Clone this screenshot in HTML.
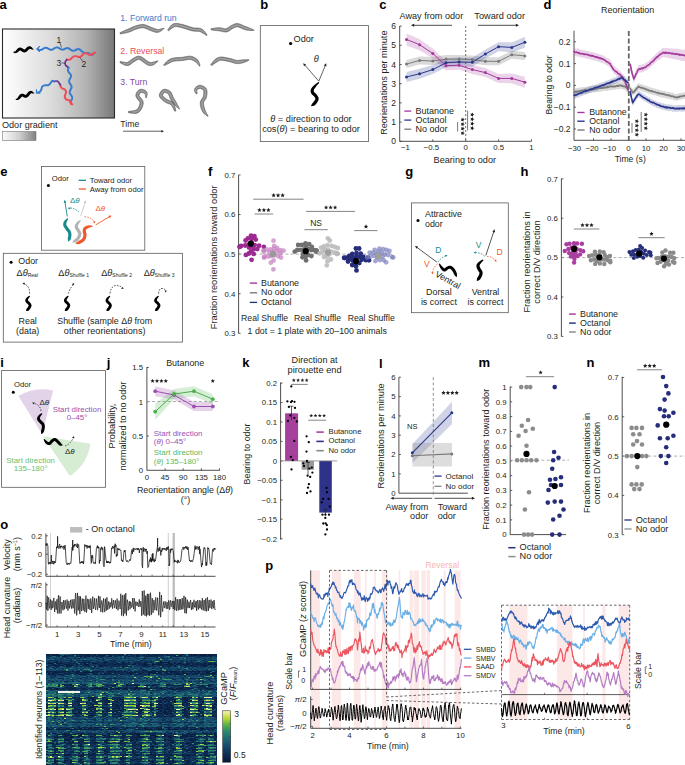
<!DOCTYPE html>
<html><head><meta charset="utf-8"><style>
html,body{margin:0;padding:0;background:#fff;width:685px;height:765px;overflow:hidden}
svg{display:block;font-family:"Liberation Sans", sans-serif;position:absolute;left:0;top:0}
#hm{position:absolute;left:46.1px;top:654px;width:170.8px;height:111px;overflow:hidden}#hm i{position:absolute;left:0;width:172px;height:1px;display:block}
</style></head><body>
<svg width="685" height="765" viewBox="0 0 685 765" fill="#231f20">
<defs><linearGradient id="gA" x1="0" x2="1" y1="0" y2="0"><stop offset="0" stop-color="#ffffff"/><stop offset="0.45" stop-color="#dadada"/><stop offset="0.75" stop-color="#b2b2b2"/><stop offset="1" stop-color="#787878"/></linearGradient><linearGradient id="gA2" x1="0" x2="1" y1="0" y2="0"><stop offset="0" stop-color="#fafafa"/><stop offset="0.5" stop-color="#d0d0d0"/><stop offset="1" stop-color="#808080"/></linearGradient><linearGradient id="gCB" x1="0" x2="0" y1="1" y2="0"><stop offset="0.0" stop-color="#081a3a"/><stop offset="0.15" stop-color="#0e2c54"/><stop offset="0.3" stop-color="#16486a"/><stop offset="0.45" stop-color="#1e6676"/><stop offset="0.6" stop-color="#2d8a6e"/><stop offset="0.72" stop-color="#56b04c"/><stop offset="0.85" stop-color="#b5d836"/><stop offset="1.0" stop-color="#f6f2b2"/></linearGradient></defs>
<text x="-0.5" y="9.2" font-size="13" fill="#000" font-weight="bold">a</text>
<rect x="2.5" y="29.0" width="112.0" height="89.0" fill="url(#gA)" stroke="#2a2a2a" stroke-width="1.1"/>
<text x="2.0" y="128.0" font-size="9.09">Odor gradient</text>
<rect x="2.5" y="131.5" width="33.5" height="9.0" fill="url(#gA2)" stroke="#777" stroke-width="0.6"/>
<path d="M37.5,49.0 C37.7,49.1 38.1,49.4 38.5,49.6 C38.8,49.7 39.1,49.9 39.4,49.9 C39.7,50.0 40.1,50.1 40.4,50.0 C40.7,50.0 41.0,49.9 41.3,49.8 C41.7,49.7 42.0,49.5 42.3,49.4 C42.6,49.2 42.9,48.9 43.2,48.7 C43.5,48.6 43.9,48.3 44.2,48.2 C44.5,48.0 44.8,47.9 45.1,47.8 C45.4,47.8 45.8,47.7 46.1,47.8 C46.4,47.8 46.7,47.9 47.0,48.0 C47.3,48.1 47.7,48.3 48.0,48.5 C48.3,48.7 48.6,48.9 49.0,49.0 C49.3,49.2 49.6,49.4 49.9,49.5 C50.3,49.6 50.6,49.7 50.9,49.8 C51.2,49.8 51.5,49.8 51.9,49.7 C52.2,49.6 52.5,49.5 52.8,49.3 C53.1,49.2 53.4,48.9 53.7,48.7 C54.0,48.5 54.3,48.3 54.7,48.1 C55.0,47.9 55.3,47.7 55.6,47.6 C55.9,47.5 56.2,47.4 56.5,47.4 C56.9,47.3 57.2,47.4 57.5,47.4 C57.8,47.5 58.1,47.6 58.5,47.8 C58.8,47.9 59.1,48.1 59.4,48.3 C59.8,48.5 60.0,48.7 60.3,48.8 C60.6,49.0 60.9,49.2 61.2,49.4 C61.5,49.5 61.9,49.6 62.2,49.6 C62.5,49.7 62.8,49.6 63.2,49.6 C63.5,49.5 63.8,49.4 64.2,49.2 C64.5,49.1 64.9,48.9 65.2,48.7 C65.6,48.6 65.9,48.4 66.2,48.3 C66.6,48.2 66.9,48.1 67.2,48.1 C67.6,48.1 67.9,48.1 68.2,48.2 C68.5,48.3 68.8,48.4 69.1,48.6 C69.4,48.8 69.7,49.0 70.0,49.2 C70.3,49.5 70.7,49.7 71.0,49.9 C71.3,50.1 71.6,50.3 71.9,50.5 C72.3,50.6 72.6,50.7 72.9,50.8 C73.3,50.8 73.6,50.8 73.9,50.7 C74.3,50.7 74.6,50.5 75.0,50.4 C75.3,50.2 75.7,50.0 76.0,49.8 C76.3,49.6 76.7,49.4 77.0,49.3 C77.4,49.2 77.9,49.0 78.2,49.0 C78.6,49.0 78.9,49.1 79.3,49.2 C79.6,49.3 79.9,49.5 80.2,49.8 C80.5,50.0 80.8,50.3 81.0,50.6 C81.3,50.8 81.6,51.2 81.9,51.4 C82.2,51.7 82.5,52.0 82.8,52.1 C83.0,52.3 83.2,52.3 83.4,52.4 C83.7,52.5 84.0,52.7 84.3,52.8 C84.6,52.9 85.0,52.9 85.3,52.9 C85.7,52.9 86.1,52.9 86.4,52.9 C86.8,52.9 87.2,52.9 87.5,52.9 C87.9,52.9 88.2,53.0 88.5,53.1 C88.8,53.2 89.2,53.3 89.4,53.5 C89.5,53.6 89.3,53.9 89.5,54.0 C89.7,54.2 90.3,54.3 90.7,54.4 C91.1,54.6 91.5,55.0 91.9,55.0 C92.3,55.0 92.8,54.6 93.0,54.5" fill="none" stroke="#3a7ccc" stroke-width="2.0" stroke-linecap="round" stroke-linejoin="round"/>
<path d="M66.8,59.6 C67.0,59.6 67.7,59.8 68.1,59.8 C68.5,59.8 68.9,59.9 69.3,59.8 C69.6,59.7 70.0,59.6 70.3,59.4 C70.6,59.2 70.8,58.8 71.1,58.6 C71.4,58.3 71.7,58.1 72.0,57.8 C72.3,57.5 72.6,57.2 72.9,57.0 C73.2,56.8 73.5,56.5 73.8,56.4 C74.1,56.3 74.4,56.2 74.7,56.2 C75.0,56.1 75.4,56.1 75.8,56.2 C76.2,56.2 76.5,56.3 76.9,56.4 C77.3,56.5 77.7,56.6 78.1,56.7 C78.5,56.8 78.9,56.9 79.3,56.9 C79.7,56.9 80.0,56.8 80.4,56.7 C80.7,56.6 81.0,56.4 81.3,56.1 C81.6,55.9 81.9,55.6 82.2,55.3 C82.4,55.0 82.7,54.6 83.0,54.3 C83.3,54.0 83.7,53.6 84.1,53.4 C84.4,53.2 84.7,53.2 85.0,53.2 C85.4,53.1 85.7,53.2 86.0,53.2 C86.3,53.3 86.7,53.4 87.0,53.6 C87.4,53.8 87.7,54.0 88.0,54.1 C88.4,54.3 88.7,54.5 89.0,54.7 C89.4,54.8 89.9,55.0 90.2,55.0 C90.6,55.0 90.9,54.9 91.3,54.8 C91.6,54.7 91.9,54.5 92.2,54.3 C92.5,54.1 92.8,53.8 93.1,53.5 C93.4,53.2 93.6,52.7 94.0,52.6 C94.3,52.5 94.9,52.8 95.1,52.8" fill="none" stroke="#ee4d5a" stroke-width="2.0" stroke-linecap="round" stroke-linejoin="round"/>
<path d="M66.8,59.6 C66.5,60.0 65.4,61.1 65.2,62.0 C65.0,62.9 64.9,64.0 65.5,65.0 C66.1,66.0 68.1,67.2 68.6,67.7" fill="none" stroke="#6a2c91" stroke-width="1.6" stroke-linecap="round" stroke-linejoin="round"/>
<path d="M68.6,67.7 C68.5,67.9 68.3,68.4 68.2,68.7 C68.1,69.0 68.0,69.4 68.0,69.7 C67.9,70.0 67.9,70.3 68.0,70.6 C68.0,71.0 68.2,71.3 68.3,71.5 C68.5,71.8 68.7,72.1 68.9,72.4 C69.1,72.7 69.4,72.9 69.6,73.2 C69.8,73.5 70.1,73.8 70.3,74.1 C70.5,74.3 70.7,74.6 70.8,74.9 C71.0,75.2 71.1,75.6 71.1,76.0 C71.1,76.3 71.0,76.6 70.9,77.0 C70.8,77.3 70.6,77.6 70.4,78.0 C70.3,78.3 70.0,78.7 69.9,79.0 C69.7,79.4 69.5,79.7 69.4,80.0 C69.2,80.4 69.1,80.7 69.1,81.0 C69.1,81.4 69.1,81.7 69.2,82.0 C69.3,82.4 69.5,82.7 69.6,83.0 C69.8,83.4 70.1,83.7 70.3,84.0 C70.5,84.3 70.7,84.7 70.9,85.0 C71.1,85.3 71.3,85.6 71.4,85.9 C71.5,86.3 71.6,86.6 71.6,86.9 C71.6,87.3 71.5,87.6 71.4,87.9 C71.3,88.3 71.1,88.6 70.9,89.0 C70.8,89.3 70.6,89.7 70.4,90.0 C70.2,90.4 70.0,90.7 69.9,91.1 C69.8,91.4 69.7,91.7 69.7,92.1 C69.7,92.4 69.8,92.7 69.9,93.1 C70.0,93.4 70.1,93.7 70.3,94.0 C70.5,94.4 70.8,94.7 71.0,95.0 C71.2,95.3 71.4,95.6 71.6,95.9 C71.7,96.2 71.9,96.5 72.0,96.8 C72.1,97.1 72.2,97.4 72.2,97.7 C72.2,98.0 72.2,98.3 72.1,98.7 C72.0,99.0 71.9,99.3 71.7,99.6 C71.6,99.9 71.4,100.2 71.2,100.5 C71.0,100.8 70.8,101.2 70.7,101.5 C70.5,101.8 70.2,102.1 70.3,102.4 C70.4,102.7 71.1,103.2 71.3,103.3" fill="none" stroke="#3a7ccc" stroke-width="2.0" stroke-linecap="round" stroke-linejoin="round"/>
<path d="M60.4,85.0 C60.4,85.2 60.5,85.8 60.6,86.2 C60.7,86.5 60.8,86.9 61.0,87.2 C61.2,87.5 61.4,87.8 61.6,88.0 C61.9,88.2 62.2,88.4 62.5,88.6 C62.9,88.8 63.3,88.8 63.6,89.0 C64.0,89.1 64.6,89.3 64.9,89.5 C65.2,89.8 65.4,90.2 65.6,90.5 C65.8,90.8 65.9,91.2 66.0,91.6 C66.0,91.9 66.0,92.3 65.9,92.7 C65.9,93.1 65.7,93.5 65.6,93.9 C65.4,94.3 65.2,94.7 65.1,95.1 C65.0,95.5 64.9,95.8 64.9,96.1 C64.8,96.4 64.8,96.7 64.8,97.0 C64.9,97.3 65.0,97.6 65.1,97.9 C65.2,98.2 65.4,98.5 65.6,98.7 C65.9,99.0 66.1,99.4 66.4,99.6 C66.7,99.8 67.1,99.7 67.5,99.8 C67.9,99.8 68.2,99.9 68.5,100.0 C68.8,100.1 69.1,100.3 69.4,100.5 C69.6,100.6 69.8,100.9 70.0,101.1 C70.2,101.4 70.4,101.7 70.5,102.0 C70.7,102.3 70.8,102.7 70.9,103.1 C71.0,103.4 71.0,103.9 71.2,104.1 C71.5,104.3 72.1,104.3 72.3,104.3" fill="none" stroke="#ee4d5a" stroke-width="2.0" stroke-linecap="round" stroke-linejoin="round"/>
<path d="M54.0,81.4 C54.6,81.4 56.5,80.6 57.6,81.2 C58.7,81.8 59.9,84.4 60.4,85.0" fill="none" stroke="#6a2c91" stroke-width="1.6" stroke-linecap="round" stroke-linejoin="round"/>
<path d="M37.5,92.5 C37.7,92.5 38.3,92.4 38.6,92.3 C39.0,92.2 39.3,92.0 39.6,91.9 C39.9,91.7 40.2,91.5 40.4,91.3 C40.6,91.1 40.8,90.8 40.9,90.5 C41.1,90.2 41.2,89.8 41.3,89.4 C41.4,89.1 41.5,88.7 41.6,88.3 C41.7,88.0 41.8,87.6 42.0,87.3 C42.1,87.0 42.2,86.7 42.5,86.4 C42.7,86.1 43.0,85.8 43.4,85.6 C43.7,85.4 44.0,85.4 44.3,85.4 C44.7,85.3 45.1,85.3 45.4,85.3 C45.8,85.3 46.2,85.4 46.6,85.3 C46.9,85.3 47.3,85.3 47.6,85.2 C47.9,85.2 48.2,85.1 48.4,85.0 C48.7,84.9 49.0,84.7 49.3,84.5 C49.5,84.3 49.7,84.1 50.0,83.8 C50.2,83.6 50.4,83.3 50.6,83.0 C50.8,82.7 51.0,82.3 51.2,82.1 C51.5,81.8 51.7,81.5 51.9,81.3 C52.2,81.1 52.4,80.7 52.7,80.8 C53.1,80.8 53.8,81.3 54.0,81.4" fill="none" stroke="#3a7ccc" stroke-width="2.0" stroke-linecap="round" stroke-linejoin="round"/>
<path d="M39.5,46.5 L37,49 L39.5,51.5" fill="none" stroke="#3a7ccc" stroke-width="1.1" stroke-linecap="round" stroke-linejoin="round"/>
<path d="M36.5,89.5 L36.3,93 L40,93.3" fill="none" stroke="#3a7ccc" stroke-width="1.1" stroke-linecap="round" stroke-linejoin="round"/>
<text x="56.5" y="42.5" font-size="8.5">1</text>
<line x1="60.0" y1="43.0" x2="61.5" y2="47.5" stroke="#231f20" stroke-width="0.6"/>
<text x="81.5" y="66.5" font-size="8.5">2</text>
<line x1="80.0" y1="57.5" x2="82.5" y2="61.0" stroke="#231f20" stroke-width="0.6"/>
<text x="56.6" y="65.5" font-size="8.5">3</text>
<line x1="61.5" y1="62.8" x2="65.0" y2="63.3" stroke="#231f20" stroke-width="0.6"/>
<polygon points="13.3,52.4 13.3,52.4 13.3,52.4 13.4,52.5 13.5,52.5 13.5,52.6 13.6,52.6 13.7,52.7 13.8,52.8 13.9,52.8 13.9,52.9 14.0,52.9 14.2,53.0 14.2,53.0 14.3,53.0 14.4,53.1 14.5,53.1 14.6,53.1 14.7,53.2 14.8,53.2 14.9,53.2 15.0,53.2 15.1,53.2 15.2,53.2 15.3,53.2 15.4,53.2 15.5,53.2 15.6,53.2 15.7,53.2 15.8,53.1 15.9,53.1 16.0,53.1 16.1,53.0 16.2,53.0 16.3,53.0 16.4,52.9 16.5,52.9 16.6,52.9 16.7,52.8 16.8,52.8 16.9,52.7 17.0,52.6 17.1,52.6 17.2,52.5 17.3,52.5 17.4,52.4 17.5,52.4 17.6,52.3 17.6,52.3 17.7,52.2 17.8,52.1 17.9,52.1 18.0,52.0 18.1,51.9 18.2,51.9 18.2,51.8 18.3,51.7 18.4,51.7 18.5,51.6 18.5,51.6 18.6,51.5 18.7,51.4 18.8,51.4 18.8,51.3 18.9,51.2 19.0,51.2 19.1,51.1 19.1,51.1 19.2,51.0 19.2,51.0 19.3,50.9 19.3,50.9 19.4,50.9 19.5,50.8 19.5,50.8 19.6,50.7 19.6,50.7 19.7,50.7 19.7,50.6 19.8,50.6 19.8,50.6 19.8,50.6 19.9,50.6 19.9,50.5 19.9,50.5 19.9,50.5 20.0,50.5 20.0,50.5 20.0,50.5 20.1,50.5 20.1,50.5 20.1,50.5 20.1,50.5 20.1,50.5 20.1,50.5 20.2,50.5 20.2,50.5 20.2,50.5 20.2,50.5 20.2,50.5 20.2,50.5 20.2,50.5 20.2,50.5 20.3,50.5 20.3,50.5 20.3,50.5 20.4,50.5 20.4,50.5 20.5,50.6 20.5,50.6 20.5,50.6 20.5,50.6 20.6,50.6 20.6,50.6 20.7,50.7 20.7,50.7 20.8,50.7 20.9,50.8 20.9,50.8 21.0,50.9 21.1,50.9 21.1,50.9 21.2,51.0 21.2,51.0 21.3,51.1 21.3,51.1 21.4,51.1 21.5,51.2 21.5,51.3 21.6,51.3 21.7,51.4 21.8,51.4 21.9,51.5 22.0,51.5 22.0,51.6 22.1,51.6 22.2,51.7 22.3,51.7 22.3,51.8 22.4,51.8 22.5,51.9 22.6,51.9 22.7,52.0 22.8,52.0 22.9,52.1 23.0,52.1 23.1,52.2 23.2,52.2 23.3,52.2 23.4,52.3 23.6,52.3 23.7,52.3 23.8,52.3 23.9,52.4 24.0,52.4 24.2,52.4 24.3,52.4 24.4,52.4 24.6,52.4 24.7,52.4 24.8,52.4 24.9,52.3 25.0,52.3 25.2,52.3 25.3,52.3 25.4,52.2 25.5,52.2 25.6,52.2 25.7,52.1 25.9,52.1 26.0,52.0 26.1,51.9 26.2,51.9 26.3,51.8 26.4,51.8 26.5,51.7 26.6,51.6 26.7,51.6 26.7,51.5 26.8,51.4 26.9,51.4 27.0,51.3 27.1,51.2 27.2,51.1 27.3,51.1 27.3,51.0 27.4,50.9 27.5,50.8 27.6,50.8 27.6,50.7 27.7,50.6 27.8,50.6 27.8,50.5 27.9,50.4 28.0,50.4 28.1,50.3 28.1,50.2 28.2,50.1 28.3,50.1 28.3,50.0 28.4,49.9 28.5,49.9 28.5,49.8 28.6,49.8 28.6,49.7 28.7,49.7 28.8,49.6 28.8,49.5 28.9,49.5 28.9,49.4 29.0,49.4 29.1,49.4 29.1,49.3 29.1,49.3 29.2,49.3 29.2,49.2 29.3,49.2 29.3,49.2 29.3,49.2 29.4,49.1 29.4,49.1 29.4,49.1 29.5,49.1 29.5,49.1 29.5,49.0 29.6,49.0 29.6,49.0 29.6,49.0 29.6,49.0 29.6,49.0 29.6,49.0 29.6,49.0 29.6,49.0 29.7,48.9 29.7,48.9 29.7,48.9 29.7,48.9 29.8,48.9 29.8,48.9 29.8,48.9 29.9,48.9 29.9,48.9 29.9,48.9 29.9,48.9 30.0,48.9 30.0,48.9 30.1,48.9 30.1,48.9 30.2,48.9 30.3,48.9 30.3,48.9 30.4,49.0 30.5,49.0 30.5,49.0 30.6,49.0 30.6,49.0 30.7,49.0 30.8,49.1 30.9,49.1 30.9,49.1 31.0,49.1 31.1,49.2 31.2,49.2 31.3,49.2 31.4,49.3 31.5,49.3 31.5,49.3 31.6,49.3 31.7,49.4 31.8,49.4 31.9,49.4 32.0,49.5 32.1,49.5 32.1,49.5 32.2,49.5 32.3,49.6 32.4,49.6 32.5,49.6 32.6,49.6 32.7,49.6 32.8,49.6 32.9,49.7 33.0,49.7 33.1,49.7 33.2,49.7 33.3,49.7 33.3,49.7 33.4,49.7 33.4,49.7 33.6,49.3 33.5,49.2 33.5,49.2 33.4,49.2 33.4,49.1 33.3,49.1 33.3,49.0 33.2,49.0 33.1,48.9 33.1,48.8 33.0,48.8 33.0,48.7 32.9,48.7 32.9,48.6 32.8,48.6 32.8,48.5 32.7,48.5 32.7,48.4 32.6,48.3 32.6,48.3 32.5,48.2 32.5,48.1 32.4,48.0 32.4,48.0 32.3,47.9 32.2,47.8 32.2,47.8 32.1,47.7 32.1,47.6 32.0,47.6 32.0,47.5 31.9,47.4 31.8,47.4 31.8,47.3 31.7,47.2 31.6,47.2 31.5,47.1 31.5,47.0 31.4,47.0 31.3,46.9 31.2,46.8 31.2,46.8 31.1,46.7 31.0,46.7 30.9,46.6 30.8,46.6 30.7,46.5 30.6,46.5 30.5,46.4 30.4,46.4 30.3,46.4 30.2,46.3 30.0,46.3 29.9,46.3 29.8,46.3 29.7,46.2 29.6,46.2 29.5,46.2 29.3,46.2 29.2,46.2 29.1,46.3 28.9,46.3 28.8,46.3 28.7,46.3 28.6,46.4 28.5,46.4 28.4,46.4 28.2,46.5 28.1,46.5 28.0,46.6 27.9,46.6 27.8,46.7 27.7,46.7 27.6,46.8 27.5,46.9 27.4,46.9 27.3,47.0 27.2,47.1 27.2,47.2 27.1,47.2 27.0,47.3 26.9,47.4 26.8,47.4 26.8,47.5 26.7,47.6 26.6,47.6 26.5,47.7 26.4,47.8 26.4,47.9 26.3,48.0 26.2,48.0 26.1,48.1 26.1,48.2 26.0,48.2 25.9,48.3 25.9,48.4 25.8,48.4 25.8,48.5 25.7,48.6 25.6,48.6 25.5,48.7 25.5,48.8 25.4,48.8 25.4,48.9 25.3,48.9 25.2,49.0 25.2,49.0 25.1,49.1 25.1,49.1 25.0,49.1 25.0,49.2 24.9,49.2 24.9,49.3 24.8,49.3 24.8,49.3 24.7,49.4 24.7,49.4 24.7,49.4 24.6,49.4 24.6,49.4 24.6,49.4 24.6,49.5 24.5,49.5 24.5,49.5 24.5,49.5 24.5,49.5 24.5,49.5 24.4,49.5 24.4,49.5 24.4,49.5 24.4,49.5 24.4,49.5 24.4,49.5 24.4,49.5 24.3,49.5 24.3,49.5 24.3,49.5 24.3,49.5 24.3,49.5 24.2,49.5 24.2,49.5 24.2,49.5 24.1,49.4 24.1,49.4 24.1,49.4 24.0,49.4 24.0,49.4 24.0,49.4 23.9,49.3 23.9,49.3 23.8,49.3 23.8,49.3 23.7,49.2 23.7,49.2 23.6,49.1 23.5,49.1 23.5,49.0 23.4,49.0 23.3,49.0 23.3,48.9 23.2,48.9 23.2,48.9 23.1,48.8 23.0,48.7 23.0,48.7 22.9,48.6 22.8,48.6 22.7,48.5 22.6,48.5 22.5,48.4 22.5,48.4 22.4,48.3 22.3,48.3 22.2,48.2 22.2,48.2 22.1,48.1 22.0,48.1 21.9,48.0 21.8,48.0 21.7,47.9 21.5,47.9 21.4,47.8 21.3,47.8 21.2,47.8 21.1,47.7 21.0,47.7 20.9,47.7 20.8,47.6 20.7,47.6 20.6,47.6 20.4,47.6 20.3,47.6 20.2,47.6 20.0,47.6 19.9,47.6 19.8,47.6 19.7,47.6 19.5,47.6 19.4,47.7 19.3,47.7 19.2,47.7 19.1,47.8 19.0,47.8 18.9,47.8 18.7,47.9 18.6,47.9 18.5,48.0 18.4,48.1 18.3,48.1 18.2,48.2 18.1,48.2 18.0,48.3 17.9,48.4 17.8,48.4 17.8,48.5 17.7,48.6 17.6,48.6 17.5,48.7 17.4,48.8 17.3,48.9 17.3,49.0 17.2,49.0 17.1,49.1 17.0,49.2 17.0,49.3 16.9,49.4 16.9,49.4 16.8,49.5 16.7,49.6 16.7,49.6 16.6,49.7 16.5,49.8 16.5,49.9 16.4,50.0 16.3,50.1 16.3,50.1 16.2,50.2 16.2,50.3 16.1,50.3 16.1,50.4 16.0,50.5 16.0,50.5 15.9,50.6 15.9,50.7 15.8,50.7 15.8,50.8 15.7,50.8 15.7,50.9 15.6,51.0 15.6,51.0 15.5,51.0 15.5,51.1 15.5,51.1 15.4,51.2 15.4,51.2 15.3,51.2 15.3,51.3 15.3,51.3 15.2,51.3 15.2,51.4 15.1,51.4 15.1,51.4 15.1,51.5 15.0,51.5 15.0,51.5 15.0,51.5 15.0,51.5 14.9,51.5 14.9,51.6 14.8,51.6 14.8,51.6 14.8,51.6 14.7,51.6 14.7,51.6 14.6,51.6 14.6,51.6 14.5,51.6 14.5,51.6 14.4,51.6 14.4,51.6 14.3,51.6 14.2,51.6 14.1,51.6 14.1,51.6 14.0,51.5 13.9,51.5 13.8,51.5 13.8,51.5 13.7,51.5" fill="#000"/>
<polygon points="15.6,99.6 15.7,99.6 15.7,99.6 15.7,99.7 15.8,99.7 15.9,99.8 15.9,99.8 16.0,99.8 16.1,99.9 16.2,99.9 16.3,100.0 16.4,100.0 16.5,100.0 16.6,100.1 16.7,100.1 16.8,100.1 16.9,100.1 16.9,100.1 17.0,100.1 17.1,100.1 17.2,100.1 17.3,100.1 17.4,100.1 17.5,100.1 17.6,100.1 17.7,100.0 17.8,100.0 17.9,100.0 18.0,100.0 18.1,99.9 18.2,99.9 18.3,99.8 18.4,99.8 18.5,99.7 18.6,99.7 18.7,99.6 18.8,99.6 18.9,99.5 19.0,99.5 19.0,99.4 19.1,99.3 19.2,99.3 19.3,99.2 19.4,99.1 19.5,99.1 19.6,99.0 19.6,98.9 19.7,98.9 19.8,98.8 19.9,98.7 20.0,98.6 20.0,98.6 20.1,98.5 20.2,98.4 20.3,98.3 20.4,98.3 20.4,98.2 20.5,98.1 20.6,98.0 20.6,98.0 20.7,97.9 20.8,97.8 20.9,97.8 20.9,97.7 21.0,97.6 21.1,97.5 21.1,97.5 21.2,97.4 21.3,97.3 21.3,97.3 21.4,97.2 21.4,97.2 21.5,97.1 21.5,97.1 21.6,97.0 21.6,97.0 21.7,96.9 21.7,96.9 21.8,96.8 21.8,96.8 21.9,96.8 21.9,96.7 21.9,96.7 22.0,96.7 22.0,96.7 22.0,96.6 22.1,96.6 22.1,96.6 22.1,96.6 22.1,96.6 22.1,96.6 22.2,96.6 22.2,96.6 22.2,96.6 22.2,96.6 22.2,96.6 22.2,96.6 22.2,96.6 22.2,96.6 22.2,96.6 22.2,96.6 22.2,96.6 22.2,96.6 22.2,96.6 22.3,96.6 22.3,96.6 22.3,96.6 22.4,96.6 22.4,96.6 22.4,96.6 22.4,96.6 22.4,96.6 22.4,96.6 22.5,96.6 22.5,96.6 22.6,96.7 22.6,96.7 22.7,96.7 22.7,96.7 22.8,96.8 22.8,96.8 22.9,96.8 22.9,96.8 23.0,96.9 23.0,96.9 23.1,96.9 23.1,97.0 23.2,97.0 23.3,97.1 23.4,97.1 23.4,97.1 23.5,97.2 23.6,97.2 23.7,97.3 23.7,97.3 23.8,97.3 23.9,97.4 24.0,97.4 24.0,97.5 24.1,97.5 24.2,97.5 24.3,97.6 24.4,97.6 24.6,97.7 24.7,97.7 24.8,97.7 24.9,97.7 25.0,97.8 25.1,97.8 25.2,97.8 25.3,97.8 25.4,97.8 25.5,97.8 25.7,97.8 25.8,97.8 25.9,97.8 26.0,97.8 26.2,97.8 26.3,97.7 26.4,97.7 26.5,97.7 26.6,97.6 26.8,97.6 26.9,97.5 27.0,97.5 27.1,97.4 27.2,97.4 27.3,97.3 27.4,97.3 27.5,97.2 27.6,97.1 27.7,97.1 27.8,97.0 27.9,96.9 27.9,96.8 28.0,96.8 28.1,96.7 28.2,96.6 28.3,96.5 28.3,96.5 28.4,96.4 28.5,96.3 28.6,96.2 28.6,96.1 28.7,96.0 28.8,95.9 28.9,95.9 28.9,95.8 29.0,95.7 29.1,95.6 29.1,95.5 29.2,95.5 29.3,95.4 29.3,95.3 29.4,95.2 29.5,95.1 29.5,95.0 29.6,95.0 29.7,94.9 29.7,94.8 29.8,94.7 29.8,94.6 29.9,94.6 29.9,94.5 30.0,94.5 30.1,94.4 30.1,94.3 30.2,94.2 30.2,94.2 30.3,94.1 30.3,94.1 30.4,94.0 30.4,94.0 30.5,93.9 30.5,93.9 30.6,93.8 30.6,93.8 30.6,93.8 30.7,93.7 30.7,93.7 30.8,93.7 30.8,93.6 30.8,93.6 30.8,93.6 30.9,93.5 30.9,93.5 30.9,93.5 30.9,93.5 30.9,93.5 30.9,93.5 30.9,93.4 31.0,93.4 31.0,93.4 31.0,93.4 31.0,93.4 31.0,93.4 31.0,93.4 31.0,93.4 31.1,93.3 31.1,93.3 31.1,93.3 31.1,93.3 31.1,93.3 31.2,93.3 31.2,93.3 31.2,93.3 31.3,93.3 31.3,93.3 31.3,93.3 31.4,93.3 31.5,93.3 31.5,93.3 31.6,93.3 31.6,93.3 31.7,93.3 31.7,93.3 31.8,93.3 31.9,93.3 31.9,93.3 32.0,93.3 32.1,93.4 32.1,93.4 32.2,93.4 32.3,93.4 32.4,93.4 32.5,93.5 32.5,93.5 32.6,93.5 32.7,93.5 32.8,93.5 32.8,93.5 32.9,93.6 33.0,93.6 33.1,93.6 33.2,93.6 33.3,93.6 33.3,93.6 33.4,93.6 33.5,93.6 33.6,93.6 33.7,93.6 33.8,93.6 33.9,93.6 34.0,93.6 34.0,93.6 34.1,93.6 34.2,93.6 34.2,93.6 34.2,93.6 34.4,93.2 34.3,93.1 34.3,93.1 34.2,93.1 34.2,93.0 34.1,93.0 34.0,93.0 34.0,92.9 33.9,92.9 33.9,92.8 33.8,92.8 33.7,92.8 33.7,92.7 33.7,92.7 33.6,92.6 33.6,92.6 33.5,92.5 33.5,92.5 33.5,92.4 33.4,92.4 33.4,92.3 33.3,92.3 33.2,92.2 33.2,92.1 33.1,92.1 33.1,92.0 33.0,92.0 33.0,91.9 32.9,91.9 32.9,91.8 32.8,91.8 32.8,91.7 32.7,91.6 32.6,91.6 32.6,91.5 32.5,91.5 32.4,91.4 32.3,91.4 32.3,91.3 32.2,91.3 32.1,91.2 32.0,91.2 31.9,91.1 31.9,91.1 31.8,91.0 31.7,91.0 31.6,91.0 31.4,90.9 31.3,90.9 31.2,90.9 31.1,90.9 31.0,90.9 30.9,90.8 30.8,90.8 30.7,90.8 30.6,90.8 30.4,90.9 30.3,90.9 30.2,90.9 30.1,90.9 30.0,91.0 29.8,91.0 29.7,91.0 29.6,91.1 29.5,91.1 29.4,91.2 29.3,91.2 29.2,91.3 29.1,91.4 29.0,91.4 28.9,91.5 28.8,91.5 28.8,91.6 28.7,91.7 28.6,91.8 28.5,91.8 28.4,91.9 28.3,92.0 28.2,92.1 28.2,92.2 28.1,92.2 28.0,92.3 27.9,92.4 27.9,92.5 27.8,92.6 27.7,92.6 27.7,92.7 27.6,92.8 27.5,92.9 27.4,93.0 27.4,93.1 27.3,93.2 27.2,93.3 27.2,93.3 27.1,93.4 27.1,93.5 27.0,93.5 26.9,93.6 26.9,93.7 26.8,93.8 26.7,93.9 26.7,93.9 26.6,94.0 26.6,94.1 26.5,94.2 26.5,94.2 26.4,94.3 26.4,94.3 26.3,94.4 26.3,94.4 26.2,94.5 26.2,94.5 26.1,94.6 26.1,94.6 26.0,94.7 26.0,94.7 25.9,94.7 25.9,94.8 25.9,94.8 25.8,94.8 25.8,94.8 25.8,94.8 25.8,94.9 25.7,94.9 25.7,94.9 25.7,94.9 25.7,94.9 25.6,94.9 25.6,94.9 25.6,94.9 25.6,94.9 25.6,94.9 25.6,94.9 25.6,94.9 25.6,94.9 25.6,94.9 25.6,94.9 25.6,94.9 25.6,94.9 25.6,94.9 25.5,94.9 25.5,94.9 25.5,94.9 25.5,94.9 25.4,94.9 25.4,94.9 25.4,94.9 25.4,94.9 25.4,94.9 25.3,94.9 25.3,94.8 25.2,94.8 25.2,94.8 25.1,94.8 25.1,94.7 25.0,94.7 24.9,94.7 24.9,94.6 24.9,94.6 24.8,94.6 24.8,94.6 24.7,94.5 24.6,94.5 24.6,94.5 24.5,94.4 24.4,94.4 24.3,94.3 24.3,94.3 24.2,94.2 24.1,94.2 24.0,94.2 24.0,94.1 23.9,94.1 23.8,94.0 23.7,94.0 23.6,94.0 23.5,93.9 23.4,93.9 23.3,93.8 23.2,93.8 23.1,93.8 23.0,93.7 22.9,93.7 22.8,93.7 22.7,93.7 22.6,93.7 22.5,93.7 22.4,93.7 22.2,93.7 22.1,93.7 22.0,93.7 21.8,93.7 21.7,93.7 21.6,93.7 21.5,93.7 21.4,93.8 21.2,93.8 21.1,93.9 21.0,93.9 20.9,94.0 20.8,94.0 20.7,94.1 20.6,94.1 20.5,94.2 20.4,94.2 20.3,94.3 20.2,94.4 20.1,94.5 20.0,94.5 19.9,94.6 19.8,94.7 19.8,94.8 19.7,94.8 19.6,94.9 19.5,95.0 19.5,95.1 19.4,95.1 19.3,95.2 19.2,95.3 19.2,95.4 19.1,95.5 19.0,95.6 19.0,95.7 18.9,95.8 18.8,95.9 18.8,95.9 18.7,96.0 18.7,96.1 18.6,96.2 18.5,96.3 18.5,96.4 18.4,96.5 18.4,96.6 18.3,96.7 18.3,96.7 18.2,96.8 18.2,96.9 18.1,97.0 18.1,97.1 18.0,97.1 18.0,97.2 17.9,97.3 17.9,97.4 17.8,97.4 17.8,97.5 17.7,97.6 17.7,97.7 17.6,97.7 17.6,97.8 17.6,97.9 17.5,97.9 17.5,98.0 17.5,98.0 17.4,98.1 17.4,98.1 17.3,98.2 17.3,98.2 17.3,98.2 17.2,98.3 17.2,98.3 17.2,98.4 17.1,98.4 17.1,98.4 17.1,98.5 17.0,98.5 17.0,98.5 17.0,98.5 17.0,98.5 16.9,98.6 16.9,98.6 16.9,98.6 16.8,98.6 16.8,98.6 16.8,98.6 16.7,98.7 16.7,98.7 16.6,98.7 16.6,98.7 16.6,98.7 16.5,98.7 16.5,98.7 16.4,98.7 16.3,98.7 16.3,98.7 16.2,98.7 16.1,98.7 16.1,98.7 16.0,98.7 16.0,98.6" fill="#000"/>
<text x="120.3" y="20.5" font-size="8.69" fill="#3a7ccc">1. Forward run</text>
<polygon points="120.3,33.9 120.8,33.9 121.4,33.8 122.1,33.6 122.9,33.5 123.7,33.3 124.7,33.2 125.6,33.0 126.5,32.8 127.4,32.5 128.3,32.3 129.1,32.0 129.9,31.8 130.5,31.5 131.2,31.3 131.8,31.0 132.4,30.7 132.9,30.5 133.4,30.2 133.9,30.0 134.4,29.8 134.9,29.6 135.4,29.4 135.9,29.2 136.5,29.0 137.1,28.9 137.7,28.7 138.3,28.5 138.9,28.3 139.5,28.2 140.0,28.0 140.6,27.9 141.2,27.8 141.8,27.8 142.3,27.7 142.9,27.7 143.4,27.8 143.9,27.9 144.5,28.0 145.1,28.2 145.8,28.5 146.5,28.7 147.1,29.0 147.8,29.3 148.5,29.7 149.2,30.0 149.9,30.3 150.6,30.6 151.3,30.8 151.8,31.0 152.4,31.2 152.9,31.4 153.4,31.6 153.9,31.8 154.5,32.0 155.0,32.1 155.6,32.3 156.2,32.3 156.8,32.4 157.4,32.4 158.0,32.3 158.7,32.1 159.3,31.9 160.0,31.6 160.6,31.2 161.2,30.9 161.7,30.5 162.2,30.1 162.7,29.7 163.1,29.3 163.5,29.0 163.8,28.7 164.1,28.5 163.9,28.1 163.6,28.2 163.2,28.3 162.7,28.4 162.1,28.6 161.6,28.8 161.0,28.9 160.3,29.1 159.7,29.3 159.2,29.4 158.6,29.5 158.2,29.5 157.8,29.5 157.4,29.5 157.0,29.4 156.7,29.3 156.3,29.2 155.9,29.1 155.5,28.9 155.0,28.8 154.6,28.6 154.0,28.4 153.5,28.2 152.9,28.0 152.3,27.8 151.8,27.6 151.2,27.3 150.5,27.1 149.9,26.8 149.2,26.4 148.4,26.1 147.7,25.8 146.9,25.5 146.2,25.2 145.4,24.9 144.6,24.7 143.8,24.6 143.0,24.6 142.3,24.5 141.5,24.6 140.8,24.7 140.1,24.8 139.4,24.9 138.7,25.1 138.0,25.2 137.4,25.4 136.8,25.6 136.1,25.8 135.5,26.0 134.9,26.2 134.3,26.4 133.7,26.6 133.2,26.8 132.6,27.1 132.1,27.3 131.5,27.6 131.0,27.8 130.5,28.1 129.9,28.3 129.3,28.6 128.7,28.8 128.1,29.1 127.3,29.4 126.5,29.7 125.6,30.1 124.8,30.5 123.9,30.9 123.1,31.3 122.3,31.7 121.5,32.0 120.9,32.4 120.4,32.6 119.9,32.9" fill="#8c8c8c" stroke="#4f4f4f" stroke-width="0.6" stroke-linejoin="round"/>
<polyline points="124.3,32.0 126.1,31.4 127.8,30.8 129.3,30.3 130.6,29.8 131.7,29.3 132.8,28.8 133.8,28.3 134.9,27.9 136.0,27.5 137.2,27.1 138.4,26.8 139.7,26.5 141.0,26.3 142.3,26.1 143.6,26.2 145.0,26.5 146.4,27.0 147.8,27.6 149.2,28.2 150.5,28.8 151.8,29.3 152.9,29.7 154.0,30.1 155.0,30.5 155.9,30.7 156.9,30.9 157.9,30.9 159.0,30.7 160.2,30.2 161.3,29.7" fill="none" stroke="#c4c4c4" stroke-width="0.45" stroke-linejoin="round" stroke-linecap="round"/>
<polygon points="168.5,30.7 168.8,30.5 169.3,30.2 169.8,29.8 170.3,29.4 170.9,29.0 171.5,28.5 172.1,28.1 172.7,27.7 173.3,27.3 173.9,27.0 174.3,26.8 174.8,26.7 175.2,26.6 175.6,26.6 176.1,26.6 176.6,26.6 177.2,26.7 177.8,26.8 178.4,26.9 179.1,27.0 179.8,27.2 180.5,27.4 181.3,27.6 182.0,27.8 182.8,27.9 183.6,28.2 184.4,28.4 185.3,28.7 186.1,29.0 187.0,29.3 188.0,29.6 188.9,29.9 189.8,30.2 190.6,30.4 191.5,30.7 192.4,30.9 193.2,31.0 194.0,31.1 194.8,31.2 195.6,31.2 196.3,31.3 197.0,31.3 197.6,31.3 198.2,31.3 198.7,31.4 199.2,31.5 199.7,31.6 200.2,31.7 200.7,31.9 201.2,32.2 201.8,32.5 202.4,32.9 203.1,33.2 203.7,33.6 204.4,34.0 205.0,34.4 205.5,34.8 206.0,35.1 206.5,35.4 206.8,35.6 207.2,35.2 206.9,34.9 206.7,34.5 206.3,34.0 206.0,33.4 205.5,32.8 205.1,32.2 204.6,31.5 204.0,30.9 203.4,30.3 202.8,29.8 202.1,29.3 201.4,28.9 200.7,28.6 199.9,28.4 199.2,28.2 198.5,28.1 197.8,28.1 197.1,28.1 196.4,28.1 195.7,28.0 195.0,28.0 194.4,27.9 193.7,27.9 193.0,27.7 192.3,27.6 191.5,27.3 190.7,27.1 189.8,26.8 189.0,26.5 188.1,26.2 187.1,25.9 186.2,25.6 185.3,25.3 184.5,25.1 183.6,24.8 182.8,24.6 182.0,24.5 181.3,24.3 180.6,24.1 179.8,23.9 179.1,23.8 178.4,23.6 177.7,23.5 176.9,23.4 176.2,23.4 175.4,23.4 174.6,23.5 173.8,23.7 173.1,24.0 172.3,24.5 171.6,25.0 171.0,25.6 170.4,26.2 169.9,26.9 169.4,27.5 169.0,28.1 168.6,28.7 168.2,29.2 168.0,29.6 167.7,29.9" fill="#8c8c8c" stroke="#4f4f4f" stroke-width="0.6" stroke-linejoin="round"/>
<polyline points="170.7,27.7 171.9,26.6 173.1,25.8 174.3,25.2 175.5,25.0 176.8,25.0 178.1,25.2 179.5,25.5 180.9,25.8 182.4,26.2 184.0,26.6 185.8,27.2 187.6,27.8 189.3,28.3 191.1,28.9 192.7,29.3 194.2,29.5 195.6,29.6 197.0,29.7 198.3,29.7 199.6,29.9 200.8,30.3 202.0,31.0 203.2,31.9 204.4,32.9" fill="none" stroke="#c4c4c4" stroke-width="0.45" stroke-linejoin="round" stroke-linecap="round"/>
<polygon points="211.1,29.9 211.5,29.9 212.0,30.0 212.6,30.1 213.3,30.2 214.0,30.3 214.7,30.4 215.5,30.5 216.3,30.5 217.0,30.6 217.8,30.7 218.5,30.8 219.1,30.9 219.6,30.9 220.2,31.0 220.8,31.1 221.4,31.3 222.0,31.4 222.6,31.6 223.2,31.7 223.9,31.8 224.6,31.9 225.3,32.0 226.0,32.0 226.7,31.9 227.4,31.7 228.1,31.4 228.7,31.1 229.2,30.8 229.8,30.5 230.3,30.1 230.7,29.8 231.2,29.4 231.6,29.1 232.0,28.9 232.3,28.6 232.7,28.4 233.2,28.2 233.6,28.0 234.1,27.8 234.5,27.5 234.9,27.3 235.3,27.2 235.6,27.0 236.0,26.9 236.3,26.8 236.7,26.8 237.0,26.8 237.4,26.8 237.9,26.9 238.4,27.0 238.9,27.2 239.5,27.4 240.2,27.7 240.9,28.0 241.6,28.3 242.3,28.6 243.1,29.0 243.8,29.3 244.6,29.6 245.3,29.8 246.1,30.0 246.9,30.1 247.7,30.2 248.5,30.3 249.4,30.4 250.2,30.5 251.0,30.5 251.7,30.5 252.4,30.5 253.0,30.5 253.5,30.5 253.9,30.5 254.1,30.1 253.7,29.9 253.2,29.7 252.6,29.4 252.0,29.1 251.3,28.8 250.6,28.5 249.9,28.2 249.1,27.9 248.4,27.6 247.6,27.3 246.9,27.1 246.3,26.8 245.7,26.6 245.0,26.3 244.3,26.0 243.6,25.7 242.9,25.4 242.2,25.1 241.5,24.7 240.7,24.4 240.0,24.1 239.3,23.9 238.5,23.7 237.8,23.6 237.0,23.6 236.4,23.6 235.7,23.7 235.1,23.8 234.6,24.0 234.0,24.2 233.5,24.4 233.1,24.7 232.6,24.9 232.2,25.1 231.8,25.3 231.3,25.6 230.8,25.8 230.2,26.2 229.7,26.5 229.2,26.9 228.8,27.2 228.3,27.5 227.9,27.8 227.5,28.1 227.2,28.3 226.8,28.5 226.4,28.6 226.1,28.7 225.8,28.8 225.4,28.8 224.9,28.7 224.4,28.7 223.9,28.6 223.3,28.4 222.7,28.3 222.1,28.2 221.4,28.0 220.7,27.9 220.0,27.8 219.3,27.7 218.6,27.7 217.8,27.8 217.1,27.8 216.3,27.9 215.5,28.0 214.7,28.1 213.9,28.2 213.2,28.4 212.6,28.5 212.0,28.6 211.5,28.7 211.1,28.7" fill="#8c8c8c" stroke="#4f4f4f" stroke-width="0.6" stroke-linejoin="round"/>
<polyline points="214.7,29.2 216.3,29.2 217.8,29.2 219.2,29.3 220.5,29.5 221.7,29.7 223.0,30.0 224.2,30.2 225.3,30.4 226.4,30.3 227.4,30.0 228.4,29.5 229.3,28.8 230.2,28.1 231.1,27.5 232.0,27.0 232.9,26.6 233.8,26.1 234.6,25.7 235.5,25.4 236.5,25.2 237.6,25.2 238.8,25.4 240.1,25.9 241.5,26.5 243.0,27.2 244.4,27.8 245.8,28.3 247.3,28.7 248.8,29.1 250.4,29.5" fill="none" stroke="#c4c4c4" stroke-width="0.45" stroke-linejoin="round" stroke-linecap="round"/>
<text x="120.3" y="53.6" font-size="8.7" fill="#ee4d5a">2. Reversal</text>
<polygon points="119.9,62.5 120.2,62.7 120.6,62.9 121.1,63.2 121.7,63.6 122.3,63.9 123.0,64.3 123.7,64.6 124.4,64.9 125.1,65.2 125.9,65.4 126.7,65.5 127.5,65.5 128.2,65.4 128.9,65.2 129.6,64.9 130.2,64.5 130.7,64.2 131.2,63.8 131.7,63.4 132.1,63.0 132.5,62.7 132.9,62.4 133.3,62.1 133.8,61.9 134.3,61.6 134.9,61.3 135.4,60.9 135.9,60.6 136.3,60.3 136.8,60.0 137.2,59.8 137.6,59.6 138.0,59.5 138.3,59.4 138.7,59.4 139.1,59.5 139.6,59.6 140.2,59.9 141.0,60.4 141.8,60.9 142.6,61.6 143.5,62.2 144.5,62.9 145.4,63.6 146.4,64.3 147.3,64.8 148.4,65.3 149.4,65.6 150.5,65.6 151.5,65.5 152.5,65.2 153.3,64.8 154.2,64.4 154.9,63.8 155.6,63.3 156.2,62.8 156.8,62.3 157.3,61.8 157.7,61.5 158.0,61.2 157.8,60.8 157.4,60.9 156.8,61.0 156.2,61.2 155.5,61.5 154.7,61.7 154.0,61.9 153.2,62.1 152.4,62.3 151.7,62.4 151.1,62.5 150.5,62.5 150.0,62.4 149.5,62.3 148.8,62.0 148.0,61.6 147.2,61.0 146.4,60.4 145.5,59.7 144.6,59.0 143.6,58.3 142.7,57.7 141.8,57.1 140.8,56.7 139.9,56.3 138.9,56.2 138.1,56.2 137.2,56.4 136.5,56.6 135.8,56.9 135.2,57.2 134.6,57.6 134.1,57.9 133.6,58.3 133.1,58.6 132.7,58.8 132.2,59.1 131.7,59.4 131.1,59.8 130.6,60.2 130.1,60.6 129.6,60.9 129.2,61.3 128.8,61.6 128.4,61.9 128.0,62.1 127.7,62.3 127.4,62.4 127.1,62.5 126.8,62.5 126.3,62.5 125.7,62.5 125.1,62.4 124.4,62.3 123.7,62.1 123.0,62.0 122.4,61.9 121.7,61.7 121.2,61.6 120.7,61.5 120.3,61.5" fill="#8c8c8c" stroke="#4f4f4f" stroke-width="0.6" stroke-linejoin="round"/>
<polyline points="123.3,63.2 124.7,63.7 126.1,64.0 127.3,64.0 128.3,63.7 129.3,63.2 130.2,62.5 131.1,61.8 132.0,61.1 133.0,60.5 134.0,59.9 135.0,59.2 136.0,58.6 137.0,58.1 138.2,57.8 139.5,57.9 141.0,58.5 142.7,59.6 144.5,61.0 146.3,62.3 148.1,63.4 149.7,64.0 151.3,64.0 152.9,63.6 154.4,62.9" fill="none" stroke="#c4c4c4" stroke-width="0.45" stroke-linejoin="round" stroke-linecap="round"/>
<polygon points="164.3,65.6 164.8,65.4 165.3,65.1 165.9,64.8 166.6,64.4 167.4,64.1 168.2,63.7 169.0,63.2 169.8,62.8 170.6,62.4 171.3,62.1 172.1,61.8 172.7,61.5 173.4,61.3 174.1,61.2 174.9,61.0 175.7,60.9 176.5,60.8 177.4,60.8 178.3,60.7 179.1,60.7 180.0,60.7 180.9,60.6 181.7,60.6 182.6,60.5 183.4,60.4 184.2,60.3 184.9,60.1 185.7,60.0 186.4,59.8 187.0,59.7 187.7,59.6 188.3,59.5 188.9,59.5 189.4,59.4 189.9,59.4 190.4,59.5 190.8,59.6 191.3,59.7 191.8,59.8 192.3,60.0 192.7,60.2 193.2,60.5 193.7,60.7 194.1,61.0 194.5,61.3 195.0,61.5 195.4,61.8 195.7,62.0 196.1,62.3 196.4,62.6 196.8,62.9 197.2,63.3 197.5,63.7 197.9,64.1 198.2,64.6 198.6,65.0 198.9,65.3 199.1,65.7 199.4,66.0 199.6,66.2 200.0,66.0 199.9,65.7 199.9,65.3 199.8,64.9 199.7,64.4 199.5,63.9 199.4,63.4 199.2,62.8 199.0,62.2 198.7,61.6 198.4,61.0 198.1,60.5 197.7,60.0 197.2,59.5 196.8,59.1 196.3,58.7 195.8,58.3 195.3,58.0 194.7,57.7 194.1,57.4 193.5,57.1 192.9,56.8 192.2,56.6 191.5,56.4 190.8,56.3 190.1,56.2 189.4,56.2 188.6,56.3 187.9,56.3 187.2,56.4 186.5,56.6 185.8,56.7 185.1,56.8 184.3,57.0 183.6,57.1 182.9,57.2 182.2,57.3 181.5,57.4 180.7,57.4 179.9,57.5 179.0,57.5 178.1,57.6 177.2,57.6 176.3,57.7 175.4,57.7 174.4,57.9 173.5,58.0 172.6,58.2 171.7,58.5 170.8,58.8 169.9,59.3 169.1,59.8 168.2,60.3 167.5,61.0 166.7,61.6 166.1,62.2 165.5,62.8 164.9,63.4 164.4,63.9 164.0,64.3 163.7,64.6" fill="#8c8c8c" stroke="#4f4f4f" stroke-width="0.6" stroke-linejoin="round"/>
<polyline points="167.5,62.6 169.0,61.6 170.6,60.7 172.2,60.0 173.8,59.6 175.5,59.3 177.3,59.2 179.1,59.1 180.8,59.0 182.4,58.9 183.9,58.7 185.4,58.4 186.8,58.1 188.1,57.9 189.4,57.8 190.6,57.9 191.8,58.2 192.9,58.6 194.0,59.1 195.0,59.7 195.9,60.3 196.7,61.0 197.4,61.8 198.1,62.7 198.6,63.7" fill="none" stroke="#c4c4c4" stroke-width="0.45" stroke-linejoin="round" stroke-linecap="round"/>
<polygon points="211.5,65.5 211.9,65.3 212.5,64.9 213.1,64.5 213.8,64.0 214.6,63.5 215.4,62.9 216.2,62.4 217.0,61.9 217.7,61.4 218.4,61.0 219.1,60.6 219.6,60.4 220.2,60.3 220.9,60.2 221.6,60.2 222.4,60.3 223.2,60.4 224.1,60.5 224.9,60.7 225.8,60.9 226.7,61.1 227.5,61.2 228.4,61.4 229.2,61.6 229.9,61.7 230.5,61.9 231.1,62.1 231.7,62.3 232.3,62.5 233.0,62.7 233.6,62.9 234.3,63.1 235.1,63.3 235.9,63.5 236.7,63.6 237.6,63.6 238.6,63.6 239.6,63.5 240.7,63.3 241.8,63.1 242.9,62.8 244.0,62.4 245.1,62.0 246.1,61.6 247.0,61.2 247.8,60.8 248.4,60.5 248.9,60.2 248.9,59.8 248.3,59.7 247.5,59.7 246.6,59.7 245.6,59.7 244.6,59.8 243.5,59.8 242.4,59.9 241.3,60.0 240.2,60.2 239.2,60.3 238.4,60.4 237.6,60.4 236.9,60.4 236.3,60.3 235.7,60.2 235.2,60.1 234.6,59.9 234.0,59.7 233.4,59.5 232.8,59.2 232.1,59.0 231.4,58.8 230.6,58.6 229.8,58.4 229.0,58.3 228.2,58.1 227.4,57.9 226.5,57.7 225.6,57.5 224.6,57.4 223.7,57.2 222.7,57.1 221.7,57.0 220.7,57.1 219.7,57.2 218.8,57.4 217.8,57.7 216.8,58.2 216.0,58.8 215.1,59.4 214.3,60.2 213.6,60.9 213.0,61.7 212.4,62.5 211.9,63.2 211.4,63.8 211.1,64.3 210.7,64.7" fill="#8c8c8c" stroke="#4f4f4f" stroke-width="0.6" stroke-linejoin="round"/>
<polyline points="214.5,61.9 216.0,60.7 217.6,59.6 219.2,58.9 220.8,58.7 222.6,58.7 224.3,58.9 226.1,59.3 227.9,59.7 229.5,60.0 230.9,60.3 232.2,60.7 233.5,61.2 234.7,61.6 236.1,61.9 237.6,62.0 239.4,61.9 241.5,61.6 243.8,61.1" fill="none" stroke="#c4c4c4" stroke-width="0.45" stroke-linejoin="round" stroke-linecap="round"/>
<text x="120.3" y="84.8" font-size="8.7" fill="#7e4aa6">3. Turn</text>
<polygon points="128.3,112.7 128.8,112.7 129.4,112.8 130.1,112.9 130.9,113.1 131.7,113.2 132.7,113.3 133.6,113.4 134.6,113.4 135.6,113.4 136.6,113.2 137.5,112.9 138.4,112.4 139.1,111.9 139.8,111.2 140.3,110.5 140.9,109.7 141.4,108.9 141.8,108.1 142.2,107.2 142.5,106.3 142.8,105.5 143.0,104.6 143.2,103.7 143.2,102.9 143.1,101.9 142.8,101.0 142.4,100.2 141.9,99.4 141.4,98.7 140.9,98.1 140.4,97.5 139.9,96.9 139.5,96.4 139.3,96.0 139.1,95.7 139.1,95.5 139.1,95.3 139.1,95.0 139.2,94.7 139.3,94.4 139.5,94.0 139.7,93.7 140.0,93.4 140.2,93.1 140.5,92.9 140.7,92.7 140.9,92.6 141.0,92.5 141.1,92.5 141.3,92.5 141.6,92.5 142.0,92.5 142.3,92.6 142.8,92.7 143.2,92.8 143.6,93.0 144.0,93.1 144.3,93.3 144.5,93.4 144.7,93.5 144.8,93.5 145.0,93.7 145.1,94.0 145.2,94.4 145.4,94.9 145.5,95.3 145.5,95.8 145.6,96.3 145.7,96.8 145.7,97.2 145.8,97.5 145.9,97.8 146.3,97.8 146.4,97.5 146.5,97.2 146.6,96.8 146.7,96.4 146.9,95.9 147.0,95.4 147.1,94.8 147.2,94.3 147.2,93.7 147.1,93.1 147.0,92.5 146.7,91.9 146.3,91.4 145.9,91.0 145.4,90.7 144.9,90.3 144.3,90.0 143.8,89.8 143.2,89.6 142.5,89.4 141.9,89.3 141.3,89.3 140.6,89.3 140.0,89.5 139.4,89.8 138.9,90.1 138.4,90.5 137.9,90.9 137.5,91.4 137.1,91.9 136.7,92.4 136.4,93.0 136.2,93.7 136.0,94.4 135.9,95.1 135.9,95.9 136.1,96.7 136.5,97.5 136.9,98.2 137.4,98.9 137.9,99.5 138.4,100.1 138.8,100.7 139.3,101.2 139.6,101.8 139.8,102.2 140.0,102.6 140.0,102.9 140.0,103.4 139.9,104.0 139.7,104.6 139.5,105.3 139.3,106.0 138.9,106.7 138.6,107.4 138.2,108.0 137.8,108.6 137.4,109.1 137.0,109.5 136.6,109.8 136.2,110.0 135.7,110.2 135.1,110.4 134.3,110.6 133.5,110.7 132.6,110.9 131.7,111.0 130.9,111.1 130.1,111.2 129.4,111.3 128.7,111.4 128.3,111.5" fill="#8c8c8c" stroke="#4f4f4f" stroke-width="0.6" stroke-linejoin="round"/>
<polyline points="132.6,112.1 134.5,112.0 136.2,111.7 137.5,111.1 138.6,110.1 139.5,108.9 140.4,107.4 141.0,105.8 141.5,104.3 141.6,102.9 141.3,101.6 140.6,100.3 139.6,99.1 138.6,97.9 137.9,96.7 137.5,95.7 137.6,94.7 137.9,93.7 138.4,92.8 139.1,92.0 139.8,91.4 140.5,91.0 141.3,90.9 142.2,91.0 143.3,91.2 144.2,91.6 145.1,92.1 145.7,92.7 146.0,93.4 146.2,94.3 146.2,95.4" fill="none" stroke="#c4c4c4" stroke-width="0.45" stroke-linejoin="round" stroke-linecap="round"/>
<polygon points="175.8,110.9 175.7,110.5 175.6,110.1 175.5,109.5 175.4,108.8 175.3,108.1 175.1,107.3 174.9,106.6 174.7,105.8 174.4,105.0 174.1,104.3 173.7,103.6 173.3,102.9 172.8,102.4 172.2,101.9 171.6,101.5 171.0,101.2 170.4,100.9 169.8,100.7 169.3,100.5 168.7,100.3 168.2,100.1 167.8,99.9 167.4,99.7 167.0,99.5 166.6,99.2 166.1,98.8 165.5,98.4 165.0,98.0 164.5,97.6 164.1,97.2 163.6,96.8 163.2,96.4 162.9,96.0 162.7,95.7 162.6,95.5 162.6,95.4 162.6,95.3 162.6,95.1 162.6,94.8 162.8,94.5 163.0,94.2 163.2,93.8 163.4,93.5 163.7,93.2 164.0,92.9 164.2,92.7 164.4,92.6 164.6,92.5 164.6,92.5 164.8,92.5 165.1,92.5 165.4,92.5 165.7,92.6 166.1,92.7 166.5,92.8 166.8,93.0 167.2,93.2 167.5,93.4 167.8,93.6 168.1,93.8 168.3,94.1 168.5,94.3 168.7,94.7 168.9,95.1 169.1,95.5 169.3,96.1 169.5,96.6 169.7,97.2 169.9,97.8 170.2,98.4 170.5,99.0 170.8,99.6 171.1,100.1 171.5,100.7 171.8,101.2 172.2,101.8 172.6,102.3 173.0,102.8 173.4,103.3 173.8,103.8 174.2,104.3 174.6,104.7 175.0,105.1 175.4,105.5 175.8,105.9 176.1,106.3 176.5,106.7 176.9,107.0 177.3,107.4 177.6,107.7 177.9,108.0 178.3,108.3 178.6,108.6 178.8,108.8 179.0,109.0 179.2,109.1 179.6,108.9 179.5,108.6 179.3,108.4 179.2,108.1 179.0,107.7 178.8,107.4 178.6,107.0 178.4,106.5 178.2,106.1 177.9,105.6 177.7,105.2 177.4,104.7 177.2,104.3 177.0,103.8 176.7,103.3 176.4,102.8 176.1,102.2 175.8,101.7 175.5,101.1 175.2,100.6 174.8,100.0 174.5,99.5 174.2,99.0 173.9,98.5 173.6,98.0 173.3,97.6 173.1,97.1 172.9,96.6 172.7,96.0 172.5,95.5 172.3,94.9 172.0,94.3 171.8,93.7 171.5,93.2 171.2,92.6 170.8,92.0 170.3,91.6 169.8,91.1 169.3,90.8 168.8,90.4 168.3,90.1 167.7,89.9 167.1,89.7 166.5,89.5 165.9,89.4 165.3,89.3 164.7,89.3 164.1,89.3 163.4,89.5 162.9,89.8 162.3,90.1 161.8,90.5 161.4,91.0 160.9,91.5 160.5,92.0 160.2,92.6 159.9,93.2 159.6,93.8 159.4,94.5 159.4,95.3 159.4,96.0 159.7,96.8 160.0,97.4 160.4,98.0 160.9,98.5 161.4,99.0 161.9,99.5 162.5,100.0 163.0,100.5 163.6,100.9 164.1,101.3 164.7,101.7 165.2,102.1 165.8,102.5 166.4,102.8 167.0,103.1 167.6,103.3 168.2,103.5 168.7,103.7 169.2,103.9 169.7,104.1 170.1,104.3 170.5,104.4 170.8,104.6 171.1,104.9 171.4,105.2 171.7,105.6 172.1,106.2 172.4,106.7 172.8,107.4 173.1,108.1 173.5,108.7 173.8,109.4 174.1,109.9 174.3,110.5 174.6,110.9 174.8,111.3" fill="#8c8c8c" stroke="#4f4f4f" stroke-width="0.6" stroke-linejoin="round"/>
<polyline points="174.1,107.7 173.6,106.3 172.9,104.9 172.2,103.9 171.3,103.2 170.4,102.6 169.3,102.2 168.2,101.8 167.1,101.4 166.1,100.8 165.1,100.1 164.0,99.2 163.0,98.3 162.1,97.4 161.4,96.5 161.0,95.7 161.0,94.8 161.3,93.9 161.9,92.9 162.5,92.1 163.3,91.4 164.0,91.0 164.8,90.9 165.7,90.9 166.6,91.2 167.5,91.6 168.4,92.1 169.2,92.7 169.8,93.5 170.3,94.4 170.8,95.5 171.2,96.6 171.7,97.7 172.2,98.8 172.8,99.8 173.5,100.9 174.2,102.0 175.0,103.0 175.7,104.0 176.3,104.9 176.9,105.7 177.5,106.6 178.1,107.3" fill="none" stroke="#c4c4c4" stroke-width="0.45" stroke-linejoin="round" stroke-linecap="round"/>
<polygon points="197.2,93.5 197.2,93.3 197.1,93.0 197.0,92.7 197.0,92.3 196.9,91.9 196.8,91.5 196.7,91.1 196.7,90.8 196.7,90.5 196.7,90.2 196.8,90.1 196.8,90.1 196.9,90.0 197.1,89.8 197.3,89.6 197.6,89.4 197.9,89.2 198.2,89.0 198.5,88.9 198.9,88.7 199.2,88.6 199.4,88.5 199.6,88.5 199.8,88.5 200.0,88.5 200.4,88.6 200.7,88.6 201.1,88.8 201.5,88.9 201.9,89.1 202.3,89.3 202.6,89.5 202.9,89.7 203.2,89.9 203.4,90.2 203.5,90.3 203.6,90.6 203.7,90.9 203.7,91.3 203.8,91.8 203.8,92.3 203.8,92.9 203.8,93.5 203.7,94.1 203.6,94.7 203.6,95.3 203.5,95.8 203.3,96.3 203.2,96.7 203.1,97.1 202.9,97.5 202.6,97.9 202.3,98.3 202.0,98.8 201.6,99.4 201.3,99.9 200.9,100.5 200.6,101.2 200.4,102.0 200.3,102.8 200.3,103.5 200.3,104.3 200.4,105.1 200.5,105.9 200.7,106.7 200.9,107.5 201.1,108.3 201.4,109.0 201.7,109.8 202.0,110.4 202.3,111.1 202.6,111.7 203.0,112.3 203.5,112.9 203.9,113.4 204.4,113.9 204.9,114.3 205.5,114.7 206.0,115.1 206.4,115.4 206.9,115.7 207.2,116.0 207.6,116.2 207.8,116.4 208.2,116.0 208.0,115.8 207.8,115.4 207.6,115.0 207.3,114.6 207.0,114.1 206.7,113.6 206.4,113.1 206.1,112.6 205.8,112.0 205.6,111.5 205.4,111.0 205.2,110.5 205.0,109.9 204.8,109.3 204.6,108.7 204.4,108.0 204.2,107.3 204.0,106.7 203.8,106.0 203.7,105.3 203.6,104.7 203.5,104.1 203.5,103.5 203.5,103.0 203.5,102.7 203.7,102.3 203.8,101.9 204.0,101.5 204.3,101.1 204.6,100.6 204.9,100.1 205.3,99.6 205.6,99.1 206.0,98.5 206.2,97.8 206.5,97.1 206.6,96.4 206.7,95.8 206.8,95.1 206.9,94.4 207.0,93.7 207.0,93.0 207.0,92.3 207.0,91.6 206.9,90.9 206.8,90.2 206.6,89.5 206.3,88.9 205.9,88.3 205.5,87.7 205.0,87.3 204.4,86.9 203.9,86.5 203.3,86.2 202.7,85.9 202.1,85.7 201.5,85.5 200.9,85.4 200.4,85.3 199.8,85.3 199.2,85.4 198.6,85.5 198.0,85.7 197.5,86.0 197.0,86.3 196.5,86.6 196.1,87.0 195.7,87.4 195.4,87.8 195.1,88.2 194.8,88.6 194.6,89.1 194.4,89.7 194.5,90.3 194.5,90.8 194.7,91.3 194.9,91.7 195.1,92.1 195.3,92.5 195.6,92.9 195.8,93.2 195.9,93.5 196.1,93.7 196.2,93.9" fill="#8c8c8c" stroke="#4f4f4f" stroke-width="0.6" stroke-linejoin="round"/>
<polyline points="195.9,91.8 195.7,91.0 195.6,90.2 195.7,89.6 196.1,89.0 196.7,88.4 197.4,87.8 198.2,87.3 199.0,87.0 199.8,86.9 200.7,87.0 201.6,87.2 202.6,87.6 203.5,88.2 204.3,88.8 204.9,89.6 205.2,90.5 205.4,91.7 205.4,92.9 205.3,94.2 205.1,95.5 204.9,96.7 204.5,97.8 203.9,98.8 203.3,99.7 202.6,100.7 202.1,101.8 201.9,102.9 201.9,104.2 202.1,105.6 202.5,107.1 202.9,108.5 203.4,109.9 203.9,111.1 204.5,112.2 205.3,113.2 206.1,114.2" fill="none" stroke="#c4c4c4" stroke-width="0.45" stroke-linejoin="round" stroke-linecap="round"/>
<text x="120.3" y="127.0" font-size="8.7">Time</text>
<line x1="123.0" y1="131.2" x2="162.2" y2="131.2" stroke="#231f20" stroke-width="0.7"/>
<polygon points="164.0,131.2 161.3,132.5 161.3,129.9" fill="#231f20"/>
<text x="260.2" y="9.2" font-size="13" fill="#000" font-weight="bold">b</text>
<rect x="260.3" y="25.6" width="108.2" height="116.0" fill="none" stroke="#5a5a5a" stroke-width="0.8"/>
<circle cx="290.6" cy="43.5" r="1.6" fill="#000"/>
<text x="293.5" y="41.7" font-size="9.2">Odor</text>
<text x="313.8" y="62.0" font-size="9.2" font-style="italic">θ</text>
<line x1="318.8" y1="81.2" x2="304.5" y2="64.7" stroke="#231f20" stroke-width="0.7"/>
<polygon points="303.2,63.2 306.1,64.5 304.0,66.3" fill="#231f20"/>
<line x1="318.8" y1="81.2" x2="325.5" y2="65.0" stroke="#231f20" stroke-width="0.7"/>
<polygon points="326.2,63.2 326.4,66.4 323.8,65.3" fill="#231f20"/>
<polygon points="318.5,82.0 318.3,82.1 318.1,82.3 317.8,82.4 317.5,82.6 317.2,82.9 316.9,83.1 316.5,83.4 316.1,83.6 315.7,83.9 315.4,84.2 315.0,84.5 314.7,84.8 314.4,85.0 314.1,85.3 313.8,85.6 313.5,85.9 313.1,86.2 312.8,86.5 312.5,86.8 312.2,87.2 311.9,87.5 311.7,87.9 311.5,88.2 311.2,88.6 311.1,89.0 310.9,89.3 310.8,89.7 310.7,90.1 310.7,90.4 310.6,90.8 310.6,91.2 310.6,91.6 310.7,92.0 310.8,92.4 310.9,92.8 311.1,93.2 311.3,93.6 311.6,94.0 311.9,94.4 312.2,94.7 312.5,94.9 312.8,95.2 313.1,95.5 313.4,95.7 313.6,95.9 313.8,96.1 314.0,96.3 314.1,96.4 314.3,96.7 314.5,97.0 314.7,97.2 314.8,97.5 315.0,97.7 315.1,98.0 315.2,98.2 315.3,98.3 315.4,98.5 315.4,98.6 315.4,98.7 315.4,98.8 315.4,99.0 315.3,99.2 315.2,99.4 315.1,99.7 314.9,100.0 314.8,100.3 314.5,100.6 314.3,101.0 314.1,101.3 313.8,101.6 313.6,101.9 313.4,102.2 313.2,102.4 312.9,102.6 312.7,102.9 312.5,103.2 312.2,103.5 312.0,103.9 311.8,104.2 311.6,104.6 311.4,105.0 311.3,105.3 311.1,105.6 311.1,105.8 311.3,106.2 311.6,106.2 311.9,106.1 312.2,106.1 312.6,106.0 313.1,106.0 313.5,105.9 313.9,105.7 314.4,105.5 314.8,105.2 315.2,104.9 315.5,104.6 315.8,104.2 316.1,103.9 316.4,103.6 316.6,103.2 316.9,102.8 317.2,102.4 317.5,102.0 317.7,101.6 318.0,101.1 318.2,100.7 318.4,100.2 318.5,99.7 318.6,99.2 318.6,98.6 318.6,98.1 318.5,97.6 318.3,97.2 318.1,96.8 317.9,96.4 317.7,96.0 317.5,95.7 317.3,95.4 317.1,95.1 316.9,94.8 316.7,94.6 316.4,94.2 316.1,93.9 315.8,93.5 315.5,93.3 315.2,93.0 314.9,92.8 314.6,92.5 314.4,92.3 314.2,92.2 314.1,92.0 314.0,91.9 313.9,91.8 313.9,91.7 313.8,91.6 313.8,91.4 313.8,91.3 313.8,91.1 313.7,91.0 313.7,90.8 313.8,90.6 313.8,90.4 313.8,90.2 313.9,90.0 314.0,89.8 314.0,89.6 314.1,89.3 314.3,89.1 314.5,88.8 314.6,88.5 314.9,88.2 315.1,87.9 315.3,87.5 315.6,87.2 315.8,86.9 316.1,86.6 316.3,86.2 316.5,85.9 316.8,85.6 317.0,85.3 317.3,85.0 317.6,84.6 317.9,84.3 318.2,84.0 318.5,83.7 318.7,83.4 318.9,83.2 319.1,83.0 319.3,82.8" fill="#000"/>
<text x="311" y="121.8" font-size="9.2" text-anchor="middle"><tspan font-style="italic">θ</tspan> = direction to odor</text>
<text x="311" y="131.7" font-size="9.2" text-anchor="middle">cos(<tspan font-style="italic">θ</tspan>) = bearing to odor</text>
<text x="379.2" y="9.2" font-size="13" fill="#000" font-weight="bold">c</text>
<text x="399.5" y="18.5" font-size="9.15">Away from odor</text>
<text x="474.3" y="18.5" font-size="9.21">Toward odor</text>
<line x1="452.0" y1="25.3" x2="413.0" y2="25.3" stroke="#231f20" stroke-width="0.8"/>
<polygon points="411.0,25.3 414.1,23.8 414.1,26.8" fill="#231f20"/>
<line x1="478.0" y1="25.3" x2="517.0" y2="25.3" stroke="#231f20" stroke-width="0.8"/>
<polygon points="519.0,25.3 515.9,26.8 515.9,23.8" fill="#231f20"/>
<line x1="399.7" y1="26.0" x2="399.7" y2="141.3" stroke="#231f20" stroke-width="0.8"/>
<line x1="399.7" y1="141.3" x2="531.5" y2="141.3" stroke="#231f20" stroke-width="0.8"/>
<line x1="399.7" y1="26.1" x2="401.7" y2="26.1" stroke="#231f20" stroke-width="0.7"/>
<text x="396.0" y="29.1" font-size="8.5" text-anchor="end">6</text>
<line x1="399.7" y1="45.3" x2="401.7" y2="45.3" stroke="#231f20" stroke-width="0.7"/>
<text x="396.0" y="48.3" font-size="8.5" text-anchor="end">5</text>
<line x1="399.7" y1="64.5" x2="401.7" y2="64.5" stroke="#231f20" stroke-width="0.7"/>
<text x="396.0" y="67.5" font-size="8.5" text-anchor="end">4</text>
<line x1="399.7" y1="83.7" x2="401.7" y2="83.7" stroke="#231f20" stroke-width="0.7"/>
<text x="396.0" y="86.7" font-size="8.5" text-anchor="end">3</text>
<line x1="399.7" y1="102.9" x2="401.7" y2="102.9" stroke="#231f20" stroke-width="0.7"/>
<text x="396.0" y="105.9" font-size="8.5" text-anchor="end">2</text>
<line x1="399.7" y1="122.1" x2="401.7" y2="122.1" stroke="#231f20" stroke-width="0.7"/>
<text x="396.0" y="125.1" font-size="8.5" text-anchor="end">1</text>
<line x1="399.7" y1="141.3" x2="401.7" y2="141.3" stroke="#231f20" stroke-width="0.7"/>
<text x="396.0" y="144.3" font-size="8.5" text-anchor="end">0</text>
<text x="405.4" y="150.3" font-size="7.8" text-anchor="middle">−1</text>
<line x1="432.8" y1="141.3" x2="432.8" y2="139.3" stroke="#231f20" stroke-width="0.7"/>
<text x="431.3" y="150.3" font-size="7.8" text-anchor="middle">−0.5</text>
<line x1="465.7" y1="141.3" x2="465.7" y2="139.3" stroke="#231f20" stroke-width="0.7"/>
<text x="465.7" y="150.3" font-size="7.8" text-anchor="middle">0</text>
<line x1="498.6" y1="141.3" x2="498.6" y2="139.3" stroke="#231f20" stroke-width="0.7"/>
<text x="498.6" y="150.3" font-size="7.8" text-anchor="middle">0.5</text>
<line x1="531.5" y1="141.3" x2="531.5" y2="139.3" stroke="#231f20" stroke-width="0.7"/>
<text x="531.5" y="150.3" font-size="7.8" text-anchor="middle">1</text>
<text x="464.8" y="163.0" font-size="9.13" text-anchor="middle">Bearing to odor</text>
<text x="387.3" y="82.7" font-size="9.12" text-anchor="middle" transform="rotate(-90 387.3 82.7)">Reorientations per minute</text>
<polygon points="406.5,60.1 419.6,56.4 432.8,57.1 446.0,55.1 459.1,55.1 472.3,55.6 485.4,57.3 498.6,57.3 511.8,50.7 524.9,51.9 524.9,59.9 511.8,58.7 498.6,65.3 485.4,65.3 472.3,63.6 459.1,63.1 446.0,63.1 432.8,65.1 419.6,64.4 406.5,68.1" fill="#858585" fill-opacity="0.3"/>
<polygon points="406.5,33.4 419.6,39.2 432.8,48.5 446.0,61.2 459.1,60.8 472.3,65.1 485.4,68.1 498.6,73.9 511.8,73.4 524.9,76.7 524.9,87.7 511.8,83.4 498.6,82.9 485.4,77.1 472.3,74.1 459.1,69.8 446.0,70.2 432.8,58.5 419.6,50.2 406.5,45.4" fill="#a3399c" fill-opacity="0.22"/>
<polygon points="406.5,71.9 419.6,68.8 432.8,65.1 446.0,58.3 459.1,57.5 472.3,57.8 485.4,49.5 498.6,42.2 511.8,42.4 524.9,36.8 524.9,47.8 511.8,52.4 498.6,51.2 485.4,58.5 472.3,66.8 459.1,66.5 446.0,67.3 432.8,74.1 419.6,78.8 406.5,81.9" fill="#2b378c" fill-opacity="0.22"/>
<line x1="465.7" y1="26.0" x2="465.7" y2="141.3" stroke="#444" stroke-width="0.8" stroke-dasharray="2,2"/>
<polyline points="406.5,64.1 419.6,60.4 432.8,61.1 446.0,59.1 459.1,59.1 472.3,59.6 485.4,61.3 498.6,61.3 511.8,54.7 524.9,55.9" fill="none" stroke="#7a7a7a" stroke-width="1.0" stroke-linejoin="round" stroke-linecap="round"/>
<circle cx="406.5" cy="64.1" r="1.5" fill="#7a7a7a"/>
<circle cx="419.6" cy="60.4" r="1.5" fill="#7a7a7a"/>
<circle cx="432.8" cy="61.1" r="1.5" fill="#7a7a7a"/>
<circle cx="446.0" cy="59.1" r="1.5" fill="#7a7a7a"/>
<circle cx="459.1" cy="59.1" r="1.5" fill="#7a7a7a"/>
<circle cx="472.3" cy="59.6" r="1.5" fill="#7a7a7a"/>
<circle cx="485.4" cy="61.3" r="1.5" fill="#7a7a7a"/>
<circle cx="498.6" cy="61.3" r="1.5" fill="#7a7a7a"/>
<circle cx="511.8" cy="54.7" r="1.5" fill="#7a7a7a"/>
<circle cx="524.9" cy="55.9" r="1.5" fill="#7a7a7a"/>
<polyline points="406.5,39.4 419.6,44.7 432.8,53.5 446.0,65.7 459.1,65.3 472.3,69.6 485.4,72.6 498.6,78.4 511.8,78.4 524.9,82.2" fill="none" stroke="#a3399c" stroke-width="1.0" stroke-linejoin="round" stroke-linecap="round"/>
<circle cx="406.5" cy="39.4" r="1.5" fill="#a3399c"/>
<circle cx="419.6" cy="44.7" r="1.5" fill="#a3399c"/>
<circle cx="432.8" cy="53.5" r="1.5" fill="#a3399c"/>
<circle cx="446.0" cy="65.7" r="1.5" fill="#a3399c"/>
<circle cx="459.1" cy="65.3" r="1.5" fill="#a3399c"/>
<circle cx="472.3" cy="69.6" r="1.5" fill="#a3399c"/>
<circle cx="485.4" cy="72.6" r="1.5" fill="#a3399c"/>
<circle cx="498.6" cy="78.4" r="1.5" fill="#a3399c"/>
<circle cx="511.8" cy="78.4" r="1.5" fill="#a3399c"/>
<circle cx="524.9" cy="82.2" r="1.5" fill="#a3399c"/>
<polyline points="406.5,76.9 419.6,73.8 432.8,69.6 446.0,62.8 459.1,62.0 472.3,62.3 485.4,54.0 498.6,46.7 511.8,47.4 524.9,42.3" fill="none" stroke="#2b378c" stroke-width="1.0" stroke-linejoin="round" stroke-linecap="round"/>
<circle cx="406.5" cy="76.9" r="1.5" fill="#2b378c"/>
<circle cx="419.6" cy="73.8" r="1.5" fill="#2b378c"/>
<circle cx="432.8" cy="69.6" r="1.5" fill="#2b378c"/>
<circle cx="446.0" cy="62.8" r="1.5" fill="#2b378c"/>
<circle cx="459.1" cy="62.0" r="1.5" fill="#2b378c"/>
<circle cx="472.3" cy="62.3" r="1.5" fill="#2b378c"/>
<circle cx="485.4" cy="54.0" r="1.5" fill="#2b378c"/>
<circle cx="498.6" cy="46.7" r="1.5" fill="#2b378c"/>
<circle cx="511.8" cy="47.4" r="1.5" fill="#2b378c"/>
<circle cx="524.9" cy="42.3" r="1.5" fill="#2b378c"/>
<line x1="404.3" y1="111.1" x2="411.2" y2="111.1" stroke="#a3399c" stroke-width="1.3"/>
<text x="415.5" y="113.7" font-size="9.0">Butanone</text>
<line x1="404.3" y1="120.1" x2="411.2" y2="120.1" stroke="#2b378c" stroke-width="1.3"/>
<text x="415.5" y="122.7" font-size="9.0">Octanol</text>
<line x1="404.3" y1="129.2" x2="411.2" y2="129.2" stroke="#7a7a7a" stroke-width="1.3"/>
<text x="415.5" y="131.8" font-size="9.0">No odor</text>
<line x1="457.6" y1="122.0" x2="457.6" y2="131.5" stroke="#231f20" stroke-width="0.6"/>
<polygon points="464.86,119.65 463.47,120.28 463.30,121.80 462.27,120.67 460.77,120.98 461.53,119.65 460.77,118.32 462.27,118.63 463.30,117.50 463.47,119.02" fill="#231f20"/>
<polygon points="464.86,124.15 463.47,124.78 463.30,126.30 462.27,125.17 460.77,125.48 461.53,124.15 460.77,122.82 462.27,123.13 463.30,122.00 463.47,123.52" fill="#231f20"/>
<polygon points="464.86,128.65 463.47,129.28 463.30,130.80 462.27,129.67 460.77,129.98 461.53,128.65 460.77,127.32 462.27,127.63 463.30,126.50 463.47,128.02" fill="#231f20"/>
<polygon points="464.86,133.15 463.47,133.78 463.30,135.30 462.27,134.17 460.77,134.48 461.53,133.15 460.77,131.82 462.27,132.13 463.30,131.00 463.47,132.52" fill="#231f20"/>
<line x1="467.6" y1="110.5" x2="467.6" y2="130.4" stroke="#231f20" stroke-width="0.6"/>
<polygon points="474.46,114.65 473.07,115.28 472.90,116.80 471.87,115.67 470.37,115.98 471.12,114.65 470.37,113.32 471.87,113.63 472.90,112.50 473.07,114.02" fill="#231f20"/>
<polygon points="474.46,119.15 473.07,119.78 472.90,121.30 471.87,120.17 470.37,120.48 471.12,119.15 470.37,117.82 471.87,118.13 472.90,117.00 473.07,118.52" fill="#231f20"/>
<polygon points="474.46,123.65 473.07,124.28 472.90,125.80 471.87,124.67 470.37,124.98 471.12,123.65 470.37,122.32 471.87,122.63 472.90,121.50 473.07,123.02" fill="#231f20"/>
<polygon points="474.46,128.15 473.07,128.78 472.90,130.30 471.87,129.17 470.37,129.48 471.12,128.15 470.37,126.82 471.87,127.13 472.90,126.00 473.07,127.52" fill="#231f20"/>
<text x="543.4" y="9.2" font-size="13" fill="#000" font-weight="bold">d</text>
<text x="627.7" y="12.7" font-size="8.96" text-anchor="middle">Reorientation</text>
<line x1="574.0" y1="30.7" x2="574.0" y2="140.3" stroke="#231f20" stroke-width="0.8"/>
<line x1="574.0" y1="140.3" x2="685.0" y2="140.3" stroke="#231f20" stroke-width="0.8"/>
<line x1="574.0" y1="41.8" x2="576.0" y2="41.8" stroke="#231f20" stroke-width="0.7"/>
<text x="570.5" y="44.8" font-size="8.5" text-anchor="end">0.2</text>
<line x1="574.0" y1="63.6" x2="576.0" y2="63.6" stroke="#231f20" stroke-width="0.7"/>
<text x="570.5" y="66.6" font-size="8.5" text-anchor="end">0.1</text>
<line x1="574.0" y1="85.4" x2="576.0" y2="85.4" stroke="#231f20" stroke-width="0.7"/>
<text x="570.5" y="88.4" font-size="8.5" text-anchor="end">0</text>
<line x1="574.0" y1="107.2" x2="576.0" y2="107.2" stroke="#231f20" stroke-width="0.7"/>
<text x="570.5" y="110.2" font-size="8.5" text-anchor="end">−0.1</text>
<line x1="574.0" y1="129.0" x2="576.0" y2="129.0" stroke="#231f20" stroke-width="0.7"/>
<text x="570.5" y="132.0" font-size="8.5" text-anchor="end">−0.2</text>
<text x="574.5" y="150.7" font-size="7.8" text-anchor="middle">−30</text>
<line x1="593.5" y1="140.3" x2="593.5" y2="138.3" stroke="#231f20" stroke-width="0.7"/>
<text x="592.0" y="150.7" font-size="7.8" text-anchor="middle">−20</text>
<line x1="611.0" y1="140.3" x2="611.0" y2="138.3" stroke="#231f20" stroke-width="0.7"/>
<text x="609.5" y="150.7" font-size="7.8" text-anchor="middle">−10</text>
<line x1="628.5" y1="140.3" x2="628.5" y2="138.3" stroke="#231f20" stroke-width="0.7"/>
<text x="628.5" y="150.7" font-size="7.8" text-anchor="middle">0</text>
<line x1="646.0" y1="140.3" x2="646.0" y2="138.3" stroke="#231f20" stroke-width="0.7"/>
<text x="646.0" y="150.7" font-size="7.8" text-anchor="middle">10</text>
<line x1="663.5" y1="140.3" x2="663.5" y2="138.3" stroke="#231f20" stroke-width="0.7"/>
<text x="663.5" y="150.7" font-size="7.8" text-anchor="middle">20</text>
<line x1="681.0" y1="140.3" x2="681.0" y2="138.3" stroke="#231f20" stroke-width="0.7"/>
<text x="681.0" y="150.7" font-size="7.8" text-anchor="middle">30</text>
<text x="630.2" y="162.2" font-size="8.57" text-anchor="middle">Time (s)</text>
<text x="552.0" y="84.9" font-size="8.63" text-anchor="middle" transform="rotate(-90 552.0 84.9)">Bearing to odor</text>
<polygon points="574.0,88.5 574.7,88.4 575.5,88.6 576.2,88.1 576.9,88.1 577.6,88.0 578.4,87.6 579.1,87.7 579.8,87.7 580.5,87.7 581.3,87.1 582.0,87.2 582.7,86.9 583.5,87.3 584.2,87.1 584.9,86.5 585.6,87.1 586.4,87.0 587.1,86.6 587.8,86.5 588.5,86.1 589.3,85.9 590.0,86.1 590.7,85.7 591.4,85.7 592.1,85.6 592.8,85.4 593.5,85.6 594.3,85.5 595.0,85.7 595.7,85.3 596.4,85.3 597.1,85.1 597.8,85.2 598.5,84.9 599.2,84.7 599.9,85.1 600.6,85.0 601.3,84.8 602.1,84.6 602.8,84.3 603.5,84.1 604.2,84.0 604.9,83.8 605.6,84.2 606.3,83.8 607.1,84.1 607.8,83.6 608.5,83.9 609.2,83.8 610.0,83.1 610.7,83.1 611.4,83.5 612.2,83.1 612.9,83.4 613.6,82.9 614.4,82.6 615.1,82.9 615.8,82.9 616.6,82.4 617.3,82.2 618.0,82.3 618.7,82.6 619.5,82.4 620.2,81.8 621.0,82.1 621.8,82.2 622.6,82.3 623.4,83.0 624.2,82.7 625.0,83.1 625.8,83.7 626.6,84.2 627.4,85.3 628.2,85.8 628.2,92.6 627.4,92.1 626.6,91.0 625.8,90.5 625.0,89.9 624.2,89.5 623.4,89.8 622.6,89.1 621.8,89.0 621.0,88.9 620.2,88.6 619.5,89.2 618.7,89.4 618.0,89.1 617.3,89.0 616.6,89.2 615.8,89.7 615.1,89.7 614.4,89.4 613.6,89.7 612.9,90.2 612.2,89.9 611.4,90.3 610.7,89.9 610.0,89.9 609.2,90.6 608.5,90.7 607.8,90.4 607.1,90.9 606.3,90.6 605.6,91.0 604.9,90.6 604.2,90.8 603.5,90.9 602.8,91.1 602.1,91.4 601.3,91.6 600.6,91.8 599.9,91.9 599.2,91.5 598.5,91.7 597.8,92.0 597.1,91.9 596.4,92.1 595.7,92.1 595.0,92.5 594.3,92.3 593.5,92.4 592.8,92.2 592.1,92.4 591.4,92.5 590.7,92.5 590.0,92.9 589.3,92.7 588.5,92.9 587.8,93.3 587.1,93.4 586.4,93.8 585.6,93.9 584.9,93.3 584.2,93.9 583.5,94.1 582.7,93.7 582.0,94.0 581.3,93.9 580.5,94.5 579.8,94.5 579.1,94.5 578.4,94.4 577.6,94.8 576.9,94.9 576.2,94.9 575.5,95.4 574.7,95.2 574.0,95.3" fill="#858585" fill-opacity="0.3"/>
<polygon points="630.2,85.3 631.1,87.0 632.1,87.9 633.0,89.3 633.8,88.3 634.6,87.4 635.4,87.0 636.1,86.0 636.9,84.8 637.7,84.3 638.5,82.9 639.2,83.3 639.9,83.9 640.7,84.0 641.4,83.9 642.1,84.8 642.8,84.6 643.6,84.9 644.3,85.5 645.0,85.5 645.8,85.7 646.5,85.8 647.3,86.1 648.1,86.7 648.9,86.7 649.7,87.2 650.4,87.3 651.2,87.6 651.9,88.1 652.7,88.0 653.4,88.3 654.1,88.7 654.9,88.4 655.6,88.6 656.3,89.3 657.1,89.5 657.8,89.3 658.5,89.5 659.3,90.1 660.0,90.4 660.7,90.0 661.5,90.7 662.2,90.9 662.9,90.8 663.7,90.9 664.4,90.8 665.1,90.9 665.8,91.7 666.6,91.4 667.3,91.9 668.0,91.7 668.8,92.3 669.5,92.3 670.2,92.2 671.0,92.3 671.7,92.9 672.4,92.6 673.1,92.9 673.9,93.3 674.6,93.7 675.3,93.7 676.1,93.7 676.8,94.3 677.5,93.6 678.3,93.3 679.0,93.3 679.8,93.3 680.5,92.9 681.3,92.8 682.0,92.8 682.8,92.7 683.5,92.3 684.3,92.3 685.0,92.2 685.0,99.0 684.3,99.1 683.5,99.1 682.8,99.5 682.0,99.6 681.3,99.6 680.5,99.7 679.8,100.1 679.0,100.1 678.3,100.1 677.5,100.4 676.8,101.1 676.1,100.5 675.3,100.5 674.6,100.5 673.9,100.1 673.1,99.7 672.4,99.4 671.7,99.7 671.0,99.1 670.2,99.0 669.5,99.1 668.8,99.1 668.0,98.5 667.3,98.7 666.6,98.2 665.8,98.5 665.1,97.7 664.4,97.6 663.7,97.7 662.9,97.6 662.2,97.7 661.5,97.5 660.7,96.8 660.0,97.2 659.3,96.9 658.5,96.3 657.8,96.1 657.1,96.3 656.3,96.1 655.6,95.4 654.9,95.2 654.1,95.5 653.4,95.1 652.7,94.8 651.9,94.9 651.2,94.4 650.4,94.1 649.7,94.0 648.9,93.5 648.1,93.5 647.3,92.9 646.5,92.6 645.8,92.5 645.0,92.3 644.3,92.3 643.6,91.7 642.8,91.4 642.1,91.6 641.4,90.7 640.7,90.8 639.9,90.7 639.2,90.1 638.5,89.7 637.7,91.1 636.9,91.6 636.1,92.8 635.4,93.8 634.6,94.2 633.8,95.1 633.0,96.1 632.1,94.7 631.1,93.8 630.2,92.1" fill="#858585" fill-opacity="0.3"/>
<polygon points="574.0,48.3 574.7,48.5 575.4,48.4 576.1,48.6 576.8,48.7 577.5,48.5 578.2,48.6 578.9,48.7 579.6,49.5 580.3,49.5 581.0,49.8 581.7,49.3 582.4,49.9 583.1,50.0 583.9,50.3 584.6,50.2 585.3,50.8 586.0,50.3 586.7,50.8 587.4,51.1 588.1,51.3 588.8,51.4 589.5,51.5 590.2,51.7 590.9,51.9 591.6,51.7 592.3,52.1 593.0,52.4 593.7,52.6 594.4,52.5 595.1,53.0 595.8,53.2 596.5,53.3 597.2,53.5 597.9,53.6 598.6,53.9 599.3,54.2 600.0,54.0 600.7,54.6 601.4,55.1 602.1,55.2 602.8,55.3 603.5,55.3 604.2,56.0 604.9,56.4 605.6,56.8 606.3,57.5 607.1,57.4 607.8,58.4 608.5,58.3 609.2,59.2 609.9,59.6 610.7,60.7 611.5,62.3 612.4,63.4 613.2,64.8 614.0,66.3 614.7,66.4 615.4,66.8 616.1,67.6 616.8,68.4 617.6,68.7 618.3,69.2 619.0,70.3 619.7,70.7 620.4,71.2 621.1,72.4 621.8,72.8 622.5,74.0 623.3,74.5 624.0,75.6 624.7,76.7 625.4,78.7 626.1,80.6 626.8,82.2 627.5,84.2 628.2,86.1 628.2,93.9 627.5,92.0 626.8,90.0 626.1,88.4 625.4,86.5 624.7,84.5 624.0,83.4 623.3,82.3 622.5,81.8 621.8,80.6 621.1,80.2 620.4,79.0 619.7,78.5 619.0,78.1 618.3,77.0 617.6,76.5 616.8,76.2 616.1,75.4 615.4,74.6 614.7,74.2 614.0,74.1 613.2,72.6 612.4,71.2 611.5,70.1 610.7,68.5 609.9,67.4 609.2,67.0 608.5,66.1 607.8,66.2 607.1,65.2 606.3,65.3 605.6,64.6 604.9,64.2 604.2,63.8 603.5,63.1 602.8,63.1 602.1,63.0 601.4,62.9 600.7,62.4 600.0,61.8 599.3,62.0 598.6,61.7 597.9,61.4 597.2,61.3 596.5,61.1 595.8,61.0 595.1,60.8 594.4,60.3 593.7,60.4 593.0,60.2 592.3,59.9 591.6,59.5 590.9,59.7 590.2,59.5 589.5,59.3 588.8,59.2 588.1,59.1 587.4,58.9 586.7,58.6 586.0,58.1 585.3,58.6 584.6,58.0 583.9,58.1 583.1,57.8 582.4,57.7 581.7,57.1 581.0,57.6 580.3,57.3 579.6,57.3 578.9,56.5 578.2,56.4 577.5,56.3 576.8,56.5 576.1,56.4 575.4,56.2 574.7,56.3 574.0,56.1" fill="#a3399c" fill-opacity="0.22"/>
<polygon points="630.2,60.6 631.5,66.8 632.3,69.8 633.1,72.8 633.9,75.5 634.6,73.7 635.3,72.1 636.0,69.9 636.8,68.2 637.7,66.8 638.5,65.0 639.2,64.8 640.0,64.8 640.8,64.8 641.5,64.6 642.2,64.3 643.0,64.5 643.7,64.3 644.5,63.5 645.2,62.9 646.0,62.5 646.7,62.8 647.5,61.6 648.2,61.4 649.0,60.7 649.7,59.9 650.5,59.5 651.2,58.3 652.0,57.7 652.7,57.2 653.4,56.1 654.1,56.0 654.9,54.8 655.6,54.0 656.3,53.1 657.0,52.8 657.7,52.1 658.5,51.6 659.2,51.0 659.9,50.5 660.6,50.0 661.3,49.2 662.1,48.3 662.8,47.9 663.5,47.7 664.3,47.6 665.0,48.0 665.8,48.2 666.5,47.8 667.3,47.9 668.0,48.0 668.8,48.3 669.5,48.2 670.2,48.4 671.0,48.5 671.8,48.3 672.5,48.7 673.2,48.8 674.0,48.3 674.8,48.9 675.5,48.8 676.2,48.5 677.0,48.8 677.7,49.0 678.4,49.3 679.2,49.0 679.9,49.2 680.6,49.5 681.3,49.5 682.1,49.7 682.8,49.4 683.5,49.6 684.3,49.4 685.0,49.6 685.0,61.4 684.3,61.0 683.5,61.1 682.8,60.9 682.1,61.0 681.3,60.8 680.6,60.7 679.9,60.3 679.2,60.0 678.4,60.2 677.7,59.9 677.0,59.6 676.2,59.2 675.5,59.5 674.8,59.5 674.0,58.7 673.2,59.2 672.5,59.0 671.8,58.5 671.0,58.6 670.2,58.4 669.5,58.2 668.8,58.2 668.0,57.8 667.3,57.6 666.5,57.5 665.8,57.7 665.0,57.4 664.3,57.0 663.5,57.0 662.8,57.1 662.1,57.4 661.3,58.3 660.6,59.0 659.9,59.4 659.2,59.8 658.5,60.3 657.7,60.7 657.0,61.4 656.3,61.6 655.6,62.4 654.9,63.1 654.1,64.2 653.4,64.3 652.7,65.3 652.0,65.8 651.2,66.3 650.5,67.4 649.7,67.7 649.0,68.5 648.2,69.2 647.5,69.4 646.7,70.6 646.0,70.3 645.2,70.7 644.5,71.3 643.7,72.1 643.0,72.3 642.2,72.1 641.5,72.4 640.8,72.6 640.0,72.6 639.2,72.6 638.5,72.8 637.7,74.6 636.8,76.0 636.0,77.7 635.3,79.9 634.6,81.5 633.9,83.3 633.1,80.6 632.3,77.6 631.5,74.6 630.2,68.4" fill="#a3399c" fill-opacity="0.22"/>
<polygon points="574.0,92.6 574.7,92.3 575.5,92.0 576.2,91.7 576.9,91.1 577.7,91.3 578.4,91.1 579.1,90.8 579.9,90.2 580.6,90.1 581.3,89.5 582.1,89.7 582.8,89.4 583.5,88.7 584.3,88.3 585.0,88.3 585.7,88.1 586.4,88.0 587.2,87.5 587.9,86.9 588.6,87.2 589.3,86.5 590.0,86.7 590.8,86.0 591.5,85.9 592.2,85.9 592.9,85.2 593.6,85.0 594.3,85.0 595.1,84.9 595.8,84.7 596.5,84.3 597.2,84.3 597.9,83.7 598.6,83.7 599.3,82.9 600.1,82.7 600.8,82.7 601.5,82.3 602.2,82.3 602.9,82.0 603.6,81.7 604.3,81.6 605.0,81.2 605.7,80.7 606.5,80.5 607.2,80.6 607.9,80.4 608.6,79.7 609.3,79.8 610.0,79.6 610.7,79.1 611.4,78.8 612.1,78.3 612.8,78.2 613.5,77.9 614.2,77.7 614.9,77.0 615.6,77.4 616.4,76.8 617.1,76.4 617.8,76.4 618.5,76.0 619.2,75.6 619.9,75.5 620.6,74.8 621.3,74.8 622.0,74.4 622.8,75.4 623.5,75.9 624.2,76.1 625.0,76.8 625.8,77.2 626.6,78.2 627.4,79.1 628.2,79.6 628.2,86.0 627.4,85.5 626.6,84.6 625.8,83.6 625.0,83.2 624.2,82.5 623.5,82.3 622.8,81.8 622.0,80.8 621.3,81.2 620.6,81.2 619.9,81.9 619.2,82.0 618.5,82.4 617.8,82.8 617.1,82.8 616.4,83.2 615.6,83.8 614.9,83.4 614.2,84.1 613.5,84.3 612.8,84.6 612.1,84.7 611.4,85.2 610.7,85.5 610.0,86.0 609.3,86.2 608.6,86.1 607.9,86.8 607.2,87.0 606.5,86.9 605.7,87.1 605.0,87.6 604.3,88.0 603.6,88.1 602.9,88.4 602.2,88.7 601.5,88.7 600.8,89.1 600.1,89.1 599.3,89.3 598.6,90.1 597.9,90.1 597.2,90.7 596.5,90.7 595.8,91.1 595.1,91.3 594.3,91.4 593.6,91.4 592.9,91.6 592.2,92.3 591.5,92.3 590.8,92.4 590.0,93.1 589.3,92.9 588.6,93.6 587.9,93.3 587.2,93.9 586.4,94.4 585.7,94.5 585.0,94.7 584.3,94.7 583.5,95.1 582.8,95.8 582.1,96.1 581.3,95.9 580.6,96.5 579.9,96.6 579.1,97.2 578.4,97.5 577.7,97.7 576.9,97.5 576.2,98.1 575.5,98.4 574.7,98.7 574.0,99.0" fill="#2b378c" fill-opacity="0.22"/>
<polygon points="630.2,89.1 631.0,92.4 631.8,95.9 632.6,99.5 633.4,98.5 634.2,97.4 635.0,95.5 635.7,95.0 636.4,93.4 637.1,92.5 637.8,91.4 638.5,90.7 639.2,91.0 640.0,91.6 640.8,92.3 641.5,92.5 642.2,93.4 643.0,93.5 643.7,94.3 644.5,94.5 645.2,95.0 646.0,95.6 646.7,96.0 647.5,96.4 648.2,96.9 649.0,97.5 649.7,97.7 650.5,98.1 651.2,98.9 652.0,99.2 652.7,99.5 653.5,100.0 654.2,100.2 655.0,100.7 655.7,100.6 656.5,101.3 657.2,101.7 658.0,102.1 658.7,101.9 659.4,102.1 660.1,102.8 660.8,102.5 661.5,103.2 662.3,103.4 663.0,103.1 663.7,103.4 664.4,103.9 665.1,103.8 665.8,103.9 666.5,104.5 667.2,104.3 667.9,104.7 668.6,104.3 669.3,104.6 670.0,104.8 670.8,104.5 671.5,104.7 672.2,105.1 672.9,105.3 673.6,105.5 674.3,104.9 675.0,105.3 675.7,105.5 676.4,105.3 677.1,105.4 677.9,105.1 678.6,105.0 679.3,105.0 680.0,104.9 680.7,105.3 681.4,105.2 682.1,105.3 682.9,105.0 683.6,105.0 684.3,105.0 685.0,105.2 685.0,111.6 684.3,111.4 683.6,111.4 682.9,111.4 682.1,111.7 681.4,111.6 680.7,111.7 680.0,111.3 679.3,111.4 678.6,111.4 677.9,111.5 677.1,111.8 676.4,111.7 675.7,111.9 675.0,111.7 674.3,111.3 673.6,111.9 672.9,111.7 672.2,111.5 671.5,111.1 670.8,110.9 670.0,111.2 669.3,111.0 668.6,110.7 667.9,111.1 667.2,110.7 666.5,110.9 665.8,110.3 665.1,110.2 664.4,110.3 663.7,109.8 663.0,109.5 662.3,109.8 661.5,109.6 660.8,108.9 660.1,109.2 659.4,108.5 658.7,108.3 658.0,108.5 657.2,108.1 656.5,107.7 655.7,107.0 655.0,107.1 654.2,106.6 653.5,106.4 652.7,105.9 652.0,105.6 651.2,105.3 650.5,104.5 649.7,104.1 649.0,103.9 648.2,103.3 647.5,102.8 646.7,102.4 646.0,102.0 645.2,101.4 644.5,100.9 643.7,100.7 643.0,99.9 642.2,99.8 641.5,98.9 640.8,98.7 640.0,98.0 639.2,97.4 638.5,97.1 637.8,97.8 637.1,98.9 636.4,99.8 635.7,101.4 635.0,101.9 634.2,103.8 633.4,104.9 632.6,105.9 631.8,102.3 631.0,98.8 630.2,95.5" fill="#2b378c" fill-opacity="0.22"/>
<polyline points="574.0,92.2 574.5,92.3 575.0,92.1 575.5,91.3 576.0,91.2 576.5,91.9 577.0,91.4 577.5,91.6 578.0,91.1 578.5,91.2 579.0,91.2 579.5,91.0 580.0,91.1 580.5,90.5 581.0,91.0 581.5,91.1 582.0,90.4 582.5,90.6 583.0,90.8 583.5,90.4 584.0,90.1 584.5,90.0 585.0,90.3 585.5,89.7 586.0,90.5 586.5,90.3 587.0,90.1 587.5,90.2 588.0,89.9 588.5,89.6 589.0,89.7 589.5,89.6 590.0,89.9 590.5,89.7 591.0,89.1 591.5,89.7 592.0,89.4 592.5,89.4 593.0,89.4 593.5,88.9 594.0,89.3 594.5,89.2 595.0,89.0 595.5,89.0 596.0,88.9 596.5,88.5 597.0,88.8 597.5,88.1 598.1,88.3 598.6,88.3 599.1,87.8 599.6,88.1 600.1,88.3 600.6,88.2 601.1,87.8 601.6,88.3 602.1,88.0 602.6,87.7 603.1,87.9 603.6,87.7 604.1,87.6 604.6,87.4 605.1,87.9 605.6,87.5 606.1,87.5 606.6,87.5 607.1,87.6 607.6,86.7 608.1,87.2 608.6,87.2 609.1,86.7 609.6,86.8 610.1,86.4 610.6,86.5 611.1,86.6 611.6,86.3 612.1,86.3 612.6,86.8 613.2,86.5 613.7,86.4 614.2,86.7 614.7,86.3 615.2,86.6 615.7,86.2 616.2,86.3 616.7,85.6 617.2,86.0 617.7,86.1 618.2,85.4 618.7,86.1 619.2,85.3 619.7,85.5 620.2,85.2 620.7,85.6 621.3,85.8 621.8,85.4 622.3,86.3 622.9,86.0 623.4,86.2 623.9,86.4 624.5,86.3 625.0,86.3 625.5,87.1 626.1,87.5 626.6,87.7 627.1,88.5 627.7,88.6 628.2,89.2" fill="none" stroke="#7a7a7a" stroke-width="1.6" stroke-linejoin="round" stroke-linecap="round"/>
<polyline points="630.2,88.6 630.8,89.5 631.3,90.1 631.9,91.0 632.4,92.3 633.0,92.7 633.5,92.6 634.0,91.9 634.5,90.7 635.0,90.9 635.5,90.3 636.0,89.0 636.5,89.2 637.0,88.2 637.5,87.6 638.0,87.5 638.5,86.3 639.0,86.7 639.5,87.3 640.0,87.3 640.5,87.2 641.0,87.9 641.5,87.9 642.0,87.9 642.5,87.7 643.0,88.3 643.5,88.4 644.0,88.3 644.5,88.4 645.0,89.0 645.5,88.8 646.0,89.3 646.5,89.7 647.1,89.6 647.6,89.6 648.1,90.1 648.6,90.1 649.1,90.6 649.7,90.5 650.2,91.1 650.7,91.2 651.2,91.2 651.7,90.9 652.2,90.9 652.8,91.8 653.3,91.8 653.8,91.8 654.3,91.8 654.8,91.8 655.3,92.3 655.9,92.4 656.4,92.6 656.9,92.7 657.4,93.0 657.9,92.6 658.4,92.8 659.0,93.6 659.5,93.7 660.0,93.8 660.5,93.2 661.0,93.3 661.5,93.6 662.0,93.9 662.5,94.2 663.0,93.8 663.5,94.3 664.0,94.0 664.5,94.1 665.0,94.8 665.5,94.8 666.0,94.9 666.5,94.8 667.0,95.0 667.5,94.9 668.0,95.1 668.5,95.6 669.0,95.8 669.5,95.2 670.0,95.4 670.5,96.1 671.1,96.1 671.6,96.4 672.1,96.0 672.6,96.3 673.1,96.3 673.7,96.9 674.2,96.6 674.7,97.0 675.2,97.5 675.8,97.0 676.3,97.3 676.8,97.6 677.3,97.7 677.8,97.1 678.3,96.9 678.8,96.6 679.4,97.2 679.9,96.3 680.4,96.2 680.9,96.6 681.4,96.4 681.9,96.4 682.4,96.0 683.0,96.3 683.5,95.6 684.0,95.6 684.5,95.9 685.0,95.6" fill="none" stroke="#7a7a7a" stroke-width="1.6" stroke-linejoin="round" stroke-linecap="round"/>
<polyline points="574.0,51.5 574.5,51.8 575.0,52.3 575.5,52.4 576.0,52.1 576.5,52.1 577.0,52.4 577.5,52.9 578.0,52.6 578.5,52.5 579.0,53.2 579.5,53.1 580.0,53.6 580.5,53.7 581.0,53.8 581.5,53.5 582.0,53.9 582.5,53.6 583.0,53.7 583.5,53.9 584.0,54.4 584.5,54.5 585.0,54.0 585.5,54.3 586.0,54.4 586.5,54.5 587.0,54.6 587.5,54.7 588.0,54.6 588.5,55.1 589.0,55.4 589.5,55.3 590.0,55.7 590.5,55.5 591.0,55.3 591.5,55.9 592.0,56.1 592.5,55.7 593.0,55.6 593.5,56.2 594.0,56.4 594.5,56.5 595.0,57.0 595.5,56.9 596.0,57.2 596.5,56.7 597.0,57.3 597.5,57.7 598.0,57.2 598.5,57.4 599.0,58.1 599.5,58.4 600.0,57.8 600.5,58.5 601.0,58.2 601.5,58.9 602.0,59.0 602.5,58.8 603.0,58.9 603.5,59.5 604.0,59.7 604.6,60.2 605.1,60.3 605.6,60.6 606.2,61.5 606.7,61.6 607.2,61.7 607.8,62.1 608.3,62.6 608.8,63.0 609.4,63.5 609.9,63.4 610.4,64.6 610.9,65.3 611.4,66.2 612.0,67.0 612.5,67.8 613.0,68.6 613.5,69.5 614.0,70.0 614.5,70.4 615.1,71.0 615.6,71.5 616.1,71.6 616.7,72.0 617.2,72.2 617.7,73.2 618.3,73.8 618.8,73.7 619.3,73.9 619.9,74.4 620.4,75.0 620.9,75.6 621.5,76.8 622.0,76.7 622.5,77.6 623.1,78.1 623.6,79.2 624.2,80.0 624.7,80.1 625.2,81.4 625.7,83.1 626.2,84.6 626.7,86.3 627.2,86.8 627.7,88.3 628.2,90.0" fill="none" stroke="#a3399c" stroke-width="1.6" stroke-linejoin="round" stroke-linecap="round"/>
<polyline points="630.2,64.3 630.9,67.5 631.5,70.8 632.1,73.2 632.7,75.2 633.3,76.9 633.9,78.9 634.4,77.7 635.0,76.3 635.5,75.5 636.0,73.8 636.5,73.1 637.0,72.3 637.5,71.0 638.0,69.9 638.5,69.4 639.0,69.4 639.5,68.8 640.0,68.8 640.5,69.1 641.0,68.6 641.5,68.2 642.0,68.0 642.5,68.7 643.0,68.5 643.5,67.8 644.1,67.7 644.6,67.4 645.1,67.0 645.6,67.4 646.2,66.8 646.7,66.2 647.2,65.5 647.8,65.5 648.3,65.0 648.8,64.9 649.4,64.4 649.9,63.9 650.4,63.0 650.9,62.6 651.5,62.3 652.0,61.8 652.5,61.8 653.0,61.0 653.5,60.6 654.0,60.4 654.5,59.3 655.0,59.0 655.5,58.2 656.0,58.2 656.5,57.1 657.0,57.3 657.5,56.9 658.1,56.5 658.6,55.4 659.1,55.2 659.6,55.1 660.2,54.2 660.7,54.1 661.2,53.7 661.7,53.7 662.3,53.0 662.8,52.8 663.3,52.4 663.8,52.9 664.4,52.6 664.9,53.1 665.4,52.4 665.9,53.1 666.4,52.6 667.0,52.9 667.5,53.0 668.0,52.7 668.5,53.4 669.0,53.0 669.5,53.0 670.0,52.9 670.5,53.2 671.0,53.4 671.5,53.7 672.0,53.4 672.5,53.8 673.0,53.3 673.5,53.6 674.0,53.8 674.5,54.3 675.0,54.2 675.5,54.1 676.0,53.6 676.5,54.0 677.0,54.4 677.5,54.1 678.0,54.5 678.5,54.4 679.0,54.1 679.5,55.1 680.0,55.0 680.5,54.5 681.0,55.0 681.5,54.8 682.0,54.9 682.5,55.1 683.0,55.0 683.5,55.1 684.0,55.2 684.5,55.6 685.0,55.5" fill="none" stroke="#a3399c" stroke-width="1.6" stroke-linejoin="round" stroke-linecap="round"/>
<polyline points="574.0,95.4 574.5,95.1 575.0,95.4 575.5,94.9 576.0,95.3 576.5,94.7 577.0,94.7 577.5,94.1 578.0,94.4 578.5,93.6 579.0,93.4 579.5,93.2 580.0,93.5 580.5,93.4 581.0,92.7 581.5,92.7 582.0,92.9 582.5,92.5 583.0,91.9 583.5,91.8 584.0,91.6 584.5,91.3 585.0,91.4 585.5,90.9 586.0,91.5 586.5,90.9 587.0,90.8 587.5,90.7 588.0,90.7 588.5,90.5 589.0,90.0 589.5,89.7 590.0,89.6 590.5,89.1 591.0,89.3 591.5,89.4 592.0,89.4 592.5,89.1 593.0,88.8 593.5,88.6 594.0,87.9 594.5,88.0 595.0,87.8 595.5,87.9 596.0,87.2 596.5,87.3 597.0,87.2 597.5,87.3 598.0,87.1 598.5,86.8 599.1,86.2 599.6,86.5 600.1,86.5 600.6,86.0 601.1,85.6 601.6,85.6 602.1,85.1 602.6,85.4 603.2,85.4 603.7,84.8 604.2,84.8 604.7,84.8 605.2,84.0 605.7,84.5 606.2,84.0 606.7,83.4 607.3,83.2 607.8,83.1 608.3,83.2 608.8,83.2 609.3,82.6 609.8,83.0 610.3,82.3 610.8,82.2 611.3,81.6 611.8,82.2 612.3,81.2 612.9,81.7 613.4,81.2 613.9,81.0 614.4,80.8 614.9,80.3 615.4,80.7 615.9,80.6 616.4,80.2 616.9,79.8 617.4,79.2 617.9,79.6 618.4,78.9 619.0,79.3 619.5,78.5 620.0,78.6 620.5,78.6 621.0,77.8 621.5,77.9 622.0,77.3 622.5,77.7 623.0,78.2 623.5,79.3 624.0,79.6 624.5,79.8 625.0,79.8 625.5,80.6 626.1,81.1 626.6,81.3 627.1,81.9 627.7,82.6 628.2,82.8" fill="none" stroke="#2b378c" stroke-width="1.6" stroke-linejoin="round" stroke-linecap="round"/>
<polyline points="630.2,91.6 630.8,94.5 631.4,97.4 632.0,99.9 632.6,102.8 633.2,102.0 633.8,100.7 634.4,100.0 635.0,98.8 635.5,98.3 636.0,97.4 636.5,96.9 637.0,95.6 637.5,95.4 638.0,94.2 638.5,94.2 639.0,94.2 639.5,94.5 640.0,94.8 640.5,95.3 641.0,95.7 641.5,96.2 642.0,96.5 642.5,96.6 643.0,97.4 643.5,97.6 644.0,97.9 644.5,97.9 645.0,98.2 645.6,98.6 646.1,99.2 646.6,99.2 647.1,99.5 647.6,99.8 648.1,100.5 648.6,100.3 649.2,100.3 649.7,101.3 650.2,101.7 650.7,101.9 651.2,102.1 651.7,102.5 652.2,102.3 652.8,102.8 653.3,102.5 653.8,102.8 654.3,103.3 654.9,103.6 655.4,103.8 655.9,103.7 656.4,104.5 657.0,104.6 657.5,104.5 658.0,104.8 658.5,105.1 659.0,105.1 659.6,105.1 660.1,106.0 660.6,106.2 661.1,106.1 661.6,106.4 662.2,106.2 662.7,106.7 663.2,106.3 663.7,107.0 664.2,107.0 664.8,107.4 665.3,106.9 665.8,107.7 666.3,107.1 666.8,107.6 667.3,108.0 667.8,107.2 668.4,107.5 668.9,107.6 669.4,107.7 669.9,107.5 670.4,108.3 670.9,108.3 671.4,108.0 671.9,108.0 672.4,108.3 673.0,107.8 673.5,107.9 674.0,108.7 674.5,108.3 675.0,108.5 675.5,108.9 676.0,108.9 676.5,108.5 677.0,108.2 677.5,108.3 678.0,108.9 678.5,108.8 679.0,108.2 679.5,108.8 680.0,108.3 680.5,108.4 681.0,108.1 681.5,108.8 682.0,108.9 682.5,108.2 683.0,108.5 683.5,108.1 684.0,108.8 684.5,108.0 685.0,108.4" fill="none" stroke="#2b378c" stroke-width="1.6" stroke-linejoin="round" stroke-linecap="round"/>
<line x1="628.8" y1="31.0" x2="628.8" y2="140.3" stroke="#666" stroke-width="1.8" stroke-dasharray="5,2.5"/>
<line x1="577.3" y1="112.5" x2="584.6" y2="112.5" stroke="#a3399c" stroke-width="1.4"/>
<text x="589.2" y="115.1" font-size="8.75">Butanone</text>
<line x1="577.3" y1="121.2" x2="584.6" y2="121.2" stroke="#2b378c" stroke-width="1.4"/>
<text x="589.2" y="123.8" font-size="8.75">Octanol</text>
<line x1="577.3" y1="130.0" x2="584.6" y2="130.0" stroke="#7a7a7a" stroke-width="1.4"/>
<text x="589.2" y="132.6" font-size="8.75">No odor</text>
<line x1="632.0" y1="123.0" x2="632.0" y2="133.0" stroke="#231f20" stroke-width="0.6"/>
<polygon points="639.06,121.15 637.67,121.78 637.50,123.30 636.47,122.17 634.97,122.48 635.72,121.15 634.97,119.82 636.47,120.13 637.50,119.00 637.67,120.52" fill="#231f20"/>
<polygon points="639.06,125.65 637.67,126.28 637.50,127.80 636.47,126.67 634.97,126.98 635.72,125.65 634.97,124.32 636.47,124.63 637.50,123.50 637.67,125.02" fill="#231f20"/>
<polygon points="639.06,130.15 637.67,130.78 637.50,132.30 636.47,131.17 634.97,131.48 635.72,130.15 634.97,128.82 636.47,129.13 637.50,128.00 637.67,129.52" fill="#231f20"/>
<polygon points="639.06,134.65 637.67,135.28 637.50,136.80 636.47,135.67 634.97,135.98 635.72,134.65 634.97,133.32 636.47,133.63 637.50,132.50 637.67,134.02" fill="#231f20"/>
<line x1="641.2" y1="112.0" x2="641.2" y2="132.0" stroke="#231f20" stroke-width="0.6"/>
<polygon points="648.06,114.65 646.67,115.28 646.50,116.80 645.47,115.67 643.97,115.98 644.72,114.65 643.97,113.32 645.47,113.63 646.50,112.50 646.67,114.02" fill="#231f20"/>
<polygon points="648.06,119.15 646.67,119.78 646.50,121.30 645.47,120.17 643.97,120.48 644.72,119.15 643.97,117.82 645.47,118.13 646.50,117.00 646.67,118.52" fill="#231f20"/>
<polygon points="648.06,123.65 646.67,124.28 646.50,125.80 645.47,124.67 643.97,124.98 644.72,123.65 643.97,122.32 645.47,122.63 646.50,121.50 646.67,123.02" fill="#231f20"/>
<polygon points="648.06,128.15 646.67,128.78 646.50,130.30 645.47,129.17 643.97,129.48 644.72,128.15 643.97,126.82 645.47,127.13 646.50,126.00 646.67,127.52" fill="#231f20"/>
<text x="0.3" y="176.0" font-size="13" fill="#000" font-weight="bold">e</text>
<rect x="41.4" y="166.5" width="103.4" height="83.7" fill="none" stroke="#5a5a5a" stroke-width="0.8"/>
<circle cx="48.4" cy="185.4" r="1.5" fill="#000"/>
<text x="51.8" y="180.7" font-size="7.7">Odor</text>
<line x1="78.7" y1="180.3" x2="86.0" y2="180.3" stroke="#1b8a8c" stroke-width="1.3"/>
<text x="89.8" y="182.8" font-size="7.7">Toward odor</text>
<line x1="78.7" y1="189.0" x2="86.0" y2="189.0" stroke="#f0592b" stroke-width="1.3"/>
<text x="89.8" y="191.6" font-size="7.7">Away from odor</text>
<polygon points="67.6,218.1 67.4,218.2 67.2,218.4 67.0,218.5 66.7,218.7 66.4,218.9 66.1,219.2 65.8,219.4 65.5,219.7 65.2,219.9 64.9,220.2 64.6,220.6 64.3,220.9 64.1,221.2 64.0,221.5 63.8,221.8 63.6,222.2 63.5,222.5 63.4,222.9 63.3,223.3 63.2,223.6 63.2,224.0 63.2,224.5 63.2,224.9 63.2,225.3 63.3,225.7 63.5,226.2 63.7,226.6 63.8,226.9 64.0,227.3 64.3,227.6 64.5,227.9 64.7,228.2 64.9,228.5 65.1,228.8 65.3,229.1 65.5,229.4 65.7,229.7 65.9,230.1 66.2,230.4 66.4,230.7 66.7,231.0 66.9,231.2 67.1,231.5 67.3,231.7 67.5,232.0 67.6,232.2 67.7,232.4 67.8,232.6 67.9,232.8 68.0,233.1 68.1,233.3 68.1,233.6 68.2,233.8 68.2,234.1 68.2,234.3 68.2,234.6 68.2,234.9 68.2,235.2 68.2,235.5 68.2,235.8 68.2,236.2 68.1,236.6 68.0,237.1 67.9,237.6 67.8,238.1 67.8,238.6 67.8,239.2 67.9,239.7 68.0,240.3 68.1,240.7 68.2,241.1 68.3,241.4 68.7,241.6 69.0,241.3 69.2,241.0 69.6,240.7 69.9,240.3 70.2,239.9 70.6,239.4 70.8,238.8 71.0,238.3 71.1,237.7 71.2,237.2 71.3,236.6 71.4,236.2 71.4,235.7 71.4,235.3 71.4,234.9 71.4,234.5 71.4,234.1 71.4,233.7 71.3,233.3 71.2,232.9 71.2,232.5 71.0,232.1 70.9,231.8 70.8,231.4 70.6,231.0 70.4,230.6 70.1,230.2 69.9,229.8 69.6,229.5 69.4,229.2 69.1,228.9 68.9,228.6 68.7,228.4 68.5,228.1 68.3,227.9 68.1,227.6 67.9,227.3 67.7,227.0 67.5,226.7 67.3,226.4 67.1,226.1 66.9,225.9 66.8,225.6 66.7,225.4 66.5,225.2 66.5,225.0 66.4,224.8 66.4,224.7 66.3,224.5 66.3,224.4 66.3,224.2 66.3,224.0 66.3,223.8 66.4,223.6 66.4,223.3 66.4,223.1 66.5,222.8 66.5,222.6 66.6,222.3 66.7,222.1 66.7,221.9 66.8,221.6 67.0,221.3 67.1,221.0 67.3,220.7 67.5,220.4 67.7,220.1 67.8,219.8 68.0,219.5 68.2,219.3 68.3,219.0 68.4,218.9" fill="#1b8a8c"/>
<polygon points="80.1,220.1 79.9,220.2 79.7,220.3 79.4,220.5 79.1,220.7 78.8,220.9 78.4,221.1 78.1,221.3 77.7,221.6 77.4,221.9 77.0,222.1 76.7,222.5 76.4,222.8 76.2,223.1 76.0,223.4 75.7,223.7 75.5,224.0 75.3,224.3 75.2,224.7 75.0,225.0 74.9,225.4 74.8,225.8 74.7,226.3 74.7,226.7 74.7,227.2 74.8,227.7 75.0,228.2 75.2,228.6 75.4,229.0 75.6,229.3 75.8,229.7 76.0,230.0 76.3,230.3 76.4,230.5 76.6,230.8 76.8,231.0 76.9,231.3 77.1,231.6 77.3,231.9 77.5,232.2 77.6,232.5 77.8,232.7 77.9,233.0 78.0,233.1 78.1,233.3 78.2,233.5 78.2,233.6 78.2,233.7 78.2,233.9 78.2,234.1 78.1,234.4 78.0,234.7 77.9,235.1 77.8,235.5 77.6,235.8 77.4,236.2 77.2,236.6 77.0,237.0 76.8,237.3 76.5,237.7 76.3,237.9 76.0,238.2 75.7,238.5 75.4,238.8 74.9,239.1 74.5,239.5 74.1,239.9 73.7,240.3 73.4,240.8 73.1,241.2 72.8,241.6 72.5,242.0 72.4,242.3 72.6,242.7 73.0,242.7 73.4,242.6 73.9,242.6 74.4,242.5 75.0,242.4 75.6,242.3 76.2,242.0 76.8,241.7 77.3,241.3 77.8,240.9 78.3,240.5 78.7,240.1 79.1,239.6 79.4,239.1 79.7,238.7 80.0,238.2 80.3,237.7 80.5,237.2 80.7,236.7 80.9,236.1 81.1,235.6 81.2,235.1 81.3,234.6 81.4,234.1 81.4,233.6 81.4,233.1 81.2,232.6 81.1,232.1 80.9,231.7 80.7,231.4 80.5,231.0 80.3,230.7 80.1,230.5 80.0,230.2 79.8,230.0 79.7,229.7 79.5,229.4 79.3,229.0 79.1,228.7 78.9,228.4 78.6,228.1 78.4,227.8 78.3,227.6 78.1,227.4 78.0,227.2 77.9,227.0 77.9,226.9 77.9,226.8 77.9,226.7 77.9,226.5 77.9,226.4 77.9,226.2 77.9,226.0 78.0,225.8 78.1,225.5 78.2,225.3 78.3,225.0 78.4,224.8 78.5,224.5 78.6,224.2 78.7,224.0 78.8,223.7 79.0,223.4 79.2,223.1 79.5,222.8 79.7,222.5 79.9,222.1 80.2,221.8 80.4,221.6 80.6,221.3 80.8,221.1 80.9,220.9" fill="#b3b3b3"/>
<polygon points="92.5,225.7 92.3,225.7 92.1,225.7 91.8,225.6 91.4,225.6 91.1,225.5 90.7,225.4 90.3,225.4 89.9,225.3 89.4,225.3 89.0,225.3 88.6,225.3 88.2,225.4 87.8,225.5 87.4,225.5 87.0,225.6 86.6,225.8 86.2,225.9 85.9,226.1 85.5,226.2 85.1,226.4 84.8,226.6 84.4,226.9 84.1,227.2 83.8,227.5 83.5,227.8 83.3,228.2 83.1,228.5 83.0,228.9 82.9,229.3 82.8,229.6 82.8,230.0 82.7,230.3 82.7,230.6 82.7,230.9 82.7,231.2 82.7,231.5 82.7,231.9 82.8,232.4 82.9,232.7 83.0,233.1 83.1,233.4 83.2,233.7 83.3,233.9 83.3,234.1 83.4,234.3 83.4,234.5 83.4,234.7 83.4,234.9 83.4,235.1 83.3,235.5 83.3,235.8 83.2,236.2 83.1,236.5 83.0,236.8 82.9,237.2 82.8,237.5 82.7,237.8 82.6,238.0 82.4,238.3 82.3,238.5 82.1,238.7 81.8,238.9 81.6,239.1 81.3,239.4 80.9,239.6 80.5,239.9 80.2,240.1 79.8,240.3 79.4,240.5 79.0,240.7 78.6,240.9 78.3,241.1 78.1,241.3 77.8,241.5 77.6,241.7 77.3,241.9 77.0,242.1 76.8,242.3 76.5,242.5 76.2,242.7 76.0,242.8 75.8,243.0 75.6,243.1 75.4,243.3 75.6,243.7 75.7,243.8 76.0,243.8 76.2,243.9 76.5,244.0 76.8,244.0 77.2,244.1 77.6,244.2 78.0,244.2 78.4,244.2 78.8,244.1 79.3,244.0 79.7,243.9 80.1,243.7 80.5,243.6 80.9,243.3 81.3,243.1 81.8,242.9 82.2,242.6 82.7,242.3 83.1,242.0 83.6,241.7 84.0,241.3 84.4,240.9 84.7,240.5 85.1,240.1 85.3,239.6 85.6,239.1 85.8,238.7 86.0,238.2 86.1,237.7 86.2,237.3 86.3,236.8 86.4,236.4 86.5,235.9 86.5,235.5 86.6,235.1 86.6,234.7 86.6,234.2 86.5,233.7 86.4,233.3 86.3,233.0 86.2,232.7 86.1,232.4 86.0,232.1 86.0,231.9 85.9,231.7 85.9,231.6 85.9,231.5 85.9,231.2 85.9,231.0 85.9,230.8 85.9,230.5 85.9,230.3 86.0,230.2 86.0,230.0 86.0,229.9 86.1,229.8 86.1,229.7 86.2,229.6 86.2,229.5 86.3,229.4 86.4,229.3 86.6,229.2 86.8,229.0 87.0,228.9 87.2,228.7 87.5,228.5 87.8,228.4 88.0,228.2 88.3,228.1 88.6,227.9 88.8,227.8 89.1,227.7 89.4,227.6 89.7,227.5 90.0,227.4 90.4,227.3 90.7,227.2 91.1,227.1 91.5,227.1 91.8,227.0 92.1,227.0 92.3,226.9 92.5,226.9" fill="#f0592b"/>
<line x1="67.3" y1="216.5" x2="64.9" y2="201.7" stroke="#1b8a8c" stroke-width="0.9"/>
<polygon points="64.6,199.8 66.4,202.4 63.7,202.9" fill="#1b8a8c"/>
<line x1="80.8" y1="216.0" x2="85.2" y2="202.1" stroke="#c8c8c8" stroke-width="0.9"/>
<polygon points="85.8,200.3 86.3,203.5 83.6,202.6" fill="#c8c8c8"/>
<line x1="95.8" y1="224.8" x2="109.9" y2="216.5" stroke="#f0592b" stroke-width="0.9"/>
<polygon points="111.6,215.5 109.8,218.2 108.4,215.8" fill="#f0592b"/>
<path d="M79,212 Q74,207.5 68.5,208" fill="none" stroke="#1b8a8c" stroke-width="0.9" stroke-linecap="butt" stroke-linejoin="round" stroke-dasharray="1.5,1.2"/>
<polygon points="68.0,208.2 70.4,207.3 70.2,209.5" fill="#1b8a8c"/>
<path d="M84.5,216.8 Q92,217 94.5,223" fill="none" stroke="#f0592b" stroke-width="0.9" stroke-linecap="butt" stroke-linejoin="round" stroke-dasharray="1.5,1.2"/>
<polygon points="95.0,223.5 93.1,221.7 95.3,220.9" fill="#f0592b"/>
<text x="70" y="202.8" font-size="8" fill="#1b8a8c">Δ<tspan font-style="italic">θ</tspan></text>
<text x="95.4" y="210.8" font-size="8" fill="#f0592b">Δ<tspan font-style="italic">θ</tspan></text>
<rect x="3.3" y="253.3" width="179.2" height="88.8" fill="none" stroke="#5a5a5a" stroke-width="0.8"/>
<circle cx="11.1" cy="262.3" r="1.5" fill="#000"/>
<text x="18.3" y="264.4" font-size="8.9">Odor</text>
<text x="16.6" y="275.5" font-size="9.2">Δ<tspan font-style="italic">θ</tspan><tspan font-size="5" dy="1.8">Real</tspan></text>
<text x="58.3" y="275.5" font-size="9.2">Δ<tspan font-style="italic">θ</tspan><tspan font-size="5" dy="1.8">Shuffle 1</tspan></text>
<text x="101.2" y="275.5" font-size="9.2">Δ<tspan font-style="italic">θ</tspan><tspan font-size="5" dy="1.8">Shuffle 2</tspan></text>
<text x="143.7" y="275.5" font-size="9.2">Δ<tspan font-style="italic">θ</tspan><tspan font-size="5" dy="1.8">Shuffle 3</tspan></text>
<polygon points="29.4,295.7 29.2,295.7 29.0,295.9 28.8,296.0 28.6,296.2 28.3,296.3 28.0,296.5 27.7,296.7 27.4,296.9 27.1,297.2 26.8,297.4 26.6,297.7 26.4,297.9 26.2,298.2 26.0,298.4 25.9,298.6 25.7,298.9 25.6,299.1 25.5,299.4 25.4,299.7 25.3,300.0 25.3,300.4 25.3,300.7 25.3,301.1 25.4,301.4 25.6,301.8 25.8,302.2 26.0,302.5 26.3,302.7 26.5,303.0 26.7,303.2 26.9,303.4 27.2,303.5 27.3,303.7 27.5,303.8 27.6,304.0 27.7,304.1 27.8,304.3 28.0,304.4 28.1,304.6 28.3,304.8 28.4,305.0 28.5,305.1 28.6,305.2 28.6,305.3 28.7,305.4 28.7,305.5 28.7,305.5 28.7,305.5 28.7,305.6 28.7,305.6 28.6,305.7 28.6,305.9 28.5,306.1 28.4,306.2 28.3,306.4 28.2,306.6 28.1,306.8 27.9,307.1 27.8,307.3 27.7,307.5 27.5,307.7 27.3,307.9 27.2,308.1 26.9,308.4 26.7,308.6 26.5,308.9 26.4,309.3 26.3,309.6 26.2,310.0 26.2,310.3 26.2,310.6 26.1,310.9 26.5,311.1 26.7,311.1 27.0,311.1 27.3,311.1 27.7,311.0 28.0,310.9 28.4,310.7 28.7,310.5 29.0,310.3 29.2,310.0 29.5,309.7 29.7,309.4 29.9,309.1 30.1,308.9 30.3,308.6 30.5,308.3 30.6,308.1 30.8,307.8 30.9,307.5 31.1,307.2 31.2,306.9 31.3,306.6 31.4,306.2 31.5,305.9 31.5,305.5 31.5,305.1 31.4,304.7 31.3,304.4 31.1,304.1 31.0,303.8 30.8,303.5 30.7,303.3 30.5,303.1 30.3,302.9 30.2,302.7 30.0,302.5 29.9,302.3 29.7,302.1 29.4,301.8 29.2,301.6 29.0,301.4 28.7,301.2 28.5,301.0 28.4,300.9 28.2,300.8 28.1,300.6 28.0,300.6 28.0,300.5 28.0,300.6 28.0,300.5 28.0,300.5 27.9,300.4 27.9,300.3 27.9,300.2 27.9,300.1 28.0,300.0 28.0,299.8 28.0,299.6 28.1,299.5 28.2,299.3 28.2,299.1 28.3,298.9 28.4,298.7 28.5,298.5 28.7,298.2 28.9,297.9 29.1,297.7 29.3,297.4 29.5,297.1 29.6,296.9 29.8,296.7 29.9,296.5 30.0,296.3" fill="#000"/>
<polygon points="68.1,295.7 67.9,295.7 67.7,295.9 67.5,296.0 67.3,296.2 67.0,296.3 66.7,296.5 66.4,296.7 66.1,296.9 65.8,297.2 65.5,297.4 65.3,297.7 65.1,297.9 64.9,298.2 64.7,298.4 64.6,298.6 64.4,298.9 64.3,299.1 64.2,299.4 64.1,299.7 64.0,300.0 64.0,300.4 64.0,300.7 64.0,301.1 64.1,301.4 64.3,301.8 64.5,302.2 64.7,302.5 65.0,302.7 65.2,303.0 65.4,303.2 65.6,303.4 65.9,303.5 66.0,303.7 66.2,303.8 66.3,304.0 66.4,304.1 66.5,304.3 66.7,304.4 66.8,304.6 67.0,304.8 67.1,305.0 67.2,305.1 67.3,305.2 67.3,305.3 67.4,305.4 67.4,305.5 67.4,305.5 67.4,305.5 67.4,305.6 67.4,305.6 67.3,305.7 67.3,305.9 67.2,306.1 67.1,306.2 67.0,306.4 66.9,306.6 66.8,306.8 66.6,307.1 66.5,307.3 66.4,307.5 66.2,307.7 66.0,307.9 65.9,308.1 65.6,308.4 65.4,308.6 65.2,308.9 65.1,309.3 65.0,309.6 64.9,310.0 64.9,310.3 64.9,310.6 64.8,310.9 65.2,311.1 65.4,311.1 65.7,311.1 66.0,311.1 66.4,311.0 66.7,310.9 67.1,310.7 67.4,310.5 67.7,310.3 67.9,310.0 68.2,309.7 68.4,309.4 68.6,309.1 68.8,308.9 69.0,308.6 69.2,308.3 69.3,308.1 69.5,307.8 69.6,307.5 69.8,307.2 69.9,306.9 70.0,306.6 70.1,306.2 70.2,305.9 70.2,305.5 70.2,305.1 70.1,304.7 70.0,304.4 69.8,304.1 69.7,303.8 69.5,303.5 69.4,303.3 69.2,303.1 69.0,302.9 68.9,302.7 68.7,302.5 68.6,302.3 68.4,302.1 68.1,301.8 67.9,301.6 67.7,301.4 67.4,301.2 67.2,301.0 67.1,300.9 66.9,300.8 66.8,300.6 66.7,300.6 66.7,300.5 66.7,300.6 66.7,300.5 66.7,300.5 66.6,300.4 66.6,300.3 66.6,300.2 66.6,300.1 66.7,300.0 66.7,299.8 66.7,299.6 66.8,299.5 66.9,299.3 66.9,299.1 67.0,298.9 67.1,298.7 67.2,298.5 67.4,298.2 67.6,297.9 67.8,297.7 68.0,297.4 68.2,297.1 68.3,296.9 68.5,296.7 68.6,296.5 68.7,296.3" fill="#000"/>
<polygon points="109.7,295.7 109.5,295.7 109.3,295.9 109.1,296.0 108.9,296.2 108.6,296.3 108.3,296.5 108.0,296.7 107.7,296.9 107.4,297.2 107.1,297.4 106.9,297.7 106.7,297.9 106.5,298.2 106.3,298.4 106.2,298.6 106.0,298.9 105.9,299.1 105.8,299.4 105.7,299.7 105.6,300.0 105.6,300.4 105.6,300.7 105.6,301.1 105.7,301.4 105.9,301.8 106.1,302.2 106.3,302.5 106.6,302.7 106.8,303.0 107.0,303.2 107.2,303.4 107.5,303.5 107.6,303.7 107.8,303.8 107.9,304.0 108.0,304.1 108.1,304.3 108.3,304.4 108.4,304.6 108.6,304.8 108.7,305.0 108.8,305.1 108.9,305.2 108.9,305.3 109.0,305.4 109.0,305.5 109.0,305.5 109.0,305.5 109.0,305.6 109.0,305.6 108.9,305.7 108.9,305.9 108.8,306.1 108.7,306.2 108.6,306.4 108.5,306.6 108.4,306.8 108.2,307.1 108.1,307.3 108.0,307.5 107.8,307.7 107.6,307.9 107.5,308.1 107.2,308.4 107.0,308.6 106.8,308.9 106.7,309.3 106.6,309.6 106.5,310.0 106.5,310.3 106.5,310.6 106.4,310.9 106.8,311.1 107.0,311.1 107.3,311.1 107.6,311.1 108.0,311.0 108.3,310.9 108.7,310.7 109.0,310.5 109.3,310.3 109.5,310.0 109.8,309.7 110.0,309.4 110.2,309.1 110.4,308.9 110.6,308.6 110.8,308.3 110.9,308.1 111.1,307.8 111.2,307.5 111.4,307.2 111.5,306.9 111.6,306.6 111.7,306.2 111.8,305.9 111.8,305.5 111.8,305.1 111.7,304.7 111.6,304.4 111.4,304.1 111.3,303.8 111.1,303.5 111.0,303.3 110.8,303.1 110.6,302.9 110.5,302.7 110.3,302.5 110.2,302.3 110.0,302.1 109.7,301.8 109.5,301.6 109.3,301.4 109.0,301.2 108.8,301.0 108.7,300.9 108.5,300.8 108.4,300.6 108.3,300.6 108.3,300.5 108.3,300.6 108.3,300.5 108.3,300.5 108.2,300.4 108.2,300.3 108.2,300.2 108.2,300.1 108.3,300.0 108.3,299.8 108.3,299.6 108.4,299.5 108.5,299.3 108.5,299.1 108.6,298.9 108.7,298.7 108.8,298.5 109.0,298.2 109.2,297.9 109.4,297.7 109.6,297.4 109.8,297.1 109.9,296.9 110.1,296.7 110.2,296.5 110.3,296.3" fill="#000"/>
<polygon points="158.3,295.7 158.1,295.7 157.9,295.9 157.7,296.0 157.5,296.2 157.2,296.3 156.9,296.5 156.6,296.7 156.3,296.9 156.0,297.2 155.7,297.4 155.5,297.7 155.3,297.9 155.1,298.2 154.9,298.4 154.8,298.6 154.6,298.9 154.5,299.1 154.4,299.4 154.3,299.7 154.2,300.0 154.2,300.4 154.2,300.7 154.2,301.1 154.3,301.4 154.5,301.8 154.7,302.2 154.9,302.5 155.2,302.7 155.4,303.0 155.6,303.2 155.8,303.4 156.1,303.5 156.2,303.7 156.4,303.8 156.5,304.0 156.6,304.1 156.7,304.3 156.9,304.4 157.0,304.6 157.2,304.8 157.3,305.0 157.4,305.1 157.5,305.2 157.5,305.3 157.6,305.4 157.6,305.5 157.6,305.5 157.6,305.5 157.6,305.6 157.6,305.6 157.5,305.7 157.5,305.9 157.4,306.1 157.3,306.2 157.2,306.4 157.1,306.6 157.0,306.8 156.8,307.1 156.7,307.3 156.6,307.5 156.4,307.7 156.2,307.9 156.1,308.1 155.8,308.4 155.6,308.6 155.4,308.9 155.3,309.3 155.2,309.6 155.1,310.0 155.1,310.3 155.1,310.6 155.0,310.9 155.4,311.1 155.6,311.1 155.9,311.1 156.2,311.1 156.6,311.0 156.9,310.9 157.3,310.7 157.6,310.5 157.9,310.3 158.1,310.0 158.4,309.7 158.6,309.4 158.8,309.1 159.0,308.9 159.2,308.6 159.4,308.3 159.5,308.1 159.7,307.8 159.8,307.5 160.0,307.2 160.1,306.9 160.2,306.6 160.3,306.2 160.4,305.9 160.4,305.5 160.4,305.1 160.3,304.7 160.2,304.4 160.0,304.1 159.9,303.8 159.7,303.5 159.6,303.3 159.4,303.1 159.2,302.9 159.1,302.7 158.9,302.5 158.8,302.3 158.6,302.1 158.3,301.8 158.1,301.6 157.9,301.4 157.6,301.2 157.4,301.0 157.3,300.9 157.1,300.8 157.0,300.6 156.9,300.6 156.9,300.5 156.9,300.6 156.9,300.5 156.9,300.5 156.8,300.4 156.8,300.3 156.8,300.2 156.8,300.1 156.9,300.0 156.9,299.8 156.9,299.6 157.0,299.5 157.1,299.3 157.1,299.1 157.2,298.9 157.3,298.7 157.4,298.5 157.6,298.2 157.8,297.9 158.0,297.7 158.2,297.4 158.4,297.1 158.5,296.9 158.7,296.7 158.8,296.5 158.9,296.3" fill="#000"/>
<path d="M29.5,293.5 Q30,286 23.5,283.5" fill="none" stroke="#231f20" stroke-width="0.8" stroke-linecap="butt" stroke-linejoin="round" stroke-dasharray="1.6,1.3"/>
<polygon points="22.5,283.0 25.1,282.7 24.3,284.9" fill="#231f20"/>
<path d="M68.5,293.5 Q69,290 73.5,284" fill="none" stroke="#231f20" stroke-width="0.8" stroke-linecap="butt" stroke-linejoin="round" stroke-dasharray="1.6,1.3"/>
<polygon points="74.3,283.0 73.7,285.5 71.9,284.1" fill="#231f20"/>
<path d="M110,293.5 Q111,286 116,285.5 Q120,285.5 123,288" fill="none" stroke="#231f20" stroke-width="0.8" stroke-linecap="butt" stroke-linejoin="round" stroke-dasharray="1.6,1.3"/>
<polygon points="123.8,289.0 121.2,288.8 122.3,286.9" fill="#231f20"/>
<path d="M158.5,293.5 Q159,289 161,288.5 Q165,288 165.5,291" fill="none" stroke="#231f20" stroke-width="0.8" stroke-linecap="butt" stroke-linejoin="round" stroke-dasharray="1.6,1.3"/>
<polygon points="165.5,292.8 164.6,290.4 166.8,290.6" fill="#231f20"/>
<text x="27.7" y="324.3" font-size="8.9" text-anchor="middle">Real</text>
<text x="27.7" y="334.0" font-size="8.9" text-anchor="middle">(data)</text>
<text x="104.7" y="324.3" font-size="8.9" text-anchor="middle">Shuffle (sample Δ<tspan font-style="italic">θ</tspan> from</text>
<text x="104.7" y="334.0" font-size="9.14" text-anchor="middle">other reorientations)</text>
<text x="208.0" y="176.0" font-size="13" fill="#000" font-weight="bold">f</text>
<line x1="238.6" y1="175.0" x2="238.6" y2="333.5" stroke="#231f20" stroke-width="0.8"/>
<line x1="238.6" y1="174.9" x2="240.6" y2="174.9" stroke="#231f20" stroke-width="0.7"/>
<text x="235.3" y="177.7" font-size="7.8" text-anchor="end">0.7</text>
<line x1="238.6" y1="214.5" x2="240.6" y2="214.5" stroke="#231f20" stroke-width="0.7"/>
<text x="235.3" y="217.3" font-size="7.8" text-anchor="end">0.6</text>
<line x1="238.6" y1="254.1" x2="240.6" y2="254.1" stroke="#231f20" stroke-width="0.7"/>
<text x="235.3" y="256.9" font-size="7.8" text-anchor="end">0.5</text>
<line x1="238.6" y1="293.7" x2="240.6" y2="293.7" stroke="#231f20" stroke-width="0.7"/>
<text x="235.3" y="296.5" font-size="7.8" text-anchor="end">0.4</text>
<line x1="238.6" y1="333.3" x2="240.6" y2="333.3" stroke="#231f20" stroke-width="0.7"/>
<text x="235.3" y="336.1" font-size="7.8" text-anchor="end">0.3</text>
<text x="216.8" y="257.3" font-size="9.28" text-anchor="middle" transform="rotate(-90 216.8 257.3)">Fraction reorientations toward odor</text>
<line x1="238.6" y1="254.1" x2="393.0" y2="254.1" stroke="#999" stroke-width="0.8" stroke-dasharray="3,2.2"/>
<circle cx="251.0" cy="235.7" r="2.4" fill="#9c2a91"/>
<circle cx="254.4" cy="236.2" r="2.4" fill="#9c2a91"/>
<circle cx="247.8" cy="238.4" r="2.4" fill="#9c2a91"/>
<circle cx="251.7" cy="238.9" r="2.4" fill="#9c2a91"/>
<circle cx="255.8" cy="239.6" r="2.4" fill="#9c2a91"/>
<circle cx="245.6" cy="240.5" r="2.4" fill="#9c2a91"/>
<circle cx="251.7" cy="243.1" r="2.4" fill="#9c2a91"/>
<circle cx="248.9" cy="244.6" r="2.4" fill="#9c2a91"/>
<circle cx="254.7" cy="245.1" r="2.4" fill="#9c2a91"/>
<circle cx="245.2" cy="245.5" r="2.4" fill="#9c2a91"/>
<circle cx="259.1" cy="245.7" r="2.4" fill="#9c2a91"/>
<circle cx="241.1" cy="245.9" r="2.4" fill="#9c2a91"/>
<circle cx="251.8" cy="246.4" r="2.4" fill="#9c2a91"/>
<circle cx="263.8" cy="246.8" r="2.4" fill="#9c2a91"/>
<circle cx="239.8" cy="246.8" r="2.4" fill="#9c2a91"/>
<circle cx="239.6" cy="246.8" r="2.4" fill="#9c2a91"/>
<circle cx="249.0" cy="247.6" r="2.4" fill="#9c2a91"/>
<circle cx="253.7" cy="249.0" r="2.4" fill="#9c2a91"/>
<circle cx="257.3" cy="249.1" r="2.4" fill="#9c2a91"/>
<circle cx="251.0" cy="251.4" r="2.4" fill="#9c2a91"/>
<circle cx="248.8" cy="253.5" r="2.4" fill="#9c2a91"/>
<circle cx="253.7" cy="253.9" r="2.4" fill="#9c2a91"/>
<circle cx="245.9" cy="254.9" r="2.4" fill="#9c2a91"/>
<circle cx="251.6" cy="259.8" r="2.4" fill="#9c2a91"/>
<circle cx="273.5" cy="240.7" r="2.4" fill="#c57dbf" fill-opacity="0.7"/>
<circle cx="274.1" cy="245.9" r="2.4" fill="#c57dbf" fill-opacity="0.7"/>
<circle cx="277.1" cy="248.0" r="2.4" fill="#c57dbf" fill-opacity="0.7"/>
<circle cx="274.0" cy="249.1" r="2.4" fill="#c57dbf" fill-opacity="0.7"/>
<circle cx="270.6" cy="249.4" r="2.4" fill="#c57dbf" fill-opacity="0.7"/>
<circle cx="266.7" cy="249.5" r="2.4" fill="#c57dbf" fill-opacity="0.7"/>
<circle cx="280.2" cy="250.1" r="2.4" fill="#c57dbf" fill-opacity="0.7"/>
<circle cx="263.5" cy="250.2" r="2.4" fill="#c57dbf" fill-opacity="0.7"/>
<circle cx="283.6" cy="250.7" r="2.4" fill="#c57dbf" fill-opacity="0.7"/>
<circle cx="277.1" cy="251.4" r="2.4" fill="#c57dbf" fill-opacity="0.7"/>
<circle cx="263.8" cy="251.7" r="2.4" fill="#c57dbf" fill-opacity="0.7"/>
<circle cx="273.0" cy="252.3" r="2.4" fill="#c57dbf" fill-opacity="0.7"/>
<circle cx="269.4" cy="252.5" r="2.4" fill="#c57dbf" fill-opacity="0.7"/>
<circle cx="280.6" cy="253.1" r="2.4" fill="#c57dbf" fill-opacity="0.7"/>
<circle cx="274.1" cy="255.3" r="2.4" fill="#c57dbf" fill-opacity="0.7"/>
<circle cx="270.9" cy="256.0" r="2.4" fill="#c57dbf" fill-opacity="0.7"/>
<circle cx="278.2" cy="256.2" r="2.4" fill="#c57dbf" fill-opacity="0.7"/>
<circle cx="268.0" cy="256.5" r="2.4" fill="#c57dbf" fill-opacity="0.7"/>
<circle cx="264.2" cy="256.7" r="2.4" fill="#c57dbf" fill-opacity="0.7"/>
<circle cx="281.0" cy="257.6" r="2.4" fill="#c57dbf" fill-opacity="0.7"/>
<circle cx="264.1" cy="257.7" r="2.4" fill="#c57dbf" fill-opacity="0.7"/>
<circle cx="273.6" cy="260.4" r="2.4" fill="#c57dbf" fill-opacity="0.7"/>
<circle cx="270.8" cy="262.7" r="2.4" fill="#c57dbf" fill-opacity="0.7"/>
<circle cx="273.4" cy="269.3" r="2.4" fill="#c57dbf" fill-opacity="0.7"/>
<circle cx="305.5" cy="243.5" r="2.4" fill="#707070"/>
<circle cx="309.2" cy="244.1" r="2.4" fill="#707070"/>
<circle cx="301.9" cy="244.9" r="2.4" fill="#707070"/>
<circle cx="298.2" cy="244.9" r="2.4" fill="#707070"/>
<circle cx="306.0" cy="246.6" r="2.4" fill="#707070"/>
<circle cx="311.8" cy="246.8" r="2.4" fill="#707070"/>
<circle cx="308.3" cy="249.2" r="2.4" fill="#707070"/>
<circle cx="304.1" cy="249.5" r="2.4" fill="#707070"/>
<circle cx="300.5" cy="249.8" r="2.4" fill="#707070"/>
<circle cx="297.3" cy="250.0" r="2.4" fill="#707070"/>
<circle cx="311.2" cy="250.1" r="2.4" fill="#707070"/>
<circle cx="314.2" cy="250.2" r="2.4" fill="#707070"/>
<circle cx="316.2" cy="250.5" r="2.4" fill="#707070"/>
<circle cx="316.3" cy="251.1" r="2.4" fill="#707070"/>
<circle cx="316.9" cy="251.2" r="2.4" fill="#707070"/>
<circle cx="294.8" cy="251.6" r="2.4" fill="#707070"/>
<circle cx="316.4" cy="251.8" r="2.4" fill="#707070"/>
<circle cx="305.9" cy="252.1" r="2.4" fill="#707070"/>
<circle cx="302.9" cy="254.1" r="2.4" fill="#707070"/>
<circle cx="308.3" cy="254.8" r="2.4" fill="#707070"/>
<circle cx="311.4" cy="256.1" r="2.4" fill="#707070"/>
<circle cx="305.6" cy="256.7" r="2.4" fill="#707070"/>
<circle cx="302.5" cy="257.3" r="2.4" fill="#707070"/>
<circle cx="306.1" cy="260.4" r="2.4" fill="#707070"/>
<circle cx="327.9" cy="238.3" r="2.4" fill="#b8b8b8" fill-opacity="0.85"/>
<circle cx="329.8" cy="240.6" r="2.4" fill="#b8b8b8" fill-opacity="0.85"/>
<circle cx="327.5" cy="245.2" r="2.4" fill="#b8b8b8" fill-opacity="0.85"/>
<circle cx="331.6" cy="245.9" r="2.4" fill="#b8b8b8" fill-opacity="0.85"/>
<circle cx="323.9" cy="246.4" r="2.4" fill="#b8b8b8" fill-opacity="0.85"/>
<circle cx="334.8" cy="247.0" r="2.4" fill="#b8b8b8" fill-opacity="0.85"/>
<circle cx="321.1" cy="247.6" r="2.4" fill="#b8b8b8" fill-opacity="0.85"/>
<circle cx="337.9" cy="248.0" r="2.4" fill="#b8b8b8" fill-opacity="0.85"/>
<circle cx="327.9" cy="249.6" r="2.4" fill="#b8b8b8" fill-opacity="0.85"/>
<circle cx="325.0" cy="249.8" r="2.4" fill="#b8b8b8" fill-opacity="0.85"/>
<circle cx="330.9" cy="251.3" r="2.4" fill="#b8b8b8" fill-opacity="0.85"/>
<circle cx="322.4" cy="251.4" r="2.4" fill="#b8b8b8" fill-opacity="0.85"/>
<circle cx="326.7" cy="252.3" r="2.4" fill="#b8b8b8" fill-opacity="0.85"/>
<circle cx="334.8" cy="252.4" r="2.4" fill="#b8b8b8" fill-opacity="0.85"/>
<circle cx="319.7" cy="253.3" r="2.4" fill="#b8b8b8" fill-opacity="0.85"/>
<circle cx="337.6" cy="253.7" r="2.4" fill="#b8b8b8" fill-opacity="0.85"/>
<circle cx="337.1" cy="253.7" r="2.4" fill="#b8b8b8" fill-opacity="0.85"/>
<circle cx="337.0" cy="254.0" r="2.4" fill="#b8b8b8" fill-opacity="0.85"/>
<circle cx="329.3" cy="254.3" r="2.4" fill="#b8b8b8" fill-opacity="0.85"/>
<circle cx="327.3" cy="256.6" r="2.4" fill="#b8b8b8" fill-opacity="0.85"/>
<circle cx="324.0" cy="257.0" r="2.4" fill="#b8b8b8" fill-opacity="0.85"/>
<circle cx="330.9" cy="259.5" r="2.4" fill="#b8b8b8" fill-opacity="0.85"/>
<circle cx="327.5" cy="261.2" r="2.4" fill="#b8b8b8" fill-opacity="0.85"/>
<circle cx="326.8" cy="265.3" r="2.4" fill="#b8b8b8" fill-opacity="0.85"/>
<circle cx="355.9" cy="248.5" r="2.4" fill="#262d7a"/>
<circle cx="359.1" cy="248.5" r="2.4" fill="#262d7a"/>
<circle cx="356.5" cy="253.2" r="2.4" fill="#262d7a"/>
<circle cx="360.7" cy="253.6" r="2.4" fill="#262d7a"/>
<circle cx="352.3" cy="253.8" r="2.4" fill="#262d7a"/>
<circle cx="349.3" cy="255.8" r="2.4" fill="#262d7a"/>
<circle cx="356.3" cy="256.6" r="2.4" fill="#262d7a"/>
<circle cx="359.9" cy="256.9" r="2.4" fill="#262d7a"/>
<circle cx="363.4" cy="257.0" r="2.4" fill="#262d7a"/>
<circle cx="352.7" cy="257.4" r="2.4" fill="#262d7a"/>
<circle cx="346.8" cy="257.6" r="2.4" fill="#262d7a"/>
<circle cx="368.0" cy="257.7" r="2.4" fill="#262d7a"/>
<circle cx="344.2" cy="257.7" r="2.4" fill="#262d7a"/>
<circle cx="344.4" cy="258.1" r="2.4" fill="#262d7a"/>
<circle cx="349.8" cy="258.8" r="2.4" fill="#262d7a"/>
<circle cx="356.1" cy="259.8" r="2.4" fill="#262d7a"/>
<circle cx="361.6" cy="259.8" r="2.4" fill="#262d7a"/>
<circle cx="365.8" cy="260.2" r="2.4" fill="#262d7a"/>
<circle cx="369.0" cy="260.3" r="2.4" fill="#262d7a"/>
<circle cx="352.7" cy="260.5" r="2.4" fill="#262d7a"/>
<circle cx="348.0" cy="261.5" r="2.4" fill="#262d7a"/>
<circle cx="356.0" cy="262.8" r="2.4" fill="#262d7a"/>
<circle cx="359.3" cy="263.0" r="2.4" fill="#262d7a"/>
<circle cx="352.2" cy="265.0" r="2.4" fill="#262d7a"/>
<circle cx="355.9" cy="266.3" r="2.4" fill="#262d7a"/>
<circle cx="356.5" cy="270.4" r="2.4" fill="#262d7a"/>
<circle cx="379.4" cy="248.7" r="2.4" fill="#7c82bd" fill-opacity="0.7"/>
<circle cx="383.1" cy="249.2" r="2.4" fill="#7c82bd" fill-opacity="0.7"/>
<circle cx="374.7" cy="249.9" r="2.4" fill="#7c82bd" fill-opacity="0.7"/>
<circle cx="386.4" cy="250.0" r="2.4" fill="#7c82bd" fill-opacity="0.7"/>
<circle cx="389.4" cy="250.9" r="2.4" fill="#7c82bd" fill-opacity="0.7"/>
<circle cx="378.4" cy="251.6" r="2.4" fill="#7c82bd" fill-opacity="0.7"/>
<circle cx="381.7" cy="252.6" r="2.4" fill="#7c82bd" fill-opacity="0.7"/>
<circle cx="373.0" cy="252.6" r="2.4" fill="#7c82bd" fill-opacity="0.7"/>
<circle cx="369.7" cy="252.7" r="2.4" fill="#7c82bd" fill-opacity="0.7"/>
<circle cx="376.6" cy="254.1" r="2.4" fill="#7c82bd" fill-opacity="0.7"/>
<circle cx="384.8" cy="254.5" r="2.4" fill="#7c82bd" fill-opacity="0.7"/>
<circle cx="388.1" cy="255.0" r="2.4" fill="#7c82bd" fill-opacity="0.7"/>
<circle cx="379.4" cy="255.5" r="2.4" fill="#7c82bd" fill-opacity="0.7"/>
<circle cx="374.0" cy="255.8" r="2.4" fill="#7c82bd" fill-opacity="0.7"/>
<circle cx="382.5" cy="256.5" r="2.4" fill="#7c82bd" fill-opacity="0.7"/>
<circle cx="370.3" cy="256.7" r="2.4" fill="#7c82bd" fill-opacity="0.7"/>
<circle cx="392.2" cy="257.2" r="2.4" fill="#7c82bd" fill-opacity="0.7"/>
<circle cx="367.3" cy="257.4" r="2.4" fill="#7c82bd" fill-opacity="0.7"/>
<circle cx="393.1" cy="257.4" r="2.4" fill="#7c82bd" fill-opacity="0.7"/>
<circle cx="377.1" cy="257.4" r="2.4" fill="#7c82bd" fill-opacity="0.7"/>
<circle cx="379.7" cy="260.0" r="2.4" fill="#7c82bd" fill-opacity="0.7"/>
<circle cx="383.6" cy="260.2" r="2.4" fill="#7c82bd" fill-opacity="0.7"/>
<circle cx="375.4" cy="261.1" r="2.4" fill="#7c82bd" fill-opacity="0.7"/>
<circle cx="386.1" cy="262.3" r="2.4" fill="#7c82bd" fill-opacity="0.7"/>
<circle cx="250.8" cy="243.7" r="3.1" fill="#000"/>
<circle cx="273.0" cy="254.2" r="3.1" fill="#9a9a9a"/>
<circle cx="305.7" cy="251.2" r="3.1" fill="#000"/>
<circle cx="327.9" cy="252.6" r="3.1" fill="#9e9e9e"/>
<circle cx="356.0" cy="261.2" r="3.1" fill="#000"/>
<circle cx="378.2" cy="256.1" r="3.1" fill="#9e9e9e"/>
<line x1="253.2" y1="199.2" x2="303.6" y2="199.2" stroke="#777" stroke-width="0.9"/>
<polygon points="273.60,193.04 274.23,194.43 275.75,194.60 274.62,195.63 274.93,197.13 273.60,196.38 272.27,197.13 272.58,195.63 271.45,194.60 272.97,194.43" fill="#231f20"/>
<polygon points="278.10,193.04 278.73,194.43 280.25,194.60 279.12,195.63 279.43,197.13 278.10,196.38 276.77,197.13 277.08,195.63 275.95,194.60 277.47,194.43" fill="#231f20"/>
<polygon points="282.60,193.04 283.23,194.43 284.75,194.60 283.62,195.63 283.93,197.13 282.60,196.38 281.27,197.13 281.58,195.63 280.45,194.60 281.97,194.43" fill="#231f20"/>
<line x1="254.6" y1="214.0" x2="273.2" y2="214.0" stroke="#777" stroke-width="0.9"/>
<polygon points="259.40,207.84 260.03,209.23 261.55,209.40 260.42,210.43 260.73,211.93 259.40,211.17 258.07,211.93 258.38,210.43 257.25,209.40 258.77,209.23" fill="#231f20"/>
<polygon points="263.90,207.84 264.53,209.23 266.05,209.40 264.92,210.43 265.23,211.93 263.90,211.17 262.57,211.93 262.88,210.43 261.75,209.40 263.27,209.23" fill="#231f20"/>
<polygon points="268.40,207.84 269.03,209.23 270.55,209.40 269.42,210.43 269.73,211.93 268.40,211.17 267.07,211.93 267.38,210.43 266.25,209.40 267.77,209.23" fill="#231f20"/>
<line x1="306.0" y1="211.4" x2="355.1" y2="211.4" stroke="#777" stroke-width="0.9"/>
<polygon points="326.10,205.24 326.73,206.63 328.25,206.80 327.12,207.83 327.43,209.33 326.10,208.57 324.77,209.33 325.08,207.83 323.95,206.80 325.47,206.63" fill="#231f20"/>
<polygon points="330.60,205.24 331.23,206.63 332.75,206.80 331.62,207.83 331.93,209.33 330.60,208.57 329.27,209.33 329.58,207.83 328.45,206.80 329.97,206.63" fill="#231f20"/>
<polygon points="335.10,205.24 335.73,206.63 337.25,206.80 336.12,207.83 336.43,209.33 335.10,208.57 333.77,209.33 334.08,207.83 332.95,206.80 334.47,206.63" fill="#231f20"/>
<line x1="304.4" y1="229.7" x2="327.8" y2="229.7" stroke="#777" stroke-width="0.9"/>
<text x="316.1" y="226.0" font-size="8.5" text-anchor="middle">NS</text>
<line x1="354.1" y1="230.6" x2="377.6" y2="230.6" stroke="#777" stroke-width="0.9"/>
<polygon points="366.00,224.34 366.63,225.73 368.15,225.90 367.02,226.93 367.33,228.43 366.00,227.67 364.67,228.43 364.98,226.93 363.85,225.90 365.37,225.73" fill="#231f20"/>
<line x1="249.8" y1="283.1" x2="257.2" y2="283.1" stroke="#9c2a91" stroke-width="1.3"/>
<text x="261.0" y="285.6" font-size="8.9">Butanone</text>
<line x1="249.8" y1="292.8" x2="257.2" y2="292.8" stroke="#707070" stroke-width="1.3"/>
<text x="261.0" y="295.2" font-size="8.9">No odor</text>
<line x1="249.8" y1="302.4" x2="257.2" y2="302.4" stroke="#262d7a" stroke-width="1.3"/>
<text x="261.0" y="304.9" font-size="8.9">Octanol</text>
<text x="241.1" y="321.1" font-size="8.69">Real Shuffle</text>
<text x="294.0" y="321.1" font-size="8.69">Real Shuffle</text>
<text x="347.7" y="321.1" font-size="8.69">Real Shuffle</text>
<text x="247.5" y="333.9" font-size="8.86">1 dot = 1 plate with 20–100 animals</text>
<text x="405.2" y="176.0" font-size="13" fill="#000" font-weight="bold">g</text>
<rect x="411.4" y="202.9" width="96.9" height="109.8" fill="none" stroke="#5a5a5a" stroke-width="0.8"/>
<circle cx="418.0" cy="220.4" r="1.5" fill="#000"/>
<text x="425.0" y="217.4" font-size="8.9">Attractive</text>
<text x="425.0" y="227.4" font-size="8.9">odor</text>
<polygon points="438.8,264.1 438.9,264.3 439.0,264.5 439.1,264.8 439.2,265.2 439.3,265.5 439.4,265.9 439.6,266.3 439.7,266.7 439.9,267.2 440.1,267.6 440.3,267.9 440.5,268.3 440.7,268.6 440.9,268.9 441.2,269.2 441.4,269.5 441.7,269.9 442.0,270.2 442.3,270.5 442.6,270.7 443.0,271.0 443.4,271.2 443.8,271.4 444.4,271.5 445.0,271.5 445.6,271.3 446.0,271.1 446.4,270.8 446.7,270.6 447.0,270.3 447.3,270.1 447.5,269.8 447.7,269.7 447.9,269.5 448.0,269.4 448.2,269.3 448.4,269.2 448.6,269.1 448.9,269.0 449.1,268.9 449.3,268.8 449.5,268.8 449.6,268.7 449.7,268.7 449.8,268.7 449.9,268.7 450.0,268.7 450.0,268.7 450.1,268.8 450.3,268.8 450.4,268.9 450.6,269.1 450.8,269.3 451.0,269.4 451.3,269.7 451.5,269.9 451.7,270.1 451.9,270.4 452.1,270.6 452.3,270.9 452.5,271.1 452.6,271.4 452.8,271.7 452.9,272.0 453.1,272.3 453.3,272.6 453.4,273.0 453.6,273.3 453.7,273.6 453.9,274.0 454.0,274.3 454.2,274.6 454.4,274.8 454.5,275.0 454.7,275.3 454.9,275.5 455.1,275.8 455.3,276.0 455.5,276.2 455.7,276.4 455.9,276.6 456.0,276.8 456.2,276.9 456.3,277.1 456.7,276.9 456.7,276.8 456.8,276.6 456.8,276.3 456.9,276.1 456.9,275.8 456.9,275.5 457.0,275.2 457.0,274.8 457.0,274.5 456.9,274.1 456.9,273.8 456.8,273.4 456.7,273.1 456.6,272.8 456.5,272.5 456.3,272.1 456.2,271.7 456.0,271.3 455.8,271.0 455.6,270.6 455.4,270.2 455.2,269.8 455.0,269.5 454.7,269.1 454.5,268.8 454.2,268.5 454.0,268.2 453.7,267.9 453.4,267.6 453.1,267.3 452.8,267.0 452.5,266.7 452.1,266.5 451.8,266.2 451.4,266.0 451.0,265.9 450.5,265.8 450.1,265.7 449.7,265.7 449.3,265.8 448.9,265.8 448.5,265.9 448.2,266.0 447.9,266.2 447.6,266.3 447.4,266.4 447.1,266.5 446.8,266.7 446.5,266.9 446.1,267.1 445.8,267.4 445.5,267.6 445.2,267.9 445.0,268.1 444.8,268.3 444.6,268.4 444.5,268.5 444.4,268.5 444.5,268.5 444.6,268.5 444.7,268.5 444.6,268.5 444.5,268.4 444.3,268.3 444.2,268.2 443.9,268.0 443.7,267.9 443.5,267.6 443.2,267.4 443.0,267.2 442.7,266.9 442.5,266.7 442.2,266.5 442.0,266.3 441.8,266.0 441.5,265.7 441.2,265.4 441.0,265.1 440.7,264.8 440.5,264.5 440.3,264.2 440.1,263.9 439.9,263.7 439.8,263.5" fill="#000"/>
<line x1="437.0" y1="262.2" x2="416.5" y2="247.1" stroke="#231f20" stroke-width="0.75"/>
<polygon points="415.0,246.0 418.1,246.6 416.5,248.8" fill="#231f20"/>
<path d="M438,262 Q441,257.5 446.5,255.5" fill="none" stroke="#1b8a8c" stroke-width="0.9" stroke-linecap="butt" stroke-linejoin="round" stroke-dasharray="1.5,1.4"/>
<polygon points="447.5,255.0 445.9,257.0 444.9,255.0" fill="#1b8a8c"/>
<path d="M437.5,264 Q433,267.5 432.5,273" fill="none" stroke="#f0592b" stroke-width="0.9" stroke-linecap="butt" stroke-linejoin="round" stroke-dasharray="1.5,1.4"/>
<polygon points="432.3,274.5 431.4,272.1 433.6,272.3" fill="#f0592b"/>
<text x="435.3" y="252.8" font-size="8.5" fill="#1b8a8c">D</text>
<text x="424.0" y="266.8" font-size="8.5" fill="#f0592b">V</text>
<text x="434.5" y="276.0" font-size="8.8" transform="rotate(29 434.5 276.0)">Ventral</text>
<polygon points="483.0,259.4 482.8,259.5 482.5,259.6 482.3,259.7 481.9,259.9 481.6,260.1 481.2,260.3 480.9,260.5 480.5,260.7 480.1,260.9 479.8,261.2 479.4,261.4 479.1,261.7 478.9,261.9 478.6,262.1 478.4,262.3 478.1,262.6 477.8,262.8 477.6,263.1 477.4,263.4 477.1,263.7 476.9,264.1 476.7,264.4 476.6,264.8 476.5,265.3 476.4,265.7 476.4,266.2 476.5,266.6 476.5,267.0 476.6,267.4 476.7,267.7 476.9,268.1 477.0,268.4 477.1,268.8 477.3,269.1 477.4,269.4 477.5,269.7 477.7,270.0 478.0,270.4 478.2,270.8 478.4,271.1 478.6,271.4 478.8,271.7 479.0,271.9 479.2,272.1 479.3,272.3 479.3,272.5 479.4,272.6 479.4,272.7 479.4,272.9 479.4,273.1 479.4,273.3 479.4,273.5 479.3,273.8 479.3,274.0 479.2,274.3 479.1,274.6 479.0,274.9 478.8,275.2 478.7,275.5 478.6,275.8 478.4,276.1 478.2,276.4 478.0,276.8 477.7,277.2 477.4,277.6 477.2,278.0 477.0,278.5 476.9,279.0 476.9,279.5 476.8,279.9 476.8,280.3 476.8,280.7 477.2,280.9 477.5,280.8 477.9,280.7 478.3,280.6 478.8,280.4 479.2,280.1 479.7,279.8 480.0,279.4 480.4,279.0 480.7,278.5 480.9,278.1 481.2,277.6 481.4,277.2 481.6,276.8 481.8,276.4 481.9,276.1 482.1,275.7 482.2,275.3 482.4,274.9 482.5,274.5 482.5,274.1 482.6,273.6 482.6,273.2 482.6,272.7 482.6,272.3 482.5,271.8 482.3,271.3 482.1,270.8 481.9,270.5 481.7,270.1 481.4,269.8 481.2,269.5 481.0,269.2 480.8,269.0 480.7,268.7 480.6,268.5 480.5,268.3 480.3,268.1 480.2,267.8 480.1,267.5 480.0,267.2 479.9,266.9 479.8,266.7 479.7,266.5 479.6,266.3 479.6,266.1 479.5,265.9 479.5,265.8 479.5,265.7 479.5,265.6 479.6,265.5 479.6,265.4 479.7,265.2 479.8,265.0 479.9,264.8 480.0,264.6 480.2,264.3 480.3,264.1 480.5,263.8 480.7,263.6 480.9,263.3 481.0,263.1 481.3,262.8 481.5,262.5 481.8,262.2 482.0,261.9 482.3,261.6 482.6,261.4 482.8,261.1 483.1,260.8 483.3,260.6 483.5,260.4 483.6,260.2" fill="#000"/>
<line x1="485.8" y1="255.5" x2="494.0" y2="231.0" stroke="#231f20" stroke-width="0.75"/>
<polygon points="494.6,229.2 495.0,232.4 492.4,231.5" fill="#231f20"/>
<path d="M484.5,256 Q481,252.5 474.5,252.5" fill="none" stroke="#1b8a8c" stroke-width="0.9" stroke-linecap="butt" stroke-linejoin="round" stroke-dasharray="1.5,1.4"/>
<polygon points="473.5,252.5 475.9,251.6 475.7,253.8" fill="#1b8a8c"/>
<path d="M487,256.5 Q492,256 496,261" fill="none" stroke="#f0592b" stroke-width="0.9" stroke-linecap="butt" stroke-linejoin="round" stroke-dasharray="1.5,1.4"/>
<polygon points="496.5,262.0 494.2,260.7 496.1,259.4" fill="#f0592b"/>
<text x="475.8" y="247.6" font-size="8.5" fill="#1b8a8c">V</text>
<text x="496.5" y="255.4" font-size="8.5" fill="#f0592b">D</text>
<text x="438.9" y="294.9" font-size="8.9" text-anchor="middle">Dorsal</text>
<text x="438.9" y="305.0" font-size="8.9" text-anchor="middle">is correct</text>
<text x="485.5" y="294.9" font-size="8.9" text-anchor="middle">Ventral</text>
<text x="485.5" y="305.0" font-size="8.9" text-anchor="middle">is correct</text>
<text x="520.6" y="176.0" font-size="13" fill="#000" font-weight="bold">h</text>
<line x1="561.4" y1="178.5" x2="561.4" y2="336.5" stroke="#231f20" stroke-width="0.8"/>
<line x1="561.4" y1="178.8" x2="563.4" y2="178.8" stroke="#231f20" stroke-width="0.7"/>
<text x="557.8" y="181.6" font-size="7.8" text-anchor="end">0.7</text>
<line x1="561.4" y1="218.2" x2="563.4" y2="218.2" stroke="#231f20" stroke-width="0.7"/>
<text x="557.8" y="221.0" font-size="7.8" text-anchor="end">0.6</text>
<line x1="561.4" y1="257.6" x2="563.4" y2="257.6" stroke="#231f20" stroke-width="0.7"/>
<text x="557.8" y="260.4" font-size="7.8" text-anchor="end">0.5</text>
<line x1="561.4" y1="297.0" x2="563.4" y2="297.0" stroke="#231f20" stroke-width="0.7"/>
<text x="557.8" y="299.8" font-size="7.8" text-anchor="end">0.4</text>
<line x1="561.4" y1="336.4" x2="563.4" y2="336.4" stroke="#231f20" stroke-width="0.7"/>
<text x="557.8" y="339.2" font-size="7.8" text-anchor="end">0.3</text>
<text x="529.5" y="262.0" font-size="9.2" text-anchor="middle" transform="rotate(-90 529.5 262.0)">Fraction reorientations in</text>
<text x="539.8" y="262.0" font-size="9.2" text-anchor="middle" transform="rotate(-90 539.8 262.0)">correct D/V direction</text>
<line x1="561.4" y1="257.6" x2="685.0" y2="257.6" stroke="#999" stroke-width="0.8" stroke-dasharray="3,2.2"/>
<circle cx="574.0" cy="243.2" r="2.2" fill="#a83fa0"/>
<circle cx="577.2" cy="243.4" r="2.2" fill="#a83fa0"/>
<circle cx="569.6" cy="243.8" r="2.2" fill="#a83fa0"/>
<circle cx="581.9" cy="243.8" r="2.2" fill="#a83fa0"/>
<circle cx="566.5" cy="244.2" r="2.2" fill="#a83fa0"/>
<circle cx="574.5" cy="246.2" r="2.2" fill="#a83fa0"/>
<circle cx="571.6" cy="247.7" r="2.2" fill="#a83fa0"/>
<circle cx="576.7" cy="248.9" r="2.2" fill="#a83fa0"/>
<circle cx="568.4" cy="249.0" r="2.2" fill="#a83fa0"/>
<circle cx="573.6" cy="249.9" r="2.2" fill="#a83fa0"/>
<circle cx="580.3" cy="250.1" r="2.2" fill="#a83fa0"/>
<circle cx="564.8" cy="251.0" r="2.2" fill="#a83fa0"/>
<circle cx="583.2" cy="251.3" r="2.2" fill="#a83fa0"/>
<circle cx="575.6" cy="252.6" r="2.2" fill="#a83fa0"/>
<circle cx="572.4" cy="253.1" r="2.2" fill="#a83fa0"/>
<circle cx="569.1" cy="253.1" r="2.2" fill="#a83fa0"/>
<circle cx="580.1" cy="254.4" r="2.2" fill="#a83fa0"/>
<circle cx="574.3" cy="255.9" r="2.2" fill="#a83fa0"/>
<circle cx="577.4" cy="256.0" r="2.2" fill="#a83fa0"/>
<circle cx="571.0" cy="256.5" r="2.2" fill="#a83fa0"/>
<circle cx="574.4" cy="258.9" r="2.2" fill="#a83fa0"/>
<circle cx="574.1" cy="262.6" r="2.2" fill="#a83fa0"/>
<circle cx="599.8" cy="251.5" r="2.2" fill="#8a8a8a"/>
<circle cx="594.9" cy="251.8" r="2.2" fill="#8a8a8a"/>
<circle cx="603.6" cy="252.2" r="2.2" fill="#8a8a8a"/>
<circle cx="599.6" cy="255.0" r="2.2" fill="#8a8a8a"/>
<circle cx="596.1" cy="255.0" r="2.2" fill="#8a8a8a"/>
<circle cx="604.9" cy="255.1" r="2.2" fill="#8a8a8a"/>
<circle cx="592.1" cy="255.2" r="2.2" fill="#8a8a8a"/>
<circle cx="609.9" cy="255.9" r="2.2" fill="#8a8a8a"/>
<circle cx="589.1" cy="256.0" r="2.2" fill="#8a8a8a"/>
<circle cx="607.1" cy="257.3" r="2.2" fill="#8a8a8a"/>
<circle cx="598.3" cy="257.9" r="2.2" fill="#8a8a8a"/>
<circle cx="601.3" cy="259.5" r="2.2" fill="#8a8a8a"/>
<circle cx="594.2" cy="259.5" r="2.2" fill="#8a8a8a"/>
<circle cx="604.6" cy="259.6" r="2.2" fill="#8a8a8a"/>
<circle cx="590.9" cy="260.2" r="2.2" fill="#8a8a8a"/>
<circle cx="607.7" cy="260.3" r="2.2" fill="#8a8a8a"/>
<circle cx="610.2" cy="260.7" r="2.2" fill="#8a8a8a"/>
<circle cx="596.9" cy="261.3" r="2.2" fill="#8a8a8a"/>
<circle cx="610.3" cy="262.2" r="2.2" fill="#8a8a8a"/>
<circle cx="599.9" cy="263.5" r="2.2" fill="#8a8a8a"/>
<circle cx="595.2" cy="263.9" r="2.2" fill="#8a8a8a"/>
<circle cx="604.3" cy="264.0" r="2.2" fill="#8a8a8a"/>
<circle cx="640.1" cy="245.9" r="2.0" fill="#262d7a"/>
<circle cx="642.1" cy="248.1" r="2.0" fill="#262d7a"/>
<circle cx="638.8" cy="249.5" r="2.0" fill="#262d7a"/>
<circle cx="635.7" cy="249.9" r="2.0" fill="#262d7a"/>
<circle cx="645.1" cy="250.4" r="2.0" fill="#262d7a"/>
<circle cx="632.9" cy="251.2" r="2.0" fill="#262d7a"/>
<circle cx="641.1" cy="251.8" r="2.0" fill="#262d7a"/>
<circle cx="649.0" cy="252.0" r="2.0" fill="#262d7a"/>
<circle cx="629.4" cy="252.1" r="2.0" fill="#262d7a"/>
<circle cx="650.4" cy="252.6" r="2.0" fill="#262d7a"/>
<circle cx="638.4" cy="253.3" r="2.0" fill="#262d7a"/>
<circle cx="643.8" cy="253.8" r="2.0" fill="#262d7a"/>
<circle cx="634.2" cy="254.4" r="2.0" fill="#262d7a"/>
<circle cx="631.2" cy="254.7" r="2.0" fill="#262d7a"/>
<circle cx="646.8" cy="254.9" r="2.0" fill="#262d7a"/>
<circle cx="650.8" cy="255.2" r="2.0" fill="#262d7a"/>
<circle cx="640.2" cy="256.0" r="2.0" fill="#262d7a"/>
<circle cx="637.2" cy="256.7" r="2.0" fill="#262d7a"/>
<circle cx="643.2" cy="257.8" r="2.0" fill="#262d7a"/>
<circle cx="633.8" cy="258.1" r="2.0" fill="#262d7a"/>
<circle cx="665.5" cy="250.5" r="2.2" fill="#8a8a8a"/>
<circle cx="662.3" cy="252.5" r="2.2" fill="#8a8a8a"/>
<circle cx="670.1" cy="252.8" r="2.2" fill="#8a8a8a"/>
<circle cx="673.4" cy="252.8" r="2.2" fill="#8a8a8a"/>
<circle cx="665.1" cy="256.3" r="2.2" fill="#8a8a8a"/>
<circle cx="662.1" cy="256.5" r="2.2" fill="#8a8a8a"/>
<circle cx="668.4" cy="256.8" r="2.2" fill="#8a8a8a"/>
<circle cx="671.7" cy="257.0" r="2.2" fill="#8a8a8a"/>
<circle cx="658.9" cy="258.0" r="2.2" fill="#8a8a8a"/>
<circle cx="674.3" cy="258.1" r="2.2" fill="#8a8a8a"/>
<circle cx="656.5" cy="258.2" r="2.2" fill="#8a8a8a"/>
<circle cx="664.8" cy="260.6" r="2.2" fill="#8a8a8a"/>
<circle cx="668.2" cy="260.8" r="2.2" fill="#8a8a8a"/>
<circle cx="660.6" cy="261.8" r="2.2" fill="#8a8a8a"/>
<circle cx="672.9" cy="261.8" r="2.2" fill="#8a8a8a"/>
<circle cx="674.4" cy="262.7" r="2.2" fill="#8a8a8a"/>
<circle cx="657.5" cy="263.0" r="2.2" fill="#8a8a8a"/>
<circle cx="665.9" cy="263.7" r="2.2" fill="#8a8a8a"/>
<circle cx="669.0" cy="264.6" r="2.2" fill="#8a8a8a"/>
<circle cx="664.1" cy="266.2" r="2.2" fill="#8a8a8a"/>
<circle cx="574.1" cy="248.9" r="3.1" fill="#000"/>
<circle cx="599.4" cy="257.3" r="3.1" fill="#000"/>
<circle cx="639.1" cy="253.6" r="3.1" fill="#000"/>
<circle cx="663.9" cy="258.6" r="3.1" fill="#000"/>
<line x1="573.8" y1="229.0" x2="599.4" y2="229.0" stroke="#777" stroke-width="0.9"/>
<polygon points="582.50,222.94 583.13,224.33 584.65,224.50 583.52,225.53 583.83,227.03 582.50,226.27 581.17,227.03 581.48,225.53 580.35,224.50 581.87,224.33" fill="#231f20"/>
<polygon points="587.00,222.94 587.63,224.33 589.15,224.50 588.02,225.53 588.33,227.03 587.00,226.27 585.67,227.03 585.98,225.53 584.85,224.50 586.37,224.33" fill="#231f20"/>
<polygon points="591.50,222.94 592.13,224.33 593.65,224.50 592.52,225.53 592.83,227.03 591.50,226.27 590.17,227.03 590.48,225.53 589.35,224.50 590.87,224.33" fill="#231f20"/>
<line x1="638.4" y1="237.7" x2="664.7" y2="237.7" stroke="#777" stroke-width="0.9"/>
<polygon points="651.50,231.54 652.13,232.93 653.65,233.10 652.52,234.13 652.83,235.63 651.50,234.88 650.17,235.63 650.48,234.13 649.35,233.10 650.87,232.93" fill="#231f20"/>
<line x1="569.1" y1="314.1" x2="575.8" y2="314.1" stroke="#a83fa0" stroke-width="1.5"/>
<text x="580.0" y="316.7" font-size="8.9">Butanone</text>
<line x1="569.1" y1="323.1" x2="575.8" y2="323.1" stroke="#2b378c" stroke-width="1.5"/>
<text x="580.0" y="325.7" font-size="8.9">Octanol</text>
<line x1="569.1" y1="332.0" x2="575.8" y2="332.0" stroke="#8a8a8a" stroke-width="1.5"/>
<text x="580.0" y="334.6" font-size="8.9">No odor</text>
<text x="0.3" y="367.2" font-size="13" fill="#000" font-weight="bold">i</text>
<rect x="1.6" y="370.6" width="103.9" height="116.7" fill="none" stroke="#5a5a5a" stroke-width="0.8"/>
<circle cx="13.3" cy="392.2" r="1.5" fill="#000"/>
<text x="14.1" y="387.3" font-size="7.7">Odor</text>
<path d="M42.2,434.3 L18.4,396.1 A45,45 0 0 1 53.1,390.6 Z" fill="#e3d3e8"/>
<path d="M43.1,436.3 L90.5,443.8 A48,48 0 0 1 69.9,476.1 Z" fill="#d6edd3"/>
<polygon points="41.6,413.1 41.5,413.2 41.3,413.3 41.1,413.5 40.8,413.6 40.6,413.8 40.3,414.0 40.0,414.2 39.7,414.4 39.4,414.6 39.1,414.8 38.8,415.1 38.6,415.4 38.4,415.6 38.2,415.9 38.0,416.1 37.8,416.4 37.6,416.7 37.5,417.0 37.3,417.3 37.2,417.7 37.1,418.0 37.0,418.4 37.0,418.8 37.1,419.3 37.2,419.7 37.3,420.1 37.5,420.5 37.7,420.8 37.9,421.1 38.1,421.4 38.3,421.6 38.6,421.9 38.8,422.1 39.0,422.3 39.2,422.6 39.4,422.8 39.6,423.1 39.9,423.3 40.1,423.6 40.4,423.8 40.6,424.0 40.9,424.2 41.1,424.4 41.2,424.5 41.4,424.7 41.5,424.8 41.6,425.0 41.6,425.1 41.7,425.3 41.7,425.5 41.8,425.7 41.8,425.9 41.8,426.1 41.9,426.4 41.9,426.7 41.9,426.9 41.8,427.2 41.8,427.6 41.8,427.9 41.7,428.2 41.7,428.6 41.6,429.0 41.4,429.5 41.3,430.0 41.1,430.5 41.0,431.1 41.0,431.6 41.0,432.2 41.1,432.7 41.2,433.2 41.2,433.6 41.3,433.9 41.7,434.1 42.0,433.9 42.3,433.6 42.6,433.2 43.0,432.9 43.4,432.4 43.7,431.9 44.0,431.4 44.1,430.9 44.3,430.3 44.5,429.8 44.6,429.2 44.7,428.8 44.7,428.3 44.8,427.9 44.8,427.5 44.9,427.1 44.9,426.7 44.9,426.3 44.8,425.9 44.8,425.5 44.7,425.1 44.6,424.7 44.5,424.3 44.4,423.9 44.2,423.5 43.9,423.1 43.7,422.8 43.4,422.5 43.1,422.2 42.9,422.0 42.6,421.7 42.4,421.5 42.1,421.3 42.0,421.2 41.8,421.0 41.6,420.8 41.4,420.6 41.2,420.3 41.0,420.1 40.8,419.9 40.6,419.7 40.4,419.5 40.3,419.3 40.2,419.1 40.1,419.0 40.0,418.9 40.0,418.8 39.9,418.7 39.9,418.7 39.9,418.6 39.9,418.5 39.9,418.3 39.9,418.2 40.0,418.0 40.0,417.8 40.1,417.5 40.2,417.3 40.3,417.1 40.4,416.8 40.4,416.6 40.5,416.4 40.6,416.2 40.8,416.0 41.0,415.7 41.2,415.4 41.4,415.2 41.6,414.9 41.8,414.7 41.9,414.4 42.1,414.2 42.3,414.0 42.4,413.9" fill="#000"/>
<polygon points="43.6,439.5 43.7,439.7 43.7,439.9 43.9,440.2 44.0,440.6 44.1,440.9 44.3,441.3 44.5,441.7 44.7,442.1 44.9,442.5 45.1,442.8 45.4,443.2 45.7,443.5 46.0,443.8 46.2,444.0 46.5,444.2 46.8,444.4 47.2,444.6 47.5,444.7 47.9,444.9 48.2,445.0 48.6,445.0 49.0,445.1 49.5,445.0 49.9,444.9 50.4,444.7 50.8,444.5 51.2,444.2 51.5,443.9 51.7,443.6 51.9,443.3 52.1,443.1 52.3,442.8 52.5,442.6 52.7,442.4 52.8,442.3 52.9,442.2 53.1,442.0 53.4,441.8 53.6,441.7 53.8,441.5 54.1,441.3 54.2,441.2 54.4,441.1 54.6,441.0 54.7,441.0 54.8,441.0 54.8,441.0 54.7,441.0 54.7,441.0 54.8,441.0 54.9,441.1 55.1,441.2 55.3,441.4 55.5,441.6 55.7,441.8 56.0,442.1 56.2,442.3 56.5,442.6 56.7,442.8 57.0,443.1 57.2,443.3 57.4,443.5 57.6,443.7 57.8,443.9 58.0,444.1 58.2,444.4 58.4,444.6 58.6,444.8 58.9,445.1 59.2,445.3 59.5,445.4 59.8,445.6 60.1,445.7 60.5,445.8 60.8,445.8 61.1,445.8 61.4,445.7 61.6,445.7 61.9,445.6 62.1,445.5 62.3,445.5 62.4,445.4 62.5,445.4 62.7,445.3 62.7,444.9 62.6,444.8 62.5,444.7 62.4,444.6 62.2,444.5 62.0,444.4 61.9,444.2 61.7,444.1 61.6,444.0 61.5,443.8 61.4,443.7 61.3,443.5 61.2,443.4 61.1,443.3 61.0,443.1 60.9,443.0 60.8,442.8 60.6,442.6 60.4,442.4 60.2,442.1 60.0,441.9 59.8,441.6 59.5,441.4 59.3,441.1 59.0,440.9 58.8,440.7 58.6,440.5 58.4,440.2 58.1,440.0 57.9,439.7 57.6,439.4 57.3,439.1 57.0,438.9 56.6,438.6 56.2,438.4 55.8,438.2 55.3,438.0 54.7,438.0 54.2,438.0 53.8,438.1 53.4,438.3 53.0,438.5 52.7,438.7 52.4,438.9 52.1,439.1 51.8,439.3 51.6,439.5 51.3,439.6 51.1,439.8 50.8,440.1 50.5,440.4 50.2,440.7 50.0,441.0 49.8,441.2 49.6,441.5 49.4,441.7 49.2,441.9 49.1,442.0 49.0,442.1 49.0,442.1 49.1,442.1 49.1,442.1 49.0,442.1 48.9,442.1 48.8,442.1 48.7,442.0 48.5,442.0 48.3,441.9 48.1,441.9 47.9,441.8 47.7,441.7 47.5,441.6 47.3,441.5 47.1,441.4 46.9,441.2 46.7,441.0 46.4,440.8 46.1,440.5 45.8,440.3 45.5,440.0 45.3,439.7 45.0,439.5 44.8,439.2 44.6,439.0 44.4,438.9" fill="#000"/>
<path d="M41,411 Q40.5,405 33,403" fill="none" stroke="#231f20" stroke-width="0.8" stroke-linecap="butt" stroke-linejoin="round" stroke-dasharray="1.5,1.4"/>
<polygon points="32.0,402.8 34.6,402.3 34.0,404.5" fill="#231f20"/>
<path d="M65,446 Q71,444 73.5,437" fill="none" stroke="#231f20" stroke-width="0.8" stroke-linecap="butt" stroke-linejoin="round" stroke-dasharray="1.5,1.4"/>
<polygon points="74.0,436.0 74.3,438.6 72.1,437.8" fill="#231f20"/>
<text x="39.5" y="404.5" font-size="8">Δ<tspan font-style="italic">θ</tspan></text>
<text x="65" y="453.5" font-size="8">Δ<tspan font-style="italic">θ</tspan></text>
<text x="77.0" y="411.8" font-size="7.9" text-anchor="middle" fill="#9b4fb0">Start direction</text>
<text x="77.0" y="420.2" font-size="7.9" text-anchor="middle" fill="#9b4fb0">0–45°</text>
<text x="30.6" y="462.7" font-size="7.9" text-anchor="middle" fill="#6cc06c">Start direction</text>
<text x="30.6" y="470.8" font-size="7.9" text-anchor="middle" fill="#6cc06c">135–180°</text>
<text x="106.8" y="367.2" font-size="13" fill="#000" font-weight="bold">j</text>
<text x="185.2" y="365.7" font-size="8.9" text-anchor="middle">Butanone</text>
<line x1="146.9" y1="367.0" x2="146.9" y2="470.3" stroke="#231f20" stroke-width="0.8"/>
<line x1="146.9" y1="470.3" x2="219.8" y2="470.3" stroke="#231f20" stroke-width="0.8"/>
<line x1="146.9" y1="367.4" x2="148.9" y2="367.4" stroke="#231f20" stroke-width="0.7"/>
<text x="143.0" y="370.2" font-size="7.8" text-anchor="end">1.5</text>
<line x1="146.9" y1="401.7" x2="148.9" y2="401.7" stroke="#231f20" stroke-width="0.7"/>
<text x="143.0" y="404.5" font-size="7.8" text-anchor="end">1</text>
<line x1="146.9" y1="436.0" x2="148.9" y2="436.0" stroke="#231f20" stroke-width="0.7"/>
<text x="143.0" y="438.8" font-size="7.8" text-anchor="end">0.5</text>
<text x="143.0" y="473.1" font-size="7.8" text-anchor="end">0</text>
<text x="146.9" y="479.8" font-size="7.8" text-anchor="middle">0</text>
<line x1="165.1" y1="470.3" x2="165.1" y2="468.3" stroke="#231f20" stroke-width="0.7"/>
<text x="165.1" y="479.8" font-size="7.8" text-anchor="middle">45</text>
<line x1="183.2" y1="470.3" x2="183.2" y2="468.3" stroke="#231f20" stroke-width="0.7"/>
<text x="183.2" y="479.8" font-size="7.8" text-anchor="middle">90</text>
<line x1="201.4" y1="470.3" x2="201.4" y2="468.3" stroke="#231f20" stroke-width="0.7"/>
<text x="201.4" y="479.8" font-size="7.8" text-anchor="middle">135</text>
<line x1="219.5" y1="470.3" x2="219.5" y2="468.3" stroke="#231f20" stroke-width="0.7"/>
<text x="219.5" y="479.8" font-size="7.8" text-anchor="middle">180</text>
<text x="185" y="493.4" font-size="8.9" text-anchor="middle">Reorientation angle (Δ<tspan font-style="italic">θ</tspan>)</text>
<text x="185.6" y="503.2" font-size="8.9" text-anchor="middle">(°)</text>
<text x="115.0" y="426.0" font-size="9.2" text-anchor="middle" transform="rotate(-90 115.0 426.0)">Probability,</text>
<text x="125.5" y="426.0" font-size="9.2" text-anchor="middle" transform="rotate(-90 125.5 426.0)">normalized to no odor</text>
<line x1="146.9" y1="401.5" x2="219.5" y2="401.5" stroke="#999" stroke-width="0.8" stroke-dasharray="3,2.2"/>
<polygon points="155.2,386.2 174.1,390.5 194.0,402.0 212.8,402.0 212.8,411.0 194.0,411.0 174.1,399.5 155.2,396.2" fill="#9b4fb0" fill-opacity="0.25"/>
<polygon points="155.2,403.7 174.1,389.0 194.0,386.2 212.8,394.2 212.8,404.2 194.0,396.2 174.1,399.0 155.2,419.7" fill="#5cb85c" fill-opacity="0.25"/>
<polyline points="155.2,391.2 174.1,395.0 194.0,406.5 212.8,406.5" fill="none" stroke="#9b4fb0" stroke-width="1.0" stroke-linejoin="round" stroke-linecap="round"/>
<polyline points="155.2,411.7 174.1,394.0 194.0,391.2 212.8,399.2" fill="none" stroke="#4cae4c" stroke-width="1.0" stroke-linejoin="round" stroke-linecap="round"/>
<circle cx="155.2" cy="391.2" r="1.9" fill="#9b4fb0"/>
<circle cx="174.1" cy="395.0" r="1.9" fill="#9b4fb0"/>
<circle cx="194.0" cy="406.5" r="1.9" fill="#9b4fb0"/>
<circle cx="212.8" cy="406.5" r="1.9" fill="#9b4fb0"/>
<circle cx="155.2" cy="411.7" r="1.9" fill="#4cae4c"/>
<circle cx="174.1" cy="394.0" r="1.9" fill="#4cae4c"/>
<circle cx="194.0" cy="391.2" r="1.9" fill="#4cae4c"/>
<circle cx="212.8" cy="399.2" r="1.9" fill="#4cae4c"/>
<polygon points="152.60,378.74 153.23,380.13 154.75,380.30 153.62,381.33 153.93,382.83 152.60,382.07 151.27,382.83 151.58,381.33 150.45,380.30 151.97,380.13" fill="#231f20"/>
<polygon points="157.00,378.74 157.63,380.13 159.15,380.30 158.02,381.33 158.33,382.83 157.00,382.07 155.67,382.83 155.98,381.33 154.85,380.30 156.37,380.13" fill="#231f20"/>
<polygon points="161.40,378.74 162.03,380.13 163.55,380.30 162.42,381.33 162.73,382.83 161.40,382.07 160.07,382.83 160.38,381.33 159.25,380.30 160.77,380.13" fill="#231f20"/>
<polygon points="165.80,378.74 166.43,380.13 167.95,380.30 166.82,381.33 167.13,382.83 165.80,382.07 164.47,382.83 164.78,381.33 163.65,380.30 165.17,380.13" fill="#231f20"/>
<polygon points="212.80,378.74 213.43,380.13 214.95,380.30 213.82,381.33 214.13,382.83 212.80,382.07 211.47,382.83 211.78,381.33 210.65,380.30 212.17,380.13" fill="#231f20"/>
<text x="153.8" y="435.8" font-size="7.9" fill="#9b4fb0">Start direction</text>
<text x="153.8" y="444.3" font-size="7.9" fill="#9b4fb0">(<tspan font-style="italic">θ</tspan>) 0–45°</text>
<text x="153.8" y="455.4" font-size="7.9" fill="#5cb85c">Start direction</text>
<text x="153.8" y="464" font-size="7.9" fill="#5cb85c">(<tspan font-style="italic">θ</tspan>) 135–180°</text>
<text x="242.2" y="367.2" font-size="13" fill="#000" font-weight="bold">k</text>
<text x="314.6" y="362.9" font-size="9.1" text-anchor="middle">Direction at</text>
<text x="314.6" y="373.3" font-size="9.25" text-anchor="middle">pirouette end</text>
<line x1="280.6" y1="382.4" x2="280.6" y2="539.6" stroke="#231f20" stroke-width="0.8"/>
<line x1="280.6" y1="383.1" x2="282.6" y2="383.1" stroke="#231f20" stroke-width="0.7"/>
<text x="277.0" y="385.9" font-size="7.8" text-anchor="end">0.2</text>
<line x1="280.6" y1="402.5" x2="282.6" y2="402.5" stroke="#231f20" stroke-width="0.7"/>
<text x="277.0" y="405.3" font-size="7.8" text-anchor="end">0.15</text>
<line x1="280.6" y1="422.0" x2="282.6" y2="422.0" stroke="#231f20" stroke-width="0.7"/>
<text x="277.0" y="424.8" font-size="7.8" text-anchor="end">0.1</text>
<line x1="280.6" y1="441.4" x2="282.6" y2="441.4" stroke="#231f20" stroke-width="0.7"/>
<text x="277.0" y="444.2" font-size="7.8" text-anchor="end">0.05</text>
<line x1="280.6" y1="460.9" x2="282.6" y2="460.9" stroke="#231f20" stroke-width="0.7"/>
<text x="277.0" y="463.7" font-size="7.8" text-anchor="end">0</text>
<line x1="280.6" y1="480.3" x2="282.6" y2="480.3" stroke="#231f20" stroke-width="0.7"/>
<text x="277.0" y="483.1" font-size="7.8" text-anchor="end">−0.05</text>
<line x1="280.6" y1="499.8" x2="282.6" y2="499.8" stroke="#231f20" stroke-width="0.7"/>
<text x="277.0" y="502.6" font-size="7.8" text-anchor="end">−0.1</text>
<line x1="280.6" y1="519.2" x2="282.6" y2="519.2" stroke="#231f20" stroke-width="0.7"/>
<text x="277.0" y="522.0" font-size="7.8" text-anchor="end">−0.15</text>
<line x1="280.6" y1="538.7" x2="282.6" y2="538.7" stroke="#231f20" stroke-width="0.7"/>
<text x="277.0" y="541.5" font-size="7.8" text-anchor="end">−0.2</text>
<text x="249.8" y="454.0" font-size="8.94" text-anchor="middle" transform="rotate(-90 249.8 454.0)">Bearing to odor</text>
<rect x="285.1" y="413.3" width="13.0" height="47.6" fill="#a5409d"/>
<rect x="301.6" y="460.9" width="12.4" height="8.8" fill="#9b9b9b"/>
<rect x="319.3" y="460.9" width="12.5" height="51.7" fill="#2e3288"/>
<line x1="280.6" y1="460.9" x2="337.2" y2="460.9" stroke="#888" stroke-width="0.8"/>
<line x1="291.5" y1="406.2" x2="291.5" y2="420.0" stroke="#231f20" stroke-width="0.7"/>
<line x1="289.5" y1="406.2" x2="293.5" y2="406.2" stroke="#231f20" stroke-width="0.7"/>
<line x1="308.0" y1="462.5" x2="308.0" y2="474.5" stroke="#231f20" stroke-width="0.7"/>
<line x1="306.0" y1="462.5" x2="310.0" y2="462.5" stroke="#231f20" stroke-width="0.7"/>
<line x1="325.4" y1="509.4" x2="325.4" y2="515.5" stroke="#231f20" stroke-width="0.7"/>
<line x1="323.4" y1="509.4" x2="327.4" y2="509.4" stroke="#231f20" stroke-width="0.7"/>
<circle cx="291.3" cy="386.4" r="1.15" fill="#000"/>
<circle cx="287.4" cy="401.4" r="1.15" fill="#000"/>
<circle cx="291.0" cy="402.1" r="1.15" fill="#000"/>
<circle cx="292.0" cy="401.1" r="1.15" fill="#000"/>
<circle cx="294.5" cy="401.8" r="1.15" fill="#000"/>
<circle cx="288.9" cy="406.9" r="1.15" fill="#000"/>
<circle cx="295.0" cy="407.9" r="1.15" fill="#000"/>
<circle cx="290.2" cy="415.4" r="1.15" fill="#000"/>
<circle cx="294.3" cy="417.9" r="1.15" fill="#000"/>
<circle cx="287.9" cy="421.0" r="1.15" fill="#000"/>
<circle cx="296.8" cy="421.5" r="1.15" fill="#000"/>
<circle cx="294.3" cy="440.9" r="1.15" fill="#000"/>
<circle cx="290.9" cy="456.9" r="1.15" fill="#000"/>
<circle cx="292.8" cy="460.1" r="1.15" fill="#000"/>
<circle cx="291.5" cy="469.4" r="1.15" fill="#000"/>
<circle cx="306.6" cy="436.3" r="1.15" fill="#000"/>
<circle cx="308.8" cy="442.2" r="1.15" fill="#000"/>
<circle cx="306.5" cy="451.6" r="1.15" fill="#000"/>
<circle cx="307.0" cy="460.9" r="1.15" fill="#000"/>
<circle cx="303.3" cy="463.3" r="1.15" fill="#000"/>
<circle cx="304.0" cy="466.0" r="1.15" fill="#000"/>
<circle cx="311.8" cy="467.6" r="1.15" fill="#000"/>
<circle cx="309.4" cy="468.6" r="1.15" fill="#000"/>
<circle cx="312.4" cy="472.6" r="1.15" fill="#000"/>
<circle cx="307.6" cy="475.7" r="1.15" fill="#000"/>
<circle cx="310.2" cy="476.9" r="1.15" fill="#000"/>
<circle cx="308.9" cy="484.2" r="1.15" fill="#000"/>
<circle cx="308.0" cy="487.7" r="1.15" fill="#000"/>
<circle cx="310.5" cy="491.4" r="1.15" fill="#000"/>
<circle cx="307.0" cy="493.0" r="1.15" fill="#000"/>
<circle cx="326.5" cy="487.9" r="1.15" fill="#000"/>
<circle cx="327.0" cy="492.2" r="1.15" fill="#000"/>
<circle cx="323.0" cy="498.9" r="1.15" fill="#000"/>
<circle cx="328.6" cy="498.9" r="1.15" fill="#000"/>
<circle cx="321.7" cy="502.3" r="1.15" fill="#000"/>
<circle cx="329.7" cy="506.6" r="1.15" fill="#000"/>
<circle cx="322.5" cy="514.7" r="1.15" fill="#000"/>
<circle cx="325.4" cy="514.7" r="1.15" fill="#000"/>
<circle cx="329.0" cy="514.7" r="1.15" fill="#000"/>
<circle cx="325.3" cy="517.9" r="1.15" fill="#000"/>
<circle cx="323.3" cy="523.5" r="1.15" fill="#000"/>
<circle cx="325.7" cy="523.5" r="1.15" fill="#000"/>
<circle cx="326.9" cy="525.1" r="1.15" fill="#000"/>
<circle cx="327.0" cy="529.5" r="1.15" fill="#000"/>
<circle cx="325.4" cy="534.4" r="1.15" fill="#000"/>
<line x1="291.0" y1="384.4" x2="307.8" y2="384.4" stroke="#777" stroke-width="0.9"/>
<polygon points="293.80,378.36 294.34,379.55 295.65,379.70 294.68,380.59 294.94,381.87 293.80,381.23 292.66,381.87 292.92,380.59 291.95,379.70 293.26,379.55" fill="#231f20"/>
<polygon points="298.10,378.36 298.64,379.55 299.95,379.70 298.98,380.59 299.24,381.87 298.10,381.23 296.96,381.87 297.22,380.59 296.25,379.70 297.56,379.55" fill="#231f20"/>
<polygon points="302.40,378.36 302.94,379.55 304.25,379.70 303.28,380.59 303.54,381.87 302.40,381.23 301.26,381.87 301.52,380.59 300.55,379.70 301.86,379.55" fill="#231f20"/>
<polygon points="306.70,378.36 307.24,379.55 308.55,379.70 307.58,380.59 307.84,381.87 306.70,381.23 305.56,381.87 305.82,380.59 304.85,379.70 306.16,379.55" fill="#231f20"/>
<line x1="308.3" y1="420.2" x2="326.3" y2="420.2" stroke="#777" stroke-width="0.9"/>
<polygon points="311.20,413.76 311.74,414.95 313.05,415.10 312.08,415.99 312.34,417.27 311.20,416.62 310.06,417.27 310.32,415.99 309.35,415.10 310.66,414.95" fill="#231f20"/>
<polygon points="315.50,413.76 316.04,414.95 317.35,415.10 316.38,415.99 316.64,417.27 315.50,416.62 314.36,417.27 314.62,415.99 313.65,415.10 314.96,414.95" fill="#231f20"/>
<polygon points="319.80,413.76 320.34,414.95 321.65,415.10 320.68,415.99 320.94,417.27 319.80,416.62 318.66,417.27 318.92,415.99 317.95,415.10 319.26,414.95" fill="#231f20"/>
<polygon points="324.10,413.76 324.64,414.95 325.95,415.10 324.98,415.99 325.24,417.27 324.10,416.62 322.96,417.27 323.22,415.99 322.25,415.10 323.56,414.95" fill="#231f20"/>
<line x1="316.4" y1="432.1" x2="323.8" y2="432.1" stroke="#a5409d" stroke-width="1.6"/>
<text x="328.5" y="434.0" font-size="7.7">Butanone</text>
<line x1="316.4" y1="441.4" x2="323.8" y2="441.4" stroke="#2e3288" stroke-width="1.6"/>
<text x="328.5" y="443.3" font-size="7.7">Octanol</text>
<line x1="316.4" y1="450.7" x2="323.8" y2="450.7" stroke="#888" stroke-width="1.6"/>
<text x="328.5" y="452.6" font-size="7.7">No odor</text>
<text x="379.0" y="367.6" font-size="13" fill="#000" font-weight="bold">l</text>
<line x1="398.9" y1="377.2" x2="398.9" y2="493.2" stroke="#231f20" stroke-width="0.8"/>
<line x1="398.9" y1="493.2" x2="467.8" y2="493.2" stroke="#231f20" stroke-width="0.8"/>
<text x="395.5" y="496.0" font-size="7.8" text-anchor="end">0</text>
<line x1="398.9" y1="473.9" x2="400.9" y2="473.9" stroke="#231f20" stroke-width="0.7"/>
<text x="395.5" y="476.7" font-size="7.8" text-anchor="end">1</text>
<line x1="398.9" y1="454.5" x2="400.9" y2="454.5" stroke="#231f20" stroke-width="0.7"/>
<text x="395.5" y="457.3" font-size="7.8" text-anchor="end">2</text>
<line x1="398.9" y1="435.2" x2="400.9" y2="435.2" stroke="#231f20" stroke-width="0.7"/>
<text x="395.5" y="438.0" font-size="7.8" text-anchor="end">3</text>
<line x1="398.9" y1="415.9" x2="400.9" y2="415.9" stroke="#231f20" stroke-width="0.7"/>
<text x="395.5" y="418.7" font-size="7.8" text-anchor="end">4</text>
<line x1="398.9" y1="396.6" x2="400.9" y2="396.6" stroke="#231f20" stroke-width="0.7"/>
<text x="395.5" y="399.4" font-size="7.8" text-anchor="end">5</text>
<line x1="398.9" y1="377.2" x2="400.9" y2="377.2" stroke="#231f20" stroke-width="0.7"/>
<text x="395.5" y="380.0" font-size="7.8" text-anchor="end">6</text>
<text x="384.0" y="436.0" font-size="9.2" text-anchor="middle" transform="rotate(-90 384.0 436.0)">Reorientations per minute</text>
<polygon points="412.5,444.0 452.0,401.7 452.0,424.0 412.5,462.8" fill="#2b378c" fill-opacity="0.22"/>
<rect x="412.5" y="443.0" width="39.5" height="23.5" fill="#858585" fill-opacity="0.28"/>
<line x1="433.3" y1="377.2" x2="433.3" y2="497.0" stroke="#777" stroke-width="0.8" stroke-dasharray="3,2.2"/>
<line x1="412.3" y1="452.8" x2="451.8" y2="412.8" stroke="#2b378c" stroke-width="1.1"/>
<circle cx="412.3" cy="452.8" r="1.5" fill="#2b378c"/>
<circle cx="451.8" cy="412.8" r="1.5" fill="#2b378c"/>
<line x1="412.3" y1="455.7" x2="451.8" y2="453.9" stroke="#7a7a7a" stroke-width="1.1"/>
<circle cx="412.3" cy="455.7" r="1.5" fill="#7a7a7a"/>
<circle cx="451.8" cy="453.9" r="1.5" fill="#7a7a7a"/>
<text x="412.4" y="429.4" font-size="7.6" text-anchor="middle">NS</text>
<polygon points="443.50,390.54 444.13,391.93 445.65,392.10 444.52,393.13 444.83,394.63 443.50,393.88 442.17,394.63 442.48,393.13 441.35,392.10 442.87,391.93" fill="#231f20"/>
<polygon points="447.90,390.54 448.53,391.93 450.05,392.10 448.92,393.13 449.23,394.63 447.90,393.88 446.57,394.63 446.88,393.13 445.75,392.10 447.27,391.93" fill="#231f20"/>
<polygon points="452.30,390.54 452.93,391.93 454.45,392.10 453.32,393.13 453.63,394.63 452.30,393.88 450.97,394.63 451.28,393.13 450.15,392.10 451.67,391.93" fill="#231f20"/>
<polygon points="456.70,390.54 457.33,391.93 458.85,392.10 457.72,393.13 458.03,394.63 456.70,393.88 455.37,394.63 455.68,393.13 454.55,392.10 456.07,391.93" fill="#231f20"/>
<line x1="434.4" y1="476.1" x2="441.6" y2="476.1" stroke="#2b378c" stroke-width="1.3"/>
<text x="445.6" y="478.8" font-size="8.0">Octanol</text>
<line x1="434.4" y1="486.3" x2="441.6" y2="486.3" stroke="#888" stroke-width="1.3"/>
<text x="445.6" y="489.0" font-size="8.0">No odor</text>
<line x1="432.2" y1="498.3" x2="392.5" y2="498.3" stroke="#231f20" stroke-width="0.8"/>
<polygon points="390.5,498.3 393.6,496.8 393.6,499.8" fill="#231f20"/>
<line x1="434.4" y1="498.3" x2="473.0" y2="498.3" stroke="#231f20" stroke-width="0.8"/>
<polygon points="475.0,498.3 471.9,499.8 471.9,496.8" fill="#231f20"/>
<text x="428.3" y="509.9" font-size="9.1" text-anchor="end">Away from</text>
<text x="428.3" y="519.0" font-size="9.1" text-anchor="end">odor</text>
<text x="437.7" y="509.9" font-size="9.1">Toward</text>
<text x="437.7" y="519.0" font-size="9.1">odor</text>
<text x="478.4" y="366.9" font-size="13" fill="#000" font-weight="bold">m</text>
<line x1="510.2" y1="386.5" x2="510.2" y2="534.6" stroke="#231f20" stroke-width="0.8"/>
<line x1="510.2" y1="534.6" x2="566.0" y2="534.6" stroke="#231f20" stroke-width="0.8"/>
<line x1="510.2" y1="387.1" x2="512.2" y2="387.1" stroke="#231f20" stroke-width="0.7"/>
<text x="506.6" y="389.9" font-size="7.8" text-anchor="end">1</text>
<line x1="510.2" y1="401.9" x2="512.2" y2="401.9" stroke="#231f20" stroke-width="0.7"/>
<text x="506.6" y="404.7" font-size="7.8" text-anchor="end">0.9</text>
<line x1="510.2" y1="416.6" x2="512.2" y2="416.6" stroke="#231f20" stroke-width="0.7"/>
<text x="506.6" y="419.4" font-size="7.8" text-anchor="end">0.8</text>
<line x1="510.2" y1="431.4" x2="512.2" y2="431.4" stroke="#231f20" stroke-width="0.7"/>
<text x="506.6" y="434.2" font-size="7.8" text-anchor="end">0.7</text>
<line x1="510.2" y1="446.1" x2="512.2" y2="446.1" stroke="#231f20" stroke-width="0.7"/>
<text x="506.6" y="448.9" font-size="7.8" text-anchor="end">0.6</text>
<line x1="510.2" y1="460.9" x2="512.2" y2="460.9" stroke="#231f20" stroke-width="0.7"/>
<text x="506.6" y="463.7" font-size="7.8" text-anchor="end">0.5</text>
<line x1="510.2" y1="475.6" x2="512.2" y2="475.6" stroke="#231f20" stroke-width="0.7"/>
<text x="506.6" y="478.4" font-size="7.8" text-anchor="end">0.4</text>
<line x1="510.2" y1="490.4" x2="512.2" y2="490.4" stroke="#231f20" stroke-width="0.7"/>
<text x="506.6" y="493.2" font-size="7.8" text-anchor="end">0.3</text>
<line x1="510.2" y1="505.1" x2="512.2" y2="505.1" stroke="#231f20" stroke-width="0.7"/>
<text x="506.6" y="507.9" font-size="7.8" text-anchor="end">0.2</text>
<line x1="510.2" y1="519.9" x2="512.2" y2="519.9" stroke="#231f20" stroke-width="0.7"/>
<text x="506.6" y="522.6" font-size="7.8" text-anchor="end">0.1</text>
<text x="506.6" y="537.4" font-size="7.8" text-anchor="end">0</text>
<text x="489.0" y="459.3" font-size="9.11" text-anchor="middle" transform="rotate(-90 489.0 459.3)">Fraction reorientations toward odor</text>
<line x1="510.2" y1="460.2" x2="569.0" y2="460.2" stroke="#999" stroke-width="0.8" stroke-dasharray="3,2.2"/>
<circle cx="521.2" cy="387.1" r="2.3" fill="#8c8c8c"/>
<circle cx="526.5" cy="387.1" r="2.3" fill="#8c8c8c"/>
<circle cx="530.3" cy="387.1" r="2.3" fill="#8c8c8c"/>
<circle cx="528.1" cy="420.0" r="2.3" fill="#8c8c8c"/>
<circle cx="521.8" cy="425.7" r="2.3" fill="#8c8c8c"/>
<circle cx="532.8" cy="428.8" r="2.3" fill="#8c8c8c"/>
<circle cx="518.6" cy="435.7" r="2.3" fill="#8c8c8c"/>
<circle cx="525.6" cy="431.0" r="2.3" fill="#8c8c8c"/>
<circle cx="526.5" cy="445.8" r="2.3" fill="#8c8c8c"/>
<circle cx="517.1" cy="460.2" r="2.3" fill="#8c8c8c"/>
<circle cx="521.8" cy="460.2" r="2.3" fill="#8c8c8c"/>
<circle cx="526.5" cy="460.2" r="2.3" fill="#8c8c8c"/>
<circle cx="531.2" cy="460.2" r="2.3" fill="#8c8c8c"/>
<circle cx="536.5" cy="460.2" r="2.3" fill="#8c8c8c"/>
<circle cx="529.0" cy="492.2" r="2.3" fill="#8c8c8c"/>
<circle cx="524.9" cy="509.5" r="2.3" fill="#8c8c8c"/>
<circle cx="524.0" cy="534.6" r="2.3" fill="#8c8c8c"/>
<circle cx="528.1" cy="534.6" r="2.3" fill="#8c8c8c"/>
<circle cx="532.1" cy="534.6" r="2.3" fill="#8c8c8c"/>
<circle cx="554.7" cy="387.1" r="2.3" fill="#262d7a"/>
<circle cx="554.1" cy="452.0" r="2.3" fill="#262d7a"/>
<circle cx="553.2" cy="460.2" r="2.3" fill="#262d7a"/>
<circle cx="558.5" cy="457.7" r="2.3" fill="#262d7a"/>
<circle cx="552.2" cy="468.7" r="2.3" fill="#262d7a"/>
<circle cx="550.0" cy="479.7" r="2.3" fill="#262d7a"/>
<circle cx="555.4" cy="479.0" r="2.3" fill="#262d7a"/>
<circle cx="561.0" cy="477.2" r="2.3" fill="#262d7a"/>
<circle cx="551.0" cy="485.0" r="2.3" fill="#262d7a"/>
<circle cx="561.0" cy="485.0" r="2.3" fill="#262d7a"/>
<circle cx="548.5" cy="490.0" r="2.3" fill="#262d7a"/>
<circle cx="547.8" cy="502.6" r="2.3" fill="#262d7a"/>
<circle cx="554.7" cy="501.6" r="2.3" fill="#262d7a"/>
<circle cx="561.0" cy="501.6" r="2.3" fill="#262d7a"/>
<circle cx="563.5" cy="509.5" r="2.3" fill="#262d7a"/>
<circle cx="559.5" cy="515.8" r="2.3" fill="#262d7a"/>
<circle cx="553.2" cy="519.5" r="2.3" fill="#262d7a"/>
<circle cx="552.2" cy="534.6" r="2.3" fill="#262d7a"/>
<circle cx="559.5" cy="534.6" r="2.3" fill="#262d7a"/>
<circle cx="526.5" cy="453.9" r="3.1" fill="#000"/>
<circle cx="554.7" cy="486.0" r="3.1" fill="#000"/>
<line x1="525.9" y1="376.7" x2="554.1" y2="376.7" stroke="#777" stroke-width="0.9"/>
<polygon points="540.60,370.24 541.23,371.63 542.75,371.80 541.62,372.83 541.93,374.33 540.60,373.57 539.27,374.33 539.58,372.83 538.45,371.80 539.97,371.63" fill="#231f20"/>
<line x1="508.3" y1="547.7" x2="515.5" y2="547.7" stroke="#262d7a" stroke-width="1.5"/>
<text x="519.5" y="550.1" font-size="9.2">Octanol</text>
<line x1="508.3" y1="556.6" x2="515.5" y2="556.6" stroke="#8c8c8c" stroke-width="1.5"/>
<text x="519.5" y="559.1" font-size="9.2">No odor</text>
<text x="586.5" y="366.9" font-size="13" fill="#000" font-weight="bold">n</text>
<line x1="622.2" y1="376.7" x2="622.2" y2="534.6" stroke="#231f20" stroke-width="0.8"/>
<line x1="622.2" y1="377.5" x2="624.2" y2="377.5" stroke="#231f20" stroke-width="0.7"/>
<text x="618.6" y="380.3" font-size="7.8" text-anchor="end">0.7</text>
<line x1="622.2" y1="416.8" x2="624.2" y2="416.8" stroke="#231f20" stroke-width="0.7"/>
<text x="618.6" y="419.6" font-size="7.8" text-anchor="end">0.6</text>
<line x1="622.2" y1="456.1" x2="624.2" y2="456.1" stroke="#231f20" stroke-width="0.7"/>
<text x="618.6" y="458.9" font-size="7.8" text-anchor="end">0.5</text>
<line x1="622.2" y1="495.4" x2="624.2" y2="495.4" stroke="#231f20" stroke-width="0.7"/>
<text x="618.6" y="498.2" font-size="7.8" text-anchor="end">0.4</text>
<line x1="622.2" y1="534.7" x2="624.2" y2="534.7" stroke="#231f20" stroke-width="0.7"/>
<text x="618.6" y="537.5" font-size="7.8" text-anchor="end">0.3</text>
<text x="589.5" y="463.0" font-size="9.1" text-anchor="middle" transform="rotate(-90 589.5 463.0)">Fraction reorientations in</text>
<text x="599.6" y="463.0" font-size="9.1" text-anchor="middle" transform="rotate(-90 599.6 463.0)">correct D/V direction</text>
<line x1="622.2" y1="456.1" x2="685.0" y2="456.1" stroke="#999" stroke-width="0.8" stroke-dasharray="3,2.2"/>
<circle cx="631.6" cy="427.9" r="2.3" fill="#8c8c8c"/>
<circle cx="636.4" cy="427.9" r="2.3" fill="#8c8c8c"/>
<circle cx="642.0" cy="427.9" r="2.3" fill="#8c8c8c"/>
<circle cx="633.2" cy="434.2" r="2.3" fill="#8c8c8c"/>
<circle cx="639.5" cy="434.2" r="2.3" fill="#8c8c8c"/>
<circle cx="637.0" cy="441.1" r="2.3" fill="#8c8c8c"/>
<circle cx="633.2" cy="444.5" r="2.3" fill="#8c8c8c"/>
<circle cx="642.0" cy="444.5" r="2.3" fill="#8c8c8c"/>
<circle cx="626.9" cy="456.1" r="2.3" fill="#8c8c8c"/>
<circle cx="631.6" cy="456.1" r="2.3" fill="#8c8c8c"/>
<circle cx="642.0" cy="456.1" r="2.3" fill="#8c8c8c"/>
<circle cx="646.4" cy="456.1" r="2.3" fill="#8c8c8c"/>
<circle cx="637.3" cy="467.1" r="2.3" fill="#8c8c8c"/>
<circle cx="631.6" cy="484.4" r="2.3" fill="#8c8c8c"/>
<circle cx="636.4" cy="484.4" r="2.3" fill="#8c8c8c"/>
<circle cx="641.7" cy="484.4" r="2.3" fill="#8c8c8c"/>
<circle cx="634.2" cy="489.1" r="2.3" fill="#8c8c8c"/>
<circle cx="639.5" cy="489.1" r="2.3" fill="#8c8c8c"/>
<circle cx="663.0" cy="377.0" r="2.3" fill="#262d7a"/>
<circle cx="666.2" cy="386.1" r="2.3" fill="#262d7a"/>
<circle cx="668.4" cy="393.4" r="2.3" fill="#262d7a"/>
<circle cx="664.6" cy="399.6" r="2.3" fill="#262d7a"/>
<circle cx="659.9" cy="409.1" r="2.3" fill="#262d7a"/>
<circle cx="664.6" cy="410.6" r="2.3" fill="#262d7a"/>
<circle cx="673.4" cy="412.8" r="2.3" fill="#262d7a"/>
<circle cx="664.0" cy="416.3" r="2.3" fill="#262d7a"/>
<circle cx="668.7" cy="416.3" r="2.3" fill="#262d7a"/>
<circle cx="657.7" cy="425.4" r="2.3" fill="#262d7a"/>
<circle cx="667.1" cy="424.7" r="2.3" fill="#262d7a"/>
<circle cx="659.9" cy="438.2" r="2.3" fill="#262d7a"/>
<circle cx="667.7" cy="438.2" r="2.3" fill="#262d7a"/>
<circle cx="673.4" cy="435.7" r="2.3" fill="#262d7a"/>
<circle cx="666.2" cy="447.3" r="2.3" fill="#262d7a"/>
<circle cx="660.8" cy="456.1" r="2.3" fill="#262d7a"/>
<circle cx="668.4" cy="456.1" r="2.3" fill="#262d7a"/>
<circle cx="666.2" cy="463.0" r="2.3" fill="#262d7a"/>
<circle cx="637.3" cy="456.1" r="3.1" fill="#000"/>
<circle cx="666.2" cy="424.7" r="3.1" fill="#000"/>
<line x1="637.0" y1="369.8" x2="662.1" y2="369.8" stroke="#777" stroke-width="0.9"/>
<polygon points="645.20,363.54 645.83,364.93 647.35,365.10 646.22,366.13 646.53,367.63 645.20,366.88 643.87,367.63 644.18,366.13 643.05,365.10 644.57,364.93" fill="#231f20"/>
<polygon points="649.70,363.54 650.33,364.93 651.85,365.10 650.72,366.13 651.03,367.63 649.70,366.88 648.37,367.63 648.68,366.13 647.55,365.10 649.07,364.93" fill="#231f20"/>
<polygon points="654.20,363.54 654.83,364.93 656.35,365.10 655.22,366.13 655.53,367.63 654.20,366.88 652.87,367.63 653.18,366.13 652.05,365.10 653.57,364.93" fill="#231f20"/>
<line x1="624.4" y1="520.0" x2="631.6" y2="520.0" stroke="#262d7a" stroke-width="1.3"/>
<text x="635.7" y="522.5" font-size="9.2">Octanol</text>
<line x1="624.4" y1="529.0" x2="631.6" y2="529.0" stroke="#8c8c8c" stroke-width="1.3"/>
<text x="635.7" y="531.7" font-size="9.2">No odor</text>
<text x="0.3" y="528.5" font-size="13" fill="#000" font-weight="bold">o</text>
<rect x="70.1" y="527.0" width="12.2" height="5.6" fill="#bdbdbd"/>
<text x="85.8" y="531.9" font-size="9.0">- On octanol</text>
<rect x="50.1" y="533.0" width="0.8" height="94.0" fill="#c8c8c8"/>
<rect x="167.8" y="533.0" width="0.9" height="94.0" fill="#c8c8c8"/>
<rect x="172.6" y="533.0" width="2.3" height="94.0" fill="#bdbdbd"/>
<line x1="45.9" y1="533.5" x2="45.9" y2="576.3" stroke="#231f20" stroke-width="0.8"/>
<line x1="45.9" y1="576.3" x2="215.5" y2="576.3" stroke="#231f20" stroke-width="0.8"/>
<line x1="45.9" y1="582.5" x2="45.9" y2="627.0" stroke="#231f20" stroke-width="0.8"/>
<line x1="45.9" y1="627.0" x2="215.5" y2="627.0" stroke="#231f20" stroke-width="0.8"/>
<line x1="45.9" y1="535.8" x2="47.9" y2="535.8" stroke="#231f20" stroke-width="0.7"/>
<text x="42.2" y="538.6" font-size="7.8" text-anchor="end">0.2</text>
<line x1="45.9" y1="554.2" x2="47.9" y2="554.2" stroke="#231f20" stroke-width="0.7"/>
<text x="42.2" y="557.0" font-size="7.8" text-anchor="end">0</text>
<line x1="45.9" y1="574.3" x2="47.9" y2="574.3" stroke="#231f20" stroke-width="0.7"/>
<text x="42.2" y="577.1" font-size="7.8" text-anchor="end">−0.2</text>
<line x1="45.9" y1="584.8" x2="47.9" y2="584.8" stroke="#231f20" stroke-width="0.7"/>
<text x="42.2" y="587.6" font-size="7.8" text-anchor="end"><tspan font-style="italic">π</tspan>/2</text>
<line x1="45.9" y1="603.7" x2="47.9" y2="603.7" stroke="#231f20" stroke-width="0.7"/>
<text x="42.2" y="606.5" font-size="7.8" text-anchor="end">0</text>
<line x1="45.9" y1="625.1" x2="47.9" y2="625.1" stroke="#231f20" stroke-width="0.7"/>
<text x="42.2" y="627.9" font-size="7.8" text-anchor="end">−<tspan font-style="italic">π</tspan>/2</text>
<line x1="57.1" y1="576.3" x2="57.1" y2="574.6" stroke="#231f20" stroke-width="0.6"/>
<line x1="57.1" y1="627.0" x2="57.1" y2="625.3" stroke="#231f20" stroke-width="0.6"/>
<text x="57.1" y="637.0" font-size="7.8" text-anchor="middle">1</text>
<line x1="67.6" y1="576.3" x2="67.6" y2="574.6" stroke="#231f20" stroke-width="0.6"/>
<line x1="67.6" y1="627.0" x2="67.6" y2="625.3" stroke="#231f20" stroke-width="0.6"/>
<line x1="78.2" y1="576.3" x2="78.2" y2="574.6" stroke="#231f20" stroke-width="0.6"/>
<line x1="78.2" y1="627.0" x2="78.2" y2="625.3" stroke="#231f20" stroke-width="0.6"/>
<text x="78.2" y="637.0" font-size="7.8" text-anchor="middle">3</text>
<line x1="88.7" y1="576.3" x2="88.7" y2="574.6" stroke="#231f20" stroke-width="0.6"/>
<line x1="88.7" y1="627.0" x2="88.7" y2="625.3" stroke="#231f20" stroke-width="0.6"/>
<line x1="99.3" y1="576.3" x2="99.3" y2="574.6" stroke="#231f20" stroke-width="0.6"/>
<line x1="99.3" y1="627.0" x2="99.3" y2="625.3" stroke="#231f20" stroke-width="0.6"/>
<text x="99.3" y="637.0" font-size="7.8" text-anchor="middle">5</text>
<line x1="109.9" y1="576.3" x2="109.9" y2="574.6" stroke="#231f20" stroke-width="0.6"/>
<line x1="109.9" y1="627.0" x2="109.9" y2="625.3" stroke="#231f20" stroke-width="0.6"/>
<line x1="120.4" y1="576.3" x2="120.4" y2="574.6" stroke="#231f20" stroke-width="0.6"/>
<line x1="120.4" y1="627.0" x2="120.4" y2="625.3" stroke="#231f20" stroke-width="0.6"/>
<text x="120.4" y="637.0" font-size="7.8" text-anchor="middle">7</text>
<line x1="131.0" y1="576.3" x2="131.0" y2="574.6" stroke="#231f20" stroke-width="0.6"/>
<line x1="131.0" y1="627.0" x2="131.0" y2="625.3" stroke="#231f20" stroke-width="0.6"/>
<line x1="141.5" y1="576.3" x2="141.5" y2="574.6" stroke="#231f20" stroke-width="0.6"/>
<line x1="141.5" y1="627.0" x2="141.5" y2="625.3" stroke="#231f20" stroke-width="0.6"/>
<text x="141.5" y="637.0" font-size="7.8" text-anchor="middle">9</text>
<line x1="152.1" y1="576.3" x2="152.1" y2="574.6" stroke="#231f20" stroke-width="0.6"/>
<line x1="152.1" y1="627.0" x2="152.1" y2="625.3" stroke="#231f20" stroke-width="0.6"/>
<line x1="162.7" y1="576.3" x2="162.7" y2="574.6" stroke="#231f20" stroke-width="0.6"/>
<line x1="162.7" y1="627.0" x2="162.7" y2="625.3" stroke="#231f20" stroke-width="0.6"/>
<text x="162.7" y="637.0" font-size="7.8" text-anchor="middle">11</text>
<line x1="173.2" y1="576.3" x2="173.2" y2="574.6" stroke="#231f20" stroke-width="0.6"/>
<line x1="173.2" y1="627.0" x2="173.2" y2="625.3" stroke="#231f20" stroke-width="0.6"/>
<line x1="183.8" y1="576.3" x2="183.8" y2="574.6" stroke="#231f20" stroke-width="0.6"/>
<line x1="183.8" y1="627.0" x2="183.8" y2="625.3" stroke="#231f20" stroke-width="0.6"/>
<text x="183.8" y="637.0" font-size="7.8" text-anchor="middle">13</text>
<line x1="194.3" y1="576.3" x2="194.3" y2="574.6" stroke="#231f20" stroke-width="0.6"/>
<line x1="194.3" y1="627.0" x2="194.3" y2="625.3" stroke="#231f20" stroke-width="0.6"/>
<line x1="204.9" y1="576.3" x2="204.9" y2="574.6" stroke="#231f20" stroke-width="0.6"/>
<line x1="204.9" y1="627.0" x2="204.9" y2="625.3" stroke="#231f20" stroke-width="0.6"/>
<text x="204.9" y="637.0" font-size="7.8" text-anchor="middle">15</text>
<text x="130.9" y="647.3" font-size="8.8" text-anchor="middle">Time (min)</text>
<text x="9.6" y="554.7" font-size="9.0" text-anchor="middle" transform="rotate(-90 9.6 554.7)">Velocity</text>
<text x="20.3" y="554.2" font-size="9.0" text-anchor="middle" transform="rotate(-90 20.3 554.2)">(mm s<tspan font-size="5.5" dy="-3">−1</tspan><tspan dy="3">)</tspan></text>
<text x="9.6" y="607.6" font-size="9.0" text-anchor="middle" transform="rotate(-90 9.6 607.6)">Head curvature</text>
<text x="20.3" y="605.4" font-size="9.0" text-anchor="middle" transform="rotate(-90 20.3 605.4)">(radians)</text>
<polyline points="45.9,544.9 46.2,543.9 46.6,545.7 46.9,543.1 47.2,544.8 47.6,544.7 47.9,546.3 48.3,563.3 48.6,564.3 48.9,562.4 49.2,563.4 49.5,562.6 49.8,563.3 50.1,562.0 50.4,564.1 50.7,564.0 51.0,561.5 51.3,555.0 51.6,562.3 52.0,564.0 52.3,563.5 52.6,560.9 52.9,561.9 53.2,561.4 53.5,562.7 53.8,564.3 54.1,561.1 54.4,562.7 54.7,561.6 55.0,561.9 55.3,563.0 55.6,561.6 56.6,546.8 56.9,548.0 57.2,546.8 57.5,547.2 57.6,536.4 57.7,547.2 57.8,545.8 58.1,547.9 58.4,548.5 58.8,547.5 59.1,546.0 59.4,545.2 59.7,544.0 60.0,548.6 60.3,547.8 60.6,546.0 60.9,547.3 61.2,546.4 61.5,547.1 61.8,545.7 62.1,546.9 62.4,547.9 62.7,547.9 63.1,547.5 63.4,547.1 63.7,545.9 64.0,549.7 64.3,546.9 64.6,547.8 64.9,545.0 65.2,545.4 66.2,562.5 66.5,563.5 66.8,563.4 67.2,565.0 67.5,563.7 67.8,562.8 68.1,563.1 68.4,564.0 68.8,563.2 69.1,564.7 69.4,563.8 69.7,563.3 70.0,563.1 70.4,562.8 70.7,563.6 71.0,562.4 72.0,547.2 72.3,547.3 72.6,550.3 72.7,540.0 72.8,550.3 72.9,547.5 73.2,546.5 73.5,545.7 73.8,547.3 74.1,544.8 74.4,546.1 74.7,544.1 75.0,545.4 75.3,544.3 75.7,544.5 76.0,544.6 76.3,546.7 76.6,546.9 76.9,545.8 77.2,543.5 77.5,548.0 77.8,546.6 78.1,545.7 78.4,544.5 78.7,544.5 79.7,561.9 80.0,563.5 80.3,562.0 80.6,563.1 81.0,562.6 81.3,561.6 81.6,561.3 81.9,563.0 82.2,561.6 82.5,563.0 82.9,563.1 83.2,561.3 83.5,563.9 83.8,561.5 84.8,544.4 85.1,546.6 85.4,545.8 85.7,545.7 86.0,545.3 86.3,546.2 86.6,545.1 86.9,548.5 87.2,548.2 87.5,547.9 87.8,545.4 88.1,547.6 88.4,547.3 88.7,546.1 89.0,547.4 89.3,547.9 89.6,546.4 89.9,547.7 90.2,545.3 91.2,563.4 91.5,562.6 91.8,555.5 92.1,558.2 92.4,555.2 92.7,555.9 93.0,561.6 93.3,561.9 93.6,563.4 93.9,563.5 94.2,563.6 94.5,562.7 94.8,562.2 95.1,562.2 95.4,563.8 96.4,548.4 96.7,547.3 97.1,547.3 97.4,545.6 97.7,548.2 98.0,546.3 98.3,548.2 98.7,547.1 99.0,547.7 99.3,563.5 99.6,559.9 100.0,561.0 100.3,561.0 100.6,548.1 100.9,548.3 101.2,548.6 101.5,546.8 101.8,549.2 102.1,550.2 102.4,549.4 102.7,547.7 103.0,549.6 103.3,564.3 103.6,565.2 104.0,566.8 104.3,564.7 104.6,546.6 104.9,548.9 105.2,552.2 105.5,554.4 106.0,560.1 106.3,560.4 106.6,562.8 107.0,561.0 107.3,563.0 107.6,561.6 107.9,562.4 108.2,561.0 108.6,562.3 108.9,562.9 109.2,561.9 109.5,561.9 109.8,563.4 110.2,562.1 110.5,563.0 110.8,561.3 111.5,548.1 111.8,549.1 112.1,547.9 112.4,546.2 112.7,546.8 113.0,548.5 113.3,547.3 113.6,547.5 113.9,548.0 114.2,545.6 114.5,553.4 114.8,547.9 115.1,543.7 115.4,545.3 115.7,546.7 116.0,544.9 116.3,556.6 116.6,554.8 116.9,554.8 117.2,554.6 117.5,555.6 117.8,547.9 118.1,549.7 118.4,548.8 118.8,550.1 119.1,549.8 119.4,549.8 119.7,548.8 120.0,549.7 120.4,550.4 120.7,550.1 121.0,551.5 121.5,560.7 121.8,561.0 122.2,559.9 122.5,560.6 122.8,562.0 123.2,560.4 123.5,557.3 124.0,551.0 124.3,550.5 124.7,552.0 125.0,550.1 125.5,553.5 125.8,559.4 126.2,560.5 126.5,561.5 126.8,561.2 127.2,560.3 127.5,561.7 128.0,561.7 128.3,561.9 128.7,561.6 129.0,561.3 129.3,560.4 129.6,559.5 129.9,560.8 130.3,560.4 130.6,560.3 131.5,550.7 131.8,550.2 132.1,549.4 132.4,554.1 132.7,550.8 133.0,549.5 133.3,547.9 133.6,551.8 133.9,550.7 134.2,548.7 134.5,549.2 134.8,548.7 135.1,548.4 135.4,549.2 135.7,549.8 136.0,549.3 136.3,548.7 136.7,548.7 137.0,548.3 137.3,550.1 137.6,548.5 137.9,548.0 138.2,549.6 138.5,548.4 138.8,549.4 139.1,550.3 139.4,553.0 139.7,550.0 140.0,548.6 140.3,548.6 140.6,548.4 140.9,548.7 141.2,550.0 141.5,548.9 141.8,548.2 142.1,565.7 142.3,566.5 142.6,567.9 143.0,548.8 143.3,547.2 143.6,551.6 143.9,549.0 144.2,549.1 144.5,548.5 144.8,548.8 145.2,551.7 145.5,548.9 145.8,549.9 146.1,549.1 146.4,549.0 146.7,551.3 147.0,553.8 147.3,551.2 147.8,567.5 148.2,566.9 148.6,566.5 149.2,561.3 149.5,560.1 149.8,559.6 150.1,561.7 150.4,557.5 150.7,559.5 151.0,561.7 151.3,558.7 151.6,562.2 151.9,560.5 152.2,554.2 152.6,560.6 152.9,553.1 153.2,560.7 153.5,561.3 153.8,560.9 154.1,558.7 154.4,562.1 154.7,561.4 155.0,560.2 155.3,561.0 155.6,559.9 157.2,547.5 157.5,547.2 157.6,538.0 157.7,547.2 157.8,550.2 158.1,551.7 158.4,548.7 158.7,549.4 159.0,548.5 159.3,551.0 159.6,547.5 159.9,546.8 160.2,549.4 160.5,550.6 160.8,555.4 161.1,550.1 161.4,550.3 161.7,551.8 162.0,548.2 162.3,548.1 162.6,550.2 162.9,549.0 163.2,548.3 163.5,549.1 163.8,549.4 164.1,548.2 164.4,549.5 164.7,548.4 165.0,548.8 165.3,549.6 165.6,549.3 165.9,548.4 166.2,550.9 166.5,549.1 166.8,547.2 167.1,548.8 167.4,547.5 167.7,549.6 168.0,548.4 168.3,546.4 168.6,548.3 169.1,566.0 169.3,564.5 169.6,565.2 170.0,552.0 170.3,549.1 170.6,552.7 170.9,549.5 171.2,548.7 171.5,550.1 171.8,549.2 172.1,549.4 172.4,548.6 172.7,549.9 173.0,550.2 173.3,550.7 174.2,562.3 174.5,561.7 174.8,559.9 175.1,562.0 175.4,561.4 175.7,560.8 176.1,561.3 176.4,561.3 176.7,562.0 177.0,561.6 177.3,563.3 177.6,561.2 177.9,559.9 178.2,562.3 178.5,560.6 178.8,562.3 179.2,562.8 179.5,562.5 179.8,562.1 180.1,561.2 180.4,561.1 180.7,561.2 182.0,549.4 182.3,548.8 182.6,548.7 182.9,547.2 183.2,546.9 183.5,549.5 183.8,548.9 184.1,549.3 184.4,547.8 184.7,547.1 185.0,548.0 185.4,546.9 185.7,546.3 186.0,548.4 186.3,547.0 186.6,548.5 186.9,546.4 187.2,547.8 187.5,550.0 187.8,549.7 188.1,547.2 188.4,550.3 189.4,560.2 189.7,561.0 190.0,560.0 190.3,561.6 190.7,561.3 191.0,562.0 191.3,560.4 191.6,560.4 191.9,561.4 192.2,561.6 192.6,561.7 192.9,559.7 193.2,559.6 193.5,558.2 194.8,548.1 195.1,545.6 195.4,549.6 195.7,547.1 196.0,548.1 196.3,548.6 196.6,549.2 196.9,546.1 197.2,546.5 197.6,547.3 197.9,547.9 198.2,549.8 198.5,547.1 198.8,547.2 199.1,548.4 199.4,546.2 199.7,554.1 200.0,548.9 201.5,567.1 201.8,564.6 202.1,563.5 202.4,565.1 203.7,549.0 204.0,547.6 204.3,547.3 204.7,548.9 205.0,548.4 206.0,565.8 206.3,562.1 206.7,565.4 207.0,563.2 207.8,547.5 208.2,549.1 208.6,548.1 209.0,550.0 210.3,564.1 210.7,563.7 211.1,563.7 211.5,564.7 212.5,549.3 212.8,549.5 213.1,549.5 213.4,551.4 213.7,550.9 214.0,548.0 214.3,549.4 214.6,549.3 214.9,548.1 215.2,549.4 215.5,549.1" fill="none" stroke="#111" stroke-width="0.75" stroke-linejoin="round" stroke-linecap="round" stroke-linecap="butt"/>
<polyline points="46.0,602.9 46.3,607.5 46.6,609.6 46.9,604.0 47.2,595.8 47.5,605.1 47.8,610.8 48.1,610.1 48.4,600.3 48.7,597.4 49.0,599.9 49.3,606.7 49.6,608.4 49.9,607.7 50.2,602.7 50.5,599.4 50.8,601.4 51.1,609.9 51.4,608.8 51.7,605.0 52.0,600.6 52.3,603.2 52.6,608.2 52.9,607.4 53.2,606.7 53.5,600.8 53.8,597.9 54.1,600.9 54.4,608.7 54.7,612.1 55.0,604.1 55.3,601.5 55.6,601.6 55.9,607.7 56.2,609.7 56.5,606.2 56.8,599.6 57.1,599.2 57.4,613.2 57.7,613.5 58.0,605.5 58.3,596.0 58.6,595.3 58.9,608.7 59.2,613.5 59.5,610.0 59.8,600.9 60.1,596.4 60.4,600.2 60.7,606.7 61.0,613.5 61.3,609.6 61.6,604.4 61.9,602.0 62.2,603.2 62.5,607.2 62.8,609.5 63.1,610.3 63.4,600.8 63.7,600.0 64.0,605.5 64.3,609.4 64.6,605.8 64.9,603.6 65.2,600.3 65.5,604.1 65.8,605.3 66.1,607.1 66.4,608.6 66.7,605.2 67.0,599.5 67.3,600.8 67.6,606.9 67.9,610.6 68.2,608.8 68.5,602.6 68.8,601.1 69.1,602.4 69.4,608.4 69.7,606.0 70.0,606.4 70.3,602.6 70.6,599.9 70.9,604.3 71.2,605.8 71.5,608.6 71.8,605.8 72.1,599.3 72.4,601.8 72.7,605.2 73.0,608.3 73.3,607.0 73.6,604.1 73.9,599.1 74.2,599.4 74.5,612.3 74.8,613.5 75.1,606.1 75.4,594.0 75.7,593.1 76.0,599.5 76.3,605.9 76.6,615.4 76.9,614.1 77.2,600.8 77.5,592.9 77.8,599.1 78.1,610.5 78.4,610.1 78.7,604.2 79.0,596.1 79.3,599.0 79.6,610.9 79.9,614.1 80.2,607.9 80.5,596.4 80.8,602.9 81.1,606.6 81.4,611.1 81.7,609.4 82.0,601.0 82.3,598.6 82.6,602.2 82.9,608.1 83.2,610.5 83.5,608.2 83.8,598.9 84.1,601.1 84.4,606.3 84.7,611.8 85.0,611.9 85.3,609.3 85.6,602.3 85.9,595.7 86.2,603.2 86.5,612.5 86.8,610.2 87.1,605.7 87.4,599.8 87.7,598.8 88.0,602.5 88.3,608.8 88.6,607.7 88.9,599.3 89.2,602.1 89.5,607.3 89.8,609.2 90.1,610.0 90.4,604.8 90.7,598.4 91.0,600.1 91.3,602.1 91.6,613.0 91.9,610.8 92.2,605.7 92.5,599.3 92.8,596.6 93.1,602.3 93.4,608.9 93.7,606.8 94.0,605.5 94.3,601.6 94.6,598.2 94.9,607.1 95.2,607.7 95.5,609.8 95.8,606.7 96.1,602.3 96.4,598.6 96.7,602.6 97.0,603.8 97.3,609.7 97.6,610.2 97.9,604.9 98.2,599.2 98.5,595.8 98.8,605.2 99.1,607.2 99.4,608.0 99.7,602.1 100.0,596.4 100.3,602.2 100.6,608.1 100.9,611.9 101.2,605.3 101.5,602.9 101.8,600.5 102.1,603.1 102.4,605.0 102.7,612.4 103.0,606.8 103.3,601.7 103.6,598.4 103.9,604.3 104.2,607.4 104.5,611.4 104.8,612.1 105.1,603.5 105.4,598.8 105.7,603.0 106.0,607.8 106.3,610.7 106.6,605.2 106.9,597.3 107.2,602.1 107.5,607.7 107.8,609.8 108.1,605.6 108.4,604.8 108.7,601.4 109.0,603.9 109.3,608.6 109.6,607.6 109.9,603.9 110.2,602.3 110.5,605.7 110.8,607.3 111.1,606.5 111.4,604.9 111.7,598.4 112.0,601.0 112.3,605.1 112.6,608.7 112.9,603.9 113.2,604.4 113.5,600.1 113.8,601.3 114.1,604.8 114.4,607.2 114.7,608.1 115.0,605.5 115.3,600.3 115.6,601.0 115.9,603.9 116.2,606.3 116.5,609.1 116.8,604.2 117.1,598.6 117.4,602.6 117.7,605.4 118.0,610.3 118.3,607.3 118.6,604.5 118.9,600.6 119.2,601.7 119.5,603.8 119.8,606.8 120.1,609.0 120.4,604.9 120.7,593.8 121.0,595.4 121.3,606.6 121.6,615.6 121.9,612.1 122.2,599.9 122.5,595.3 122.8,598.5 123.1,606.0 123.4,616.2 123.7,611.9 124.0,600.3 124.3,594.6 124.6,606.3 124.9,613.6 125.2,610.5 125.5,598.2 125.8,593.1 126.1,605.3 126.4,615.6 126.7,608.9 127.0,602.7 127.3,599.7 127.6,602.5 127.9,603.1 128.2,610.5 128.5,606.8 128.8,605.5 129.1,601.5 129.4,601.1 129.7,606.7 130.0,609.3 130.3,606.9 130.6,601.7 130.9,602.5 131.2,603.7 131.5,607.5 131.8,607.5 132.1,606.9 132.4,602.6 132.7,598.0 133.0,602.1 133.3,607.2 133.6,609.0 133.9,603.5 134.2,598.3 134.5,599.2 134.8,605.1 135.1,611.4 135.4,606.4 135.7,602.3 136.0,601.5 136.3,603.8 136.6,604.8 136.9,605.8 137.2,604.5 137.5,602.1 137.8,604.2 138.1,605.3 138.4,606.8 138.7,605.1 139.0,601.3 139.3,599.4 139.6,604.3 139.9,606.9 140.2,606.1 140.5,604.4 140.8,601.1 141.1,602.9 141.4,607.9 141.7,615.8 142.0,608.5 142.3,591.0 142.6,596.6 142.9,602.3 143.2,614.6 143.5,613.7 143.8,597.1 144.1,590.4 144.4,594.2 144.7,612.4 145.0,615.8 145.3,611.3 145.6,595.7 145.9,596.4 146.2,604.4 146.5,616.4 146.8,605.4 147.1,595.0 147.4,593.8 147.7,604.0 148.0,615.1 148.3,610.4 148.6,595.7 148.9,593.9 149.2,602.2 149.5,615.8 149.8,615.2 150.1,604.9 150.4,592.7 150.7,595.2 151.0,604.0 151.3,614.7 151.6,614.7 151.9,602.0 152.2,598.1 152.5,600.1 152.8,607.7 153.1,612.8 153.4,606.1 153.7,600.5 154.0,599.9 154.3,601.6 154.6,608.1 154.9,610.2 155.2,604.9 155.5,600.6 155.8,597.4 156.1,602.5 156.4,609.1 156.7,610.5 157.0,606.3 157.3,602.6 157.6,597.7 157.9,601.7 158.2,607.0 158.5,612.9 158.8,615.3 159.1,609.6 159.4,599.7 159.7,591.9 160.0,601.8 160.3,608.7 160.6,617.2 160.9,614.3 161.2,599.1 161.5,595.1 161.8,603.8 162.1,608.0 162.4,610.9 162.7,611.6 163.0,606.4 163.3,605.3 163.6,601.6 163.9,604.6 164.2,608.0 164.5,607.8 164.8,605.8 165.1,601.3 165.4,602.4 165.7,605.3 166.0,607.4 166.3,608.7 166.6,604.4 166.9,602.0 167.2,602.2 167.5,605.3 167.8,608.9 168.1,606.7 168.4,603.7 168.7,600.4 169.0,602.1 169.3,607.0 169.6,609.8 169.9,608.4 170.2,602.1 170.5,600.3 170.8,601.1 171.1,606.5 171.4,606.7 171.7,605.3 172.0,603.0 172.3,600.9 172.6,602.5 172.9,608.2 173.2,609.0 173.5,607.9 173.8,601.0 174.1,601.1 174.4,605.9 174.7,610.2 175.0,609.7 175.3,601.2 175.6,597.2 175.9,601.4 176.2,606.8 176.5,610.9 176.8,608.4 177.1,599.4 177.4,599.1 177.7,603.2 178.0,607.8 178.3,610.4 178.6,605.8 178.9,601.5 179.2,599.2 179.5,604.7 179.8,610.0 180.1,609.4 180.4,599.2 180.7,601.3 181.0,605.0 181.3,609.3 181.6,608.8 181.9,602.9 182.2,598.1 182.5,602.2 182.8,609.4 183.1,608.3 183.4,606.3 183.7,598.9 184.0,595.8 184.3,600.8 184.6,608.6 184.9,613.2 185.2,607.8 185.5,597.2 185.8,598.7 186.1,604.8 186.4,613.4 186.7,608.9 187.0,603.0 187.3,599.7 187.6,602.1 187.9,608.1 188.2,607.4 188.5,604.3 188.8,601.8 189.1,602.3 189.4,607.0 189.7,608.1 190.0,603.9 190.3,602.2 190.6,600.1 190.9,603.0 191.2,607.6 191.5,609.9 191.8,607.0 192.1,603.1 192.4,602.2 192.7,608.0 193.0,609.3 193.3,606.5 193.6,602.6 193.9,599.8 194.2,601.1 194.5,607.0 194.8,605.9 195.1,607.5 195.4,605.0 195.7,601.9 196.0,601.1 196.3,607.0 196.6,610.8 196.9,602.1 197.2,601.3 197.5,600.1 197.8,606.1 198.1,608.4 198.4,609.6 198.7,603.4 199.0,601.8 199.3,600.2 199.6,608.1 199.9,607.8 200.2,608.3 200.5,606.0 200.8,600.6 201.1,601.2 201.4,607.8 201.7,609.6 202.0,607.5 202.3,598.2 202.6,599.8 202.9,607.1 203.2,610.4 203.5,609.0 203.8,601.4 204.1,600.0 204.4,600.8 204.7,604.7 205.0,610.9 205.3,608.1 205.6,598.9 205.9,598.4 206.2,605.2 206.5,611.4 206.8,610.1 207.1,603.1 207.4,597.3 207.7,599.6 208.0,604.6 208.3,610.9 208.6,607.0 208.9,602.2 209.2,600.0 209.5,603.8 209.8,608.2 210.1,607.8 210.4,604.5 210.7,604.5 211.0,599.5 211.3,603.0 211.6,608.2 211.9,609.1 212.2,607.6 212.5,603.0 212.8,601.1 213.1,604.3 213.4,607.9 213.7,608.3 214.0,600.0 214.3,601.2 214.6,605.4 214.9,609.8 215.2,609.4" fill="none" stroke="#141414" stroke-width="0.7" stroke-linejoin="round" stroke-linecap="round" stroke-linecap="butt"/>
<rect x="222.7" y="710.8" width="8.0" height="51.4" fill="url(#gCB)" stroke="#222" stroke-width="0.5"/>
<line x1="229.5" y1="723.6" x2="230.7" y2="723.6" stroke="#222" stroke-width="0.5"/>
<line x1="229.5" y1="736.5" x2="230.7" y2="736.5" stroke="#222" stroke-width="0.5"/>
<line x1="229.5" y1="749.3" x2="230.7" y2="749.3" stroke="#222" stroke-width="0.5"/>
<text x="234.3" y="716.5" font-size="8.5">3</text>
<text x="233.8" y="758.3" font-size="8.5">0.5</text>
<text x="226.5" y="688.5" font-size="9.2" text-anchor="middle" transform="rotate(-90 226.5 688.5)">GCaMP</text>
<text x="235.5" y="683.5" font-size="9.2" text-anchor="middle" transform="rotate(-90 235.5 683.5)">(<tspan font-style="italic">F</tspan>/<tspan font-style="italic">F</tspan><tspan font-size="5.5" dy="1.8">mean</tspan><tspan dy="-1.8">)</tspan></text>
<text x="41.8" y="709.3" font-size="8.58" text-anchor="middle" transform="rotate(-90 41.8 709.3)">Identified neurons (1–113)</text>
<text x="265.3" y="569.8" font-size="13" fill="#000" font-weight="bold">p</text>
<text x="425.4" y="567.6" font-size="8.54" fill="#f7b5b5">Reversal</text>
<rect x="310.7" y="570.4" width="9.2" height="158.0" fill="#fde8e8"/>
<rect x="331.8" y="570.4" width="9.3" height="158.0" fill="#fde8e8"/>
<rect x="353.8" y="570.4" width="6.8" height="158.0" fill="#fde8e8"/>
<rect x="364.9" y="570.4" width="1.7" height="158.0" fill="#fde8e8"/>
<rect x="374.2" y="570.4" width="1.7" height="158.0" fill="#fde8e8"/>
<rect x="381.9" y="570.4" width="5.9" height="158.0" fill="#fde8e8"/>
<rect x="398.6" y="570.4" width="1.7" height="158.0" fill="#fde8e8"/>
<rect x="409.6" y="570.4" width="3.2" height="158.0" fill="#fde8e8"/>
<rect x="413.6" y="570.4" width="5.4" height="158.0" fill="#fde8e8"/>
<rect x="421.5" y="570.4" width="4.2" height="158.0" fill="#fde8e8"/>
<rect x="426.6" y="570.4" width="3.4" height="158.0" fill="#fde8e8"/>
<rect x="443.6" y="570.4" width="2.2" height="158.0" fill="#fde8e8"/>
<rect x="454.6" y="570.4" width="6.0" height="158.0" fill="#fde8e8"/>
<rect x="509.3" y="605.2" width="18.2" height="114.3" fill="#fde8e8"/>
<rect x="557.0" y="605.2" width="15.5" height="114.3" fill="#fde8e8"/>
<rect x="583.2" y="605.2" width="1.7" height="114.3" fill="#fde8e8"/>
<rect x="602.3" y="605.2" width="3.3" height="114.3" fill="#fde8e8"/>
<rect x="618.7" y="605.2" width="11.0" height="114.3" fill="#fde8e8"/>
<line x1="310.7" y1="570.4" x2="310.7" y2="689.4" stroke="#231f20" stroke-width="0.8"/>
<line x1="310.7" y1="689.4" x2="461.4" y2="689.4" stroke="#231f20" stroke-width="0.8"/>
<line x1="310.7" y1="696.4" x2="310.7" y2="728.3" stroke="#231f20" stroke-width="0.8"/>
<line x1="310.7" y1="728.3" x2="461.4" y2="728.3" stroke="#231f20" stroke-width="0.8"/>
<line x1="312.6" y1="689.4" x2="312.6" y2="687.6" stroke="#231f20" stroke-width="0.6"/>
<line x1="312.6" y1="728.3" x2="312.6" y2="726.5" stroke="#231f20" stroke-width="0.6"/>
<text x="312.6" y="737.6" font-size="7.8" text-anchor="middle">2</text>
<line x1="331.1" y1="689.4" x2="331.1" y2="687.6" stroke="#231f20" stroke-width="0.6"/>
<line x1="331.1" y1="728.3" x2="331.1" y2="726.5" stroke="#231f20" stroke-width="0.6"/>
<line x1="349.5" y1="689.4" x2="349.5" y2="687.6" stroke="#231f20" stroke-width="0.6"/>
<line x1="349.5" y1="728.3" x2="349.5" y2="726.5" stroke="#231f20" stroke-width="0.6"/>
<text x="349.5" y="737.6" font-size="7.8" text-anchor="middle">4</text>
<line x1="368.0" y1="689.4" x2="368.0" y2="687.6" stroke="#231f20" stroke-width="0.6"/>
<line x1="368.0" y1="728.3" x2="368.0" y2="726.5" stroke="#231f20" stroke-width="0.6"/>
<line x1="386.5" y1="689.4" x2="386.5" y2="687.6" stroke="#231f20" stroke-width="0.6"/>
<line x1="386.5" y1="728.3" x2="386.5" y2="726.5" stroke="#231f20" stroke-width="0.6"/>
<text x="386.5" y="737.6" font-size="7.8" text-anchor="middle">6</text>
<line x1="405.0" y1="689.4" x2="405.0" y2="687.6" stroke="#231f20" stroke-width="0.6"/>
<line x1="405.0" y1="728.3" x2="405.0" y2="726.5" stroke="#231f20" stroke-width="0.6"/>
<line x1="423.4" y1="689.4" x2="423.4" y2="687.6" stroke="#231f20" stroke-width="0.6"/>
<line x1="423.4" y1="728.3" x2="423.4" y2="726.5" stroke="#231f20" stroke-width="0.6"/>
<text x="423.4" y="737.6" font-size="7.8" text-anchor="middle">8</text>
<line x1="441.9" y1="689.4" x2="441.9" y2="687.6" stroke="#231f20" stroke-width="0.6"/>
<line x1="441.9" y1="728.3" x2="441.9" y2="726.5" stroke="#231f20" stroke-width="0.6"/>
<line x1="460.4" y1="689.4" x2="460.4" y2="687.6" stroke="#231f20" stroke-width="0.6"/>
<line x1="460.4" y1="728.3" x2="460.4" y2="726.5" stroke="#231f20" stroke-width="0.6"/>
<text x="460.4" y="737.6" font-size="7.8" text-anchor="middle">10</text>
<line x1="310.7" y1="699.4" x2="312.7" y2="699.4" stroke="#231f20" stroke-width="0.6"/>
<line x1="310.7" y1="726.2" x2="312.7" y2="726.2" stroke="#231f20" stroke-width="0.6"/>
<text x="306.5" y="702.2" font-size="7.8" text-anchor="end"><tspan font-style="italic">π</tspan>/2</text>
<text x="306.5" y="715.9" font-size="7.8" text-anchor="end">0</text>
<text x="306.5" y="729.0" font-size="7.8" text-anchor="end">−<tspan font-style="italic">π</tspan>/2</text>
<text x="387.9" y="749.0" font-size="8.8" text-anchor="middle">Time (min)</text>
<text x="305.5" y="619" font-size="9.2" text-anchor="middle" transform="rotate(-90 305.5 619)">GCaMP (<tspan font-style="italic">z</tspan> scored)</text>
<text x="292.4" y="671.2" font-size="8.83" text-anchor="middle" transform="rotate(-90 292.4 671.2)">Scale bar</text>
<path d="M299.6,671 L298.5,671 L298.5,677.3" fill="none" stroke="#231f20" stroke-width="0.6" stroke-linecap="round" stroke-linejoin="round"/>
<text x="302.3" y="671.8" font-size="7.0">1</text>
<text x="301.3" y="682.7" font-size="7.0">0</text>
<text x="273.4" y="713.0" font-size="9.2" text-anchor="middle" transform="rotate(-90 273.4 713.0)">Head curvature</text>
<text x="283.0" y="713.0" font-size="9.2" text-anchor="middle" transform="rotate(-90 283.0 713.0)">(radians)</text>
<polyline points="310.7,583.8 311.2,586.2 311.7,587.7 312.1,586.4 312.6,585.7 313.1,587.7 313.6,589.1 314.0,590.5 314.5,588.1 315.0,588.2 315.5,591.4 315.9,592.0 316.4,594.0 316.9,594.1 317.4,593.2 317.8,593.5 318.3,597.8 318.8,595.1 319.2,594.8 319.7,594.8 320.2,597.0 320.7,597.9 321.1,597.9 321.6,598.9 322.1,598.9 322.6,599.0 323.1,599.2 323.6,597.6 324.1,594.4 324.5,597.0 325.0,594.0 325.5,595.0 326.0,593.0 326.5,594.3 327.0,593.0 327.5,593.3 327.9,596.6 328.4,591.8 328.9,591.7 329.3,588.1 329.8,588.3 330.2,588.8 330.7,587.1 331.2,586.8 331.6,585.6 332.1,583.3 332.6,584.3 333.0,581.9 333.5,584.3 334.0,582.7 334.5,585.1 335.0,585.5 335.5,587.8 336.0,587.1 336.5,590.1 337.0,590.0 337.5,592.4 337.9,592.4 338.4,592.5 338.8,592.0 339.3,594.6 339.7,595.1 340.2,597.4 340.6,595.6 341.1,597.3 341.5,598.1 342.0,598.5 342.5,597.4 343.0,596.3 343.5,594.3 344.0,592.7 344.5,592.4 345.0,592.7 345.5,593.0 346.0,591.5 346.4,590.5 346.9,589.0 347.4,587.8 347.8,586.1 348.2,585.7 348.7,586.0 349.1,582.4 349.6,580.6 350.1,582.9 350.5,580.0 351.0,581.2 351.4,581.7 351.9,579.6 352.4,584.5 352.9,584.6 353.3,583.0 353.8,584.0 354.3,584.3 354.7,583.9 355.2,585.7 355.7,587.5 356.1,589.5 356.6,590.1 357.1,590.2 357.5,592.8 358.0,591.2 358.5,593.7 359.0,595.1 359.4,594.1 359.9,592.8 360.4,594.5 360.9,596.8 361.3,598.1 361.8,600.3 362.3,597.9 362.8,598.8 363.3,599.7 363.7,598.7 364.2,595.6 364.7,599.4 365.2,601.7 365.6,600.1 366.1,597.4 366.6,597.7 367.1,598.5 367.6,601.5 368.0,599.3 368.5,598.3 369.0,600.1 369.5,597.2 369.9,598.6 370.4,594.6 370.9,593.6 371.4,594.3 371.8,594.4 372.3,592.6 372.8,591.2 373.3,587.4 373.7,587.7 374.2,587.0 374.7,587.6 375.1,589.6 375.6,589.1 376.1,590.9 376.6,590.7 377.1,590.6 377.5,591.6 378.0,592.6 378.5,592.9 379.0,591.0 379.5,590.9 380.0,589.2 380.5,592.7 381.0,592.6 381.5,590.2 381.9,589.2 382.4,587.9 382.8,589.3 383.3,589.2 383.7,591.5 384.2,588.9 384.6,587.0 385.1,584.4 385.5,588.8 386.0,587.4 386.5,583.4 387.0,584.0 387.4,580.4 387.9,585.2 388.4,581.3 388.9,581.8 389.3,582.1 389.8,580.9 390.3,584.6 390.7,584.4 391.2,588.5 391.7,586.6 392.1,589.3 392.6,593.6 393.1,593.3 393.6,588.5 394.1,586.4 394.5,588.3 395.0,587.3 395.5,583.8 396.0,582.7 396.5,584.0 397.0,584.7 397.5,586.6 397.9,590.5 398.4,591.4 398.9,594.4 399.4,593.2 399.8,592.5 400.3,591.0 400.8,591.6 401.2,589.8 401.6,588.6 402.1,591.4 402.6,592.3 403.0,591.3 403.5,591.3 403.9,589.5 404.4,587.6 404.8,588.0 405.3,587.0 405.7,585.4 406.2,584.1 406.6,583.7 407.1,585.2 407.6,585.0 408.1,583.6 408.6,585.4 409.0,583.4 409.5,583.1 410.0,583.4 410.5,580.2 411.0,580.5 411.5,585.9 412.0,586.4 412.5,590.9 413.0,591.9 413.5,593.1 413.9,593.2 414.4,589.9 414.8,593.5 415.3,592.5 415.8,592.6 416.2,593.4 416.7,595.4 417.2,596.1 417.6,596.7 418.1,593.6 418.5,595.0 419.0,593.2 419.5,595.8 419.9,596.8 420.4,595.0 420.8,596.0 421.3,596.0 421.7,596.8 422.2,594.4 422.6,594.0 423.1,593.9 423.5,597.0 424.0,596.3 424.5,595.0 424.9,595.6 425.4,595.7 425.8,596.1 426.3,595.9 426.7,596.0 427.2,595.0 427.6,596.0 428.1,599.3 428.5,598.5 429.0,598.0 429.4,597.9 429.9,598.5 430.3,599.2 430.8,598.2 431.3,598.6 431.7,598.1 432.2,596.2 432.7,595.4 433.2,594.5 433.6,593.8 434.1,595.7 434.6,591.1 435.1,592.8 435.5,592.0 436.0,591.3 436.5,591.3 436.9,591.8 437.4,589.7 437.8,588.4 438.3,586.8 438.7,586.5 439.2,587.0 439.6,584.5 440.1,582.4 440.5,581.2 441.0,580.5 441.4,579.2 441.9,581.5 442.4,581.6 442.9,581.5 443.4,584.4 443.8,582.5 444.3,584.9 444.8,585.8 445.3,583.5 445.8,581.9 446.2,581.5 446.7,582.7 447.2,582.2 447.6,577.8 448.1,579.2 448.5,576.4 449.0,575.0 449.5,573.5 449.9,572.5 450.4,569.4 450.9,572.0 451.4,573.4 451.9,577.4 452.4,581.4 452.9,584.1 453.5,578.5 454.0,574.7 454.6,574.4 455.1,576.3 455.6,582.5 456.1,583.5 456.5,584.1 457.0,588.5 457.5,590.6 458.0,590.2 458.5,592.1 459.0,593.5 459.5,594.7 459.9,595.7 460.4,596.0 460.9,597.5 461.4,598.1" fill="none" stroke="#2c59ad" stroke-width="1.15" stroke-linejoin="round" stroke-linecap="round"/>
<polyline points="310.7,611.9 311.2,615.0 311.7,615.1 312.1,615.3 312.6,618.2 313.1,617.7 313.6,617.7 314.0,621.6 314.5,618.8 315.0,617.9 315.5,618.1 315.9,619.9 316.4,622.5 316.9,623.5 317.4,624.5 317.9,626.2 318.3,626.6 318.8,625.4 319.3,626.9 319.8,626.4 320.2,624.9 320.7,627.4 321.2,624.8 321.7,622.7 322.1,624.7 322.6,621.5 323.1,617.7 323.6,616.6 324.0,619.0 324.5,613.6 325.0,613.3 325.5,612.0 325.9,610.7 326.4,609.6 326.8,606.7 327.3,605.4 327.7,604.7 328.2,603.2 328.6,603.9 329.1,604.1 329.5,599.1 330.0,599.9 330.5,599.2 331.0,601.1 331.5,603.5 332.0,605.7 332.5,606.5 333.0,604.5 333.5,612.3 334.0,611.8 334.5,612.0 335.0,615.1 335.5,614.2 336.0,613.7 336.5,617.7 337.0,618.8 337.5,617.8 338.0,621.3 338.5,621.6 339.0,619.9 339.4,625.1 339.9,623.9 340.4,622.2 340.9,625.3 341.4,625.8 341.8,627.9 342.3,625.1 342.8,629.4 343.3,627.1 343.7,624.3 344.2,621.7 344.7,620.3 345.1,617.0 345.6,613.5 346.1,609.4 346.5,609.9 347.0,607.6 347.5,606.7 348.0,606.5 348.5,607.6 349.0,602.7 349.5,607.0 350.0,603.1 350.5,607.1 351.0,608.9 351.5,610.5 352.0,606.9 352.5,608.1 353.0,607.4 353.5,604.8 353.9,610.2 354.4,610.4 354.8,611.5 355.3,610.8 355.7,613.0 356.2,614.3 356.6,617.3 357.1,616.8 357.5,622.9 358.0,618.0 358.5,618.3 358.9,619.3 359.4,618.8 359.8,623.2 360.3,622.8 360.8,620.3 361.2,622.9 361.7,625.5 362.2,622.2 362.6,625.0 363.1,625.3 363.5,630.1 364.0,628.1 364.5,625.7 364.9,624.5 365.4,627.6 365.8,623.4 366.3,626.7 366.7,620.0 367.2,620.8 367.6,620.1 368.1,618.5 368.5,618.4 369.0,619.2 369.5,615.7 370.0,612.8 370.5,615.7 371.0,614.8 371.4,609.9 371.9,609.8 372.4,603.8 372.9,607.7 373.4,603.0 373.9,605.9 374.4,612.5 374.9,609.4 375.3,613.1 375.8,613.5 376.3,614.2 376.8,617.2 377.3,618.1 377.7,614.2 378.2,613.6 378.7,614.3 379.1,611.5 379.6,608.0 380.0,610.8 380.5,607.5 381.0,607.9 381.4,602.6 381.9,605.1 382.4,602.8 382.8,604.0 383.3,608.3 383.7,610.8 384.2,614.1 384.6,615.1 385.1,619.2 385.5,622.8 386.0,621.9 386.5,620.6 387.0,622.2 387.4,624.4 387.9,624.8 388.4,623.1 388.9,622.0 389.4,623.6 389.9,625.5 390.4,623.1 390.8,626.2 391.3,624.9 391.8,625.0 392.3,622.9 392.7,625.5 393.2,623.1 393.7,619.8 394.1,622.7 394.6,620.5 395.1,622.2 395.5,620.4 396.0,618.4 396.5,616.4 397.0,612.3 397.5,608.5 397.9,606.7 398.4,605.0 398.9,600.8 399.4,597.3 400.0,602.7 400.5,610.7 401.1,616.6 401.6,617.3 402.1,616.1 402.5,618.4 403.0,612.3 403.5,613.8 404.0,614.6 404.4,614.9 404.9,610.6 405.4,610.4 405.9,612.3 406.4,614.3 406.9,614.5 407.3,610.3 407.8,612.6 408.3,614.5 408.8,612.8 409.3,612.1 409.7,613.6 410.2,613.8 410.7,618.9 411.1,618.1 411.6,618.8 412.0,619.2 412.5,621.5 413.0,621.5 413.4,622.5 413.9,625.1 414.4,624.6 414.8,625.3 415.3,624.6 415.8,625.8 416.3,623.6 416.8,623.6 417.2,623.2 417.7,621.1 418.2,623.8 418.6,620.9 419.1,618.6 419.6,622.6 420.1,621.7 420.6,619.3 421.0,621.2 421.5,621.1 422.0,621.3 422.4,618.7 422.9,621.2 423.4,620.0 423.9,621.1 424.3,621.7 424.8,621.9 425.3,624.6 425.8,623.3 426.2,625.9 426.7,626.0 427.2,625.2 427.6,626.9 428.1,628.4 428.6,629.8 429.1,628.2 429.5,631.8 430.0,630.8 430.5,630.8 430.9,625.8 431.4,624.9 431.8,627.7 432.3,624.8 432.8,624.8 433.2,625.2 433.7,620.1 434.2,621.9 434.6,623.6 435.1,621.1 435.5,618.9 436.0,618.6 436.5,618.1 437.0,619.5 437.4,620.8 437.9,618.8 438.4,620.1 438.9,620.1 439.4,621.1 439.8,621.6 440.3,618.9 440.8,622.5 441.3,622.6 441.7,619.7 442.2,621.0 442.7,619.6 443.2,621.5 443.6,623.0 444.1,621.0 444.5,621.7 445.0,621.8 445.4,622.4 445.9,622.6 446.3,622.3 446.8,625.2 447.2,624.5 447.7,623.7 448.1,626.8 448.6,624.8 449.0,627.3 449.5,624.3 450.0,628.1 450.4,625.3 450.9,624.1 451.3,626.0 451.8,623.2 452.2,623.2 452.7,625.2 453.1,624.1 453.6,625.2 454.0,624.8 454.5,624.8 454.9,624.4 455.4,625.2 455.8,624.0 456.3,625.5 456.8,625.6 457.2,621.1 457.7,621.2 458.2,626.8 458.6,624.3 459.1,625.3 459.5,625.1 460.0,625.9 460.5,629.3 460.9,625.2 461.4,626.1" fill="none" stroke="#6aaee6" stroke-width="1.15" stroke-linejoin="round" stroke-linecap="round"/>
<polyline points="310.7,629.3 311.2,634.5 311.6,632.5 312.1,632.3 312.5,638.1 313.0,641.3 313.5,642.9 314.0,645.1 314.6,646.0 315.1,646.9 315.6,648.5 316.1,649.7 316.5,649.8 317.0,652.5 317.4,652.4 317.9,649.1 318.3,652.7 318.8,651.9 319.3,654.2 319.7,655.4 320.2,653.9 320.6,649.5 321.1,654.0 321.5,650.4 322.0,656.2 322.5,652.3 322.9,652.7 323.4,656.4 323.9,649.7 324.4,652.3 324.8,650.3 325.3,651.0 325.8,650.3 326.2,652.9 326.7,651.1 327.2,652.0 327.6,652.5 328.1,647.8 328.6,653.2 329.1,650.4 329.5,647.2 330.0,648.6 330.5,649.6 331.0,648.0 331.4,642.6 331.9,641.6 332.4,639.8 332.9,639.2 333.3,634.9 333.8,634.7 334.3,629.1 334.9,634.0 335.4,641.5 336.0,646.8 336.5,646.6 337.0,649.0 337.4,649.7 337.9,652.0 338.4,654.1 338.9,654.3 339.3,656.1 339.8,655.1 340.3,655.8 340.8,651.8 341.3,656.3 341.7,655.6 342.2,656.1 342.7,651.0 343.2,652.8 343.6,652.4 344.1,649.5 344.6,654.0 345.1,654.7 345.6,649.5 346.0,651.8 346.5,654.1 347.0,648.2 347.5,651.8 347.9,653.1 348.4,653.6 348.8,647.3 349.3,647.0 349.7,649.3 350.2,651.3 350.6,646.6 351.1,646.9 351.5,646.1 352.0,650.2 352.5,645.7 353.0,645.9 353.5,644.6 354.0,644.0 354.5,640.9 355.0,639.0 355.5,638.9 356.0,640.6 356.5,640.1 357.0,644.0 357.5,649.9 358.0,645.3 358.4,640.9 358.9,638.6 359.3,641.3 359.8,632.0 360.4,637.1 360.9,641.8 361.4,645.1 362.0,652.5 362.5,652.3 362.9,651.5 363.4,648.2 363.8,653.1 364.3,652.7 364.8,651.2 365.2,646.1 365.7,650.8 366.2,649.2 366.6,651.1 367.1,650.9 367.5,650.4 368.0,654.0 368.4,651.4 368.9,652.2 369.4,646.9 369.8,646.8 370.2,648.7 370.7,645.8 371.1,642.3 371.6,640.5 372.1,639.8 372.5,639.6 373.0,643.7 373.5,645.3 374.0,648.8 374.5,651.6 375.0,652.7 375.5,654.6 375.9,653.6 376.4,651.6 376.8,651.3 377.3,651.4 377.8,649.9 378.2,648.4 378.7,650.8 379.2,649.8 379.6,651.7 380.1,649.5 380.5,650.5 381.0,650.6 381.5,645.6 382.0,643.0 382.6,637.6 383.1,634.2 383.6,632.9 384.1,634.1 384.6,635.0 385.0,635.2 385.5,639.7 386.0,644.3 386.5,637.5 386.9,644.1 387.4,644.1 387.8,646.8 388.3,648.2 388.7,645.1 389.2,651.2 389.6,648.2 390.1,649.6 390.6,651.1 391.0,649.6 391.5,650.0 391.9,648.3 392.4,646.9 392.8,648.6 393.3,646.4 393.7,650.7 394.2,648.8 394.6,650.7 395.1,645.5 395.5,643.1 396.0,642.3 396.4,645.7 396.9,644.1 397.4,647.8 397.8,645.2 398.3,645.6 398.8,649.4 399.2,649.1 399.7,651.7 400.1,652.8 400.6,652.5 401.1,650.0 401.5,651.0 402.0,657.8 402.5,653.0 402.9,653.1 403.4,652.4 403.8,651.6 404.3,650.8 404.7,649.5 405.2,649.0 405.6,645.6 406.1,652.0 406.5,648.8 407.0,645.7 407.5,647.3 408.0,646.2 408.4,640.5 408.9,640.2 409.4,642.6 409.9,639.5 410.3,637.4 410.8,636.8 411.3,633.1 411.8,636.1 412.3,643.3 412.9,643.8 413.4,647.2 413.9,652.2 414.4,650.6 414.8,647.5 415.3,652.8 415.8,649.0 416.2,651.8 416.7,649.0 417.1,645.5 417.6,649.5 418.1,646.0 418.5,643.9 419.0,644.8 419.5,641.5 419.9,646.7 420.4,645.6 420.8,647.0 421.3,646.5 421.7,650.1 422.2,650.4 422.6,652.4 423.1,654.4 423.5,652.5 424.0,652.5 424.5,653.3 424.9,651.6 425.4,652.3 425.9,655.3 426.3,652.8 426.8,650.9 427.2,654.1 427.7,656.0 428.2,659.0 428.6,655.4 429.1,655.0 429.6,656.5 430.0,655.7 430.5,656.0 430.9,654.1 431.4,654.9 431.9,653.1 432.3,655.6 432.8,654.0 433.2,654.0 433.7,651.6 434.2,649.1 434.6,651.2 435.1,650.9 435.5,652.7 436.0,652.2 436.5,649.9 437.0,649.3 437.4,647.1 437.9,648.4 438.4,648.7 438.9,647.2 439.4,645.4 439.8,649.5 440.3,645.3 440.8,649.5 441.3,648.7 441.7,649.0 442.2,644.1 442.7,646.1 443.2,642.1 443.6,643.4 444.1,641.0 444.5,642.0 445.0,642.2 445.5,644.8 445.9,645.0 446.4,641.9 446.9,641.5 447.3,639.9 447.8,639.1 448.2,637.4 448.7,640.0 449.2,642.7 449.7,641.1 450.2,643.9 450.6,642.0 451.1,642.8 451.6,644.6 452.1,648.3 452.6,644.3 453.0,645.1 453.5,641.6 454.0,638.5 454.4,635.0 454.9,636.3 455.4,634.1 455.8,636.1 456.3,634.1 456.9,633.8 457.4,641.9 457.9,645.6 458.5,642.7 459.0,646.8 459.5,650.7 459.9,648.6 460.4,651.1 460.9,654.8 461.4,655.0" fill="none" stroke="#ea5560" stroke-width="1.15" stroke-linejoin="round" stroke-linecap="round"/>
<polyline points="310.7,687.6 311.2,686.4 311.7,681.4 312.1,679.0 312.6,681.0 313.1,681.8 313.6,679.5 314.1,676.1 314.6,676.5 315.1,679.0 315.5,673.6 316.0,676.3 316.5,674.7 317.0,674.0 317.4,673.9 317.9,671.1 318.4,670.9 318.8,673.6 319.3,669.6 319.7,668.6 320.2,666.3 320.7,667.1 321.1,668.7 321.6,669.1 322.1,668.8 322.6,669.2 323.1,669.7 323.6,669.9 324.0,671.5 324.5,670.2 325.0,672.7 325.5,671.5 326.0,669.3 326.5,669.1 327.0,670.4 327.5,669.7 328.0,667.9 328.5,668.0 329.0,669.2 329.5,669.2 330.0,669.5 330.5,668.5 331.0,672.0 331.4,675.1 331.9,675.8 332.4,679.8 332.9,678.0 333.3,680.2 333.8,682.3 334.3,683.2 334.8,682.2 335.2,681.2 335.7,679.4 336.1,677.1 336.6,675.6 337.1,674.7 337.5,670.9 338.0,672.1 338.5,668.9 339.0,668.9 339.5,666.3 340.0,666.9 340.5,665.0 341.0,663.9 341.5,661.8 342.0,661.9 342.5,665.6 342.9,661.2 343.4,665.6 343.8,666.6 344.3,666.6 344.7,666.1 345.2,671.8 345.6,671.0 346.1,673.3 346.5,672.2 347.0,672.4 347.5,675.6 347.9,675.5 348.4,674.0 348.8,674.1 349.3,675.7 349.7,673.7 350.2,673.7 350.6,675.2 351.1,677.2 351.5,677.4 352.0,676.5 352.5,678.7 352.9,676.8 353.4,676.4 353.9,681.4 354.4,677.6 354.8,679.4 355.3,679.8 355.8,679.5 356.3,680.0 356.7,681.2 357.2,681.5 357.7,678.3 358.1,677.9 358.6,679.0 359.1,676.9 359.5,673.7 360.0,673.1 360.4,670.2 360.9,668.3 361.4,668.3 361.8,670.7 362.3,666.1 362.8,664.6 363.4,668.4 363.9,668.8 364.5,672.1 365.0,674.2 365.5,670.2 365.9,669.3 366.4,666.2 366.9,668.0 367.4,663.7 367.8,663.2 368.3,665.8 368.8,661.5 369.2,663.5 369.7,664.1 370.1,665.7 370.6,666.6 371.1,669.0 371.5,668.3 372.0,669.1 372.5,666.4 373.0,669.1 373.5,666.7 373.9,671.0 374.4,669.6 374.9,671.4 375.4,669.4 375.9,670.6 376.4,669.9 376.8,670.0 377.3,668.4 377.8,666.9 378.2,666.5 378.7,665.5 379.1,664.4 379.6,663.2 380.1,662.1 380.5,667.0 381.0,662.6 381.5,663.4 381.9,668.7 382.4,669.7 382.9,670.8 383.3,674.6 383.8,677.9 384.2,675.4 384.7,680.5 385.2,681.3 385.6,684.0 386.1,683.2 386.6,686.9 387.0,686.7 387.5,680.8 387.9,686.9 388.4,687.9 388.9,682.9 389.3,684.8 389.8,683.6 390.2,683.6 390.7,681.3 391.1,683.1 391.6,682.9 392.0,681.0 392.5,680.4 392.9,677.1 393.4,680.0 393.8,676.8 394.3,678.1 394.7,676.3 395.2,681.3 395.7,677.1 396.1,678.8 396.6,675.9 397.0,675.2 397.5,676.0 397.9,674.4 398.4,677.8 398.8,673.5 399.3,675.7 399.7,670.8 400.2,670.4 400.6,672.5 401.1,668.9 401.6,674.8 402.1,673.6 402.5,673.4 403.0,676.8 403.5,673.9 404.0,673.8 404.4,671.4 404.9,672.8 405.4,676.3 405.9,674.1 406.3,679.0 406.8,680.2 407.3,679.9 407.7,676.8 408.2,678.2 408.6,677.9 409.1,681.8 409.6,683.1 410.0,681.6 410.5,682.3 411.0,679.5 411.4,677.3 411.9,671.6 412.4,668.1 412.8,667.9 413.3,664.7 413.7,661.5 414.2,657.7 414.8,664.1 415.3,669.1 415.8,672.6 416.4,681.6 416.9,679.4 417.3,675.5 417.8,674.0 418.3,671.4 418.7,668.6 419.2,667.6 419.6,665.4 420.1,665.1 420.6,665.3 421.0,663.3 421.5,659.4 422.1,667.5 422.6,673.1 423.2,678.5 423.7,679.2 424.2,673.1 424.7,673.2 425.1,666.3 425.6,666.3 426.1,662.1 426.6,661.9 427.1,658.3 427.6,660.9 428.1,667.6 428.5,673.5 429.0,678.3 429.5,683.1 430.0,679.9 430.4,683.5 430.9,679.1 431.4,679.2 431.8,676.6 432.3,678.4 432.8,676.3 433.2,678.5 433.7,675.4 434.1,680.9 434.6,679.5 435.1,680.4 435.5,679.6 436.0,677.6 436.5,678.3 436.9,678.1 437.4,674.9 437.9,676.0 438.3,677.7 438.8,680.3 439.3,676.9 439.7,679.5 440.2,678.7 440.7,681.1 441.1,681.6 441.6,678.9 442.1,678.7 442.5,683.4 443.0,683.4 443.5,681.8 443.9,683.4 444.4,682.5 444.9,683.1 445.3,681.7 445.8,683.1 446.3,685.1 446.8,685.0 447.2,684.7 447.7,682.7 448.2,683.9 448.6,681.7 449.1,681.7 449.6,682.4 450.1,680.4 450.5,682.4 451.0,679.4 451.5,684.7 452.0,683.9 452.4,682.9 452.9,681.1 453.4,680.7 453.8,680.5 454.3,678.0 454.8,679.4 455.2,678.3 455.7,680.7 456.1,681.4 456.6,681.2 457.1,676.1 457.5,675.1 458.0,679.3 458.5,676.1 459.0,674.0 459.5,670.8 459.9,667.4 460.4,668.0 460.9,663.6 461.4,659.2" fill="none" stroke="#b57cc4" stroke-width="1.15" stroke-linejoin="round" stroke-linecap="round"/>
<polyline points="310.7,713.1 311.0,717.6 311.3,717.9 311.6,719.1 311.9,715.8 312.2,712.6 312.5,710.6 312.8,708.1 313.1,705.5 313.4,709.6 313.7,713.1 314.0,717.1 314.3,720.8 314.6,717.4 314.9,717.7 315.2,713.6 315.5,710.9 315.8,708.6 316.1,708.1 316.4,711.6 316.7,712.8 317.0,716.5 317.3,717.8 317.6,718.5 317.9,715.0 318.2,710.5 318.5,709.3 318.8,706.6 319.1,708.2 319.4,710.9 319.7,713.7 320.0,716.3 320.3,718.1 320.6,717.7 320.9,715.3 321.2,713.4 321.5,711.5 321.8,710.9 322.1,708.3 322.4,709.9 322.7,712.3 323.0,713.2 323.3,715.4 323.6,716.2 323.9,716.0 324.2,716.3 324.5,713.3 324.8,711.5 325.1,708.6 325.4,709.9 325.7,711.0 326.0,712.9 326.3,713.5 326.6,717.1 326.9,716.7 327.2,715.4 327.5,713.6 327.8,712.0 328.1,710.6 328.4,711.5 328.7,709.0 329.0,712.1 329.3,713.1 329.6,716.5 329.9,715.9 330.2,717.0 330.5,714.8 330.8,713.1 331.1,711.5 331.4,707.3 331.7,708.7 332.0,709.4 332.3,711.1 332.6,715.4 332.9,717.2 333.2,720.2 333.5,715.8 333.8,714.3 334.1,712.3 334.4,710.2 334.7,707.3 335.0,706.4 335.3,709.7 335.6,712.4 335.9,714.8 336.2,717.4 336.5,718.9 336.8,717.7 337.1,717.4 337.4,713.2 337.7,709.9 338.0,709.2 338.3,705.0 338.6,706.0 338.9,711.2 339.2,712.9 339.5,716.2 339.8,719.0 340.1,720.7 340.4,717.5 340.7,713.2 341.0,709.3 341.3,705.9 341.6,705.4 341.9,708.4 342.2,713.7 342.5,719.9 342.8,719.2 343.1,719.6 343.4,714.6 343.7,710.2 344.0,706.6 344.3,704.2 344.6,706.9 344.9,707.2 345.2,713.1 345.5,717.0 345.8,718.9 346.1,720.4 346.4,718.2 346.7,713.2 347.0,707.1 347.3,703.2 347.6,704.3 347.9,709.8 348.2,713.7 348.5,718.2 348.8,719.8 349.1,720.8 349.4,720.4 349.7,716.7 350.0,710.7 350.3,705.5 350.6,703.7 350.9,703.3 351.2,707.6 351.5,711.3 351.8,716.5 352.1,720.0 352.4,720.4 352.7,718.9 353.0,713.4 353.3,709.7 353.6,705.4 353.9,705.0 354.2,706.2 354.5,711.8 354.8,715.9 355.1,719.1 355.4,719.1 355.7,718.0 356.0,712.0 356.3,707.8 356.6,704.4 356.9,707.1 357.2,708.9 357.5,711.3 357.8,716.7 358.1,717.9 358.4,720.9 358.7,719.3 359.0,714.6 359.3,710.6 359.6,705.9 359.9,705.4 360.2,708.6 360.5,712.4 360.8,717.0 361.1,722.3 361.4,720.1 361.7,715.9 362.0,713.4 362.3,709.7 362.6,706.4 362.9,704.7 363.2,708.2 363.5,710.0 363.8,713.6 364.1,716.0 364.4,718.7 364.7,718.1 365.0,716.3 365.3,711.7 365.6,707.6 365.9,706.7 366.2,707.4 366.5,711.1 366.8,713.8 367.1,716.6 367.4,719.7 367.7,716.5 368.0,712.8 368.3,712.1 368.6,708.5 368.9,708.5 369.2,710.1 369.5,711.4 369.8,713.7 370.1,717.1 370.4,716.8 370.7,716.8 371.0,714.1 371.3,710.2 371.6,708.4 371.9,709.9 372.2,710.6 372.5,711.6 372.8,713.8 373.1,714.6 373.4,717.8 373.7,714.6 374.0,713.8 374.3,710.4 374.6,711.5 374.9,707.0 375.2,708.9 375.5,711.3 375.8,713.3 376.1,715.8 376.4,717.4 376.7,716.8 377.0,714.3 377.3,711.8 377.6,709.5 377.9,708.9 378.2,707.1 378.5,710.5 378.8,712.6 379.1,715.7 379.4,718.5 379.7,717.8 380.0,715.3 380.3,713.6 380.6,711.2 380.9,709.9 381.2,706.0 381.5,709.7 381.8,710.3 382.1,710.6 382.4,714.6 382.7,717.2 383.0,716.7 383.3,719.7 383.6,716.1 383.9,711.5 384.2,708.8 384.5,708.5 384.8,707.7 385.1,706.2 385.4,710.5 385.7,713.0 386.0,717.0 386.3,717.3 386.6,720.3 386.9,717.4 387.2,714.2 387.5,711.0 387.8,710.4 388.1,705.6 388.4,706.2 388.7,706.0 389.0,709.3 389.3,708.7 389.6,713.2 389.9,716.2 390.2,718.6 390.5,719.9 390.8,720.7 391.1,716.5 391.4,716.1 391.7,711.7 392.0,708.0 392.3,706.3 392.6,704.1 392.9,704.0 393.2,709.2 393.5,711.1 393.8,714.0 394.1,717.9 394.4,719.3 394.7,720.2 395.0,721.6 395.3,719.2 395.6,715.6 395.9,713.6 396.2,710.8 396.5,706.2 396.8,704.1 397.1,706.9 397.4,704.5 397.7,708.7 398.0,711.0 398.3,715.2 398.6,717.8 398.9,719.5 399.2,722.6 399.5,721.8 399.8,718.3 400.1,713.8 400.4,709.8 400.7,707.2 401.0,703.7 401.3,703.8 401.6,706.2 401.9,706.7 402.2,709.9 402.5,713.8 402.8,720.6 403.1,720.3 403.4,721.9 403.7,720.8 404.0,718.5 404.3,718.0 404.6,713.9 404.9,711.7 405.2,709.2 405.5,705.7 405.8,705.1 406.1,707.5 406.4,709.0 406.7,710.5 407.0,714.3 407.3,715.6 407.6,720.0 407.9,719.6 408.2,719.1 408.5,720.0 408.8,716.3 409.1,715.0 409.4,710.6 409.7,709.9 410.0,707.3 410.3,706.9 410.6,707.0 410.9,707.3 411.2,711.0 411.5,713.0 411.8,716.7 412.1,716.2 412.4,722.0 412.7,719.6 413.0,717.3 413.3,715.0 413.6,712.7 413.9,710.2 414.2,707.3 414.5,709.6 414.8,708.7 415.1,709.4 415.4,708.3 415.7,711.9 416.0,713.5 416.3,714.0 416.6,717.7 416.9,717.4 417.2,719.9 417.5,715.3 417.8,715.1 418.1,713.4 418.4,709.1 418.7,708.9 419.0,708.5 419.3,709.0 419.6,710.6 419.9,710.3 420.2,710.8 420.5,714.0 420.8,714.1 421.1,717.8 421.4,717.4 421.7,716.7 422.0,716.3 422.3,714.3 422.6,711.5 422.9,708.9 423.2,707.9 423.5,710.3 423.8,710.1 424.1,709.7 424.4,712.4 424.7,715.1 425.0,716.8 425.3,717.4 425.6,715.5 425.9,716.9 426.2,716.6 426.5,713.9 426.8,712.4 427.1,711.7 427.4,707.2 427.7,709.0 428.0,709.1 428.3,709.2 428.6,711.8 428.9,713.0 429.2,715.6 429.5,715.4 429.8,716.6 430.1,717.0 430.4,718.2 430.7,716.9 431.0,713.7 431.3,711.8 431.6,709.7 431.9,708.4 432.2,708.4 432.5,705.7 432.8,707.9 433.1,710.2 433.4,712.9 433.7,713.7 434.0,717.0 434.3,716.8 434.6,719.9 434.9,719.5 435.2,716.7 435.5,713.4 435.8,710.9 436.1,707.4 436.4,706.6 436.7,707.4 437.0,708.4 437.3,710.2 437.6,714.0 437.9,717.9 438.2,719.6 438.5,721.4 438.8,719.9 439.1,718.0 439.4,716.0 439.7,712.1 440.0,710.6 440.3,706.1 440.6,705.4 440.9,705.2 441.2,706.8 441.5,708.2 441.8,714.3 442.1,716.7 442.4,718.9 442.7,719.0 443.0,721.8 443.3,721.3 443.6,716.0 443.9,713.3 444.2,709.8 444.5,706.0 444.8,704.9 445.1,702.6 445.4,706.1 445.7,707.9 446.0,711.4 446.3,716.8 446.6,719.4 446.9,719.1 447.2,720.0 447.5,721.0 447.8,718.7 448.1,714.5 448.4,709.9 448.7,705.2 449.0,706.4 449.3,702.7 449.6,703.1 449.9,708.6 450.2,712.9 450.5,716.1 450.8,718.6 451.1,720.6 451.4,724.1 451.7,719.4 452.0,717.5 452.3,713.5 452.6,709.9 452.9,707.7 453.2,705.7 453.5,705.8 453.8,704.4 454.1,706.4 454.4,709.0 454.7,712.3 455.0,717.4 455.3,719.1 455.6,721.7 455.9,721.2 456.2,719.1 456.5,715.6 456.8,711.9 457.1,708.7 457.4,706.1 457.7,707.7 458.0,708.0 458.3,710.5 458.6,711.3 458.9,714.5 459.2,716.8 459.5,717.9 459.8,718.1 460.1,718.7 460.4,715.0 460.7,713.2 461.0,711.4 461.3,708.8" fill="none" stroke="#000" stroke-width="1.0" stroke-linejoin="round" stroke-linecap="round"/>
<line x1="329.5" y1="570.4" x2="386.5" y2="570.4" stroke="#444" stroke-width="0.8" stroke-dasharray="2.5,2"/>
<line x1="329.5" y1="570.4" x2="329.5" y2="729.2" stroke="#444" stroke-width="0.8" stroke-dasharray="2.5,2"/>
<line x1="386.5" y1="570.4" x2="386.5" y2="697.0" stroke="#444" stroke-width="0.8" stroke-dasharray="2.5,2"/>
<line x1="329.5" y1="729.5" x2="386.5" y2="729.5" stroke="#444" stroke-width="0.8" stroke-dasharray="2.5,2"/>
<line x1="386.5" y1="697.0" x2="501.5" y2="690.5" stroke="#444" stroke-width="0.8" stroke-dasharray="2.5,2"/>
<line x1="386.5" y1="700.5" x2="501.5" y2="704.0" stroke="#444" stroke-width="0.8" stroke-dasharray="2.5,2"/>
<line x1="463.8" y1="649.3" x2="471.4" y2="649.3" stroke="#2c59ad" stroke-width="1.3"/>
<text x="475.8" y="651.7" font-size="6.9">SMBD</text>
<line x1="463.8" y1="658.1" x2="471.4" y2="658.1" stroke="#6aaee6" stroke-width="1.3"/>
<text x="475.8" y="660.5" font-size="6.9">SMBV</text>
<line x1="463.8" y1="666.9" x2="471.4" y2="666.9" stroke="#ea5560" stroke-width="1.3"/>
<text x="475.8" y="669.3" font-size="6.9">SAAD</text>
<line x1="463.8" y1="675.7" x2="471.4" y2="675.7" stroke="#b57cc4" stroke-width="1.3"/>
<text x="475.8" y="678.1" font-size="6.9">SMDV</text>
<line x1="501.5" y1="605.2" x2="629.7" y2="605.2" stroke="#444" stroke-width="0.8" stroke-dasharray="2.5,2"/>
<line x1="501.5" y1="605.2" x2="501.5" y2="719.5" stroke="#444" stroke-width="0.8" stroke-dasharray="2.5,2"/>
<line x1="629.7" y1="605.2" x2="629.7" y2="719.5" stroke="#444" stroke-width="0.8" stroke-dasharray="2.5,2"/>
<line x1="501.5" y1="719.5" x2="629.7" y2="719.5" stroke="#444" stroke-width="0.8" stroke-dasharray="2.5,2"/>
<line x1="501.5" y1="694.6" x2="629.7" y2="694.6" stroke="#333" stroke-width="0.8"/>
<line x1="544.6" y1="694.6" x2="544.6" y2="692.8" stroke="#231f20" stroke-width="0.6"/>
<line x1="544.6" y1="719.5" x2="544.6" y2="717.7" stroke="#231f20" stroke-width="0.6"/>
<line x1="587.2" y1="694.6" x2="587.2" y2="692.8" stroke="#231f20" stroke-width="0.6"/>
<line x1="587.2" y1="719.5" x2="587.2" y2="717.7" stroke="#231f20" stroke-width="0.6"/>
<text x="503.4" y="728.3" font-size="7.8" text-anchor="middle">3</text>
<text x="628.5" y="729.0" font-size="7.8" text-anchor="middle">6</text>
<text x="564.0" y="734.2" font-size="8.78" text-anchor="middle">Time (min)</text>
<text x="641.3" y="670.5" font-size="8.81" text-anchor="middle" transform="rotate(-90 641.3 670.5)">Scale bar</text>
<path d="M646.6,666.8 L645.3,666.8 L645.3,673.5 L646.6,673.5" fill="none" stroke="#231f20" stroke-width="0.6" stroke-linecap="round" stroke-linejoin="round"/>
<text x="648.3" y="668.8" font-size="7.0">1</text>
<text x="648.3" y="677.2" font-size="7.0">0</text>
<polyline points="501.6,621.2 502.1,621.1 502.6,618.3 503.1,617.1 503.6,618.5 504.0,620.5 504.5,619.8 504.9,618.4 505.4,618.8 505.8,619.8 506.3,621.3 506.7,619.6 507.2,618.0 507.6,617.0 508.0,616.4 508.5,614.5 508.9,614.0 509.3,613.4 509.8,613.7 510.2,611.3 510.6,612.4 511.1,610.9 511.5,612.7 512.0,612.6 512.4,612.2 512.9,612.9 513.3,614.2 513.7,613.9 514.1,615.7 514.5,617.2 514.9,618.1 515.3,618.9 515.7,616.8 516.1,618.5 516.5,618.4 516.9,620.5 517.3,620.7 517.7,621.1 518.2,621.7 518.6,621.0 519.0,621.9 519.4,621.5 519.9,624.5 520.3,622.9 520.7,623.3 521.1,621.9 521.6,622.2 522.0,623.2 522.4,625.1 522.9,625.6 523.3,625.4 523.7,624.7 524.1,627.1 524.6,625.0 525.0,624.9 525.4,626.4 525.8,625.4 526.3,626.6 526.7,627.7 527.1,626.9 527.5,627.3 527.9,627.0 528.3,626.3 528.8,623.7 529.2,625.2 529.6,626.7 530.0,625.4 530.4,626.2 530.8,627.2 531.2,628.5 531.6,626.2 532.0,626.6 532.4,627.4 532.9,627.9 533.3,626.2 533.7,629.0 534.1,627.0 534.5,628.5 534.9,627.0 535.4,626.9 535.8,627.8 536.2,626.6 536.6,625.4 537.1,623.6 537.5,623.2 537.9,622.0 538.3,624.7 538.8,621.3 539.2,619.3 539.6,622.9 540.0,623.0 540.5,621.2 540.9,621.9 541.3,620.2 541.7,619.9 542.2,620.7 542.6,620.5 543.0,619.5 543.4,621.1 543.9,620.4 544.3,619.4 544.7,617.7 545.1,617.8 545.5,616.6 545.9,615.9 546.3,615.8 546.7,613.7 547.1,613.4 547.5,613.1 547.9,611.8 548.3,612.8 548.7,608.2 549.1,609.6 549.6,609.1 550.0,610.4 550.4,613.6 550.8,610.4 551.3,611.5 551.7,613.0 552.1,613.1 552.5,614.2 553.0,612.4 553.4,614.8 553.8,613.2 554.2,612.6 554.7,614.1 555.1,614.3 555.5,613.0 555.9,612.6 556.3,613.0 556.8,613.2 557.2,613.0 557.6,612.1 558.0,610.5 558.4,613.7 558.9,613.2 559.3,611.6 559.7,610.8 560.1,612.5 560.6,613.9 561.0,613.2 561.4,617.3 561.8,617.9 562.3,618.0 562.7,619.4 563.1,620.3 563.5,622.1 564.0,622.3 564.4,624.2 564.8,624.3 565.2,622.2 565.6,621.4 566.0,620.6 566.4,620.8 566.8,620.1 567.2,620.4 567.7,620.5 568.1,620.5 568.5,618.6 568.9,620.2 569.3,618.8 569.7,618.5 570.1,617.8 570.5,615.9 570.9,618.7 571.4,618.0 571.8,621.4 572.2,621.7 572.7,624.0 573.1,624.2 573.5,625.1 574.0,626.6 574.4,626.2 574.8,627.6 575.2,626.3 575.7,626.5 576.1,625.7 576.5,626.9 576.9,627.3 577.3,626.3 577.8,625.4 578.2,626.6 578.6,627.3 579.0,627.0 579.4,626.2 579.9,626.4 580.3,627.0 580.7,624.8 581.1,626.4 581.5,628.8 581.9,626.6 582.3,627.3 582.8,629.3 583.2,628.8 583.6,628.9 584.0,627.9 584.4,626.6 584.8,630.5 585.2,628.8 585.6,628.4 586.0,629.8 586.4,629.3 586.9,628.4 587.3,627.1 587.7,627.9 588.1,628.0 588.5,627.6 588.9,627.1 589.3,626.6 589.7,627.2 590.2,626.6 590.6,627.3 591.0,627.9 591.4,627.1 591.8,626.4 592.2,627.6 592.7,626.7 593.1,624.3 593.5,624.3 593.9,625.0 594.3,623.9 594.7,625.1 595.2,622.6 595.6,621.8 596.0,624.3 596.4,624.2 596.8,621.5 597.2,622.2 597.7,623.2 598.1,620.5 598.5,619.5 598.9,618.8 599.4,618.5 599.8,617.2 600.2,617.8 600.6,616.5 601.1,617.3 601.5,619.2 601.9,615.9 602.3,617.8 602.7,618.9 603.2,616.1 603.6,618.4 604.0,619.1 604.4,619.4 604.9,621.0 605.3,620.5 605.7,621.6 606.1,621.6 606.6,622.2 607.0,622.1 607.4,625.6 607.8,624.0 608.3,622.6 608.7,625.5 609.1,625.8 609.6,624.1 610.0,623.4 610.4,623.3 610.9,625.3 611.3,624.2 611.7,622.9 612.2,623.7 612.6,622.3 613.0,621.7 613.4,623.0 613.9,621.7 614.3,621.3 614.7,619.9 615.1,620.0 615.6,618.1 616.0,618.3 616.4,619.2 616.8,618.5 617.2,618.1 617.6,620.3 618.0,620.7 618.4,622.0 618.8,621.6 619.2,623.2 619.7,622.6 620.1,622.8 620.6,621.3 621.0,618.6 621.5,618.1 621.9,616.8 622.3,618.8 622.7,618.6 623.1,620.2 623.5,620.1 623.9,619.9 624.3,619.9 624.7,622.3 625.1,621.1 625.6,621.3 626.0,620.8 626.5,617.9 626.9,619.7 627.4,618.8 627.8,619.1 628.3,619.7 628.8,617.9 629.2,619.4 629.7,620.4" fill="none" stroke="#2c59ad" stroke-width="1.2" stroke-linejoin="round" stroke-linecap="round"/>
<polyline points="501.6,623.4 502.1,624.5 502.5,630.5 503.0,629.5 503.4,630.2 503.9,632.1 504.3,629.3 504.7,627.3 505.1,627.2 505.5,624.7 505.9,624.5 506.3,621.9 506.7,621.0 507.2,622.5 507.6,624.3 508.0,624.3 508.4,627.8 508.9,629.2 509.3,632.1 509.7,631.4 510.1,633.1 510.6,635.4 511.0,637.2 511.4,635.1 511.8,638.0 512.3,636.0 512.7,637.9 513.1,636.5 513.5,636.2 513.9,635.2 514.4,636.5 514.8,640.0 515.2,636.9 515.6,639.2 516.0,639.4 516.5,637.4 516.9,639.0 517.3,639.7 517.7,638.2 518.1,638.0 518.5,640.5 518.9,640.4 519.4,643.0 519.8,641.8 520.2,639.9 520.6,641.4 521.0,640.6 521.4,643.3 521.8,644.2 522.2,643.3 522.6,643.0 523.0,645.5 523.5,644.8 523.9,647.1 524.3,645.2 524.7,646.1 525.1,646.3 525.5,645.1 526.0,649.2 526.4,648.3 526.8,644.9 527.2,645.6 527.7,642.0 528.1,644.8 528.5,644.7 528.9,642.5 529.4,641.6 529.8,641.8 530.2,643.0 530.6,642.9 531.0,642.8 531.4,644.2 531.8,644.9 532.2,647.2 532.6,647.4 533.0,648.3 533.4,646.7 533.8,648.6 534.2,646.8 534.7,644.7 535.1,643.2 535.5,641.0 536.0,637.5 536.4,638.2 536.8,636.8 537.3,633.0 537.7,632.1 538.1,630.0 538.6,628.8 539.0,629.5 539.4,631.5 539.8,629.5 540.3,627.0 540.7,628.4 541.1,627.3 541.5,626.5 542.0,627.4 542.4,624.6 542.8,624.3 543.2,625.0 543.7,628.5 544.1,628.2 544.5,627.5 544.9,627.5 545.3,629.5 545.7,630.9 546.2,628.9 546.6,630.0 547.0,633.1 547.4,631.3 547.9,629.6 548.3,630.0 548.7,629.7 549.2,630.2 549.6,629.8 550.1,628.5 550.5,628.6 550.9,629.1 551.4,627.8 551.8,628.3 552.2,627.5 552.6,630.2 553.0,631.4 553.5,628.7 553.9,630.6 554.3,630.3 554.7,630.3 555.1,630.1 555.5,630.9 556.0,632.2 556.4,629.8 556.8,632.4 557.2,631.5 557.6,630.4 558.0,631.8 558.5,633.1 558.9,632.6 559.3,633.2 559.7,632.7 560.1,633.0 560.5,635.4 560.9,634.0 561.4,636.7 561.8,636.9 562.2,636.6 562.6,637.1 563.0,637.7 563.4,638.6 563.8,639.3 564.2,639.8 564.7,638.1 565.1,638.1 565.5,641.7 565.9,641.7 566.3,641.6 566.8,642.1 567.2,641.0 567.6,644.1 568.0,642.8 568.5,642.3 568.9,641.1 569.3,643.5 569.8,643.9 570.2,645.1 570.6,644.7 571.1,642.7 571.5,641.8 571.9,645.1 572.4,643.3 572.8,643.8 573.2,644.1 573.6,645.2 574.1,645.7 574.5,644.1 574.9,644.4 575.3,643.4 575.7,646.2 576.1,646.1 576.6,644.4 577.0,647.7 577.4,647.3 577.8,646.2 578.2,646.9 578.6,647.1 579.1,648.2 579.5,648.8 579.9,648.1 580.3,648.2 580.8,643.7 581.2,644.8 581.6,645.5 582.1,645.3 582.5,644.2 582.9,641.0 583.4,638.8 583.8,639.2 584.2,642.8 584.7,641.1 585.1,639.6 585.5,638.2 585.9,640.2 586.4,639.9 586.8,641.1 587.2,641.0 587.6,637.9 588.1,640.1 588.5,641.7 588.9,639.7 589.3,638.1 589.8,637.4 590.2,636.6 590.6,640.3 591.0,639.6 591.4,636.6 591.9,637.9 592.3,634.7 592.7,634.3 593.1,633.5 593.5,633.5 594.0,634.1 594.4,635.5 594.8,633.7 595.2,631.7 595.6,631.1 596.0,629.9 596.4,629.8 596.8,627.7 597.2,628.1 597.6,627.9 598.0,627.9 598.4,625.1 598.8,625.5 599.2,626.8 599.7,626.7 600.1,626.2 600.5,628.8 601.0,632.1 601.4,632.3 601.8,636.5 602.3,636.2 602.7,635.5 603.1,636.3 603.5,637.4 603.9,638.0 604.3,637.5 604.8,638.6 605.2,642.1 605.6,640.6 606.0,639.7 606.4,639.1 606.8,637.6 607.2,640.0 607.6,640.1 608.0,640.8 608.4,640.7 608.9,642.6 609.3,643.6 609.7,641.9 610.1,641.1 610.5,643.3 610.9,644.3 611.4,642.8 611.8,642.1 612.2,639.1 612.6,639.0 613.1,639.9 613.5,639.3 613.9,638.2 614.3,638.2 614.8,638.0 615.2,636.5 615.6,634.3 616.0,632.1 616.4,632.7 616.8,631.5 617.2,630.4 617.6,630.9 618.0,627.9 618.4,626.9 618.8,627.0 619.2,624.2 619.7,624.7 620.1,628.6 620.6,633.0 621.0,634.0 621.5,636.5 621.9,634.1 622.3,637.0 622.7,633.5 623.1,633.8 623.5,634.1 623.9,636.3 624.3,634.1 624.7,632.3 625.1,632.4 625.6,635.0 626.0,635.4 626.5,637.3 626.9,639.6 627.4,642.6 627.8,641.4 628.3,643.3 628.8,639.2 629.2,642.6 629.7,640.0" fill="none" stroke="#6aaee6" stroke-width="1.2" stroke-linejoin="round" stroke-linecap="round"/>
<polyline points="501.6,670.8 502.0,665.4 502.5,665.5 502.9,663.8 503.4,661.6 503.8,660.7 504.3,659.7 504.7,659.2 505.1,660.4 505.6,661.8 506.0,661.1 506.4,662.5 506.8,662.0 507.3,661.6 507.7,661.2 508.1,660.3 508.5,659.4 509.0,661.7 509.4,662.2 509.8,660.8 510.3,658.8 510.7,654.3 511.2,652.4 511.6,649.7 512.0,650.5 512.5,647.3 512.9,645.3 513.4,641.6 513.8,638.5 514.2,641.7 514.7,645.0 515.1,648.3 515.5,647.9 516.0,652.5 516.4,653.5 516.9,656.1 517.3,658.8 517.7,659.0 518.1,660.7 518.5,661.9 518.9,661.6 519.4,660.5 519.8,661.9 520.2,662.4 520.6,663.5 521.0,663.1 521.4,660.5 521.8,661.5 522.2,662.5 522.6,665.0 523.0,664.1 523.5,665.8 523.9,665.5 524.3,663.5 524.7,665.2 525.1,666.5 525.6,667.0 526.0,664.6 526.5,667.4 526.9,666.8 527.4,664.8 527.8,667.0 528.3,665.8 528.7,665.6 529.1,668.9 529.6,670.4 530.0,667.9 530.4,665.8 530.8,666.9 531.3,664.1 531.7,660.9 532.1,657.4 532.5,661.0 533.0,656.4 533.4,653.8 533.8,655.9 534.2,657.9 534.6,657.3 535.0,660.3 535.4,659.5 535.9,660.1 536.3,660.8 536.7,659.7 537.1,661.0 537.5,664.7 537.9,660.9 538.3,662.1 538.7,663.1 539.2,662.1 539.6,662.9 540.0,660.9 540.4,662.6 540.8,664.0 541.2,665.5 541.6,665.3 542.1,662.7 542.5,661.2 542.9,665.0 543.3,664.1 543.7,659.5 544.2,660.7 544.6,659.8 545.0,659.8 545.4,657.9 545.8,659.3 546.3,659.1 546.7,659.3 547.1,660.9 547.5,660.3 547.9,658.1 548.3,657.1 548.7,658.8 549.2,661.8 549.6,662.2 550.0,660.1 550.4,662.4 550.8,662.0 551.2,660.4 551.6,661.8 552.0,661.5 552.4,660.0 552.8,660.8 553.3,662.0 553.7,664.1 554.1,661.1 554.5,662.6 554.9,662.7 555.3,661.6 555.7,658.9 556.2,661.3 556.6,661.0 557.0,660.7 557.4,658.1 557.9,658.4 558.3,656.3 558.7,655.7 559.1,652.9 559.6,652.4 560.0,650.7 560.4,648.5 560.8,650.3 561.2,650.5 561.6,651.4 562.0,653.5 562.4,654.5 562.8,659.6 563.2,661.1 563.6,661.2 564.0,661.7 564.4,660.2 564.8,659.1 565.2,654.5 565.7,653.1 566.1,651.2 566.5,649.2 566.9,650.3 567.3,647.5 567.7,651.1 568.1,646.8 568.5,647.4 568.9,643.3 569.3,645.6 569.7,642.2 570.1,643.1 570.5,642.3 570.9,645.9 571.4,648.1 571.8,650.0 572.2,651.4 572.7,656.6 573.1,655.9 573.5,658.2 574.0,659.8 574.4,662.8 574.8,661.4 575.2,662.1 575.7,663.7 576.1,662.4 576.5,663.8 576.9,662.6 577.3,665.5 577.8,663.8 578.2,666.4 578.6,665.1 579.0,664.0 579.4,665.5 579.9,666.2 580.3,667.0 580.7,667.0 581.1,666.4 581.5,663.3 581.9,666.0 582.3,665.1 582.8,665.8 583.2,667.4 583.6,664.8 584.0,667.5 584.4,669.8 584.8,667.6 585.2,666.0 585.6,668.4 586.0,667.2 586.4,668.4 586.9,669.1 587.3,665.1 587.7,667.3 588.1,665.0 588.5,665.9 588.9,667.8 589.3,665.3 589.7,665.2 590.1,665.4 590.5,666.4 590.9,666.5 591.3,666.4 591.7,664.8 592.1,663.8 592.5,665.2 593.0,663.3 593.4,662.8 593.8,664.8 594.2,662.7 594.6,661.9 595.0,664.6 595.4,663.2 595.8,659.4 596.2,660.7 596.6,664.8 597.0,666.7 597.5,657.8 598.0,653.7 598.5,658.3 599.0,662.1 599.5,663.2 599.9,666.7 600.3,666.3 600.8,665.3 601.2,662.9 601.6,663.9 602.0,664.8 602.4,664.7 602.9,665.3 603.3,664.4 603.7,666.2 604.1,666.0 604.5,663.1 605.0,663.3 605.4,664.8 605.8,663.6 606.2,666.2 606.6,663.7 607.1,664.3 607.5,664.9 607.9,662.3 608.3,665.3 608.7,663.6 609.2,662.4 609.6,662.1 610.0,660.5 610.4,660.5 610.8,664.8 611.3,663.1 611.7,662.4 612.1,662.9 612.5,664.0 612.9,662.5 613.4,663.5 613.8,664.7 614.2,666.4 614.6,665.9 615.0,668.3 615.5,666.3 615.9,666.0 616.3,664.7 616.7,666.8 617.1,668.6 617.6,668.0 618.0,668.3 618.4,667.5 618.8,666.0 619.3,664.5 619.7,663.3 620.2,663.4 620.6,661.1 621.1,659.8 621.5,658.5 621.9,654.7 622.4,655.5 622.8,652.6 623.2,648.8 623.6,648.0 624.1,647.5 624.5,644.0 624.9,648.0 625.3,644.1 625.8,643.5 626.2,639.2 626.6,641.7 627.1,643.4 627.5,643.2 628.0,645.6 628.4,646.6 628.8,648.3 629.3,647.2 629.7,650.2" fill="none" stroke="#ea5560" stroke-width="1.2" stroke-linejoin="round" stroke-linecap="round"/>
<polyline points="501.6,682.7 502.0,680.6 502.5,683.5 502.9,685.7 503.4,682.8 503.8,682.8 504.3,682.5 504.7,681.5 505.1,682.2 505.6,683.5 506.0,682.7 506.4,681.7 506.8,681.9 507.3,685.5 507.7,686.7 508.1,687.0 508.5,685.1 509.0,687.8 509.4,689.3 509.8,688.5 510.3,688.9 510.7,692.7 511.1,692.7 511.5,692.3 512.0,691.8 512.4,691.1 512.8,691.2 513.2,692.8 513.7,691.4 514.1,692.2 514.5,693.3 515.0,689.2 515.4,688.0 515.8,690.0 516.2,687.7 516.7,686.2 517.1,683.7 517.5,681.6 517.9,683.4 518.4,678.3 518.8,680.1 519.2,679.6 519.7,680.1 520.1,678.0 520.5,681.2 520.9,681.6 521.4,681.4 521.8,681.7 522.2,679.7 522.6,681.2 523.1,682.0 523.5,681.6 523.9,676.9 524.3,678.8 524.8,678.7 525.2,676.4 525.6,676.6 526.0,677.3 526.5,675.1 526.9,675.5 527.3,672.6 527.7,671.0 528.2,671.1 528.6,669.0 529.0,666.9 529.4,670.3 529.8,671.6 530.2,673.6 530.6,673.2 531.0,674.6 531.4,677.0 531.8,677.3 532.2,678.7 532.6,680.6 533.0,680.7 533.4,681.0 533.9,678.5 534.3,679.8 534.8,682.2 535.2,679.7 535.7,677.4 536.1,674.9 536.5,675.2 536.9,676.4 537.4,676.1 537.8,677.7 538.2,677.7 538.6,678.5 539.0,677.6 539.5,678.7 539.9,679.7 540.3,677.2 540.7,677.8 541.1,678.0 541.6,678.1 542.0,679.7 542.4,678.4 542.8,677.8 543.3,677.5 543.7,677.6 544.1,679.7 544.5,681.6 545.0,681.3 545.4,680.6 545.8,681.5 546.2,681.2 546.7,683.8 547.1,683.5 547.5,685.1 547.9,684.5 548.3,684.4 548.7,682.6 549.2,684.1 549.6,683.3 550.0,683.1 550.4,684.0 550.8,685.9 551.2,685.1 551.6,686.8 552.0,685.6 552.4,683.0 552.8,683.5 553.3,686.6 553.7,685.7 554.1,685.0 554.5,684.3 554.9,685.0 555.3,685.8 555.7,685.3 556.2,686.0 556.6,686.8 557.0,685.7 557.4,686.8 557.8,686.8 558.3,687.2 558.7,687.4 559.1,688.0 559.5,688.3 559.9,691.7 560.4,690.4 560.8,691.1 561.2,690.2 561.7,689.5 562.1,688.5 562.6,688.4 563.0,687.3 563.5,683.3 563.9,683.8 564.4,680.7 564.8,682.2 565.3,681.3 565.7,682.4 566.1,682.0 566.5,680.8 567.0,683.1 567.4,682.9 567.8,683.4 568.2,684.3 568.7,685.1 569.1,688.0 569.5,685.5 570.0,686.7 570.4,687.4 570.9,691.1 571.3,691.0 571.7,688.8 572.2,688.4 572.6,686.6 573.0,685.5 573.4,681.7 573.9,681.4 574.3,680.8 574.7,678.1 575.1,678.4 575.6,675.6 576.0,673.0 576.4,675.0 576.9,678.0 577.3,680.6 577.8,680.8 578.2,683.5 578.7,684.4 579.1,685.3 579.6,683.2 580.1,683.2 580.5,680.4 581.0,679.0 581.5,679.0 582.0,680.9 582.4,681.6 582.9,683.7 583.3,686.7 583.8,686.4 584.2,686.7 584.6,683.1 585.0,682.2 585.4,678.3 585.8,676.0 586.2,674.9 586.6,672.6 587.0,671.5 587.4,670.9 587.9,672.1 588.3,676.2 588.8,677.3 589.2,677.0 589.7,679.1 590.1,682.0 590.6,679.0 591.1,675.5 591.5,674.8 592.0,673.4 592.5,672.3 592.9,673.5 593.4,674.4 593.8,673.7 594.2,674.0 594.7,675.3 595.1,678.4 595.5,680.4 596.0,678.5 596.4,681.9 596.9,680.9 597.4,679.9 597.8,677.3 598.3,675.5 598.8,672.8 599.2,673.5 599.7,674.9 600.1,676.5 600.5,676.6 600.9,679.0 601.4,681.9 601.8,682.1 602.2,685.1 602.6,684.4 603.1,686.9 603.5,687.1 603.9,687.4 604.4,685.7 604.8,684.3 605.2,682.6 605.7,680.5 606.1,679.5 606.5,676.9 607.0,672.0 607.4,672.7 607.8,675.3 608.3,673.9 608.7,679.0 609.2,679.9 609.6,682.7 610.1,683.1 610.5,685.1 610.9,682.6 611.3,681.6 611.7,678.8 612.1,679.3 612.5,677.5 612.9,675.8 613.3,674.2 613.7,672.5 614.2,675.8 614.6,678.1 615.1,680.1 615.5,684.1 616.0,683.9 616.5,681.8 617.0,678.5 617.4,677.1 617.9,675.1 618.4,670.9 618.8,675.1 619.3,674.9 619.7,678.3 620.2,681.0 620.6,682.0 621.1,687.1 621.5,688.4 621.9,686.9 622.3,688.9 622.8,689.7 623.2,689.0 623.6,688.9 624.0,691.3 624.4,693.7 624.9,692.1 625.3,694.4 625.7,690.7 626.1,690.3 626.5,692.6 627.0,692.6 627.4,693.9 627.8,696.4 628.3,693.5 628.8,694.7 629.2,694.5 629.7,694.5" fill="none" stroke="#b57cc4" stroke-width="1.2" stroke-linejoin="round" stroke-linecap="round"/>
<polyline points="501.5,708.7 501.8,712.4 502.1,714.1 502.4,716.6 502.7,715.8 503.0,714.6 503.3,712.3 503.6,708.9 503.9,705.4 504.2,704.4 504.5,703.2 504.8,702.9 505.1,703.2 505.4,706.2 505.7,709.0 506.0,711.9 506.3,713.7 506.6,715.8 506.9,715.8 507.2,712.9 507.5,712.1 507.8,708.2 508.1,706.6 508.4,702.6 508.7,701.4 509.0,701.2 509.3,702.3 509.6,705.8 509.9,708.5 510.2,711.3 510.5,714.7 510.8,713.9 511.1,716.1 511.4,713.9 511.7,712.3 512.0,709.3 512.3,705.2 512.6,703.0 512.9,702.8 513.2,701.5 513.5,702.2 513.8,704.1 514.1,707.3 514.4,708.7 514.7,712.7 515.0,713.4 515.3,715.5 515.6,714.8 515.9,713.2 516.2,712.7 516.5,709.4 516.8,706.2 517.1,704.7 517.4,703.3 517.7,703.8 518.0,703.0 518.3,706.3 518.6,706.9 518.9,710.2 519.2,713.1 519.5,713.9 519.8,714.1 520.1,714.8 520.4,711.4 520.7,710.9 521.0,706.3 521.3,705.8 521.6,703.8 521.9,705.0 522.2,702.9 522.5,703.8 522.8,706.5 523.1,709.3 523.4,710.1 523.7,712.5 524.0,714.2 524.3,713.4 524.6,712.8 524.9,711.4 525.2,709.5 525.5,706.9 525.8,705.9 526.1,704.0 526.4,704.1 526.7,705.7 527.0,706.4 527.3,708.6 527.6,710.0 527.9,710.9 528.2,713.7 528.5,713.7 528.8,711.9 529.1,712.2 529.4,709.1 529.7,706.9 530.0,705.5 530.3,705.1 530.6,704.8 530.9,705.2 531.2,706.3 531.5,708.9 531.8,709.6 532.1,711.4 532.4,711.9 532.7,712.6 533.0,712.8 533.3,711.6 533.6,710.7 533.9,708.6 534.2,707.7 534.5,707.0 534.8,706.3 535.1,706.0 535.4,704.9 535.7,706.9 536.0,708.4 536.3,708.9 536.6,710.4 536.9,712.0 537.2,711.4 537.5,713.2 537.8,710.2 538.1,709.4 538.4,709.1 538.7,707.6 539.0,705.5 539.3,704.3 539.6,706.4 539.9,707.1 540.2,707.8 540.5,708.6 540.8,708.4 541.1,710.0 541.4,711.3 541.7,710.7 542.0,710.5 542.3,710.7 542.6,709.4 542.9,707.5 543.2,706.1 543.5,706.1 543.8,706.6 544.1,704.8 544.4,706.0 544.7,707.3 545.0,708.7 545.3,708.9 545.6,711.4 545.9,710.4 546.2,712.5 546.5,711.1 546.8,710.0 547.1,709.1 547.4,707.1 547.7,706.1 548.0,705.0 548.3,706.3 548.6,704.9 548.9,705.5 549.2,707.7 549.5,708.9 549.8,710.1 550.1,711.9 550.4,711.0 550.7,712.8 551.0,712.7 551.3,711.6 551.6,709.0 551.9,706.8 552.2,707.0 552.5,705.1 552.8,705.9 553.1,704.7 553.4,705.3 553.7,707.3 554.0,709.0 554.3,711.6 554.6,713.8 554.9,713.7 555.2,711.5 555.5,712.3 555.8,709.6 556.1,707.2 556.4,705.6 556.7,703.2 557.0,703.0 557.3,704.1 557.6,705.7 557.9,709.2 558.2,711.1 558.5,713.0 558.8,713.7 559.1,713.9 559.4,711.6 559.7,709.1 560.0,707.5 560.3,706.0 560.6,705.0 560.9,701.6 561.2,702.4 561.5,705.1 561.8,706.5 562.1,707.6 562.4,710.0 562.7,711.7 563.0,712.9 563.3,714.7 563.6,714.2 563.9,712.9 564.2,710.9 564.5,708.2 564.8,705.7 565.1,703.2 565.4,702.7 565.7,702.6 566.0,704.8 566.3,705.0 566.6,706.3 566.9,709.3 567.2,712.9 567.5,715.0 567.8,714.9 568.1,715.8 568.4,712.9 568.7,710.2 569.0,707.2 569.3,705.4 569.6,703.1 569.9,702.2 570.2,702.9 570.5,704.8 570.8,706.9 571.1,708.9 571.4,710.7 571.7,713.7 572.0,714.1 572.3,716.5 572.6,714.2 572.9,714.0 573.2,711.3 573.5,708.9 573.8,704.2 574.1,703.7 574.4,700.9 574.7,701.4 575.0,703.7 575.3,705.4 575.6,707.5 575.9,711.7 576.2,712.9 576.5,715.7 576.8,714.3 577.1,715.5 577.4,712.8 577.7,709.2 578.0,706.7 578.3,703.9 578.6,702.9 578.9,701.8 579.2,704.2 579.5,705.8 579.8,708.2 580.1,710.1 580.4,713.8 580.7,715.9 581.0,715.7 581.3,715.2 581.6,713.4 581.9,709.1 582.2,706.3 582.5,704.1 582.8,703.0 583.1,702.6 583.4,702.5 583.7,704.1 584.0,706.2 584.3,707.4 584.6,709.8 584.9,713.2 585.2,715.5 585.5,716.6 585.8,714.1 586.1,712.9 586.4,711.9 586.7,708.9 587.0,706.4 587.3,705.2 587.6,703.7 587.9,702.4 588.2,704.0 588.5,705.0 588.8,706.6 589.1,709.3 589.4,710.2 589.7,712.9 590.0,714.0 590.3,714.8 590.6,712.9 590.9,711.1 591.2,709.1 591.5,707.4 591.8,705.0 592.1,703.4 592.4,704.5 592.7,705.0 593.0,706.5 593.3,707.4 593.6,711.2 593.9,712.0 594.2,712.3 594.5,712.7 594.8,712.1 595.1,710.2 595.4,708.5 595.7,706.4 596.0,705.0 596.3,704.4 596.6,705.3 596.9,705.3 597.2,707.7 597.5,709.4 597.8,711.0 598.1,712.7 598.4,713.1 598.7,711.7 599.0,711.5 599.3,710.4 599.6,708.9 599.9,707.9 600.2,706.9 600.5,705.4 600.8,704.7 601.1,705.3 601.4,707.3 601.7,707.3 602.0,709.6 602.3,711.8 602.6,711.9 602.9,713.0 603.2,712.9 603.5,711.1 603.8,710.2 604.1,708.4 604.4,707.2 604.7,704.8 605.0,706.2 605.3,705.4 605.6,706.7 605.9,708.1 606.2,709.2 606.5,710.7 606.8,712.1 607.1,712.8 607.4,710.9 607.7,711.2 608.0,708.6 608.3,708.0 608.6,706.0 608.9,706.7 609.2,706.9 609.5,707.5 609.8,707.7 610.1,707.9 610.4,709.8 610.7,710.3 611.0,712.2 611.3,710.4 611.6,711.0 611.9,710.5 612.2,709.0 612.5,707.7 612.8,705.7 613.1,705.8 613.4,706.1 613.7,705.2 614.0,706.4 614.3,707.3 614.6,708.3 614.9,710.3 615.2,710.2 615.5,713.3 615.8,712.7 616.1,711.8 616.4,710.2 616.7,709.4 617.0,707.9 617.3,706.3 617.6,704.8 617.9,704.3 618.2,706.0 618.5,705.2 618.8,707.4 619.1,708.1 619.4,709.7 619.7,711.4 620.0,712.9 620.3,712.5 620.6,711.7 620.9,711.6 621.2,710.6 621.5,708.0 621.8,707.0 622.1,707.0 622.4,705.8 622.7,705.9 623.0,704.8 623.3,705.9 623.6,707.8 623.9,709.2 624.2,710.6 624.5,712.0 624.8,712.6 625.1,713.4 625.4,713.0 625.7,711.2 626.0,709.3 626.3,707.1 626.6,704.0 626.9,704.8 627.2,704.6 627.5,703.6 627.8,706.2 628.1,708.0 628.4,710.1 628.7,711.2 629.0,712.8 629.3,714.5 629.6,713.0" fill="none" stroke="#000" stroke-width="1.2" stroke-linejoin="round" stroke-linecap="round"/>
</svg><div id="hm"><i style="top:0px;background:linear-gradient(90deg,#0c284e 0 2px,#0b254a 0 4px,#0c274d 0 6px,#091d3e 0 8px,#10355b 0 10px,#081a3a 0 12px,#0f3057 0 14px,#287f70 0 16px,#1d6575 0 18px,#1d6274 0 20px,#1a5870 0 22px,#1d6274 0 24px,#11385d 0 26px,#0f3158 0 28px,#0f2f56 0 30px,#0d2b52 0 32px,#0d2950 0 34px,#091f41 0 36px,#0b2347 0 38px,#0d2950 0 40px,#0b254a 0 42px,#0a2043 0 44px,#10355b 0 46px,#11385d 0 48px,#081a3a 0 50px,#123a5f 0 52px,#091e40 0 54px,#0e2e56 0 56px,#11385d 0 58px,#0b254a 0 60px,#0c264b 0 62px,#081a3a 0 64px,#0e2d55 0 68px,#081a3a 0 70px,#123a5f 0 72px,#0a2246 0 74px,#0d2950 0 76px,#0a2043 0 78px,#349167 0 80px,#0b2449 0 82px,#10345a 0 84px,#081c3d 0 86px,#123a5f 0 88px,#10365c 0 90px,#0d2b53 0 94px,#154567 0 96px,#123a5f 0 98px,#10365c 0 100px,#0c264b 0 102px,#081a3b 0 104px,#154668 0 106px,#0b2449 0 108px,#103359 0 110px,#0e2d55 0 112px,#0b2449 0 114px,#0d2a51 0 116px,#0b2347 0 118px,#174e6c 0 120px,#091f41 0 122px,#11375d 0 124px,#0c284e 0 126px,#0b2347 0 128px,#10365c 0 130px,#0d2950 0 132px,#11395e 0 134px,#0a2043 0 136px,#081b3c 0 138px,#10345a 0 140px,#237372 0 142px,#091e41 0 144px,#081a3a 0 146px,#0c264b 0 148px,#081a3a 0 150px,#0c284e 0 152px,#0f3158 0 154px,#0a2145 0 156px,#0d2b53 0 158px,#081a3a 0 160px,#0c274c 0 162px,#081a3a 0 164px,#0e2d55 0 166px,#0d2a51 0 168px,#091f41 0 170px,#091e41 0 172px)"></i><i style="top:1px;background:linear-gradient(90deg,#0c274d 0 2px,#091e40 0 4px,#123b5f 0 6px,#081a3b 0 8px,#081a3a 0 10px,#0a2043 0 12px,#081a3a 0 14px,#0d2a51 0 16px,#18506d 0 18px,#081a3a 0 20px,#10355b 0 22px,#091e41 0 24px,#10345a 0 26px,#0b254b 0 28px,#288070 0 30px,#0e2c54 0 32px,#0f2f56 0 34px,#0c264c 0 36px,#0f2f57 0 38px,#0a2144 0 40px,#091e40 0 42px,#0b2347 0 44px,#0c274c 0 46px,#091f41 0 48px,#0b2348 0 50px,#11385d 0 52px,#0c264c 0 54px,#0a2042 0 56px,#081a3a 0 58px,#0a2246 0 60px,#1f6a74 0 62px,#0f3057 0 64px,#081b3c 0 66px,#11375c 0 68px,#0d2b53 0 70px,#0b2449 0 72px,#0d2950 0 74px,#081c3d 0 76px,#0f2f56 0 78px,#10335a 0 80px,#0c284f 0 82px,#144366 0 84px,#10355b 0 86px,#0b254a 0 88px,#123a5f 0 90px,#081a3a 0 92px,#0d2b52 0 94px,#0f3057 0 96px,#0b2448 0 98px,#0b2549 0 100px,#0e2e56 0 102px,#0c264c 0 104px,#081a3a 0 106px,#0c264c 0 108px,#091e40 0 110px,#081a3a 0 112px,#0f3057 0 114px,#0b2448 0 116px,#0f2f56 0 118px,#10345a 0 120px,#0b254a 0 122px,#081c3c 0 124px,#0d2a51 0 126px,#0f3057 0 128px,#0b2449 0 130px,#4aa555 0 132px,#0c284f 0 134px,#0a2145 0 136px,#133f63 0 138px,#0e2e55 0 140px,#206c74 0 142px,#133e62 0 144px,#0a2043 0 146px,#0c274e 0 148px,#081a3a 0 150px,#0c274d 0 152px,#0b2449 0 154px,#081b3b 0 156px,#081a3a 0 160px,#0d2a52 0 162px,#0a2246 0 164px,#081a3a 0 166px,#0b2448 0 168px,#0e2c54 0 170px,#0d2950 0 172px)"></i><i style="top:2px;background:linear-gradient(90deg,#10345a 0 2px,#0e2c54 0 4px,#0d294f 0 6px,#216d74 0 8px,#1d6274 0 10px,#0f3158 0 12px,#0c284f 0 14px,#1d6374 0 16px,#081b3b 0 18px,#091e3f 0 20px,#0b254a 0 22px,#10355b 0 24px,#0f3158 0 26px,#0d2a51 0 28px,#164b6b 0 30px,#0b254b 0 32px,#0a2043 0 34px,#081a3a 0 36px,#123a5f 0 38px,#091e3f 0 40px,#0b254a 0 42px,#081a3a 0 44px,#0f3158 0 46px,#0c264c 0 48px,#11375c 0 50px,#0a2042 0 52px,#0c274e 0 54px,#0d2a51 0 56px,#091d3f 0 58px,#11385d 0 60px,#123b5f 0 62px,#0a2043 0 64px,#081b3c 0 66px,#19566f 0 68px,#0e2d54 0 70px,#0c264b 0 72px,#154769 0 74px,#10365c 0 76px,#216d74 0 78px,#0d2950 0 80px,#0e2e55 0 82px,#0b2449 0 84px,#0c274e 0 86px,#0c284f 0 88px,#154467 0 90px,#081a3a 0 92px,#0b254a 0 94px,#144366 0 96px,#133f63 0 98px,#0d2950 0 102px,#0a2042 0 104px,#0a2246 0 106px,#0c284e 0 108px,#0c284f 0 110px,#0f2f56 0 112px,#0d2950 0 114px,#11375c 0 116px,#0f3259 0 118px,#1b5b71 0 120px,#1d6375 0 122px,#287f70 0 124px,#0f3057 0 126px,#0f3259 0 128px,#091f42 0 130px,#0a2144 0 132px,#0d2b53 0 134px,#091d3e 0 136px,#10335a 0 138px,#11375d 0 140px,#0f3057 0 142px,#0e2d54 0 144px,#0c284e 0 146px,#0e2f56 0 148px,#0f3057 0 150px,#11395e 0 152px,#0d2b52 0 154px,#0d2a52 0 156px,#0c284e 0 158px,#0d2b53 0 160px,#0a2044 0 162px,#0c274d 0 164px,#091f42 0 166px,#154568 0 168px,#11385d 0 170px,#081b3c 0 172px)"></i><i style="top:3px;background:linear-gradient(90deg,#0f3158 0 2px,#133f63 0 4px,#1b5e72 0 6px,#164b6b 0 8px,#1b5b71 0 10px,#174d6c 0 14px,#134064 0 16px,#133f63 0 18px,#0f3258 0 20px,#144265 0 22px,#18516d 0 24px,#19556f 0 26px,#18516d 0 28px,#11395e 0 30px,#1a5870 0 32px,#227173 0 34px,#103359 0 36px,#123a5f 0 38px,#0d2a52 0 40px,#16496a 0 42px,#18506d 0 44px,#1a5770 0 46px,#144265 0 48px,#18506d 0 50px,#154769 0 52px,#174c6b 0 54px,#0c274d 0 56px,#18526e 0 58px,#19556f 0 60px,#123a5f 0 62px,#174e6c 0 64px,#18516d 0 66px,#144165 0 68px,#134063 0 70px,#1d6274 0 72px,#164a6b 0 74px,#144366 0 76px,#216d74 0 78px,#134064 0 80px,#174e6c 0 82px,#154769 0 84px,#1a5870 0 86px,#144164 0 88px,#0f3057 0 90px,#16486a 0 92px,#18516d 0 94px,#267971 0 96px,#206c74 0 98px,#144265 0 100px,#10345a 0 102px,#1a5870 0 104px,#19546e 0 106px,#164a6b 0 108px,#164a6a 0 110px,#0e2f56 0 112px,#3c9861 0 114px,#11395e 0 116px,#133e62 0 118px,#154668 0 120px,#174d6c 0 122px,#19536e 0 124px,#0b254a 0 126px,#1c6174 0 128px,#18526e 0 130px,#16486a 0 132px,#174c6b 0 134px,#206b74 0 136px,#1b5b71 0 138px,#164a6b 0 140px,#123c60 0 142px,#18526e 0 144px,#174d6c 0 146px,#18506d 0 148px,#19546e 0 150px,#11365c 0 152px,#103359 0 154px,#133f62 0 156px,#144466 0 158px,#134064 0 160px,#1a5a71 0 162px,#1a5870 0 164px,#123b60 0 166px,#154568 0 168px,#174c6b 0 170px,#1c5e73 0 172px)"></i><i style="top:4px;background:linear-gradient(90deg,#164b6b 0 2px,#11395e 0 4px,#174c6b 0 6px,#154668 0 8px,#0e2d55 0 10px,#154467 0 12px,#174e6c 0 14px,#123d61 0 16px,#11375c 0 18px,#1d6575 0 20px,#0d2a51 0 22px,#10345a 0 24px,#10345b 0 26px,#144164 0 28px,#0e2e56 0 30px,#103359 0 32px,#091e40 0 34px,#144165 0 36px,#164a6b 0 38px,#16496a 0 40px,#123b60 0 42px,#144265 0 44px,#19566f 0 46px,#19556f 0 48px,#133e62 0 50px,#0b2448 0 52px,#174c6b 0 54px,#1c6274 0 56px,#0c284f 0 58px,#1c6174 0 60px,#16486a 0 62px,#134064 0 64px,#123c60 0 66px,#133d61 0 68px,#144467 0 70px,#0f3158 0 72px,#174e6c 0 74px,#133f63 0 76px,#174d6c 0 78px,#0b2347 0 80px,#16486a 0 82px,#11375d 0 84px,#154668 0 86px,#19536e 0 88px,#174e6c 0 90px,#0e2c54 0 92px,#144366 0 94px,#144165 0 96px,#10355b 0 98px,#0a2246 0 100px,#174c6b 0 102px,#133e62 0 104px,#123c60 0 106px,#164b6b 0 110px,#11365c 0 112px,#0f3158 0 114px,#1b5d72 0 116px,#0c264c 0 118px,#134064 0 120px,#10335a 0 122px,#154668 0 124px,#154769 0 126px,#0e2d55 0 128px,#133e62 0 130px,#123c60 0 132px,#123b5f 0 134px,#1a5770 0 136px,#144265 0 138px,#318e6a 0 140px,#11385d 0 142px,#133e62 0 144px,#123d61 0 146px,#164b6b 0 148px,#11375c 0 150px,#134064 0 152px,#154769 0 154px,#18516d 0 156px,#11375d 0 158px,#144366 0 160px,#133f63 0 162px,#103359 0 164px,#10365c 0 166px,#1d6575 0 168px,#144164 0 170px,#1a5770 0 172px)"></i><i style="top:5px;background:linear-gradient(90deg,#18516d 0 2px,#1c5f73 0 4px,#1a5870 0 6px,#216f73 0 8px,#18526e 0 10px,#174c6b 0 12px,#154568 0 14px,#0d2a52 0 16px,#174d6c 0 18px,#144265 0 20px,#18506d 0 22px,#19556f 0 24px,#123d61 0 26px,#1c5e73 0 28px,#19566f 0 30px,#174e6c 0 32px,#144265 0 34px,#1c6073 0 36px,#19566f 0 38px,#277d70 0 40px,#1c5f73 0 42px,#1b5d72 0 44px,#154568 0 46px,#174e6c 0 48px,#19556f 0 50px,#18516d 0 52px,#10355b 0 54px,#154668 0 56px,#11395e 0 58px,#123a5f 0 60px,#1b5e72 0 62px,#1c5f73 0 64px,#1d6375 0 66px,#144164 0 68px,#154568 0 70px,#154669 0 72px,#154568 0 74px,#144466 0 76px,#1a5a71 0 80px,#1b5b71 0 82px,#174d6c 0 84px,#154668 0 86px,#154769 0 88px,#164b6b 0 90px,#19546e 0 92px,#123a5f 0 94px,#1d6475 0 96px,#154668 0 98px,#144265 0 100px,#144467 0 102px,#164b6b 0 104px,#19546f 0 108px,#19546e 0 110px,#154567 0 112px,#133f63 0 114px,#64b648 0 116px,#174b6b 0 118px,#10365c 0 120px,#133d61 0 122px,#1a5770 0 124px,#2b876e 0 126px,#18526e 0 128px,#133e62 0 130px,#144164 0 132px,#123b60 0 134px,#1a5870 0 136px,#18526e 0 138px,#164b6b 0 140px,#144165 0 142px,#19566f 0 144px,#154668 0 146px,#154567 0 148px,#154769 0 150px,#1c5f73 0 152px,#174e6c 0 154px,#133e62 0 156px,#1b5e72 0 158px,#0e2f56 0 160px,#154568 0 162px,#154769 0 164px,#144366 0 166px,#144466 0 168px,#1d6575 0 170px,#1c6073 0 172px)"></i><i style="top:6px;background:linear-gradient(90deg,#154769 0 2px,#144265 0 4px,#0c284f 0 6px,#10345a 0 8px,#0d2a52 0 10px,#0e2e56 0 12px,#16486a 0 14px,#164a6b 0 16px,#11395e 0 18px,#144165 0 20px,#0d2b53 0 22px,#123b60 0 24px,#0d294f 0 26px,#11395e 0 28px,#247572 0 30px,#0f3258 0 32px,#11385d 0 34px,#10365c 0 36px,#0d2b52 0 38px,#0c264b 0 40px,#0e2c54 0 42px,#10335a 0 44px,#0f3057 0 46px,#154568 0 48px,#164a6b 0 50px,#133e62 0 52px,#16496a 0 56px,#0d2a51 0 58px,#174e6c 0 60px,#1a5a71 0 62px,#144265 0 64px,#0a2246 0 66px,#11385e 0 68px,#0b2549 0 70px,#144467 0 74px,#154769 0 76px,#144165 0 78px,#16486a 0 80px,#123d61 0 82px,#11395e 0 84px,#103359 0 86px,#123b60 0 88px,#164a6b 0 90px,#16496a 0 92px,#216d74 0 94px,#0a2246 0 96px,#0e2e56 0 98px,#123a5f 0 100px,#154467 0 102px,#11395e 0 104px,#0e2e55 0 106px,#19546f 0 108px,#144165 0 110px,#11385d 0 112px,#123c61 0 114px,#11385e 0 116px,#133f63 0 120px,#0f3057 0 122px,#123c60 0 124px,#144265 0 126px,#0c284e 0 128px,#133e62 0 130px,#11385d 0 132px,#18526e 0 134px,#0e2e56 0 136px,#0f3259 0 138px,#154567 0 140px,#144164 0 142px,#144265 0 144px,#0d2a51 0 146px,#11395e 0 148px,#0a2246 0 150px,#123c61 0 152px,#1a5870 0 154px,#1b5c72 0 156px,#0b2347 0 158px,#123b60 0 160px,#154769 0 162px,#0e2c54 0 164px,#0f3158 0 166px,#0e2f56 0 168px,#0d2950 0 170px,#133f63 0 172px)"></i><i style="top:7px;background:linear-gradient(90deg,#144265 0 2px,#0e2c54 0 4px,#164a6a 0 6px,#134063 0 8px,#11365c 0 10px,#0a2145 0 12px,#144164 0 14px,#0d2a51 0 16px,#133d62 0 18px,#164b6b 0 20px,#19566f 0 22px,#144366 0 24px,#0c274d 0 26px,#144366 0 28px,#0c284e 0 30px,#154769 0 32px,#133e62 0 34px,#1a5870 0 36px,#123b5f 0 38px,#10355b 0 40px,#144366 0 42px,#0e2e56 0 44px,#174d6c 0 46px,#154668 0 48px,#154769 0 50px,#0f3158 0 52px,#10355b 0 54px,#164b6b 0 56px,#174b6b 0 58px,#0c284f 0 60px,#0c284e 0 62px,#123d61 0 64px,#11395e 0 66px,#0d2950 0 68px,#0f3057 0 70px,#134063 0 72px,#123a5f 0 74px,#154769 0 76px,#0d2a52 0 78px,#144467 0 80px,#154467 0 82px,#0f2f56 0 84px,#216e74 0 86px,#10355b 0 88px,#144164 0 90px,#0f3259 0 92px,#0d2950 0 94px,#11385e 0 96px,#184f6d 0 98px,#123a5f 0 100px,#0a2246 0 102px,#144366 0 104px,#10355b 0 108px,#2a846f 0 110px,#8cc63f 0 112px,#257971 0 114px,#091d3f 0 116px,#174c6b 0 118px,#144266 0 120px,#18526e 0 122px,#0c284e 0 124px,#11395e 0 126px,#174e6c 0 128px,#123b5f 0 130px,#123c60 0 132px,#133f63 0 134px,#10345a 0 136px,#0f3259 0 138px,#154769 0 140px,#0c264c 0 142px,#144366 0 144px,#10345a 0 146px,#123c60 0 148px,#174c6b 0 150px,#19546f 0 152px,#2b866e 0 154px,#134064 0 156px,#184f6d 0 158px,#11395e 0 160px,#11365c 0 162px,#51ab4f 0 164px,#5ab14a 0 166px,#6db946 0 168px,#419c5d 0 170px,#133f63 0 172px)"></i><i style="top:8px;background:linear-gradient(90deg,#123c60 0 2px,#0e2c54 0 4px,#0d2b53 0 6px,#11365c 0 8px,#0a2042 0 10px,#0b2448 0 12px,#0f3057 0 14px,#0d294f 0 16px,#11395e 0 18px,#0d2a51 0 20px,#0e2d54 0 22px,#0d2b53 0 24px,#133f63 0 26px,#10345b 0 28px,#0f3258 0 30px,#227173 0 32px,#0a2144 0 34px,#0b254b 0 36px,#081c3d 0 38px,#091f41 0 40px,#0a2042 0 42px,#0a2043 0 44px,#0f3057 0 46px,#103359 0 48px,#123b60 0 50px,#11365c 0 52px,#0e2e56 0 54px,#123a5f 0 56px,#0c264b 0 58px,#081a3a 0 60px,#0c274d 0 62px,#10355b 0 64px,#0f2f56 0 66px,#10355b 0 68px,#0c264c 0 70px,#123a5f 0 72px,#19566f 0 74px,#11385d 0 76px,#0b2448 0 78px,#091e40 0 80px,#174d6c 0 82px,#0c284f 0 84px,#0f3057 0 86px,#144467 0 88px,#0c284f 0 90px,#0d2951 0 92px,#0d2a51 0 94px,#0f3259 0 96px,#0d2950 0 98px,#091f42 0 100px,#0e2e55 0 102px,#10355b 0 104px,#081a3a 0 106px,#11365c 0 108px,#1a5a71 0 110px,#0b254a 0 112px,#0c274d 0 114px,#081a3a 0 116px,#091e41 0 118px,#081a3a 0 120px,#0c274d 0 122px,#081a3a 0 124px,#144265 0 126px,#11375c 0 128px,#0e2c54 0 130px,#144164 0 132px,#10365b 0 134px,#0e2f56 0 136px,#133f63 0 138px,#257672 0 140px,#0a2144 0 142px,#123d61 0 144px,#0b254b 0 146px,#0e2c54 0 148px,#133e62 0 150px,#10335a 0 152px,#091f42 0 154px,#174c6b 0 156px,#10345a 0 158px,#0b254a 0 160px,#10345a 0 162px,#0d2a52 0 164px,#10345a 0 166px,#123b60 0 168px,#0b254a 0 170px,#123d61 0 172px)"></i><i style="top:9px;background:linear-gradient(90deg,#0f3259 0 2px,#081a3a 0 6px,#091f42 0 8px,#237373 0 10px,#081a3a 0 12px,#0b254b 0 14px,#081a3a 0 16px,#0c274d 0 18px,#0f3158 0 20px,#10355b 0 22px,#0b2449 0 24px,#0a2145 0 26px,#0d2b52 0 28px,#0b2449 0 30px,#0e2c54 0 32px,#227073 0 34px,#0e2c54 0 36px,#11375c 0 38px,#081a3b 0 40px,#1c6073 0 42px,#0e2e55 0 44px,#133f63 0 46px,#081a3a 0 50px,#0a2144 0 52px,#0f3158 0 54px,#0d2a51 0 56px,#10335a 0 58px,#0a2144 0 60px,#0f3259 0 62px,#0d2a51 0 64px,#0d2a52 0 66px,#0c264b 0 68px,#133e62 0 70px,#081a3a 0 72px,#0c284f 0 74px,#0f3258 0 76px,#091e40 0 78px,#0e2f56 0 80px,#0c274c 0 82px,#0d2a51 0 84px,#144164 0 86px,#11375c 0 88px,#091f42 0 90px,#0f3258 0 92px,#0a2245 0 94px,#0d2b52 0 96px,#0f3057 0 98px,#0a2042 0 100px,#0e2e55 0 102px,#1b5b71 0 104px,#184f6d 0 106px,#0c284f 0 108px,#133d62 0 110px,#0c284f 0 112px,#0a2245 0 114px,#091f41 0 116px,#0f3057 0 118px,#144164 0 120px,#11395e 0 122px,#091e40 0 124px,#0b2448 0 126px,#103359 0 128px,#0a2145 0 130px,#10365c 0 132px,#081a3a 0 134px,#091e41 0 136px,#0f3057 0 138px,#133e62 0 140px,#0b2347 0 142px,#0a2043 0 144px,#0e2e56 0 146px,#0b2347 0 148px,#0f3258 0 150px,#0a2245 0 152px,#10355b 0 154px,#091f42 0 156px,#0f3158 0 158px,#081b3b 0 160px,#0f3258 0 162px,#0a2145 0 164px,#0b2448 0 166px,#0e2e56 0 168px,#0b2347 0 170px,#10345a 0 172px)"></i><i style="top:10px;background:linear-gradient(90deg,#11375d 0 2px,#123a5f 0 4px,#0e2c54 0 6px,#091f41 0 8px,#10345a 0 10px,#123c61 0 12px,#0a2246 0 14px,#11375c 0 16px,#11365c 0 18px,#091f42 0 20px,#081a3a 0 22px,#0b2449 0 24px,#0c284e 0 26px,#0d2951 0 28px,#144265 0 30px,#081c3d 0 32px,#123b60 0 34px,#0b254b 0 36px,#123b60 0 38px,#081a3a 0 40px,#081a3b 0 42px,#0d2b52 0 44px,#123b5f 0 46px,#0e2f56 0 48px,#0e2e55 0 50px,#0e2f56 0 52px,#0d2950 0 54px,#0f2f56 0 56px,#0c284f 0 58px,#0d2a52 0 60px,#0e2f56 0 62px,#0e2d55 0 64px,#0d2951 0 66px,#0c284f 0 68px,#081a3a 0 70px,#0b2347 0 72px,#0d2950 0 74px,#081a3a 0 76px,#0a2246 0 78px,#0c284f 0 80px,#0d294f 0 82px,#0a2043 0 84px,#0e2e55 0 86px,#091e40 0 88px,#0a2144 0 90px,#144165 0 92px,#0c284f 0 94px,#0b254a 0 96px,#0c274d 0 98px,#081a3a 0 100px,#0b2347 0 102px,#0d2950 0 104px,#123a5f 0 106px,#081a3a 0 108px,#081c3d 0 110px,#0a2246 0 112px,#0a2042 0 114px,#0b254a 0 116px,#0b2549 0 118px,#091e40 0 120px,#0a2144 0 122px,#0c284e 0 124px,#081a3a 0 126px,#091e40 0 128px,#133e62 0 130px,#081b3c 0 132px,#0d2a52 0 134px,#0d2a51 0 136px,#091f41 0 138px,#0b2449 0 140px,#091d3e 0 142px,#0e2c54 0 144px,#123c61 0 146px,#0b254a 0 148px,#0e2c54 0 150px,#091e40 0 152px,#0d2a51 0 154px,#0c284e 0 156px,#0a2043 0 158px,#0a2144 0 160px,#0d2b52 0 162px,#091f41 0 166px,#0d2a52 0 168px,#081a3a 0 170px,#0a2144 0 172px)"></i><i style="top:11px;background:linear-gradient(90deg,#206b74 0 2px,#0c284e 0 4px,#11365c 0 6px,#0d2b52 0 8px,#081a3a 0 10px,#0a2246 0 12px,#0b2347 0 14px,#091e40 0 16px,#0a2043 0 18px,#134063 0 20px,#0c274d 0 22px,#081c3d 0 24px,#091f41 0 26px,#0d2950 0 28px,#11365c 0 30px,#0c274d 0 32px,#123a5f 0 34px,#1b5e72 0 36px,#0b2449 0 38px,#0d2950 0 40px,#0b2449 0 42px,#0a2042 0 44px,#123c61 0 46px,#10335a 0 48px,#11365c 0 50px,#154668 0 52px,#0b2347 0 54px,#081b3b 0 56px,#0c274e 0 58px,#081b3c 0 60px,#0e2d54 0 62px,#081c3e 0 64px,#0f3057 0 66px,#0d2a52 0 68px,#0f3057 0 70px,#123a5f 0 72px,#0b254a 0 74px,#154668 0 76px,#0c274d 0 78px,#0b254b 0 80px,#10335a 0 82px,#2f8c6b 0 84px,#18516d 0 86px,#133d62 0 88px,#144165 0 90px,#0d2a52 0 92px,#0d2b53 0 94px,#0e2f56 0 96px,#0b2347 0 98px,#0a2245 0 100px,#081a3a 0 102px,#103359 0 104px,#123b60 0 106px,#081a3a 0 108px,#174b6b 0 110px,#11395e 0 112px,#0b254a 0 114px,#091d3e 0 116px,#0c284e 0 118px,#10345a 0 120px,#0c274d 0 122px,#0c284e 0 126px,#144164 0 128px,#081b3c 0 130px,#133f63 0 132px,#144366 0 134px,#0b254b 0 136px,#0f3157 0 138px,#091f42 0 140px,#0c284e 0 144px,#0b2347 0 146px,#0c264b 0 148px,#0e2f56 0 150px,#11365c 0 152px,#10345a 0 154px,#091f41 0 156px,#0b2448 0 158px,#081b3b 0 160px,#0d2950 0 162px,#10335a 0 164px,#11395e 0 166px,#123a5f 0 168px,#0f3259 0 170px,#0a2145 0 172px)"></i><i style="top:12px;background:linear-gradient(90deg,#0c264c 0 2px,#0d2b53 0 4px,#11395e 0 6px,#18516d 0 8px,#0e2e56 0 10px,#0c284e 0 12px,#0c264c 0 14px,#1e6775 0 16px,#123a5f 0 18px,#11385d 0 20px,#081a3a 0 22px,#0d294f 0 24px,#0c274d 0 26px,#1b5e72 0 28px,#144265 0 30px,#0d2950 0 32px,#154567 0 34px,#0c274d 0 36px,#18506d 0 38px,#0f3158 0 40px,#0d2b53 0 42px,#091f41 0 44px,#16496a 0 46px,#2b856e 0 48px,#081a3a 0 50px,#19546e 0 52px,#0d2950 0 54px,#081a3a 0 56px,#0d2b53 0 58px,#0e2e55 0 60px,#0f3259 0 62px,#154668 0 64px,#0d2a51 0 66px,#10335a 0 68px,#0d2950 0 70px,#091f41 0 72px,#0f2f57 0 74px,#10365c 0 76px,#0a2144 0 78px,#0f2f56 0 80px,#0a2043 0 82px,#0c264c 0 84px,#081b3c 0 86px,#1f6a75 0 88px,#0f3158 0 90px,#123b60 0 92px,#144366 0 94px,#10355b 0 96px,#0e2c54 0 98px,#0b2449 0 100px,#10345a 0 102px,#0c274d 0 104px,#0f3259 0 106px,#10355b 0 108px,#0c274d 0 110px,#16496a 0 112px,#133f63 0 114px,#2c876e 0 116px,#0b2347 0 118px,#0e2d55 0 120px,#0f3057 0 122px,#0d2a51 0 124px,#0b2347 0 126px,#134064 0 128px,#0b254a 0 130px,#0f3258 0 132px,#2a836f 0 134px,#123b60 0 136px,#123b5f 0 138px,#0f3259 0 140px,#0c274d 0 142px,#10355b 0 144px,#0c274d 0 146px,#0e2e55 0 148px,#0a2042 0 150px,#0a2145 0 152px,#123b60 0 156px,#0b254a 0 158px,#0b2347 0 160px,#0d294f 0 162px,#1a5970 0 164px,#0c264b 0 166px,#144366 0 168px,#0c264b 0 170px,#081a3a 0 172px)"></i><i style="top:13px;background:linear-gradient(90deg,#0d2a51 0 2px,#133f63 0 4px,#1d6475 0 6px,#0c264b 0 8px,#133f63 0 10px,#0b2449 0 12px,#164a6a 0 14px,#16496a 0 16px,#1a5971 0 18px,#18516d 0 20px,#133f63 0 22px,#11365c 0 24px,#174d6c 0 26px,#18526e 0 28px,#0f3259 0 30px,#144266 0 32px,#1a5971 0 34px,#144366 0 36px,#154769 0 38px,#134064 0 40px,#1a5870 0 42px,#164a6a 0 44px,#0e2c54 0 46px,#123c60 0 48px,#123a5f 0 50px,#144467 0 52px,#154467 0 54px,#154568 0 56px,#123b60 0 58px,#1b5c72 0 60px,#11385e 0 62px,#144165 0 64px,#0e2e56 0 66px,#144265 0 68px,#206c74 0 70px,#1a5870 0 72px,#18526e 0 74px,#267b71 0 76px,#0b2448 0 78px,#174c6b 0 80px,#419c5d 0 82px,#19556f 0 84px,#154669 0 86px,#16486a 0 88px,#154769 0 90px,#144265 0 92px,#144366 0 94px,#123b60 0 96px,#144366 0 98px,#164a6b 0 100px,#0d2a51 0 102px,#144467 0 104px,#19546e 0 106px,#123b60 0 108px,#16486a 0 110px,#18536e 0 112px,#144165 0 114px,#10365c 0 116px,#0f3057 0 118px,#133e62 0 120px,#164a6a 0 122px,#0f3158 0 124px,#1b5c72 0 126px,#174d6c 0 128px,#164a6b 0 130px,#184f6d 0 132px,#1d6274 0 134px,#144164 0 136px,#18516d 0 138px,#0c264c 0 140px,#19556f 0 142px,#144265 0 144px,#19566f 0 146px,#11365c 0 148px,#1c5f73 0 150px,#174d6c 0 152px,#134063 0 154px,#0f3258 0 156px,#144165 0 158px,#123a5f 0 160px,#19566f 0 162px,#0d2950 0 164px,#144366 0 166px,#11385d 0 168px,#10345b 0 170px,#1b5d72 0 172px)"></i><i style="top:14px;background:linear-gradient(90deg,#184f6d 0 2px,#144366 0 4px,#1f6a75 0 6px,#19556f 0 8px,#0e2d55 0 10px,#174e6c 0 12px,#164b6b 0 14px,#174e6c 0 16px,#11395e 0 18px,#18526e 0 20px,#123d61 0 22px,#1c6174 0 24px,#227073 0 26px,#174f6c 0 28px,#1a5770 0 30px,#133e62 0 32px,#16486a 0 34px,#174f6c 0 36px,#164a6b 0 38px,#19556f 0 40px,#19566f 0 42px,#154668 0 44px,#154769 0 46px,#091d3f 0 48px,#154769 0 50px,#11365c 0 52px,#0d2a51 0 54px,#1b5d72 0 56px,#19556f 0 58px,#174f6c 0 60px,#133f63 0 62px,#16496a 0 64px,#103359 0 66px,#18516d 0 68px,#184f6d 0 70px,#144164 0 72px,#0f3259 0 74px,#0e2c54 0 76px,#144366 0 78px,#1a5970 0 80px,#123b60 0 82px,#174d6c 0 84px,#16496a 0 86px,#19536e 0 88px,#133e62 0 90px,#18526e 0 92px,#1a5770 0 94px,#0b254a 0 96px,#1a5770 0 98px,#1c6174 0 100px,#1a5870 0 104px,#154567 0 106px,#10355b 0 108px,#123d61 0 110px,#133e62 0 112px,#154568 0 114px,#0d2950 0 116px,#1a5870 0 118px,#123a5f 0 120px,#16486a 0 122px,#0f3057 0 124px,#154769 0 126px,#11385d 0 128px,#18526e 0 130px,#11375c 0 132px,#19546e 0 134px,#134063 0 136px,#18506d 0 138px,#257772 0 140px,#29826f 0 142px,#134064 0 144px,#11385e 0 146px,#184f6d 0 148px,#16486a 0 150px,#134063 0 152px,#154769 0 154px,#16486a 0 156px,#154467 0 158px,#1a5770 0 160px,#154467 0 162px,#1b5a71 0 164px,#18526e 0 166px,#18506d 0 168px,#1a5870 0 170px,#133f63 0 172px)"></i><i style="top:15px;background:linear-gradient(90deg,#11395e 0 2px,#18506d 0 4px,#123d61 0 6px,#174e6c 0 10px,#1a5970 0 12px,#154568 0 14px,#174c6b 0 16px,#0e2d54 0 18px,#1f6875 0 20px,#53ad4d 0 22px,#134063 0 24px,#154568 0 26px,#144165 0 28px,#134064 0 30px,#11385d 0 32px,#1f6975 0 34px,#0f3258 0 36px,#144265 0 38px,#2b856e 0 40px,#298070 0 42px,#3d9960 0 44px,#123a5f 0 46px,#18526e 0 48px,#164a6a 0 50px,#16486a 0 52px,#18516d 0 54px,#0d2a51 0 56px,#0c284f 0 58px,#123a5f 0 60px,#174e6c 0 62px,#144366 0 64px,#174e6c 0 66px,#10335a 0 68px,#19546f 0 70px,#154668 0 72px,#19556f 0 74px,#1d6374 0 76px,#1b5e72 0 78px,#164a6a 0 80px,#174e6c 0 82px,#0f3157 0 84px,#144265 0 86px,#154769 0 88px,#237273 0 90px,#154769 0 92px,#123d61 0 94px,#11365c 0 96px,#0f3259 0 98px,#144366 0 100px,#1a5970 0 102px,#174c6b 0 104px,#18506d 0 106px,#1a5770 0 108px,#1f6975 0 110px,#133e62 0 112px,#154769 0 114px,#123b5f 0 116px,#439e5b 0 118px,#237273 0 120px,#123b60 0 122px,#164b6b 0 124px,#0f3259 0 126px,#1c6073 0 128px,#0f3158 0 130px,#133d62 0 132px,#0b2449 0 134px,#174d6c 0 136px,#164a6a 0 138px,#0b254a 0 140px,#227073 0 142px,#164b6b 0 144px,#133f63 0 146px,#18516d 0 148px,#0e2d55 0 150px,#164b6b 0 154px,#154769 0 158px,#134063 0 160px,#11395e 0 162px,#1d6475 0 164px,#144165 0 166px,#144265 0 168px,#18506d 0 170px,#0e2e55 0 172px)"></i><i style="top:16px;background:linear-gradient(90deg,#144265 0 2px,#133f63 0 4px,#1b5c72 0 6px,#174d6c 0 10px,#123d61 0 12px,#123b60 0 14px,#0f3157 0 16px,#174c6b 0 18px,#11385e 0 20px,#46a158 0 22px,#16486a 0 24px,#174e6c 0 26px,#11395e 0 28px,#18526e 0 30px,#134064 0 32px,#123b5f 0 34px,#134064 0 36px,#19566f 0 38px,#10365c 0 40px,#123b60 0 42px,#19546e 0 44px,#2e8b6d 0 46px,#164a6b 0 48px,#123b60 0 52px,#0e2f56 0 54px,#123c60 0 56px,#16496a 0 58px,#1a5870 0 60px,#123d61 0 62px,#11395e 0 64px,#123a5f 0 66px,#0e2c54 0 68px,#123b60 0 70px,#184f6d 0 72px,#144164 0 74px,#0e2e55 0 76px,#19566f 0 78px,#11395e 0 80px,#154668 0 82px,#0f3057 0 84px,#164a6a 0 86px,#1f6875 0 88px,#174d6c 0 90px,#19556f 0 92px,#133e62 0 94px,#16486a 0 96px,#081a3a 0 98px,#0c284f 0 100px,#0d2950 0 102px,#1f6975 0 104px,#18506d 0 106px,#0e2d55 0 108px,#0d2b53 0 110px,#19546f 0 112px,#154769 0 114px,#0f3158 0 116px,#267a71 0 118px,#5fb349 0 120px,#103359 0 122px,#123c60 0 124px,#11385d 0 126px,#154467 0 128px,#19546f 0 130px,#11395e 0 132px,#154668 0 134px,#1a5970 0 136px,#123a5f 0 138px,#16496a 0 140px,#10355b 0 142px,#18506d 0 144px,#18516d 0 146px,#10345a 0 148px,#1b5b71 0 150px,#0e2d55 0 152px,#144165 0 154px,#174f6c 0 156px,#10355b 0 158px,#123d61 0 160px,#0f3258 0 162px,#144164 0 164px,#154568 0 166px,#0f3057 0 168px,#0d2b52 0 170px,#144467 0 172px)"></i><i style="top:17px;background:linear-gradient(90deg,#081a3a 0 2px,#0b2449 0 4px,#081a3a 0 6px,#0c274d 0 8px,#091d3e 0 10px,#0b2347 0 12px,#0b254b 0 14px,#0f3057 0 16px,#081a3a 0 18px,#0b2449 0 20px,#091f41 0 22px,#0d2950 0 24px,#0d2b53 0 26px,#091e3f 0 28px,#11375d 0 30px,#081a3a 0 34px,#2a836f 0 36px,#0c274d 0 38px,#0f2f56 0 40px,#091d3f 0 42px,#0d2b53 0 44px,#216f73 0 46px,#091e40 0 48px,#0b2347 0 50px,#0a2144 0 54px,#0e2c54 0 56px,#091d3f 0 58px,#133d61 0 60px,#0c264c 0 62px,#081a3a 0 64px,#091f41 0 66px,#0e2e55 0 68px,#081a3a 0 70px,#0c274d 0 72px,#081a3a 0 74px,#0c274d 0 76px,#10345a 0 78px,#091f41 0 80px,#0c264b 0 82px,#154467 0 84px,#0b254a 0 86px,#144366 0 88px,#0b2348 0 90px,#0b254a 0 92px,#0b2347 0 94px,#0d2a51 0 96px,#0f3158 0 98px,#0b2448 0 100px,#0d2a52 0 102px,#0a2245 0 104px,#0a2246 0 106px,#081b3b 0 108px,#0b2449 0 110px,#081a3a 0 112px,#0a2042 0 114px,#0c284e 0 116px,#081a3a 0 118px,#0e2e56 0 120px,#091e40 0 122px,#0c264b 0 124px,#091e40 0 126px,#081b3b 0 128px,#091f41 0 130px,#0d2a51 0 132px,#0b254a 0 134px,#103359 0 136px,#091f42 0 138px,#0c274d 0 140px,#0d2b53 0 142px,#0b2449 0 144px,#0b2347 0 146px,#081a3a 0 148px,#0a2245 0 150px,#0c284f 0 152px,#081c3c 0 154px,#0c274e 0 156px,#0d2a51 0 158px,#0b2449 0 160px,#091e40 0 162px,#081a3a 0 164px,#0a2043 0 166px,#237472 0 168px,#133f63 0 170px,#081a3a 0 172px)"></i><i style="top:18px;background:linear-gradient(90deg,#0b254b 0 2px,#0a2246 0 4px,#134063 0 6px,#0a2043 0 8px,#0a2246 0 10px,#0a2145 0 12px,#0a2245 0 14px,#091e40 0 16px,#0b254b 0 18px,#0e2d55 0 20px,#123a5f 0 22px,#081b3b 0 24px,#123a5f 0 26px,#134064 0 28px,#0d294f 0 30px,#091e41 0 32px,#0a2144 0 34px,#0a2145 0 36px,#0d2a52 0 38px,#081a3a 0 40px,#0a2043 0 42px,#081a3a 0 46px,#091d3f 0 48px,#0d294f 0 50px,#0b2347 0 52px,#11395e 0 54px,#103359 0 56px,#10345a 0 58px,#11375d 0 60px,#0c284f 0 62px,#0d294f 0 64px,#0d2b53 0 66px,#0d2b52 0 68px,#0c264c 0 70px,#0d2a52 0 72px,#0d2b52 0 74px,#0c264c 0 76px,#0b254a 0 78px,#0f3158 0 80px,#0b254a 0 82px,#0c284f 0 84px,#0b2347 0 86px,#0c274e 0 88px,#091f41 0 90px,#0c264c 0 92px,#0c274d 0 94px,#10365b 0 96px,#0a2043 0 98px,#11365c 0 100px,#0d2b52 0 102px,#081a3a 0 104px,#081c3e 0 106px,#0a2144 0 108px,#0b2448 0 110px,#1d6274 0 112px,#091d3e 0 114px,#0b2347 0 116px,#174c6b 0 118px,#0b2449 0 120px,#0b254a 0 122px,#174c6b 0 124px,#081a3a 0 126px,#0d2b53 0 128px,#091f41 0 130px,#0b2449 0 132px,#0e2c54 0 134px,#10365b 0 136px,#081a3a 0 138px,#0e2f56 0 140px,#11365c 0 142px,#154668 0 144px,#0b2347 0 146px,#133d61 0 148px,#0b2449 0 150px,#10365b 0 152px,#0a2043 0 154px,#123a5f 0 156px,#10345a 0 158px,#0f3158 0 160px,#081a3a 0 162px,#091e40 0 164px,#1f6975 0 166px,#091f41 0 168px,#0a2042 0 170px,#0b2448 0 172px)"></i><i style="top:19px;background:linear-gradient(90deg,#154567 0 2px,#081a3a 0 4px,#0d2950 0 6px,#091f42 0 8px,#0b254b 0 10px,#0b2347 0 12px,#10365c 0 14px,#144265 0 16px,#123d61 0 18px,#0c264b 0 20px,#091d3f 0 22px,#0f3259 0 24px,#081a3a 0 26px,#0a2043 0 28px,#0e2e56 0 30px,#091d3e 0 32px,#0f2f56 0 34px,#0d2a51 0 36px,#0a2245 0 38px,#0e2d55 0 40px,#0e2f56 0 42px,#144265 0 44px,#1b5d72 0 46px,#0f2f57 0 48px,#0b2347 0 50px,#0d2a51 0 52px,#154668 0 54px,#0d2b52 0 56px,#174c6b 0 58px,#0a2145 0 60px,#0e2d55 0 62px,#081a3a 0 64px,#0b2448 0 66px,#1d6374 0 68px,#081a3a 0 70px,#10345a 0 72px,#0b2449 0 74px,#0f3259 0 76px,#0d2950 0 78px,#103359 0 80px,#0c264c 0 82px,#0b2347 0 84px,#081a3a 0 86px,#0b2449 0 88px,#133d61 0 90px,#1d6575 0 92px,#0a2246 0 94px,#091f41 0 96px,#11385d 0 98px,#10355b 0 100px,#123c61 0 102px,#0a2042 0 104px,#0f3158 0 106px,#081a3a 0 110px,#0c284e 0 112px,#0b254a 0 114px,#0b2347 0 116px,#164b6b 0 118px,#0c264c 0 120px,#0d2b52 0 122px,#0e2f56 0 124px,#0b2449 0 126px,#0d2b53 0 128px,#0f3258 0 130px,#091e40 0 132px,#081a3a 0 134px,#0e2c54 0 136px,#0d2b53 0 138px,#081a3a 0 140px,#0a2043 0 142px,#0b254b 0 144px,#0f3259 0 146px,#0c274d 0 148px,#0c274c 0 150px,#081a3a 0 152px,#0d2950 0 154px,#123a5f 0 156px,#0c264c 0 158px,#0d2950 0 160px,#0b254a 0 162px,#0a2043 0 164px,#0b2449 0 166px,#081b3c 0 168px,#081b3b 0 170px,#144165 0 172px)"></i><i style="top:20px;background:linear-gradient(90deg,#10365c 0 2px,#0b2347 0 4px,#0e2f56 0 6px,#0b2449 0 8px,#0e2d55 0 10px,#0f3259 0 12px,#0c274d 0 14px,#0a2246 0 16px,#0c284e 0 18px,#0f3158 0 20px,#10355b 0 22px,#081a3a 0 24px,#16486a 0 26px,#2b876e 0 28px,#0d2b52 0 30px,#134064 0 32px,#081a3a 0 36px,#0a2245 0 38px,#081a3a 0 40px,#0c284e 0 42px,#0d2a52 0 44px,#19556f 0 46px,#0a2145 0 48px,#0a2245 0 50px,#081a3a 0 52px,#144467 0 54px,#081c3e 0 56px,#0d2b52 0 58px,#091f41 0 60px,#0f3057 0 62px,#0b2347 0 64px,#0f3057 0 66px,#0a2245 0 68px,#0d2b53 0 70px,#0e2d55 0 72px,#1a5a71 0 74px,#081a3a 0 76px,#0c284e 0 78px,#0e2f56 0 80px,#0f3158 0 82px,#123a5f 0 84px,#0a2246 0 86px,#0d2a52 0 88px,#0e2e55 0 90px,#0c264b 0 92px,#0a2145 0 94px,#0c264c 0 96px,#0d2950 0 98px,#0d2b53 0 100px,#0d2a52 0 102px,#081a3a 0 104px,#1a5970 0 106px,#1c5f73 0 108px,#288070 0 110px,#0d2b53 0 112px,#0e2d55 0 114px,#0f3057 0 116px,#0b2347 0 118px,#11375c 0 120px,#0a2245 0 122px,#081c3e 0 124px,#0f2f56 0 126px,#0c274c 0 128px,#091e40 0 130px,#091e3f 0 132px,#0a2042 0 134px,#0b2347 0 136px,#0c274d 0 138px,#51ab4f 0 140px,#081a3a 0 142px,#0d2b53 0 144px,#10345a 0 146px,#0a2043 0 148px,#0f3258 0 150px,#0b2549 0 152px,#1c5f73 0 154px,#0b254a 0 156px,#081a3a 0 158px,#103359 0 160px,#0b2449 0 162px,#0d2b53 0 164px,#0f3057 0 166px,#0a2145 0 168px,#0d2a51 0 170px,#0a2246 0 172px)"></i><i style="top:21px;background:linear-gradient(90deg,#19556f 0 2px,#154769 0 4px,#0e2f56 0 6px,#0f3157 0 8px,#0c274c 0 10px,#144165 0 12px,#144164 0 14px,#10335a 0 16px,#0c274d 0 18px,#144165 0 20px,#206b74 0 22px,#1b5b71 0 24px,#174f6c 0 26px,#1a5770 0 28px,#1b5d72 0 30px,#123b5f 0 32px,#1d6274 0 34px,#0f3259 0 36px,#133f63 0 38px,#0f2f56 0 40px,#1b5d72 0 42px,#1d6374 0 44px,#164a6a 0 46px,#1f6975 0 48px,#174e6c 0 50px,#18506d 0 52px,#123c60 0 54px,#19566f 0 56px,#144366 0 58px,#134064 0 60px,#10365c 0 62px,#1d6375 0 64px,#0f3158 0 66px,#154467 0 68px,#164a6b 0 70px,#133e62 0 72px,#123c61 0 74px,#19546f 0 76px,#1a5870 0 78px,#144165 0 80px,#174e6c 0 82px,#10355b 0 84px,#16486a 0 86px,#2a846f 0 88px,#0d2b52 0 90px,#10345a 0 92px,#174d6c 0 94px,#154668 0 96px,#133f63 0 98px,#11375d 0 100px,#19546e 0 102px,#0e2d54 0 104px,#164a6a 0 106px,#123a5f 0 108px,#16496a 0 110px,#1e6775 0 112px,#16486a 0 114px,#123c60 0 116px,#133e62 0 118px,#103359 0 120px,#154568 0 122px,#174c6b 0 124px,#134064 0 126px,#19556f 0 128px,#133f63 0 130px,#1e6675 0 132px,#174c6b 0 134px,#11395e 0 136px,#123a5f 0 138px,#133f63 0 140px,#174d6c 0 142px,#144164 0 144px,#11395e 0 146px,#154769 0 150px,#144366 0 152px,#19536e 0 154px,#103359 0 156px,#1a5971 0 158px,#164a6a 0 160px,#123a5f 0 162px,#154467 0 164px,#91c93e 0 166px,#0e2d55 0 168px,#144265 0 170px,#1a5770 0 172px)"></i><i style="top:22px;background:linear-gradient(90deg,#154769 0 2px,#1a5870 0 4px,#0f3259 0 6px,#16486a 0 8px,#0f3158 0 10px,#18526e 0 12px,#154668 0 14px,#18506d 0 16px,#154769 0 18px,#154668 0 20px,#11385d 0 22px,#133e62 0 24px,#18516d 0 26px,#2f8c6c 0 28px,#174e6c 0 30px,#164a6a 0 32px,#164a6b 0 34px,#1a5770 0 36px,#19546f 0 38px,#1c5f73 0 40px,#0e2e55 0 42px,#133e62 0 44px,#134064 0 46px,#227173 0 48px,#154568 0 50px,#227173 0 52px,#144366 0 54px,#19546f 0 56px,#133f62 0 58px,#174d6c 0 60px,#154769 0 62px,#164a6a 0 64px,#154769 0 66px,#19566f 0 68px,#277d70 0 70px,#11365c 0 72px,#19566f 0 74px,#11395e 0 76px,#10335a 0 78px,#1a5870 0 80px,#1a5770 0 82px,#154668 0 84px,#133e62 0 86px,#164a6a 0 88px,#174d6c 0 90px,#134064 0 92px,#154467 0 94px,#0b2347 0 96px,#154568 0 98px,#54ae4d 0 100px,#449f5a 0 102px,#4ea951 0 104px,#62b549 0 106px,#2c886e 0 108px,#174c6b 0 110px,#349067 0 112px,#11375d 0 114px,#19556f 0 116px,#19546f 0 118px,#144164 0 120px,#174f6c 0 122px,#16486a 0 124px,#164b6b 0 126px,#18506d 0 128px,#0d2a51 0 130px,#154467 0 132px,#154769 0 134px,#10365c 0 136px,#16496a 0 138px,#0c274d 0 140px,#18516d 0 142px,#11365c 0 144px,#174c6b 0 146px,#174e6c 0 148px,#134064 0 150px,#1a5971 0 152px,#11385d 0 154px,#154669 0 156px,#0d2b52 0 158px,#247572 0 160px,#419d5c 0 162px,#46a158 0 164px,#154668 0 166px,#184f6d 0 168px,#0a2042 0 170px,#123d61 0 172px)"></i><i style="top:23px;background:linear-gradient(90deg,#1b5a71 0 2px,#1b5b71 0 4px,#123b5f 0 6px,#0b2347 0 8px,#144466 0 10px,#16486a 0 12px,#1d6475 0 14px,#174c6b 0 18px,#1d6575 0 20px,#19536e 0 22px,#18506d 0 24px,#144366 0 26px,#133e62 0 28px,#16486a 0 30px,#154568 0 32px,#154769 0 34px,#16496a 0 36px,#11375d 0 38px,#123a5f 0 40px,#133f62 0 42px,#1c5f73 0 44px,#123b5f 0 46px,#144366 0 48px,#1c6174 0 50px,#18516d 0 52px,#184f6d 0 54px,#1c5e73 0 56px,#134064 0 58px,#11395e 0 60px,#1e6775 0 62px,#1a5a71 0 64px,#144265 0 68px,#0f3057 0 70px,#133f63 0 72px,#123c60 0 74px,#144265 0 76px,#19556f 0 78px,#134063 0 80px,#19546f 0 82px,#1a5770 0 84px,#1a5a71 0 86px,#174d6c 0 88px,#a7d239 0 90px,#19556f 0 92px,#16496a 0 94px,#18506d 0 96px,#1c5e73 0 98px,#11385d 0 100px,#226f73 0 102px,#133e62 0 104px,#cfe268 0 106px,#1a5a71 0 108px,#144366 0 110px,#19536e 0 112px,#144366 0 114px,#103359 0 116px,#1d6374 0 118px,#154568 0 120px,#19556f 0 122px,#16496a 0 124px,#19546f 0 126px,#144366 0 128px,#1b5b71 0 130px,#1d6475 0 132px,#174c6b 0 136px,#11395e 0 138px,#19566f 0 140px,#154467 0 142px,#359266 0 144px,#154568 0 146px,#144164 0 148px,#1a5a71 0 150px,#134064 0 152px,#216d74 0 154px,#226f73 0 156px,#144265 0 158px,#133f63 0 160px,#123a5f 0 162px,#133f63 0 164px,#19546f 0 166px,#429e5c 0 168px,#11385e 0 170px,#1a5971 0 172px)"></i><i style="top:24px;background:linear-gradient(90deg,#11375d 0 2px,#154668 0 4px,#11395e 0 6px,#174d6c 0 8px,#174c6b 0 10px,#1a5770 0 12px,#091f42 0 14px,#0d2950 0 16px,#0e2e55 0 18px,#1d6274 0 20px,#11375d 0 22px,#144164 0 24px,#318e69 0 26px,#174e6c 0 28px,#1a5970 0 30px,#123d61 0 34px,#0d2b53 0 36px,#19536e 0 38px,#164a6a 0 40px,#0f3158 0 42px,#144165 0 44px,#174d6c 0 46px,#0d2b53 0 48px,#10365c 0 50px,#2c896e 0 52px,#133f63 0 56px,#0e2e56 0 58px,#11385d 0 60px,#123a5f 0 62px,#081a3a 0 64px,#0e2d55 0 66px,#123c60 0 68px,#091d3f 0 70px,#123c60 0 72px,#11395e 0 74px,#0d2b53 0 76px,#10365c 0 78px,#123a5f 0 80px,#134063 0 82px,#11365c 0 84px,#11385d 0 86px,#0d2a51 0 88px,#174d6c 0 90px,#19556f 0 92px,#0f3057 0 94px,#16496a 0 96px,#18526e 0 98px,#164a6a 0 100px,#0e2d54 0 102px,#247572 0 104px,#0f3258 0 106px,#133f63 0 108px,#0d2950 0 110px,#123d61 0 112px,#66b648 0 114px,#123a5f 0 116px,#1b5d72 0 118px,#1c6073 0 120px,#10355b 0 122px,#174d6c 0 124px,#0f3158 0 126px,#10345a 0 128px,#133d61 0 130px,#103359 0 132px,#19566f 0 134px,#0e2d54 0 136px,#0d2a51 0 138px,#123a5f 0 140px,#154669 0 142px,#18516d 0 144px,#081c3d 0 146px,#123a5f 0 148px,#0d2b53 0 150px,#11375c 0 152px,#0c284e 0 154px,#0e2d55 0 156px,#11385e 0 158px,#19556f 0 160px,#0f3258 0 162px,#0f3259 0 164px,#123b60 0 166px,#144366 0 168px,#0d2b53 0 170px,#0e2d55 0 172px)"></i><i style="top:25px;background:linear-gradient(90deg,#16496a 0 2px,#1d6575 0 4px,#19536e 0 6px,#1b5d72 0 8px,#174c6b 0 10px,#1b5d72 0 12px,#19546e 0 14px,#1d6374 0 16px,#10365c 0 18px,#18526e 0 20px,#174c6b 0 22px,#18526e 0 24px,#10355b 0 26px,#123a5f 0 28px,#134064 0 30px,#154769 0 32px,#1d6375 0 34px,#144265 0 36px,#154567 0 38px,#11385d 0 40px,#154668 0 42px,#16486a 0 44px,#154467 0 46px,#1a5770 0 48px,#174f6c 0 50px,#154567 0 52px,#1b5b71 0 54px,#2e8b6c 0 56px,#339068 0 58px,#206c74 0 60px,#0e2e55 0 62px,#144265 0 64px,#134064 0 66px,#2a846f 0 68px,#154567 0 70px,#174c6b 0 72px,#154467 0 74px,#1a5770 0 76px,#144366 0 78px,#164a6b 0 80px,#18516d 0 82px,#174d6c 0 84px,#133e62 0 86px,#19546e 0 88px,#123b60 0 90px,#174c6b 0 92px,#1a5971 0 94px,#123c61 0 96px,#1c5f73 0 98px,#247472 0 100px,#144366 0 102px,#18526e 0 104px,#19546f 0 106px,#10355b 0 108px,#16496a 0 110px,#10345b 0 112px,#123d61 0 114px,#154769 0 116px,#267b71 0 118px,#4aa555 0 120px,#3c9860 0 122px,#389464 0 124px,#2e8b6c 0 126px,#0f3258 0 128px,#0d2a51 0 130px,#1a5770 0 132px,#174c6b 0 134px,#1d6375 0 136px,#0f3258 0 138px,#1a5770 0 140px,#2a836f 0 142px,#174e6c 0 144px,#174c6b 0 146px,#11385d 0 148px,#144466 0 150px,#277c70 0 152px,#123c60 0 154px,#9dce3b 0 156px,#2d8a6d 0 158px,#19536e 0 160px,#1b5b71 0 162px,#0f3158 0 164px,#144366 0 166px,#1b5d72 0 168px,#133f63 0 170px,#19556f 0 172px)"></i><i style="top:26px;background:linear-gradient(90deg,#19556f 0 2px,#11385e 0 4px,#18516d 0 6px,#19546f 0 8px,#164b6b 0 10px,#174d6c 0 12px,#1a5970 0 14px,#134064 0 16px,#174e6c 0 18px,#1b5c72 0 20px,#144366 0 22px,#154568 0 24px,#1a5870 0 26px,#0f3057 0 28px,#216f73 0 30px,#10355b 0 32px,#19566f 0 34px,#1b5d72 0 36px,#1b5b71 0 38px,#123d61 0 40px,#18526e 0 42px,#1b5c72 0 44px,#287f70 0 46px,#174e6c 0 48px,#0e2c54 0 50px,#1b5e72 0 52px,#1a5970 0 54px,#174e6c 0 56px,#133e62 0 58px,#18516d 0 60px,#19536e 0 62px,#18526e 0 64px,#123a5f 0 66px,#257772 0 68px,#174e6c 0 70px,#0f3057 0 72px,#277d70 0 74px,#144467 0 76px,#1d6375 0 78px,#16496a 0 80px,#164b6b 0 82px,#1e6775 0 84px,#16496a 0 86px,#49a456 0 88px,#154467 0 90px,#133e62 0 92px,#16486a 0 94px,#1b5e72 0 96px,#144366 0 98px,#10355b 0 100px,#154769 0 102px,#144467 0 104px,#1a5a71 0 106px,#164a6a 0 108px,#123b60 0 110px,#379464 0 112px,#154668 0 114px,#1a5770 0 116px,#11375d 0 118px,#154769 0 120px,#19556f 0 122px,#19566f 0 124px,#133e62 0 126px,#1d6475 0 128px,#154669 0 130px,#164a6a 0 132px,#1a5970 0 134px,#19556f 0 136px,#18506d 0 138px,#103359 0 140px,#19536e 0 142px,#184f6d 0 144px,#16486a 0 146px,#1c5f73 0 148px,#174e6c 0 150px,#164a6b 0 152px,#144164 0 154px,#16486a 0 156px,#133f63 0 158px,#267971 0 160px,#154567 0 162px,#144165 0 164px,#123b5f 0 166px,#1b5d72 0 168px,#18506d 0 170px,#123c60 0 172px)"></i><i style="top:27px;background:linear-gradient(90deg,#174f6c 0 2px,#144164 0 4px,#11395e 0 6px,#0a2043 0 8px,#1b5d72 0 10px,#0f3259 0 12px,#18516d 0 14px,#16486a 0 16px,#1b5b71 0 18px,#0d2a51 0 20px,#0b2347 0 22px,#144265 0 24px,#144467 0 26px,#0e2d55 0 28px,#154467 0 30px,#1b5b71 0 32px,#0f3158 0 34px,#18526e 0 36px,#154568 0 38px,#11385e 0 40px,#133e62 0 42px,#133f63 0 44px,#0d2b53 0 46px,#174e6c 0 48px,#174c6b 0 50px,#287f70 0 52px,#11365c 0 54px,#154467 0 56px,#1b5d72 0 58px,#0f3259 0 60px,#144165 0 62px,#144265 0 64px,#144366 0 66px,#154769 0 68px,#11365c 0 70px,#174e6c 0 72px,#19546f 0 74px,#123d61 0 76px,#144265 0 78px,#154769 0 80px,#1a5770 0 82px,#103359 0 84px,#1b5d72 0 86px,#1d6375 0 88px,#0f3057 0 90px,#10365c 0 92px,#164a6a 0 94px,#10345a 0 96px,#103359 0 98px,#144265 0 102px,#174c6b 0 104px,#0d2b53 0 106px,#123b60 0 108px,#11375c 0 110px,#1c6174 0 112px,#18516d 0 114px,#0d2a52 0 116px,#174d6c 0 118px,#0f3258 0 120px,#0d2a51 0 122px,#174d6c 0 124px,#154567 0 126px,#133f63 0 128px,#144366 0 130px,#16496a 0 132px,#144164 0 134px,#11375d 0 136px,#18506d 0 138px,#10355b 0 140px,#1a5870 0 142px,#0c274d 0 144px,#11395e 0 146px,#174f6c 0 148px,#0f3057 0 150px,#133f63 0 152px,#103359 0 154px,#0d2a51 0 156px,#10355b 0 158px,#154467 0 160px,#16486a 0 162px,#1a5a71 0 164px,#0b2449 0 166px,#11385e 0 168px,#11385d 0 170px,#11375d 0 172px)"></i><i style="top:28px;background:linear-gradient(90deg,#18516d 0 2px,#144165 0 4px,#1c5f73 0 6px,#154567 0 8px,#16486a 0 10px,#1e6775 0 12px,#18536e 0 14px,#18526e 0 16px,#216d74 0 18px,#154467 0 20px,#144265 0 22px,#19566f 0 24px,#1e6675 0 26px,#1f6a75 0 28px,#237273 0 30px,#1f6875 0 32px,#1e6775 0 34px,#123a5f 0 36px,#1c6174 0 38px,#1a5770 0 40px,#1a5a71 0 42px,#1e6675 0 44px,#1e6775 0 46px,#19556f 0 48px,#1a5971 0 50px,#18536e 0 52px,#1b5b71 0 54px,#174c6b 0 56px,#1d6374 0 58px,#1f6975 0 60px,#1a5970 0 62px,#133d62 0 64px,#144366 0 66px,#174c6b 0 68px,#154769 0 70px,#216f73 0 72px,#67b747 0 74px,#18536e 0 76px,#226f73 0 78px,#133d62 0 80px,#19556f 0 82px,#1a5770 0 84px,#11375d 0 86px,#144366 0 88px,#184f6d 0 90px,#18506d 0 92px,#174d6c 0 94px,#1c6174 0 96px,#174d6c 0 98px,#19566f 0 100px,#19546e 0 102px,#18516d 0 104px,#18526e 0 106px,#1b5c72 0 108px,#1b5e72 0 110px,#154568 0 112px,#0e2f56 0 114px,#1c6073 0 116px,#1e6775 0 118px,#1a5971 0 120px,#1c6073 0 122px,#154568 0 124px,#16496a 0 126px,#1b5b71 0 128px,#1b5c72 0 130px,#18506d 0 134px,#133e62 0 136px,#1a5870 0 138px,#184f6d 0 140px,#206b74 0 142px,#1b5b71 0 144px,#0f3057 0 146px,#1b5d72 0 148px,#1d6375 0 150px,#154769 0 152px,#133d61 0 154px,#48a357 0 156px,#10355b 0 158px,#123b60 0 160px,#18516d 0 162px,#154769 0 164px,#19536e 0 166px,#174d6c 0 168px,#154568 0 170px,#1d6475 0 172px)"></i><i style="top:29px;background:linear-gradient(90deg,#174d6c 0 2px,#1e6875 0 4px,#174e6c 0 6px,#287f70 0 8px,#257871 0 10px,#1d6575 0 12px,#1b5c72 0 14px,#1f6975 0 16px,#257772 0 18px,#257871 0 20px,#1a5870 0 22px,#1c5f73 0 24px,#164b6b 0 26px,#18526e 0 28px,#206b74 0 30px,#16496a 0 32px,#164a6b 0 34px,#154769 0 36px,#1d6375 0 38px,#174e6c 0 40px,#1e6675 0 42px,#1b5d72 0 44px,#3a9662 0 46px,#1d6475 0 48px,#1b5b71 0 50px,#429d5c 0 52px,#216f73 0 54px,#1a5970 0 56px,#1a5870 0 58px,#1d6575 0 60px,#154567 0 62px,#174d6c 0 64px,#1c5f73 0 66px,#1f6875 0 68px,#c9e05d 0 70px,#133f63 0 72px,#1b5c72 0 74px,#216d74 0 76px,#19566f 0 78px,#154668 0 80px,#1d6274 0 82px,#11385d 0 84px,#1a5770 0 86px,#f6f2b2 0 88px,#18526e 0 90px,#1b5c72 0 92px,#1f6875 0 94px,#1e6675 0 96px,#206b74 0 98px,#1b5c72 0 102px,#216e74 0 104px,#123c60 0 106px,#164b6b 0 108px,#1a5770 0 110px,#267b71 0 112px,#174f6c 0 114px,#287f70 0 116px,#206c74 0 118px,#1c6073 0 120px,#154467 0 122px,#144366 0 124px,#1b5b71 0 126px,#1c6073 0 128px,#1b5e72 0 130px,#10355b 0 132px,#1f6875 0 134px,#1b5d72 0 136px,#18506d 0 138px,#1b5c72 0 140px,#9bcd3b 0 142px,#1b5b71 0 144px,#b9d93e 0 146px,#1d6475 0 148px,#227073 0 150px,#123d61 0 152px,#144467 0 154px,#154769 0 156px,#123a5f 0 158px,#1e6775 0 160px,#18516d 0 162px,#19556f 0 164px,#257871 0 166px,#1d6374 0 168px,#1d6274 0 170px,#1b5e72 0 172px)"></i><i style="top:30px;background:linear-gradient(90deg,#11375d 0 2px,#4ba654 0 4px,#1a5970 0 6px,#399563 0 8px,#2b876e 0 10px,#287f70 0 12px,#0d2b53 0 14px,#2a836f 0 16px,#081a3a 0 18px,#0a2144 0 20px,#0c274c 0 22px,#0d2a51 0 24px,#0a2246 0 26px,#399563 0 28px,#247672 0 30px,#f6f2b2 0 32px,#429d5c 0 34px,#091e40 0 36px,#0e2c54 0 38px,#10335a 0 40px,#123b60 0 42px,#349067 0 44px,#389464 0 46px,#1b5d72 0 48px,#2a846f 0 50px,#2a836f 0 52px,#5db34a 0 54px,#8cc73f 0 56px,#0c264b 0 58px,#0e2d54 0 60px,#0f3057 0 62px,#144265 0 64px,#10345a 0 66px,#144366 0 68px,#10335a 0 70px,#0a2144 0 72px,#328e69 0 74px,#94ca3d 0 76px,#4ca753 0 78px,#174c6b 0 80px,#081a3a 0 82px,#11395e 0 84px,#11375c 0 86px,#0e2e56 0 88px,#0b2449 0 90px,#0c284f 0 92px,#0f3057 0 94px,#216e74 0 96px,#1c5f73 0 98px,#227073 0 100px,#123d61 0 102px,#123c61 0 104px,#1a5770 0 106px,#11385d 0 108px,#0b2448 0 110px,#0b254a 0 112px,#0c274d 0 114px,#1e6675 0 116px,#277d70 0 118px,#62b549 0 120px,#0d2950 0 122px,#0c284f 0 124px,#0f3258 0 126px,#123d61 0 128px,#3b9762 0 130px,#29826f 0 132px,#247572 0 134px,#247672 0 136px,#0b254a 0 138px,#0c264c 0 140px,#a8d238 0 142px,#5bb24a 0 144px,#0a2246 0 146px,#0c274d 0 148px,#11385d 0 150px,#288070 0 152px,#1e6675 0 154px,#349167 0 156px,#277c71 0 158px,#2c886e 0 160px,#2a846f 0 162px,#11375d 0 164px,#091e40 0 166px,#0e2d55 0 168px,#19556f 0 170px,#0e2c54 0 172px)"></i><i style="top:31px;background:linear-gradient(90deg,#247572 0 2px,#1b5d72 0 4px,#247672 0 6px,#339068 0 8px,#216e74 0 10px,#71bb45 0 12px,#0d2b53 0 14px,#449f5a 0 16px,#63b548 0 18px,#081c3e 0 20px,#0d2b52 0 22px,#0d2950 0 24px,#081a3a 0 26px,#0b254a 0 28px,#29826f 0 30px,#247472 0 32px,#0c274d 0 34px,#1c6174 0 36px,#0e2d55 0 38px,#091f41 0 40px,#267971 0 42px,#1c6174 0 44px,#369266 0 46px,#091e40 0 48px,#0c274e 0 50px,#3a9662 0 52px,#449f5a 0 54px,#287f70 0 56px,#50aa50 0 58px,#174d6c 0 60px,#081c3d 0 62px,#0b254a 0 64px,#0b2449 0 66px,#0a2145 0 68px,#081a3a 0 70px,#1d6575 0 72px,#78be44 0 74px,#1d6575 0 76px,#091f41 0 78px,#144164 0 80px,#081a3a 0 82px,#0c264b 0 84px,#0b254a 0 86px,#091f41 0 88px,#091d3e 0 90px,#0c274e 0 92px,#091f41 0 94px,#349167 0 96px,#1e6775 0 98px,#081a3a 0 100px,#0b2449 0 102px,#091f42 0 104px,#0d2b52 0 106px,#081a3a 0 108px,#0a2043 0 110px,#0b254a 0 112px,#1a5770 0 114px,#19566f 0 116px,#1d6575 0 118px,#174d6c 0 120px,#0a2246 0 122px,#0b2449 0 124px,#0f3057 0 126px,#0b254b 0 128px,#0c284f 0 132px,#0a2042 0 134px,#081a3a 0 136px,#0c274d 0 138px,#1c6174 0 140px,#1a5770 0 142px,#277d70 0 144px,#0a2043 0 146px,#174d6c 0 148px,#227173 0 150px,#0a2144 0 152px,#0b2448 0 154px,#10355b 0 156px,#081b3b 0 158px,#103359 0 160px,#0d2b53 0 162px,#081a3a 0 164px,#0e2c54 0 166px,#133e62 0 168px,#164a6b 0 170px,#1b5d72 0 172px)"></i><i style="top:32px;background:linear-gradient(90deg,#369266 0 2px,#2c876e 0 4px,#29826f 0 6px,#339068 0 8px,#3e995f 0 10px,#1d6575 0 12px,#091d3e 0 14px,#85c440 0 16px,#18516d 0 18px,#174c6b 0 20px,#0f2f56 0 22px,#10355b 0 24px,#11395e 0 26px,#0c274d 0 28px,#bfdc4a 0 30px,#46a158 0 32px,#10335a 0 34px,#0e2e56 0 36px,#133f63 0 38px,#0f2f57 0 40px,#11375c 0 42px,#2e8b6c 0 44px,#57b04b 0 46px,#174c6b 0 48px,#174e6c 0 50px,#287f70 0 52px,#54ae4d 0 54px,#379365 0 56px,#123b60 0 58px,#10365b 0 60px,#133e62 0 62px,#123c60 0 64px,#174f6c 0 66px,#081c3d 0 68px,#11375c 0 70px,#1b5b71 0 72px,#429d5c 0 74px,#369266 0 76px,#16486a 0 78px,#11365c 0 80px,#0e2e55 0 82px,#144266 0 84px,#0f2f56 0 86px,#164b6b 0 88px,#1a5870 0 90px,#0d2b53 0 92px,#8fc83e 0 94px,#55af4c 0 96px,#74bc45 0 98px,#f1f0a9 0 100px,#0f3057 0 102px,#2e8b6c 0 104px,#144165 0 106px,#0e2c54 0 108px,#1c5e73 0 110px,#10345a 0 112px,#134063 0 114px,#29816f 0 116px,#429e5b 0 118px,#419d5c 0 120px,#144366 0 122px,#154568 0 124px,#16486a 0 126px,#0e2d55 0 128px,#11365c 0 130px,#0f3057 0 132px,#10355b 0 134px,#184f6d 0 136px,#0e2c54 0 138px,#68b747 0 140px,#f6f2b2 0 142px,#b0d636 0 144px,#16496a 0 146px,#154467 0 148px,#174c6b 0 150px,#1a5970 0 152px,#123a5f 0 154px,#0b2348 0 156px,#0b254a 0 158px,#0f3158 0 160px,#2d8a6d 0 162px,#0c274e 0 164px,#0f3057 0 166px,#133f63 0 168px,#10365b 0 170px,#18516d 0 172px)"></i><i style="top:33px;background:linear-gradient(90deg,#174d6c 0 2px,#0a2246 0 4px,#11365c 0 6px,#0c274e 0 8px,#10365c 0 10px,#1c6174 0 12px,#1b5d72 0 16px,#174b6b 0 18px,#0d2a51 0 20px,#0b254a 0 22px,#0d2b53 0 24px,#081a3a 0 26px,#10355b 0 28px,#0b2348 0 30px,#144164 0 32px,#154769 0 34px,#0e2c54 0 36px,#0f3158 0 38px,#123b5f 0 40px,#0f3057 0 42px,#164a6b 0 44px,#10345a 0 46px,#144165 0 48px,#0b2449 0 50px,#081a3a 0 52px,#123b60 0 54px,#091e3f 0 56px,#0c264c 0 58px,#144366 0 60px,#11385d 0 62px,#103359 0 64px,#081a3a 0 66px,#49a456 0 68px,#144164 0 70px,#174c6b 0 72px,#0c264c 0 74px,#0a2246 0 76px,#10345a 0 78px,#0f3057 0 80px,#0c274d 0 82px,#0f3057 0 84px,#10345a 0 86px,#0b2448 0 90px,#081a3a 0 92px,#10335a 0 94px,#16486a 0 96px,#227073 0 98px,#0d2a52 0 100px,#10355b 0 102px,#2d8a6d 0 104px,#0b2449 0 106px,#134063 0 108px,#0c274d 0 110px,#0b2347 0 112px,#11375d 0 114px,#0d2a51 0 116px,#10345a 0 118px,#0d2a51 0 120px,#0b254b 0 122px,#19556f 0 124px,#0c284f 0 126px,#10345a 0 128px,#11365c 0 130px,#134063 0 132px,#0e2e55 0 134px,#0c284e 0 136px,#091e40 0 138px,#0f3158 0 140px,#081a3a 0 142px,#11375d 0 144px,#134064 0 146px,#10365c 0 148px,#11375c 0 150px,#0e2c54 0 152px,#081c3e 0 154px,#0c284f 0 156px,#0d2b52 0 158px,#0a2246 0 160px,#134063 0 162px,#133e62 0 164px,#154568 0 166px,#144164 0 168px,#0f3057 0 170px,#0e2c54 0 172px)"></i><i style="top:34px;background:linear-gradient(90deg,#0f3057 0 2px,#0d2950 0 4px,#0b254b 0 6px,#174e6c 0 8px,#0a2246 0 10px,#081a3a 0 12px,#0c284e 0 14px,#10345a 0 16px,#0b2347 0 18px,#11385d 0 20px,#0c264c 0 22px,#0b254b 0 24px,#0c264c 0 26px,#091e40 0 30px,#11385d 0 32px,#0d2950 0 34px,#0c284e 0 36px,#0b2347 0 38px,#091e40 0 40px,#11375d 0 42px,#0d2a51 0 44px,#11385d 0 46px,#091d3e 0 48px,#091d3f 0 50px,#0a2144 0 52px,#081b3c 0 54px,#0a2043 0 56px,#0d2951 0 58px,#081c3e 0 60px,#081a3a 0 62px,#29816f 0 64px,#0d2a51 0 66px,#081a3a 0 68px,#0d2a52 0 70px,#081a3a 0 74px,#091d3f 0 76px,#0c284f 0 78px,#081a3a 0 80px,#0b2449 0 82px,#10345a 0 84px,#091f41 0 86px,#0d2a52 0 88px,#091e40 0 90px,#0a2042 0 92px,#081a3a 0 94px,#0a2144 0 96px,#091e3f 0 98px,#081a3a 0 102px,#0b2549 0 104px,#081b3b 0 106px,#11375d 0 108px,#081a3a 0 110px,#0f3259 0 112px,#0d2950 0 114px,#081a3a 0 116px,#0c274c 0 118px,#133f63 0 120px,#0f2f57 0 122px,#081a3a 0 124px,#091f41 0 126px,#0a2246 0 128px,#144265 0 130px,#081a3a 0 132px,#0b254b 0 134px,#081a3a 0 136px,#0c264c 0 138px,#0d2a51 0 140px,#0d2950 0 142px,#0a2144 0 144px,#0b254a 0 146px,#0e2c54 0 148px,#1f6975 0 150px,#1b5e72 0 152px,#0b2348 0 154px,#0d2a51 0 156px,#10345a 0 158px,#0b2347 0 160px,#0a2144 0 162px,#0d2a51 0 164px,#081a3a 0 166px,#091e40 0 168px,#18526e 0 170px,#091d3f 0 172px)"></i><i style="top:35px;background:linear-gradient(90deg,#091f41 0 2px,#11385e 0 4px,#0b2449 0 6px,#10365c 0 8px,#0e2c54 0 10px,#081a3a 0 12px,#0e2d55 0 14px,#123b60 0 16px,#0d2b52 0 18px,#091e40 0 20px,#11385d 0 22px,#0c264b 0 24px,#0b2449 0 26px,#0c264b 0 28px,#0e2e56 0 30px,#0c274d 0 32px,#144366 0 34px,#10365b 0 36px,#091e40 0 38px,#0c284e 0 40px,#0d2b52 0 42px,#18526e 0 44px,#091f42 0 46px,#0a2246 0 48px,#0f3057 0 50px,#11375d 0 52px,#0d2950 0 54px,#0b2448 0 56px,#0f3057 0 58px,#0d2950 0 60px,#0b2347 0 62px,#0f3158 0 64px,#0c274c 0 66px,#103359 0 70px,#0c264b 0 72px,#0b254a 0 74px,#1f6975 0 76px,#091d3f 0 78px,#0a2042 0 80px,#0b2347 0 82px,#237273 0 84px,#133e62 0 86px,#091e3f 0 88px,#081a3a 0 90px,#10365c 0 92px,#0e2c54 0 94px,#133e62 0 96px,#123a5f 0 98px,#134064 0 100px,#0a2043 0 102px,#0d294f 0 104px,#5eb34a 0 106px,#174d6c 0 108px,#267971 0 110px,#0e2d54 0 112px,#0d2b53 0 114px,#0d2b52 0 116px,#0c274d 0 118px,#091f42 0 120px,#0c284e 0 122px,#123c60 0 124px,#0b2348 0 126px,#0a2245 0 128px,#081a3a 0 130px,#0c264c 0 132px,#0b2449 0 134px,#081a3a 0 136px,#0c284e 0 138px,#0b254a 0 142px,#10365c 0 144px,#144366 0 146px,#247472 0 148px,#11375c 0 150px,#10345a 0 152px,#16496a 0 154px,#0d2a51 0 156px,#123d61 0 158px,#123c61 0 160px,#091f41 0 162px,#081c3e 0 164px,#0e2f56 0 166px,#0f3259 0 168px,#0d2951 0 170px,#0c264c 0 172px)"></i><i style="top:36px;background:linear-gradient(90deg,#47a257 0 2px,#1b5a71 0 4px,#11385d 0 6px,#144366 0 8px,#19556f 0 10px,#216f73 0 12px,#174b6b 0 14px,#123d61 0 16px,#164a6b 0 20px,#1d6575 0 22px,#144467 0 24px,#123d61 0 26px,#19566f 0 28px,#10345a 0 30px,#174d6c 0 32px,#144164 0 34px,#0f2f57 0 36px,#133f63 0 40px,#154668 0 42px,#1a5770 0 44px,#16486a 0 46px,#174d6c 0 48px,#123b5f 0 50px,#174e6c 0 54px,#18516d 0 56px,#0f3057 0 58px,#133e62 0 60px,#103359 0 62px,#134064 0 64px,#11385e 0 66px,#1d6575 0 68px,#123a5f 0 70px,#1c6174 0 72px,#19546e 0 74px,#0e2e55 0 76px,#18526e 0 78px,#19556f 0 80px,#164a6a 0 82px,#134064 0 84px,#11395e 0 86px,#144467 0 88px,#16496a 0 90px,#184f6d 0 92px,#0e2c54 0 94px,#1f6a75 0 96px,#257672 0 98px,#247672 0 100px,#10345a 0 102px,#0f3259 0 104px,#123b5f 0 106px,#10345a 0 108px,#10355b 0 112px,#123a5f 0 114px,#144164 0 116px,#16486a 0 118px,#1d6274 0 120px,#154668 0 122px,#19556f 0 124px,#18516d 0 126px,#133d62 0 128px,#133e62 0 130px,#18526e 0 132px,#134064 0 134px,#133e62 0 136px,#0e2f56 0 138px,#144366 0 140px,#16486a 0 142px,#133f63 0 144px,#154669 0 146px,#16496a 0 148px,#11395e 0 150px,#164b6b 0 152px,#1b5d72 0 154px,#0c284f 0 156px,#267b71 0 158px,#133f63 0 160px,#174f6c 0 162px,#18526e 0 164px,#18506d 0 166px,#11395e 0 168px,#16486a 0 170px,#174f6c 0 172px)"></i><i style="top:37px;background:linear-gradient(90deg,#154769 0 2px,#1d6475 0 4px,#237273 0 6px,#1c6174 0 8px,#18526e 0 10px,#174b6b 0 12px,#f2f2e6 0 34px,#19556f 0 36px,#164b6b 0 38px,#164a6b 0 40px,#1a5770 0 42px,#19546f 0 44px,#206c74 0 46px,#18516d 0 48px,#164a6b 0 50px,#1d6475 0 52px,#206a74 0 54px,#1d6475 0 56px,#277c70 0 58px,#227073 0 60px,#1b5d72 0 62px,#174f6c 0 64px,#133e62 0 66px,#0c264c 0 68px,#1b5b71 0 70px,#11395e 0 72px,#18506d 0 74px,#1c5e73 0 76px,#174f6c 0 78px,#18536e 0 80px,#1c5f73 0 82px,#11385e 0 84px,#389564 0 86px,#18516d 0 88px,#19566f 0 90px,#154769 0 92px,#1d6274 0 94px,#1b5c72 0 96px,#247472 0 98px,#1b5b71 0 100px,#154568 0 102px,#2d8a6d 0 104px,#16486a 0 106px,#144164 0 108px,#18516d 0 110px,#134063 0 112px,#144265 0 114px,#18506d 0 116px,#267971 0 118px,#19556f 0 120px,#18516d 0 122px,#123a5f 0 124px,#19566f 0 126px,#123b60 0 128px,#1d6475 0 130px,#123d61 0 132px,#0c264b 0 134px,#123a5f 0 136px,#174e6c 0 138px,#154467 0 140px,#19546f 0 142px,#164a6b 0 144px,#174e6c 0 146px,#174c6b 0 148px,#1a5a71 0 150px,#11375c 0 152px,#19566f 0 154px,#184f6d 0 156px,#18516d 0 158px,#1c6274 0 160px,#10365b 0 162px,#277d70 0 164px,#277c70 0 166px,#16496a 0 170px,#429e5c 0 172px)"></i><i style="top:38px;background:linear-gradient(90deg,#19566f 0 2px,#18506d 0 4px,#1c5f73 0 6px,#1a5970 0 8px,#216d74 0 10px,#144366 0 12px,#f2f2e6 0 34px,#16496a 0 36px,#133e62 0 38px,#16496a 0 40px,#206a74 0 42px,#52ac4e 0 44px,#144164 0 46px,#18536e 0 48px,#133e62 0 50px,#123b60 0 52px,#154668 0 54px,#257871 0 56px,#81c241 0 58px,#16486a 0 60px,#53ad4d 0 62px,#1a5770 0 64px,#1b5d72 0 66px,#154668 0 68px,#19566f 0 70px,#144265 0 72px,#1a5971 0 74px,#227073 0 76px,#1b5c72 0 78px,#18526e 0 80px,#1f6a75 0 82px,#16496a 0 84px,#174d6c 0 86px,#123d61 0 88px,#16486a 0 90px,#19556f 0 92px,#16486a 0 94px,#277c70 0 96px,#134064 0 98px,#19546e 0 100px,#154568 0 102px,#206c74 0 104px,#0f3259 0 106px,#16496a 0 108px,#16486a 0 110px,#19546e 0 112px,#174c6b 0 114px,#216f73 0 116px,#1b5d72 0 118px,#1d6274 0 120px,#144467 0 122px,#134064 0 124px,#133e62 0 126px,#16496a 0 128px,#216f73 0 130px,#1a5770 0 132px,#19546f 0 134px,#1a5770 0 138px,#1a5870 0 140px,#19546f 0 142px,#328f69 0 144px,#16496a 0 146px,#11395e 0 148px,#123b5f 0 150px,#154769 0 152px,#19556f 0 154px,#123a5f 0 156px,#144466 0 158px,#144165 0 160px,#19536e 0 162px,#1d6475 0 164px,#144366 0 168px,#154568 0 170px,#0a2044 0 172px)"></i><i style="top:39px;background:linear-gradient(90deg,#123b60 0 2px,#216e74 0 4px,#1b5b71 0 6px,#19546e 0 8px,#2c886e 0 10px,#133d61 0 12px,#247472 0 14px,#184f6d 0 16px,#1a5a71 0 18px,#1a5870 0 20px,#1a5770 0 22px,#328f69 0 24px,#1c5e73 0 26px,#5eb349 0 28px,#0e2e56 0 30px,#133f63 0 32px,#123b5f 0 34px,#134064 0 36px,#103359 0 38px,#1a5971 0 40px,#10365c 0 42px,#144265 0 44px,#1a5a71 0 46px,#1b5d72 0 48px,#1a5770 0 50px,#267971 0 52px,#1d6274 0 54px,#267a71 0 56px,#103359 0 58px,#0c264c 0 60px,#11365c 0 62px,#2b876e 0 64px,#2a836f 0 66px,#237372 0 68px,#1a5770 0 70px,#1d6475 0 72px,#419d5c 0 74px,#11375c 0 76px,#184f6d 0 80px,#144165 0 82px,#2c886e 0 84px,#237372 0 86px,#1a5a71 0 88px,#1f6975 0 90px,#144265 0 92px,#174e6c 0 94px,#1b5c72 0 96px,#1b5d72 0 98px,#257971 0 100px,#1b5d72 0 102px,#287f70 0 104px,#0d2950 0 106px,#184f6d 0 108px,#2c886e 0 110px,#1c6073 0 112px,#1c5f73 0 114px,#10355b 0 116px,#3b9761 0 118px,#10365c 0 120px,#154668 0 122px,#0d2a52 0 124px,#174d6c 0 126px,#144165 0 128px,#0e2f56 0 130px,#18516d 0 132px,#19556f 0 134px,#19566f 0 136px,#206b74 0 138px,#174d6c 0 140px,#19566f 0 142px,#174d6c 0 144px,#1d6575 0 146px,#1f6a75 0 148px,#164b6b 0 150px,#1d6374 0 152px,#1a5870 0 154px,#16496a 0 156px,#154668 0 158px,#1f6975 0 160px,#277c70 0 162px,#287e70 0 164px,#123a5f 0 166px,#16496a 0 168px,#1c6174 0 170px,#144366 0 172px)"></i><i style="top:40px;background:linear-gradient(90deg,#257772 0 2px,#287f70 0 4px,#267b71 0 6px,#48a357 0 8px,#154668 0 10px,#18506d 0 12px,#49a456 0 14px,#2d8a6d 0 16px,#288070 0 18px,#1c6174 0 20px,#216f73 0 22px,#2a826f 0 24px,#206c74 0 26px,#133e62 0 28px,#1a5770 0 30px,#1b5b71 0 32px,#154769 0 34px,#164a6b 0 36px,#216d74 0 38px,#1c6073 0 40px,#2b876e 0 42px,#1d6274 0 44px,#19536e 0 46px,#18536e 0 48px,#174c6b 0 50px,#1d6375 0 52px,#216d74 0 54px,#f6f2b2 0 56px,#19566f 0 58px,#174c6b 0 60px,#1e6775 0 62px,#11385d 0 64px,#1d6575 0 66px,#1a5970 0 68px,#10345a 0 70px,#16496a 0 72px,#154668 0 74px,#216f73 0 76px,#154769 0 78px,#1e6675 0 80px,#1b5d72 0 82px,#94ca3d 0 84px,#154668 0 86px,#3f9b5e 0 88px,#1c6073 0 90px,#18526e 0 92px,#1f6875 0 94px,#16496a 0 96px,#1c5e73 0 98px,#1b5d72 0 100px,#277c71 0 102px,#247472 0 104px,#277c71 0 106px,#134063 0 108px,#277d70 0 110px,#18526e 0 112px,#1c5f73 0 114px,#18526e 0 116px,#1a5870 0 118px,#154769 0 120px,#174d6c 0 122px,#247572 0 124px,#1b5d72 0 126px,#174d6c 0 128px,#1a5870 0 130px,#247572 0 132px,#1f6975 0 134px,#1c6073 0 136px,#247572 0 138px,#154769 0 140px,#1b5d72 0 142px,#359266 0 144px,#2b866e 0 146px,#1e6675 0 148px,#247672 0 150px,#247472 0 152px,#16496a 0 154px,#144467 0 156px,#1c6174 0 158px,#1c6073 0 160px,#2e8b6c 0 162px,#1f6a74 0 164px,#2c886e 0 166px,#1c6073 0 168px,#154769 0 170px,#18506d 0 172px)"></i><i style="top:41px;background:linear-gradient(90deg,#1c6073 0 2px,#247472 0 4px,#18516d 0 6px,#237373 0 8px,#247472 0 10px,#216e74 0 12px,#1f6875 0 14px,#298070 0 16px,#19566f 0 18px,#154669 0 20px,#1c5f73 0 22px,#1c5e73 0 24px,#1f6875 0 26px,#277d70 0 28px,#11395e 0 30px,#154668 0 32px,#11385d 0 34px,#216e74 0 36px,#1c5f73 0 38px,#19536e 0 40px,#154567 0 42px,#11385d 0 44px,#1a5870 0 46px,#0f3158 0 48px,#174c6b 0 50px,#257971 0 52px,#2a856f 0 54px,#2b856e 0 56px,#144467 0 58px,#154467 0 60px,#0b2448 0 62px,#247472 0 64px,#1c6174 0 66px,#379365 0 68px,#174c6b 0 70px,#0f3057 0 72px,#0f3259 0 74px,#0d2950 0 76px,#19556f 0 78px,#1d6475 0 80px,#174e6c 0 82px,#1e6775 0 84px,#2c886e 0 86px,#18506d 0 88px,#174d6c 0 90px,#154467 0 92px,#164a6b 0 94px,#1e6875 0 96px,#1a5870 0 98px,#134064 0 100px,#19566f 0 102px,#1b5e72 0 104px,#10355b 0 106px,#164b6b 0 108px,#1a5870 0 110px,#154568 0 112px,#19566f 0 114px,#164b6b 0 116px,#11375c 0 118px,#133e62 0 120px,#18516d 0 122px,#1a5870 0 124px,#19536e 0 128px,#257772 0 130px,#174d6c 0 132px,#216e74 0 134px,#267a71 0 136px,#19556f 0 138px,#123b60 0 140px,#133d61 0 142px,#154668 0 144px,#154769 0 146px,#1d6274 0 148px,#1d6475 0 150px,#277d70 0 152px,#16496a 0 154px,#18516d 0 156px,#184f6d 0 158px,#1a5870 0 162px,#154668 0 164px,#11395e 0 166px,#144165 0 168px,#1c6174 0 170px,#144164 0 172px)"></i><i style="top:42px;background:linear-gradient(90deg,#247572 0 2px,#1b5d72 0 4px,#184f6d 0 6px,#1d6575 0 8px,#206d74 0 10px,#174d6c 0 12px,#257871 0 14px,#247672 0 16px,#206c74 0 18px,#1c5f73 0 20px,#18516d 0 22px,#184f6d 0 24px,#144265 0 26px,#1d6274 0 28px,#154467 0 30px,#164a6a 0 32px,#164a6b 0 34px,#164b6b 0 36px,#18516d 0 38px,#18506d 0 40px,#1f6a74 0 42px,#11395e 0 44px,#174c6b 0 46px,#73bc45 0 48px,#144265 0 50px,#144467 0 52px,#338f68 0 54px,#389464 0 56px,#379464 0 58px,#237373 0 60px,#133e62 0 62px,#18526e 0 64px,#1a5970 0 66px,#257871 0 68px,#19536e 0 70px,#1a5770 0 72px,#174f6c 0 74px,#154668 0 76px,#154769 0 78px,#2e8b6c 0 80px,#277c70 0 82px,#237472 0 84px,#3d9960 0 86px,#19566f 0 88px,#1c6073 0 90px,#267a71 0 92px,#19556f 0 94px,#1f6a75 0 96px,#164a6b 0 98px,#1a5970 0 100px,#277b71 0 102px,#16486a 0 104px,#174c6b 0 106px,#19546e 0 108px,#257971 0 110px,#1c6073 0 112px,#419d5c 0 114px,#174d6c 0 116px,#154467 0 118px,#1a5971 0 120px,#144366 0 122px,#144164 0 124px,#1c6073 0 126px,#11395e 0 128px,#0d2b53 0 130px,#2b876e 0 132px,#1d6475 0 134px,#227173 0 136px,#1c6073 0 138px,#1c5f73 0 140px,#1b5d72 0 142px,#134063 0 144px,#1a5770 0 146px,#298070 0 148px,#1e6875 0 150px,#19566f 0 152px,#144366 0 154px,#237472 0 156px,#174e6c 0 158px,#16486a 0 160px,#19536e 0 162px,#174b6b 0 164px,#1a5870 0 166px,#1c6174 0 168px,#154568 0 170px,#1a5970 0 172px)"></i><i style="top:43px;background:linear-gradient(90deg,#11365c 0 2px,#bedb48 0 4px,#b7d83a 0 6px,#4ba654 0 8px,#0d2b52 0 10px,#091d3f 0 12px,#3b9761 0 14px,#2b876e 0 16px,#206c74 0 18px,#73bc45 0 20px,#0f3158 0 22px,#b4d736 0 24px,#93c93d 0 26px,#0c264c 0 30px,#10345a 0 32px,#0c284f 0 34px,#68b747 0 36px,#add437 0 38px,#247572 0 40px,#0d2a52 0 42px,#0a2144 0 44px,#0a2245 0 46px,#0a2043 0 48px,#081a3a 0 50px,#154467 0 52px,#d8e67a 0 54px,#6db946 0 56px,#0a2245 0 58px,#091e40 0 60px,#133e62 0 62px,#328e69 0 64px,#2b856e 0 66px,#0a2246 0 68px,#0d2950 0 70px,#123b60 0 72px,#0a2144 0 74px,#144366 0 76px,#0c264b 0 78px,#3e9a5f 0 80px,#b3d736 0 82px,#d2e36d 0 84px,#63b548 0 86px,#5fb449 0 88px,#e2ea8c 0 90px,#0c264c 0 92px,#123b60 0 94px,#3a9662 0 96px,#e5eb92 0 98px,#d7e577 0 100px,#a7d239 0 102px,#144366 0 104px,#0b2448 0 106px,#50ab50 0 108px,#318e69 0 110px,#f6f2b2 0 112px,#0a2043 0 114px,#0b254b 0 116px,#1d6274 0 118px,#0c284e 0 120px,#081a3a 0 122px,#0d2950 0 126px,#0a2042 0 128px,#389464 0 130px,#c9e05d 0 132px,#4fa951 0 134px,#449f5a 0 136px,#081c3c 0 138px,#0a2043 0 140px,#0d2b53 0 142px,#0c264c 0 144px,#081a3a 0 146px,#cbe160 0 148px,#257871 0 150px,#b0d637 0 152px,#091f42 0 154px,#174b6b 0 156px,#103359 0 158px,#f6f2b2 0 160px,#ebed9e 0 162px,#f6f2b2 0 166px,#133e62 0 168px,#0b2347 0 170px,#0d2a51 0 172px)"></i><i style="top:44px;background:linear-gradient(90deg,#144265 0 2px,#154769 0 4px,#10365b 0 6px,#123c61 0 8px,#55af4c 0 10px,#0c284f 0 12px,#081c3d 0 14px,#308d6b 0 16px,#184f6d 0 18px,#0a2044 0 20px,#0c274d 0 22px,#11385e 0 24px,#0b254a 0 26px,#123d61 0 28px,#081a3a 0 30px,#11375d 0 32px,#0b254a 0 34px,#081a3a 0 36px,#1a5770 0 38px,#11395e 0 40px,#16496a 0 42px,#0c284f 0 44px,#091d3f 0 46px,#081a3a 0 48px,#0f3259 0 50px,#0d2950 0 52px,#174d6c 0 54px,#18506d 0 56px,#0c264c 0 58px,#0e2c54 0 60px,#0c274d 0 62px,#134064 0 64px,#11375c 0 66px,#123c61 0 68px,#0d294f 0 70px,#0b2348 0 72px,#0d2b53 0 74px,#081c3d 0 76px,#134064 0 78px,#144164 0 80px,#174d6c 0 82px,#154769 0 84px,#18506d 0 86px,#103359 0 88px,#134063 0 90px,#0b254a 0 94px,#10365b 0 96px,#123a5f 0 98px,#154568 0 100px,#154769 0 102px,#174c6b 0 104px,#091e3f 0 106px,#0d2950 0 108px,#0a2144 0 110px,#18526e 0 112px,#0f3158 0 114px,#0b254a 0 116px,#091d3e 0 118px,#091e3f 0 120px,#123c61 0 122px,#0d2950 0 124px,#0c274c 0 126px,#0d294f 0 128px,#144366 0 130px,#11395e 0 132px,#123b60 0 134px,#144366 0 136px,#0c264c 0 138px,#081c3d 0 140px,#091d3e 0 142px,#11395e 0 144px,#0c264c 0 146px,#164b6b 0 148px,#144164 0 150px,#0e2d55 0 152px,#0c284e 0 154px,#0b254a 0 156px,#123c61 0 158px,#0d2b53 0 160px,#123c61 0 162px,#123c60 0 164px,#11385d 0 166px,#123c61 0 168px,#0d2a52 0 170px,#0b2448 0 172px)"></i><i style="top:45px;background:linear-gradient(90deg,#0b254a 0 2px,#3a9663 0 4px,#1f6875 0 6px,#4ba654 0 8px,#3f9b5e 0 10px,#267b71 0 12px,#47a257 0 14px,#6bb847 0 16px,#1e6775 0 18px,#144165 0 20px,#4ea952 0 22px,#257871 0 24px,#1d6575 0 26px,#4ca753 0 28px,#0e2d54 0 30px,#091e40 0 32px,#0c284e 0 34px,#123c60 0 36px,#c5de54 0 38px,#3d9960 0 40px,#1f6975 0 42px,#0f3158 0 44px,#103359 0 46px,#0a2144 0 48px,#0c264b 0 50px,#44a05a 0 52px,#4ba555 0 54px,#2b866e 0 56px,#0b254a 0 58px,#0e2c54 0 60px,#0a2246 0 62px,#bada41 0 64px,#75bd44 0 66px,#081c3d 0 68px,#123a5f 0 70px,#0d2950 0 72px,#0e2d55 0 74px,#091f42 0 76px,#081a3a 0 78px,#4aa555 0 80px,#2c896e 0 82px,#3a9662 0 84px,#237472 0 86px,#47a257 0 88px,#419d5c 0 90px,#0d2a51 0 92px,#0d2950 0 94px,#0f3057 0 96px,#206b74 0 98px,#216d74 0 100px,#18526e 0 102px,#247672 0 104px,#091f42 0 106px,#0b2448 0 108px,#4aa555 0 110px,#409c5d 0 112px,#0c274c 0 114px,#0e2c54 0 116px,#0d2a52 0 118px,#0a2144 0 120px,#0a2042 0 122px,#0d2950 0 124px,#0c274d 0 126px,#081a3a 0 128px,#091e40 0 130px,#1e6675 0 132px,#98cc3c 0 134px,#0b254b 0 136px,#0c264c 0 138px,#0a2245 0 140px,#0a2145 0 142px,#0c274d 0 144px,#2f8c6c 0 146px,#47a257 0 148px,#2d8a6d 0 150px,#19546e 0 152px,#0c264c 0 154px,#081a3a 0 156px,#0e2e56 0 158px,#1a5870 0 160px,#2b876e 0 162px,#2b866e 0 164px,#287f70 0 166px,#0d2b52 0 168px,#0f2f56 0 170px,#0b254b 0 172px)"></i><i style="top:46px;background:linear-gradient(90deg,#0b254a 0 2px,#f6f2b2 0 6px,#a5d139 0 8px,#64b548 0 10px,#0e2c54 0 12px,#f6f2b2 0 14px,#a3d03a 0 16px,#f6f2b2 0 18px,#081a3a 0 20px,#0c284e 0 22px,#5db34a 0 24px,#53ad4e 0 26px,#123c60 0 28px,#144366 0 30px,#0a2043 0 32px,#0b254a 0 34px,#0b2449 0 36px,#add437 0 38px,#acd437 0 40px,#298070 0 42px,#081a3a 0 44px,#11365c 0 46px,#081a3a 0 48px,#0f3158 0 50px,#f2f0ab 0 52px,#419c5d 0 54px,#10355b 0 56px,#0f3158 0 58px,#0c284f 0 60px,#081a3a 0 62px,#091e40 0 64px,#45a05a 0 66px,#b0d636 0 68px,#0b2347 0 70px,#10335a 0 72px,#0c284e 0 74px,#10365c 0 76px,#11385d 0 78px,#d4e472 0 80px,#f6f2b2 0 84px,#4ca654 0 86px,#84c341 0 88px,#d1e36c 0 90px,#10335a 0 92px,#123b60 0 94px,#091f42 0 96px,#4ba555 0 98px,#3e9a5f 0 100px,#47a257 0 102px,#45a159 0 104px,#257672 0 106px,#4faa51 0 108px,#9ccd3b 0 110px,#0f3158 0 112px,#10345a 0 114px,#0c274d 0 116px,#0f3057 0 118px,#11385e 0 120px,#0c264b 0 122px,#0c274d 0 124px,#0c284e 0 126px,#133d62 0 128px,#0a2245 0 130px,#65b648 0 132px,#2c886e 0 136px,#0e2e56 0 138px,#0a2246 0 140px,#091f42 0 142px,#144165 0 144px,#081a3a 0 146px,#f6f2b2 0 148px,#90c83e 0 150px,#c5de55 0 152px,#0b2448 0 154px,#11375d 0 156px,#0f3259 0 158px,#76bd44 0 160px,#dae67d 0 162px,#b8d93c 0 164px,#379365 0 166px,#b3d736 0 168px,#0a2043 0 170px,#081a3b 0 172px)"></i><i style="top:47px;background:linear-gradient(90deg,#164b6b 0 2px,#0e2c54 0 4px,#2b856f 0 6px,#11375d 0 8px,#103359 0 10px,#0a2144 0 12px,#174d6c 0 16px,#133f62 0 18px,#081c3d 0 22px,#2c896e 0 24px,#1b5c72 0 26px,#10345a 0 28px,#0c274c 0 30px,#0b2448 0 32px,#0a2042 0 34px,#123c61 0 36px,#11365c 0 38px,#11395e 0 40px,#164a6a 0 42px,#0f3259 0 44px,#2c876e 0 46px,#0a2246 0 48px,#0d2a52 0 50px,#0b2448 0 52px,#0b2449 0 54px,#0c264c 0 56px,#0d2950 0 58px,#0b254a 0 60px,#0c274e 0 62px,#0a2043 0 64px,#19566f 0 66px,#0d2a51 0 68px,#0f3057 0 70px,#081a3a 0 72px,#123d61 0 74px,#0a2144 0 76px,#081a3a 0 78px,#18506d 0 80px,#133f63 0 82px,#0d2a51 0 84px,#164a6b 0 86px,#164b6b 0 88px,#19536e 0 90px,#133e62 0 92px,#081a3a 0 94px,#0a2044 0 96px,#18516d 0 98px,#11395e 0 100px,#0d2b52 0 102px,#154769 0 104px,#0f3057 0 106px,#174f6c 0 108px,#1a5870 0 110px,#0d294f 0 112px,#081b3b 0 114px,#081a3a 0 116px,#11395e 0 118px,#0a2043 0 120px,#0d2a51 0 122px,#081a3a 0 124px,#2b856e 0 126px,#0a2144 0 128px,#081a3a 0 130px,#11375d 0 132px,#1c5f73 0 134px,#134064 0 136px,#0e2e56 0 138px,#0e2d54 0 140px,#0d2a52 0 142px,#081c3d 0 144px,#0c284f 0 146px,#134064 0 148px,#133f62 0 150px,#0c284f 0 152px,#11395e 0 154px,#0c264b 0 156px,#081a3a 0 158px,#1b5c72 0 160px,#144467 0 162px,#164a6b 0 164px,#0e2d55 0 166px,#0f3057 0 168px,#0f3259 0 170px,#081a3a 0 172px)"></i><i style="top:48px;background:linear-gradient(90deg,#1a5770 0 2px,#4ba554 0 4px,#164a6b 0 6px,#1c6073 0 8px,#277c71 0 10px,#3a9663 0 12px,#1c6274 0 14px,#1f6975 0 16px,#10335a 0 18px,#0d2a52 0 20px,#0a2246 0 22px,#439e5b 0 24px,#429d5c 0 26px,#11365c 0 28px,#10365b 0 30px,#0d2950 0 34px,#11385d 0 36px,#19546e 0 38px,#227073 0 40px,#081c3d 0 42px,#11395e 0 44px,#0d2a51 0 46px,#154669 0 48px,#0a2145 0 50px,#0e2e55 0 52px,#56b04b 0 54px,#419c5d 0 56px,#123d61 0 58px,#0c274d 0 60px,#0b2347 0 62px,#0b254a 0 64px,#227173 0 66px,#10345a 0 68px,#0f3258 0 70px,#0d2a52 0 74px,#133d62 0 76px,#081a3a 0 78px,#287f70 0 80px,#1f6a75 0 82px,#257772 0 84px,#439e5b 0 86px,#257871 0 88px,#216e74 0 90px,#16486a 0 92px,#0d2a52 0 94px,#3b9762 0 96px,#1f6a75 0 98px,#8bc63f 0 100px,#227173 0 102px,#3d9960 0 104px,#0e2c54 0 106px,#29826f 0 108px,#399563 0 110px,#174c6b 0 112px,#0d2a52 0 114px,#0a2042 0 116px,#11375d 0 118px,#0b2449 0 120px,#123b60 0 122px,#0a2145 0 124px,#0c284e 0 126px,#123c60 0 128px,#091d3e 0 130px,#237472 0 132px,#267a71 0 134px,#328f69 0 136px,#0b2347 0 138px,#081a3a 0 140px,#0b2549 0 142px,#29816f 0 144px,#3c9860 0 146px,#2c876e 0 148px,#277d70 0 150px,#4ca654 0 152px,#0e2e55 0 154px,#11385d 0 156px,#081a3a 0 158px,#29826f 0 160px,#216e74 0 162px,#216d74 0 164px,#206b74 0 166px,#1c6174 0 168px,#0e2d54 0 170px,#081c3d 0 172px)"></i><i style="top:49px;background:linear-gradient(90deg,#123c60 0 2px,#f6f2b2 0 4px,#a2d03a 0 6px,#c2dd50 0 8px,#dde882 0 10px,#0d2a51 0 12px,#f4f1ae 0 14px,#c4de53 0 16px,#c8df5b 0 18px,#18506d 0 20px,#0e2d55 0 22px,#eeefa4 0 24px,#f6f2b2 0 26px,#0f3057 0 28px,#0e2c54 0 30px,#0d2a51 0 32px,#0f3258 0 34px,#f6f2b2 0 36px,#bbda42 0 38px,#d4e471 0 40px,#0d2b52 0 42px,#10345b 0 44px,#0b254a 0 46px,#11375d 0 48px,#11395e 0 50px,#0d2b53 0 52px,#93c93d 0 54px,#dee885 0 56px,#10365b 0 58px,#0e2e55 0 60px,#123a5f 0 62px,#acd437 0 64px,#f6f2b2 0 66px,#091e40 0 68px,#10345a 0 70px,#0e2d55 0 72px,#10345a 0 74px,#0e2f56 0 76px,#0c264b 0 78px,#409b5d 0 80px,#d1e36b 0 82px,#46a159 0 84px,#4da753 0 86px,#4ca753 0 88px,#bada3f 0 90px,#123c60 0 92px,#0c284e 0 94px,#0e2d55 0 96px,#47a258 0 98px,#3c9861 0 100px,#8dc73f 0 102px,#b1d636 0 104px,#11395e 0 106px,#10355b 0 108px,#f4f1af 0 110px,#e6eb94 0 112px,#0f3057 0 114px,#174e6c 0 116px,#0c274c 0 118px,#174f6c 0 120px,#0e2c54 0 122px,#0d294f 0 124px,#0f2f56 0 126px,#16496a 0 128px,#c0dc4b 0 130px,#c7df58 0 132px,#b8d93c 0 134px,#9fcf3a 0 136px,#0c284e 0 138px,#10355b 0 140px,#0d2a51 0 142px,#081a3a 0 144px,#f6f2b2 0 146px,#3e9a5f 0 148px,#6ab847 0 150px,#d6e576 0 152px,#184f6d 0 154px,#0d2b53 0 156px,#11395e 0 158px,#3a9663 0 160px,#f6f2b2 0 162px,#eeeea2 0 164px,#439f5b 0 166px,#123b60 0 168px,#0e2d54 0 170px,#123a5f 0 172px)"></i><i style="top:50px;background:linear-gradient(90deg,#0b2449 0 2px,#0e2e56 0 4px,#11385e 0 6px,#164b6b 0 8px,#091f41 0 10px,#0c264b 0 12px,#1c6174 0 14px,#123a5f 0 16px,#11385e 0 18px,#133e62 0 20px,#144265 0 22px,#10355b 0 24px,#0c264c 0 26px,#0d2950 0 28px,#0e2c54 0 30px,#11375c 0 32px,#0a2042 0 34px,#10365c 0 36px,#0d2b52 0 38px,#0f3258 0 40px,#11385d 0 42px,#11385e 0 44px,#0d2a51 0 46px,#081a3a 0 48px,#11385d 0 50px,#11375c 0 52px,#0b2348 0 54px,#16496a 0 56px,#0f3157 0 58px,#0a2144 0 60px,#091e40 0 62px,#174b6b 0 64px,#144265 0 66px,#0a2144 0 68px,#0c274d 0 70px,#091e41 0 72px,#103359 0 74px,#091f42 0 76px,#11385d 0 78px,#10345b 0 80px,#123a5f 0 82px,#0c264c 0 84px,#134064 0 86px,#0d2950 0 88px,#18506d 0 90px,#154668 0 92px,#0a2043 0 96px,#0d2b52 0 98px,#144164 0 100px,#0e2c54 0 102px,#123b5f 0 104px,#081c3d 0 106px,#133e62 0 108px,#318e6a 0 110px,#091d3f 0 112px,#081a3a 0 116px,#103359 0 118px,#0a2044 0 120px,#0b2347 0 122px,#0c284f 0 124px,#091d3f 0 126px,#174d6c 0 128px,#0a2145 0 130px,#11385d 0 132px,#11395e 0 134px,#1d6374 0 136px,#081a3a 0 138px,#0d2b53 0 140px,#0a2043 0 142px,#11375c 0 144px,#0b2448 0 146px,#10335a 0 148px,#164b6b 0 150px,#10345a 0 152px,#091d3f 0 154px,#081a3a 0 156px,#0c264c 0 158px,#133e62 0 160px,#10355b 0 162px,#174d6c 0 164px,#0e2c54 0 166px,#123b60 0 168px,#081a3a 0 170px,#0d2a52 0 172px)"></i><i style="top:51px;background:linear-gradient(90deg,#091d3e 0 2px,#4aa555 0 4px,#bcdb44 0 6px,#55af4c 0 8px,#a2d03a 0 10px,#133f63 0 12px,#2a856f 0 14px,#227073 0 16px,#29816f 0 18px,#091f42 0 20px,#0d2a52 0 22px,#a1cf3a 0 24px,#f6f2b2 0 26px,#0b2449 0 28px,#123c60 0 30px,#0f3158 0 32px,#081b3c 0 34px,#0e2c54 0 36px,#9ccd3b 0 38px,#b6d838 0 40px,#1c6073 0 42px,#0b2347 0 44px,#164a6a 0 46px,#0c264b 0 48px,#bfdc4a 0 50px,#9bcd3b 0 52px,#6bb947 0 54px,#b2d736 0 56px,#11375d 0 58px,#10365c 0 60px,#0d2950 0 62px,#144366 0 64px,#e4eb91 0 66px,#0d2950 0 68px,#0b2449 0 70px,#081a3a 0 72px,#0d2a51 0 74px,#0c264c 0 76px,#0d2b53 0 78px,#dae77e 0 80px,#b1d636 0 82px,#94ca3d 0 84px,#9ece3b 0 86px,#8ec73e 0 88px,#96cb3c 0 90px,#081a3a 0 94px,#f6f2b2 0 98px,#87c440 0 100px,#cae05f 0 102px,#b5d836 0 104px,#091f41 0 106px,#0c274e 0 108px,#abd338 0 110px,#1c6174 0 112px,#11365c 0 114px,#0b2448 0 116px,#0c264c 0 118px,#0a2246 0 120px,#091e40 0 122px,#0c264b 0 124px,#081b3c 0 126px,#0b2549 0 128px,#4aa555 0 130px,#48a356 0 132px,#d0e36b 0 134px,#d5e473 0 136px,#0e2d55 0 138px,#11365c 0 140px,#0b254a 0 142px,#10345a 0 144px,#cfe269 0 146px,#d6e575 0 148px,#3d9960 0 150px,#95ca3d 0 152px,#0f3259 0 154px,#0c274d 0 156px,#d8e67a 0 158px,#7ec142 0 160px,#f6f2b2 0 162px,#7bbf43 0 164px,#d0e36a 0 166px,#0b2348 0 168px,#11385d 0 170px,#091d3e 0 172px)"></i><i style="top:52px;background:linear-gradient(90deg,#0e2e56 0 2px,#a7d239 0 4px,#349167 0 6px,#29816f 0 8px,#4aa555 0 10px,#11395e 0 12px,#349167 0 14px,#1a5870 0 16px,#349167 0 18px,#123d61 0 20px,#0f2f57 0 22px,#257871 0 24px,#257772 0 26px,#0d2951 0 28px,#10345a 0 30px,#103359 0 32px,#11385d 0 36px,#2d8a6d 0 38px,#1f6875 0 40px,#0d2b52 0 42px,#154567 0 44px,#0c284e 0 46px,#091e40 0 48px,#0d2a51 0 50px,#091e41 0 52px,#45a059 0 54px,#247572 0 56px,#0f3259 0 58px,#133d61 0 60px,#154568 0 62px,#1c5f73 0 64px,#267a71 0 66px,#0b254a 0 68px,#123a5f 0 70px,#081a3a 0 72px,#0b2347 0 74px,#0e2f56 0 76px,#0c274d 0 78px,#206c74 0 80px,#4ea952 0 82px,#318e69 0 84px,#2a826f 0 86px,#47a258 0 88px,#a9d338 0 90px,#0e2c54 0 92px,#0e2e56 0 94px,#0c274d 0 96px,#c8df5c 0 98px,#96cb3d 0 100px,#267a71 0 102px,#49a456 0 104px,#123c60 0 106px,#88c540 0 108px,#9ccd3b 0 110px,#0f3057 0 112px,#0c264c 0 114px,#0c274d 0 116px,#0e2c54 0 118px,#0f2f57 0 120px,#091d3f 0 122px,#0f3158 0 124px,#0b2449 0 126px,#0c284e 0 128px,#2c896e 0 130px,#288070 0 132px,#389464 0 134px,#338f68 0 136px,#7ec042 0 138px,#0d2950 0 140px,#0f2f56 0 142px,#19536e 0 144px,#0b2449 0 146px,#1c5e73 0 148px,#2b856e 0 150px,#429d5c 0 152px,#103359 0 154px,#0e2c54 0 156px,#0d2b53 0 158px,#0d2a51 0 160px,#2c896e 0 162px,#379365 0 164px,#e0e988 0 166px,#0c274c 0 168px,#0c274d 0 170px,#123d61 0 172px)"></i><i style="top:53px;background:linear-gradient(90deg,#0a2245 0 2px,#174e6c 0 4px,#174d6c 0 6px,#18536e 0 8px,#11375c 0 10px,#081b3b 0 12px,#174c6b 0 14px,#0d2a51 0 16px,#0b2449 0 18px,#11365c 0 20px,#0c264c 0 22px,#174c6b 0 24px,#10365c 0 26px,#0e2c54 0 28px,#0b2448 0 30px,#0e2d55 0 32px,#0e2c54 0 34px,#123c61 0 36px,#174e6c 0 38px,#11385d 0 40px,#184f6d 0 42px,#0d2950 0 44px,#081a3a 0 46px,#0a2042 0 48px,#0f3259 0 50px,#19546e 0 52px,#1a5870 0 54px,#0a2246 0 58px,#0b2347 0 60px,#0c274d 0 62px,#10365b 0 64px,#123c61 0 66px,#0e2d54 0 68px,#0a2144 0 70px,#0e2e56 0 72px,#0c284f 0 74px,#11395e 0 76px,#0e2d55 0 78px,#154568 0 80px,#134064 0 82px,#123d61 0 84px,#123b5f 0 86px,#134064 0 88px,#11385d 0 90px,#0b2347 0 92px,#0b2449 0 94px,#0c274d 0 96px,#10345a 0 98px,#16496a 0 100px,#10345a 0 102px,#123a5f 0 104px,#0d294f 0 106px,#154567 0 108px,#18506d 0 110px,#091d3e 0 112px,#0b2347 0 114px,#081a3a 0 116px,#0d2a52 0 118px,#0e2d55 0 120px,#0c264b 0 122px,#081a3a 0 124px,#0b2449 0 126px,#081c3d 0 128px,#0f3158 0 130px,#0d2a52 0 132px,#11365c 0 134px,#134064 0 136px,#081c3e 0 138px,#1d6475 0 140px,#0f2f57 0 142px,#091e40 0 144px,#16486a 0 146px,#123d61 0 148px,#164a6a 0 150px,#206c74 0 152px,#0d2a51 0 154px,#091d3e 0 156px,#123a5f 0 158px,#0d2950 0 160px,#144467 0 162px,#154769 0 164px,#0d294f 0 166px,#0a2145 0 168px,#0b2448 0 170px,#0d2b53 0 172px)"></i><i style="top:54px;background:linear-gradient(90deg,#0d2a51 0 2px,#4faa51 0 4px,#409c5d 0 6px,#a3d039 0 8px,#0c274c 0 10px,#0c264b 0 12px,#399563 0 14px,#8bc63f 0 16px,#b4d736 0 18px,#10345a 0 20px,#4fa951 0 22px,#237273 0 24px,#6fba46 0 26px,#52ac4f 0 28px,#091e40 0 30px,#11395e 0 32px,#10355b 0 34px,#0f2f56 0 36px,#2c886e 0 38px,#369266 0 40px,#0e2d55 0 42px,#0b254a 0 44px,#11395e 0 46px,#133d62 0 48px,#091e40 0 50px,#a9d338 0 52px,#54ae4d 0 54px,#dee884 0 56px,#0d2950 0 58px,#103359 0 60px,#0c264b 0 64px,#257772 0 66px,#0d2b52 0 68px,#091f41 0 70px,#0a2043 0 72px,#081a3a 0 74px,#144164 0 76px,#0c284f 0 78px,#60b449 0 80px,#237373 0 82px,#369266 0 84px,#1f6875 0 86px,#439e5b 0 88px,#2d8a6d 0 90px,#0f2f56 0 92px,#081a3a 0 94px,#e4ea8f 0 96px,#80c142 0 98px,#2a846f 0 100px,#2e8b6c 0 102px,#0a2246 0 104px,#0d2b53 0 106px,#0a2043 0 108px,#1d6475 0 110px,#277d70 0 112px,#0b2448 0 114px,#0b2347 0 116px,#0c284f 0 120px,#091d3e 0 122px,#0c284e 0 124px,#11395e 0 126px,#091f41 0 128px,#2c886e 0 130px,#257871 0 132px,#29826f 0 134px,#429d5c 0 136px,#54ae4d 0 138px,#0b2347 0 140px,#0c284f 0 142px,#081a3a 0 144px,#49a456 0 146px,#29816f 0 148px,#50aa50 0 150px,#0c284f 0 152px,#11385d 0 154px,#10345a 0 156px,#123c61 0 158px,#308d6a 0 160px,#f6f2b2 0 162px,#257772 0 164px,#389464 0 166px,#081a3a 0 168px,#0f3057 0 170px,#0c274d 0 172px)"></i><i style="top:55px;background:linear-gradient(90deg,#b6d838 0 2px,#49a456 0 4px,#f3f0ac 0 6px,#51ab4f 0 8px,#f6f2b2 0 10px,#081a3a 0 12px,#aed537 0 14px,#b5d837 0 16px,#f6f2b2 0 18px,#0d2a51 0 20px,#dee885 0 22px,#d0e36a 0 24px,#54ae4d 0 26px,#11375d 0 28px,#0c284f 0 30px,#081a3a 0 32px,#0b2347 0 34px,#0b254a 0 36px,#339068 0 38px,#d5e574 0 40px,#0e2f56 0 42px,#0a2245 0 44px,#0c264b 0 46px,#0c264c 0 48px,#0d2950 0 50px,#95ca3d 0 52px,#216d74 0 54px,#4fa951 0 56px,#389464 0 58px,#0a2145 0 60px,#0d2b53 0 62px,#081b3c 0 64px,#c0dc4b 0 66px,#0c284f 0 68px,#0f3057 0 70px,#154769 0 72px,#0c264b 0 74px,#103359 0 76px,#081c3d 0 78px,#0b2347 0 80px,#89c540 0 82px,#f6f2b2 0 86px,#cae05f 0 88px,#99cc3c 0 90px,#f6f2b2 0 92px,#0a2246 0 96px,#081c3d 0 98px,#79be43 0 100px,#f6f2b2 0 102px,#dbe77e 0 104px,#081c3d 0 106px,#0d2b52 0 108px,#227173 0 110px,#081a3a 0 114px,#0f2f57 0 116px,#0d2a52 0 118px,#0a2246 0 120px,#091d3e 0 122px,#081a3a 0 124px,#091e40 0 126px,#0c284e 0 128px,#0c264b 0 130px,#f6f2b2 0 134px,#2f8c6c 0 136px,#0a2144 0 138px,#0a2043 0 140px,#164a6a 0 142px,#081c3d 0 144px,#edeea2 0 146px,#f6f2b2 0 148px,#a8d238 0 150px,#b7d83a 0 152px,#0a2043 0 154px,#0b2449 0 156px,#091e40 0 158px,#419c5d 0 160px,#c2dd4f 0 162px,#f6f2b2 0 164px,#7dc042 0 166px,#0d2950 0 168px,#19546e 0 170px,#0d2950 0 172px)"></i><i style="top:56px;background:linear-gradient(90deg,#0a2043 0 2px,#123b60 0 4px,#164a6a 0 6px,#18506d 0 8px,#123a5f 0 10px,#081b3b 0 12px,#123d61 0 14px,#123c61 0 16px,#081c3e 0 18px,#0d294f 0 20px,#103359 0 22px,#123d61 0 24px,#1c6073 0 26px,#0c274d 0 28px,#0f3057 0 30px,#10345a 0 32px,#0b2448 0 34px,#081a3a 0 36px,#174c6b 0 38px,#103359 0 40px,#0c274d 0 42px,#29826f 0 44px,#0a2245 0 46px,#1d6375 0 48px,#091e40 0 50px,#0d2a51 0 52px,#0e2c54 0 54px,#1d6374 0 56px,#10335a 0 58px,#123c60 0 60px,#0a2245 0 62px,#0f3057 0 64px,#0f3158 0 66px,#0e2c54 0 68px,#0c264c 0 70px,#081c3e 0 72px,#0b2449 0 74px,#081a3a 0 76px,#0e2f56 0 78px,#144366 0 80px,#247572 0 82px,#10345a 0 84px,#0f2f57 0 86px,#0b2449 0 88px,#11385d 0 90px,#18526e 0 92px,#0d2b53 0 94px,#081a3a 0 96px,#11365c 0 98px,#123b60 0 100px,#1b5e72 0 102px,#0e2d55 0 104px,#123b5f 0 106px,#0c274d 0 108px,#11385d 0 110px,#174d6c 0 112px,#0f3259 0 114px,#091d3f 0 116px,#0f3057 0 118px,#0c264b 0 120px,#123b60 0 122px,#0c284e 0 124px,#0b2449 0 126px,#10355b 0 128px,#123c61 0 130px,#0d2b53 0 132px,#164a6a 0 134px,#0f3259 0 136px,#0b2347 0 138px,#081c3d 0 140px,#0d2950 0 142px,#154668 0 144px,#123b60 0 146px,#19546e 0 148px,#11385e 0 150px,#0c284e 0 152px,#081a3a 0 154px,#133f63 0 156px,#18506d 0 158px,#10345a 0 160px,#10365c 0 162px,#10355b 0 164px,#11395e 0 166px,#1b5a71 0 168px,#0f3259 0 170px,#0a2043 0 172px)"></i><i style="top:57px;background:linear-gradient(90deg,#081c3e 0 2px,#257772 0 4px,#287e70 0 6px,#247572 0 8px,#11385d 0 10px,#11365c 0 12px,#267b71 0 14px,#1b5d72 0 16px,#287e70 0 18px,#0c264b 0 20px,#10355b 0 22px,#277c71 0 24px,#318e6a 0 26px,#0a2145 0 28px,#0e2c54 0 30px,#123b60 0 32px,#0b2348 0 34px,#11375c 0 36px,#247572 0 38px,#227173 0 40px,#3d9960 0 42px,#0a2245 0 44px,#0b2348 0 46px,#0a2246 0 48px,#0d2b52 0 50px,#0e2c54 0 52px,#419d5c 0 54px,#338f68 0 56px,#081a3a 0 58px,#0f3158 0 60px,#0b2348 0 62px,#081c3d 0 64px,#1b5a71 0 66px,#091e3f 0 68px,#0a2042 0 70px,#0b2449 0 72px,#1d6375 0 74px,#0e2d55 0 76px,#0a2144 0 78px,#267a71 0 80px,#3d9960 0 82px,#1b5d72 0 84px,#89c540 0 86px,#1d6475 0 88px,#3f9a5e 0 90px,#0a2144 0 92px,#0d2a51 0 94px,#081a3a 0 96px,#267b71 0 98px,#87c440 0 100px,#54ae4d 0 102px,#67b747 0 104px,#0b2449 0 106px,#1f6975 0 108px,#277c70 0 110px,#1a5970 0 112px,#0a2246 0 114px,#0a2043 0 116px,#103359 0 118px,#081a3a 0 120px,#0c284e 0 122px,#0b2449 0 124px,#0a2145 0 126px,#0b254a 0 128px,#0e2c54 0 130px,#2a846f 0 132px,#18516d 0 134px,#287f70 0 136px,#154467 0 138px,#0a2043 0 140px,#0d2951 0 142px,#0f3057 0 144px,#2a856f 0 146px,#267971 0 148px,#1b5d72 0 150px,#277d70 0 152px,#0b2449 0 154px,#0b254a 0 156px,#0d2b52 0 158px,#2a846f 0 160px,#19536e 0 162px,#1f6875 0 164px,#7abf43 0 166px,#0c284f 0 168px,#0b2449 0 170px,#10335a 0 172px)"></i><i style="top:58px;background:linear-gradient(90deg,#3a9662 0 2px,#f6f2b2 0 4px,#409b5e 0 6px,#c4de52 0 8px,#369266 0 10px,#091f42 0 12px,#4aa555 0 14px,#b6d839 0 16px,#dde883 0 18px,#0a2145 0 20px,#71bb45 0 22px,#54ae4d 0 24px,#3c9860 0 26px,#123a5f 0 28px,#10345b 0 30px,#133f63 0 32px,#081a3a 0 34px,#0f3057 0 36px,#cce163 0 38px,#4fa951 0 40px,#d3e470 0 42px,#0c274d 0 44px,#16496a 0 46px,#0d2951 0 48px,#0e2f56 0 50px,#70bb45 0 52px,#339068 0 54px,#aad338 0 56px,#0d2a51 0 58px,#16486a 0 60px,#0d2b52 0 62px,#75bd44 0 64px,#f2f0aa 0 66px,#0a2043 0 68px,#1e6775 0 70px,#0b2347 0 72px,#0a2144 0 74px,#133f63 0 76px,#1b5c72 0 78px,#46a158 0 80px,#2f8c6b 0 82px,#2c896e 0 84px,#2c876e 0 86px,#1b5c72 0 88px,#318d6a 0 90px,#bcdb44 0 92px,#0a2042 0 94px,#0d2a51 0 96px,#0d2951 0 98px,#b1d636 0 100px,#e8ec98 0 102px,#0b2449 0 104px,#133e62 0 106px,#0c284f 0 108px,#339068 0 110px,#0a2246 0 112px,#0f3057 0 114px,#11375d 0 116px,#0b2347 0 118px,#081a3a 0 120px,#0a2246 0 122px,#0e2e56 0 124px,#0d2950 0 126px,#1a5770 0 128px,#0b2347 0 130px,#b8d93d 0 132px,#2a826f 0 134px,#227173 0 136px,#081a3a 0 138px,#0b2448 0 140px,#0b2449 0 142px,#123b60 0 144px,#e5eb92 0 146px,#64b648 0 148px,#4fa951 0 150px,#c0dc4b 0 152px,#2b876e 0 154px,#0a2246 0 156px,#0b2449 0 158px,#308c6b 0 160px,#227073 0 162px,#1c6174 0 164px,#439e5b 0 166px,#0d2950 0 170px,#11395e 0 172px)"></i><i style="top:59px;background:linear-gradient(90deg,#0a2043 0 2px,#144164 0 4px,#0e2d55 0 6px,#19566f 0 8px,#0f3259 0 10px,#0d2b53 0 12px,#10345a 0 14px,#133d61 0 16px,#0d2b53 0 18px,#0a2145 0 20px,#123c60 0 22px,#1a5870 0 24px,#11395e 0 26px,#091f42 0 28px,#081a3a 0 30px,#0a2246 0 32px,#0d2950 0 34px,#0c284e 0 36px,#11395e 0 38px,#0c264b 0 40px,#154668 0 42px,#0b2449 0 44px,#0a2144 0 46px,#0a2246 0 48px,#0c264c 0 50px,#123a5f 0 52px,#0f3057 0 54px,#081a3a 0 56px,#0f3158 0 58px,#0a2246 0 60px,#123a5f 0 62px,#0f2f57 0 64px,#133f63 0 66px,#11375d 0 68px,#0b2347 0 70px,#0f2f56 0 72px,#0f3259 0 74px,#0b2449 0 76px,#11395e 0 78px,#10345b 0 80px,#10345a 0 82px,#0d2950 0 84px,#123d61 0 86px,#134063 0 88px,#0f3158 0 90px,#154668 0 92px,#081a3b 0 94px,#0d2b52 0 96px,#1a5870 0 98px,#154668 0 100px,#144164 0 102px,#144165 0 104px,#184f6d 0 106px,#11365c 0 108px,#154568 0 110px,#0e2c54 0 112px,#0a2042 0 114px,#081a3a 0 116px,#0d294f 0 118px,#0b2347 0 120px,#0a2144 0 122px,#091e40 0 124px,#081a3a 0 126px,#0d2b53 0 128px,#133e62 0 130px,#10355b 0 132px,#144265 0 134px,#133f63 0 136px,#10345a 0 138px,#0a2144 0 140px,#0b2449 0 142px,#0e2c54 0 144px,#0c274c 0 146px,#0f3259 0 148px,#0c264c 0 150px,#081a3a 0 152px,#0d2950 0 156px,#0f3057 0 158px,#134064 0 160px,#11375c 0 162px,#10355b 0 164px,#0c274d 0 166px,#0c284e 0 168px,#0f3259 0 170px,#0c274e 0 172px)"></i><i style="top:60px;background:linear-gradient(90deg,#16486a 0 2px,#acd437 0 4px,#2d8a6d 0 6px,#2c886e 0 8px,#0a2246 0 10px,#0c264b 0 12px,#1e6675 0 14px,#4ea852 0 16px,#77be44 0 18px,#359167 0 20px,#9ece3b 0 22px,#257772 0 24px,#359166 0 26px,#257772 0 28px,#0e2d55 0 30px,#0e2c54 0 32px,#0f3158 0 34px,#0d2950 0 36px,#318d6a 0 38px,#70ba45 0 40px,#0b2347 0 42px,#154567 0 44px,#0d2a51 0 46px,#0b254a 0 48px,#134064 0 50px,#1d6575 0 52px,#3d9960 0 54px,#287f70 0 56px,#0e2f56 0 58px,#0a2246 0 60px,#0d2b53 0 62px,#277d70 0 64px,#237273 0 66px,#0c264c 0 68px,#081a3b 0 70px,#0e2c54 0 72px,#0b2347 0 74px,#0e2c54 0 76px,#449f5a 0 78px,#2a846f 0 80px,#399563 0 82px,#328f69 0 84px,#2b876e 0 86px,#174b6b 0 88px,#18506d 0 90px,#0d2b52 0 92px,#0f3259 0 94px,#123a5f 0 96px,#0e2d55 0 98px,#51ac4f 0 100px,#85c440 0 102px,#2c886e 0 104px,#154568 0 106px,#11375d 0 108px,#d0e36b 0 110px,#0b254a 0 112px,#10345a 0 114px,#0c284e 0 116px,#134063 0 118px,#0e2e56 0 120px,#081c3d 0 122px,#123a5f 0 124px,#0f3259 0 126px,#0e2e56 0 128px,#1c5f73 0 130px,#237273 0 132px,#f6f2b2 0 134px,#1a5971 0 136px,#257772 0 138px,#091e3f 0 140px,#0d2a51 0 142px,#0c264c 0 144px,#16496a 0 146px,#19556f 0 148px,#45a059 0 150px,#103359 0 152px,#091f42 0 154px,#2a836f 0 156px,#0c274d 0 158px,#c4de54 0 160px,#19546f 0 162px,#45a059 0 164px,#2e8b6c 0 166px,#0f3158 0 168px,#0e2f56 0 170px,#11385d 0 172px)"></i><i style="top:61px;background:linear-gradient(90deg,#f6f2b2 0 2px,#d8e679 0 4px,#4ca753 0 6px,#afd537 0 8px,#328f69 0 10px,#7bbf43 0 12px,#c9e05c 0 14px,#b2d636 0 16px,#ecee9e 0 18px,#0b2347 0 20px,#c9e05d 0 22px,#f6f2b2 0 24px,#82c241 0 26px,#1c6073 0 28px,#0e2d55 0 32px,#0f3158 0 34px,#1b5c72 0 36px,#0b2549 0 38px,#afd537 0 40px,#80c142 0 42px,#0c284f 0 44px,#081a3a 0 46px,#0a2043 0 48px,#081b3c 0 50px,#144366 0 52px,#439e5b 0 54px,#60b449 0 56px,#11385d 0 58px,#10335a 0 60px,#0c264b 0 62px,#2c886e 0 64px,#55af4c 0 66px,#0f3158 0 68px,#123a5f 0 70px,#133e62 0 72px,#0e2c54 0 74px,#081a3a 0 76px,#123a5f 0 78px,#89c540 0 80px,#9fcf3a 0 82px,#95ca3d 0 84px,#4faa51 0 86px,#b6d838 0 88px,#c2dd4f 0 90px,#f6f2b2 0 92px,#134063 0 94px,#0e2c54 0 96px,#98cb3c 0 98px,#5eb34a 0 100px,#f6f2b2 0 102px,#b0d537 0 104px,#29826f 0 106px,#0a2144 0 108px,#64b648 0 110px,#144265 0 112px,#0b2347 0 114px,#123b60 0 116px,#0a2145 0 118px,#1e6675 0 120px,#133d61 0 122px,#0e2e56 0 124px,#0f3158 0 126px,#0b254a 0 128px,#0e2c54 0 130px,#e9ec99 0 132px,#80c142 0 134px,#73bc45 0 136px,#0c274d 0 138px,#0b2347 0 140px,#0b2449 0 142px,#133e62 0 144px,#f1f0a8 0 146px,#8bc63f 0 148px,#2b866e 0 150px,#237273 0 152px,#0c274e 0 154px,#0f3259 0 156px,#0b2549 0 158px,#bada41 0 160px,#f6f2b2 0 162px,#95ca3d 0 164px,#c7df58 0 166px,#0b254a 0 168px,#0e2d55 0 172px)"></i><i style="top:62px;background:linear-gradient(90deg,#11385d 0 2px,#10345a 0 4px,#144265 0 6px,#389464 0 8px,#0c274e 0 10px,#0c284f 0 12px,#133e62 0 14px,#11365c 0 16px,#164a6a 0 18px,#10345a 0 20px,#144265 0 22px,#0d2950 0 24px,#1b5c72 0 26px,#0b254b 0 28px,#11375d 0 30px,#0c274d 0 32px,#0d2b52 0 34px,#0e2d54 0 36px,#133f63 0 38px,#154568 0 40px,#0e2d54 0 42px,#0d2b52 0 44px,#10345a 0 46px,#0c264b 0 48px,#3b9762 0 50px,#1b5c72 0 52px,#154668 0 54px,#174c6b 0 56px,#091e3f 0 58px,#0c274d 0 60px,#237273 0 62px,#0e2d55 0 64px,#19556f 0 66px,#081c3d 0 68px,#103359 0 70px,#0d2951 0 72px,#091e40 0 74px,#091e41 0 76px,#29816f 0 78px,#16496a 0 80px,#0d2a51 0 82px,#133d61 0 84px,#1d6475 0 86px,#10365c 0 88px,#16486a 0 90px,#0e2e55 0 92px,#11375d 0 94px,#091d3e 0 96px,#247572 0 98px,#154669 0 100px,#19536e 0 102px,#11365c 0 104px,#0d2b53 0 106px,#16496a 0 108px,#174c6b 0 110px,#091e40 0 112px,#0f2f56 0 114px,#0a2145 0 116px,#0f3158 0 118px,#081a3a 0 120px,#0d2b52 0 122px,#11385d 0 124px,#081a3a 0 126px,#091f42 0 128px,#11385d 0 130px,#123a5f 0 132px,#174e6c 0 134px,#18506d 0 136px,#10345a 0 138px,#0b254a 0 140px,#0d2a51 0 144px,#144265 0 146px,#19556f 0 148px,#0f3258 0 150px,#0b2549 0 152px,#0b2347 0 154px,#0d2951 0 156px,#081b3b 0 158px,#154568 0 160px,#50ab50 0 162px,#0f3259 0 164px,#11365c 0 166px,#081c3d 0 168px,#0e2e55 0 170px,#081c3d 0 172px)"></i><i style="top:63px;background:linear-gradient(90deg,#123b60 0 2px,#237372 0 4px,#1a5770 0 6px,#154467 0 8px,#154668 0 10px,#154567 0 12px,#216d74 0 14px,#174c6b 0 16px,#11375d 0 18px,#174d6c 0 20px,#18516d 0 22px,#154668 0 24px,#123c60 0 26px,#144366 0 28px,#18506d 0 30px,#154567 0 32px,#174d6c 0 34px,#1c6073 0 36px,#1c6174 0 38px,#1b5a71 0 40px,#16496a 0 42px,#0e2c54 0 44px,#0c274d 0 46px,#123c61 0 48px,#154769 0 50px,#164a6a 0 52px,#174f6c 0 54px,#0d2b53 0 56px,#154567 0 58px,#19566f 0 60px,#0d2a51 0 62px,#144265 0 64px,#133e62 0 66px,#164b6b 0 68px,#0d2950 0 70px,#0e2d55 0 72px,#1d6575 0 74px,#19546e 0 76px,#174d6c 0 78px,#19546f 0 80px,#71bb45 0 82px,#16486a 0 84px,#1f6975 0 86px,#19536e 0 88px,#154769 0 90px,#164b6b 0 92px,#123b5f 0 94px,#133e62 0 96px,#10345a 0 98px,#2c876e 0 100px,#11375c 0 102px,#16486a 0 104px,#0d2b53 0 106px,#164a6a 0 108px,#0d2a51 0 110px,#133f63 0 112px,#144164 0 114px,#0f3259 0 116px,#123d61 0 118px,#11395e 0 120px,#144467 0 122px,#123b60 0 124px,#11365c 0 126px,#184f6d 0 128px,#154467 0 130px,#19556f 0 132px,#18506d 0 134px,#154567 0 136px,#11375c 0 138px,#154669 0 140px,#0b254a 0 142px,#10365b 0 144px,#19546e 0 146px,#133f63 0 148px,#144366 0 150px,#174e6c 0 152px,#10365c 0 154px,#1a5870 0 156px,#154568 0 158px,#227073 0 160px,#174c6b 0 162px,#1d6475 0 164px,#1c6274 0 166px,#1c6073 0 168px,#10345a 0 170px,#0f3057 0 172px)"></i><i style="top:64px;background:linear-gradient(90deg,#1a5770 0 2px,#237273 0 4px,#18526e 0 6px,#154567 0 8px,#0a2043 0 10px,#174d6c 0 12px,#164a6a 0 14px,#1d6274 0 16px,#133f63 0 18px,#c7df59 0 20px,#164b6b 0 22px,#1b5c72 0 24px,#174c6b 0 26px,#144165 0 28px,#16496a 0 30px,#11395e 0 32px,#154769 0 34px,#144265 0 36px,#134063 0 38px,#18506d 0 40px,#237273 0 42px,#154669 0 44px,#19566f 0 48px,#0e2f56 0 50px,#1d6475 0 52px,#1b5c72 0 54px,#1d6475 0 56px,#174e6c 0 58px,#0e2f56 0 60px,#174e6c 0 64px,#18526e 0 66px,#11375d 0 68px,#1e6675 0 70px,#10345a 0 72px,#287f70 0 74px,#0e2e55 0 76px,#0c274d 0 78px,#19536e 0 80px,#0f3057 0 82px,#1d6375 0 84px,#206c74 0 86px,#257772 0 88px,#164a6b 0 90px,#164a6a 0 92px,#184f6d 0 94px,#48a356 0 96px,#18516d 0 98px,#174d6c 0 100px,#18526e 0 102px,#19556f 0 104px,#1b5d72 0 106px,#19546e 0 108px,#184f6d 0 110px,#216f73 0 112px,#144467 0 114px,#1a5870 0 116px,#0d2a52 0 118px,#154769 0 120px,#154467 0 122px,#134063 0 124px,#123c60 0 126px,#19546e 0 128px,#18516d 0 130px,#144265 0 134px,#154769 0 136px,#1a5970 0 138px,#2b856e 0 140px,#184f6d 0 142px,#10345a 0 144px,#184f6d 0 146px,#174e6c 0 148px,#1b5b71 0 150px,#133e62 0 152px,#174e6c 0 154px,#1b5b71 0 156px,#0d294f 0 158px,#18516d 0 160px,#1a5770 0 162px,#174f6c 0 164px,#174b6b 0 166px,#123b60 0 168px,#174c6b 0 170px,#11375c 0 172px)"></i><i style="top:65px;background:linear-gradient(90deg,#133d62 0 2px,#1c6174 0 4px,#174f6c 0 6px,#19546e 0 8px,#154668 0 10px,#1a5870 0 12px,#0d2950 0 14px,#19556f 0 16px,#1a5770 0 18px,#0e2c54 0 20px,#18516d 0 22px,#144466 0 24px,#1d6374 0 26px,#164b6b 0 28px,#0f3158 0 30px,#123d61 0 32px,#123a5f 0 34px,#123b60 0 36px,#16496a 0 38px,#0b254a 0 40px,#11375d 0 42px,#144266 0 44px,#0d2950 0 46px,#0e2c54 0 48px,#0f3057 0 50px,#1a5a71 0 52px,#18516d 0 54px,#174c6b 0 56px,#0b254a 0 58px,#18506d 0 60px,#0e2e55 0 62px,#1b5d72 0 64px,#174d6c 0 66px,#154668 0 68px,#18516d 0 70px,#1a5970 0 72px,#11395e 0 74px,#123c60 0 76px,#123b60 0 78px,#0c284f 0 80px,#1b5b71 0 82px,#174c6b 0 84px,#1a5870 0 86px,#1a5770 0 88px,#1f6a74 0 90px,#134063 0 92px,#1a5770 0 94px,#1e6875 0 96px,#216e74 0 98px,#174e6c 0 100px,#11395e 0 102px,#257871 0 104px,#0d2951 0 106px,#144265 0 108px,#1f6975 0 110px,#154668 0 112px,#174d6c 0 114px,#144164 0 116px,#123a5f 0 118px,#0e2d55 0 120px,#19556f 0 122px,#133e62 0 124px,#144467 0 126px,#1c5f73 0 128px,#154568 0 130px,#133f63 0 132px,#216d74 0 134px,#1a5870 0 136px,#9ece3b 0 138px,#134063 0 140px,#174c6b 0 142px,#1b5a71 0 144px,#1e6775 0 146px,#11395e 0 148px,#154568 0 152px,#19536e 0 154px,#11385d 0 156px,#133d61 0 158px,#1c5e73 0 160px,#184f6d 0 162px,#1b5c72 0 164px,#174e6c 0 166px,#174d6c 0 168px,#11395e 0 170px,#10365b 0 172px)"></i><i style="top:66px;background:linear-gradient(90deg,#1a5870 0 2px,#216e74 0 4px,#174e6c 0 6px,#19556f 0 8px,#144265 0 10px,#18516d 0 12px,#2b856e 0 14px,#18506d 0 16px,#1d6575 0 18px,#10345b 0 20px,#154769 0 22px,#1c5e73 0 24px,#206c74 0 26px,#3f9b5e 0 28px,#1f6a75 0 30px,#16486a 0 32px,#174d6c 0 34px,#19546f 0 36px,#2b876e 0 38px,#237273 0 40px,#144265 0 42px,#1f6a75 0 44px,#1a5a71 0 46px,#174d6c 0 48px,#10355b 0 50px,#154668 0 52px,#1d6575 0 54px,#216f73 0 56px,#11395e 0 58px,#174c6b 0 60px,#1a5870 0 62px,#227173 0 64px,#257772 0 66px,#154769 0 68px,#19556f 0 70px,#164a6b 0 72px,#154567 0 74px,#8bc63f 0 76px,#1a5970 0 78px,#206b74 0 80px,#1c6174 0 82px,#174c6b 0 84px,#154769 0 86px,#184f6d 0 88px,#1c6274 0 90px,#144366 0 92px,#1c6073 0 94px,#1f6a75 0 96px,#154568 0 98px,#227173 0 100px,#29826f 0 102px,#18526e 0 104px,#133d62 0 106px,#1c5f73 0 108px,#1b5c72 0 110px,#1d6475 0 112px,#144366 0 114px,#16496a 0 116px,#0d2950 0 118px,#11375d 0 120px,#164a6b 0 122px,#154668 0 124px,#10355b 0 126px,#174c6b 0 128px,#1c6174 0 130px,#257871 0 132px,#1d6475 0 134px,#174f6c 0 136px,#174d6c 0 138px,#1b5b71 0 140px,#123b60 0 142px,#154769 0 144px,#1b5c72 0 146px,#237372 0 148px,#133f63 0 150px,#4ca753 0 152px,#174c6b 0 154px,#174d6c 0 156px,#1a5770 0 158px,#247572 0 160px,#164a6a 0 162px,#154568 0 164px,#18526e 0 166px,#16486a 0 168px,#19566f 0 170px,#18536e 0 172px)"></i><i style="top:67px;background:linear-gradient(90deg,#18526e 0 2px,#1c6174 0 4px,#1d6374 0 6px,#80c142 0 8px,#18506d 0 10px,#247572 0 12px,#164b6b 0 14px,#1d6375 0 16px,#144466 0 18px,#133e62 0 20px,#1d6274 0 22px,#154769 0 24px,#16486a 0 26px,#123c60 0 28px,#1a5770 0 30px,#174f6c 0 32px,#123c60 0 34px,#1d6575 0 36px,#0f3258 0 38px,#1d6475 0 40px,#16486a 0 42px,#134063 0 44px,#133f63 0 46px,#174c6b 0 48px,#144366 0 50px,#164b6b 0 52px,#154769 0 54px,#123c61 0 56px,#123c60 0 58px,#174f6c 0 60px,#154568 0 62px,#1a5870 0 64px,#134064 0 66px,#0f3057 0 68px,#144265 0 70px,#11395e 0 72px,#18506d 0 74px,#144366 0 76px,#154769 0 78px,#144466 0 80px,#1a5770 0 82px,#19556f 0 84px,#16496a 0 86px,#134063 0 88px,#144366 0 90px,#154769 0 92px,#19546e 0 94px,#19566f 0 96px,#18516d 0 98px,#1c6174 0 100px,#144165 0 102px,#0e2d55 0 104px,#174c6b 0 106px,#1c6073 0 108px,#16496a 0 110px,#133e62 0 112px,#164b6b 0 114px,#174c6b 0 116px,#134063 0 118px,#164a6a 0 120px,#0f3057 0 122px,#0f3158 0 124px,#0e2c54 0 126px,#1b5e72 0 128px,#1a5770 0 130px,#123c61 0 132px,#288070 0 134px,#144366 0 136px,#154769 0 138px,#16496a 0 140px,#154467 0 142px,#389464 0 144px,#174f6c 0 146px,#18526e 0 148px,#19536e 0 150px,#174f6c 0 152px,#1b5d72 0 154px,#154669 0 156px,#0f3259 0 158px,#1d6274 0 160px,#18506d 0 162px,#184f6d 0 164px,#18526e 0 166px,#1d6375 0 168px,#1a5971 0 170px,#0d2b52 0 172px)"></i><i style="top:68px;background:linear-gradient(90deg,#1b5b71 0 2px,#133e62 0 4px,#1b5e72 0 6px,#0f3259 0 8px,#154669 0 10px,#0d2950 0 12px,#349167 0 14px,#144366 0 16px,#0d2950 0 18px,#2a846f 0 20px,#174b6b 0 22px,#123b60 0 26px,#0c274d 0 28px,#0c264c 0 30px,#0c264b 0 32px,#0b254a 0 34px,#0d2b53 0 36px,#18516d 0 38px,#154467 0 40px,#133e62 0 42px,#0c274d 0 44px,#0d2b53 0 46px,#11375c 0 48px,#11365c 0 50px,#10355b 0 52px,#174c6b 0 54px,#11395e 0 56px,#0c284e 0 58px,#134064 0 60px,#123b60 0 62px,#0f3158 0 64px,#144265 0 66px,#154467 0 68px,#123a5f 0 70px,#154568 0 72px,#11385d 0 74px,#11375d 0 76px,#0c284f 0 78px,#123b60 0 80px,#0f3259 0 82px,#134064 0 84px,#0f3157 0 86px,#277b71 0 88px,#174c6b 0 90px,#144467 0 92px,#0f2f56 0 94px,#0c264c 0 96px,#19536e 0 98px,#123c60 0 100px,#133f63 0 102px,#144466 0 104px,#0f3057 0 106px,#0b2449 0 108px,#10345a 0 110px,#123b5f 0 112px,#0c274d 0 114px,#0a2246 0 116px,#10365c 0 118px,#0d2a51 0 120px,#0c274d 0 122px,#10355b 0 124px,#0c264c 0 126px,#0b254a 0 128px,#091e40 0 130px,#16496a 0 132px,#0d2b53 0 134px,#11385d 0 136px,#123c61 0 138px,#0b2448 0 140px,#11375d 0 142px,#0e2c54 0 144px,#10345a 0 146px,#154769 0 148px,#16496a 0 150px,#103359 0 152px,#0e2e56 0 154px,#0c264c 0 156px,#0b2449 0 158px,#174e6c 0 160px,#18526e 0 162px,#133e62 0 164px,#0e2c54 0 166px,#18516d 0 168px,#0d2a51 0 170px,#0f3057 0 172px)"></i><i style="top:69px;background:linear-gradient(90deg,#19536e 0 2px,#123c60 0 4px,#1b5c72 0 6px,#144265 0 8px,#18506d 0 10px,#144366 0 12px,#123b60 0 14px,#1f6975 0 16px,#154769 0 18px,#227173 0 20px,#1a5a71 0 22px,#1b5b71 0 24px,#1b5d72 0 26px,#1a5970 0 28px,#164b6b 0 30px,#18516d 0 34px,#123c61 0 36px,#19566f 0 38px,#1c6174 0 40px,#1a5770 0 42px,#1d6274 0 44px,#1c5f73 0 46px,#1f6875 0 48px,#123d61 0 50px,#1b5d72 0 52px,#1b5b71 0 54px,#1d6274 0 56px,#16486a 0 58px,#164b6b 0 60px,#1b5c72 0 62px,#0f3259 0 64px,#154567 0 66px,#1a5770 0 68px,#0b2449 0 70px,#19556f 0 72px,#18516d 0 74px,#19546e 0 76px,#0f3258 0 78px,#1a5770 0 82px,#19546f 0 84px,#237273 0 86px,#216d74 0 88px,#237472 0 90px,#1d6374 0 92px,#154769 0 94px,#174c6b 0 96px,#237373 0 98px,#2a846f 0 100px,#1e6675 0 102px,#10365b 0 104px,#206d74 0 106px,#247572 0 108px,#1d6475 0 110px,#1b5d72 0 112px,#16486a 0 114px,#11395e 0 116px,#1f6875 0 118px,#1b5b71 0 120px,#1d6375 0 122px,#144266 0 124px,#174e6c 0 126px,#216f73 0 128px,#2b876e 0 130px,#19546e 0 132px,#154668 0 134px,#1c5e73 0 136px,#1f6975 0 138px,#144266 0 140px,#1c5e73 0 142px,#16486a 0 144px,#133f63 0 146px,#1c5f73 0 148px,#1e6675 0 150px,#19546e 0 152px,#144366 0 154px,#133f63 0 156px,#16486a 0 158px,#1f6a75 0 160px,#1a5971 0 162px,#216f73 0 164px,#1c5f73 0 166px,#1b5b71 0 168px,#1b5c72 0 170px,#16496a 0 172px)"></i><i style="top:70px;background:linear-gradient(90deg,#154769 0 2px,#18516d 0 4px,#206b74 0 6px,#19536e 0 8px,#1d6575 0 10px,#0c284f 0 12px,#18526e 0 14px,#8fc83e 0 16px,#0f2f56 0 18px,#0b254a 0 20px,#123b60 0 22px,#1c6073 0 24px,#16486a 0 26px,#133f63 0 28px,#0e2c54 0 30px,#16486a 0 32px,#18536e 0 34px,#174c6b 0 36px,#16486a 0 38px,#18516d 0 40px,#174d6c 0 42px,#174e6c 0 44px,#19566f 0 46px,#0e2e55 0 48px,#154568 0 50px,#48a357 0 52px,#18506d 0 54px,#419d5c 0 56px,#144366 0 58px,#1f6a74 0 60px,#16496a 0 62px,#133f63 0 64px,#3d9960 0 66px,#287e70 0 68px,#298070 0 70px,#18526e 0 72px,#1e6675 0 74px,#123b60 0 76px,#154769 0 78px,#174d6c 0 80px,#164b6b 0 82px,#206c74 0 84px,#18516d 0 86px,#174d6c 0 88px,#19546f 0 90px,#1b5d72 0 92px,#18526e 0 94px,#409c5d 0 96px,#174f6c 0 98px,#174c6b 0 100px,#133f63 0 102px,#144265 0 104px,#0e2d55 0 106px,#19536e 0 108px,#164a6a 0 110px,#18516d 0 112px,#133e62 0 114px,#11395e 0 116px,#123d61 0 118px,#0b2449 0 120px,#10345a 0 122px,#0d2b53 0 124px,#18506d 0 126px,#154669 0 128px,#0e2f56 0 130px,#184f6d 0 132px,#1d6475 0 134px,#267a71 0 136px,#18536e 0 138px,#16496a 0 140px,#19546e 0 142px,#0f3057 0 144px,#123b60 0 146px,#16486a 0 148px,#206b74 0 150px,#11385e 0 152px,#144266 0 154px,#123a5f 0 156px,#18506d 0 158px,#174c6b 0 160px,#174d6c 0 162px,#1a5870 0 164px,#133f63 0 166px,#11395e 0 168px,#19546f 0 170px,#18526e 0 172px)"></i><i style="top:71px;background:linear-gradient(90deg,#19556f 0 2px,#144265 0 4px,#134064 0 6px,#1d6475 0 8px,#19536e 0 10px,#1c6073 0 12px,#1b5d72 0 14px,#18516d 0 16px,#19536e 0 18px,#174b6b 0 20px,#10335a 0 22px,#154769 0 24px,#206c74 0 26px,#174e6c 0 28px,#19536e 0 30px,#11385d 0 32px,#123b60 0 34px,#154769 0 36px,#184f6d 0 38px,#1e6775 0 40px,#0d2b52 0 42px,#174d6c 0 44px,#0f3259 0 46px,#1e6675 0 48px,#174f6c 0 50px,#123c61 0 52px,#11385d 0 54px,#174c6b 0 56px,#134063 0 58px,#174e6c 0 60px,#123b60 0 62px,#10345a 0 64px,#144265 0 66px,#10345a 0 68px,#174e6c 0 70px,#144164 0 72px,#10365c 0 74px,#154769 0 76px,#257871 0 78px,#2a836f 0 80px,#133f63 0 82px,#154669 0 84px,#237273 0 86px,#154769 0 88px,#206a74 0 90px,#123c60 0 92px,#11395e 0 94px,#133e62 0 96px,#277d70 0 98px,#174b6b 0 100px,#1b5c72 0 102px,#174e6c 0 104px,#154769 0 106px,#1c6174 0 108px,#18506d 0 110px,#237273 0 112px,#1c6174 0 114px,#144366 0 116px,#1b5a71 0 118px,#1e6875 0 120px,#154668 0 122px,#123b5f 0 124px,#164a6a 0 126px,#0e2d55 0 128px,#16496a 0 130px,#1d6575 0 134px,#154467 0 136px,#1e6875 0 138px,#154467 0 140px,#0e2e56 0 142px,#18526e 0 144px,#19546e 0 146px,#1f6a75 0 148px,#133d62 0 150px,#0c284f 0 152px,#133d61 0 154px,#174e6c 0 156px,#154769 0 158px,#18506d 0 160px,#1b5a71 0 162px,#18536e 0 164px,#133f63 0 166px,#154769 0 168px,#1c6073 0 170px,#16486a 0 172px)"></i><i style="top:72px;background:linear-gradient(90deg,#1b5d72 0 2px,#1f6a74 0 4px,#134063 0 6px,#2a826f 0 8px,#1d6475 0 10px,#18516d 0 14px,#1c6073 0 16px,#1d6575 0 18px,#174d6c 0 20px,#1b5b71 0 22px,#206a74 0 24px,#206b74 0 26px,#19556f 0 28px,#174c6b 0 30px,#154467 0 32px,#11365c 0 34px,#1b5c72 0 36px,#1d6575 0 38px,#123a5f 0 40px,#1c6073 0 42px,#1d6374 0 44px,#11395e 0 46px,#174f6c 0 48px,#1a5770 0 50px,#1d6475 0 52px,#1d6575 0 54px,#18506d 0 56px,#1c5f73 0 58px,#74bc44 0 60px,#174e6c 0 62px,#19546f 0 64px,#1a5870 0 66px,#19536e 0 68px,#10365c 0 70px,#154668 0 72px,#164a6a 0 74px,#174c6b 0 76px,#123a5f 0 78px,#1c6073 0 82px,#237273 0 84px,#1e6675 0 86px,#1c6073 0 88px,#19556f 0 90px,#0e2c54 0 92px,#18536e 0 94px,#1e6675 0 96px,#2c896e 0 98px,#1c6174 0 100px,#18506d 0 102px,#1f6a75 0 104px,#18516d 0 106px,#1a5870 0 108px,#216e74 0 110px,#154769 0 112px,#144164 0 114px,#0f3158 0 116px,#16486a 0 118px,#174c6b 0 120px,#1a5970 0 122px,#123b60 0 124px,#174c6b 0 126px,#1b5d72 0 128px,#1d6575 0 130px,#1c6073 0 132px,#154467 0 134px,#277d70 0 136px,#1b5b71 0 138px,#10345a 0 140px,#11385d 0 142px,#247572 0 144px,#18506d 0 146px,#1d6475 0 148px,#1c6174 0 150px,#1a5870 0 152px,#1a5a71 0 154px,#1d6575 0 156px,#133d61 0 158px,#1d6274 0 160px,#1b5a71 0 162px,#247572 0 164px,#1d6475 0 166px,#1e6675 0 168px,#154467 0 170px,#11375c 0 172px)"></i><i style="top:73px;background:linear-gradient(90deg,#081c3d 0 2px,#133e62 0 4px,#11385d 0 6px,#123c60 0 8px,#0c264c 0 10px,#133d61 0 12px,#133f62 0 14px,#0a2145 0 16px,#0f2f56 0 18px,#0f3057 0 20px,#0f3259 0 22px,#123c60 0 24px,#0e2e55 0 26px,#091f41 0 28px,#11385e 0 30px,#123d61 0 32px,#081a3a 0 34px,#133f63 0 36px,#0c284e 0 38px,#0c264b 0 40px,#0a2044 0 42px,#0e2d55 0 44px,#0b2347 0 46px,#11395e 0 48px,#081b3c 0 50px,#091e40 0 52px,#081b3c 0 54px,#0d2950 0 56px,#0b2449 0 58px,#0a2042 0 60px,#0d2b53 0 62px,#0d294f 0 64px,#133f63 0 66px,#081a3a 0 68px,#0b2449 0 70px,#0d2b53 0 72px,#0f3259 0 74px,#0c284e 0 76px,#0c284f 0 78px,#133d61 0 80px,#081c3d 0 82px,#0d2a51 0 84px,#0d2a52 0 86px,#0f3258 0 88px,#0e2c54 0 90px,#0c284e 0 92px,#0e2e55 0 94px,#0b2348 0 96px,#103359 0 98px,#0b2449 0 100px,#0b2347 0 102px,#0d2a52 0 104px,#10345a 0 106px,#0d2a51 0 108px,#0d2b53 0 110px,#0d2a52 0 112px,#0b254a 0 114px,#0b254b 0 116px,#277d70 0 118px,#0c274d 0 120px,#091d3e 0 122px,#0a2144 0 124px,#0b2549 0 126px,#144366 0 128px,#103359 0 130px,#0a2043 0 132px,#0c284f 0 134px,#144366 0 136px,#0c274d 0 138px,#10355b 0 140px,#081b3c 0 142px,#0d294f 0 144px,#0e2d54 0 146px,#091f41 0 148px,#0f3057 0 150px,#379465 0 152px,#123b60 0 154px,#0a2246 0 156px,#123a5f 0 158px,#154669 0 160px,#0b254a 0 162px,#10345a 0 164px,#0f3259 0 168px,#081b3c 0 170px,#10345a 0 172px)"></i><i style="top:74px;background:linear-gradient(90deg,#0c284f 0 2px,#0f3158 0 4px,#16486a 0 6px,#0d2b53 0 8px,#359167 0 10px,#11375c 0 12px,#0d2950 0 14px,#11385e 0 16px,#11365c 0 20px,#091f42 0 22px,#0c274d 0 24px,#154567 0 26px,#277d70 0 28px,#091f41 0 30px,#10355b 0 32px,#0c274d 0 34px,#081a3a 0 36px,#174c6b 0 38px,#0b2448 0 40px,#154668 0 42px,#0a2145 0 44px,#081c3e 0 46px,#0d2b53 0 48px,#0d2a51 0 50px,#0c274c 0 52px,#10345a 0 54px,#164b6b 0 56px,#287e70 0 58px,#154769 0 60px,#4ea951 0 62px,#0b254b 0 64px,#0a2246 0 66px,#103359 0 68px,#0c274e 0 70px,#0a2246 0 72px,#10345a 0 74px,#174e6c 0 76px,#10345b 0 78px,#0d2a51 0 80px,#0a2144 0 82px,#123c60 0 84px,#10365c 0 86px,#0e2e56 0 88px,#133f63 0 90px,#29826f 0 92px,#0c264c 0 94px,#11395e 0 96px,#0d2a52 0 98px,#091f41 0 100px,#091f42 0 102px,#10345a 0 104px,#0c274c 0 106px,#123d61 0 108px,#0e2f56 0 110px,#0c264c 0 112px,#0a2043 0 114px,#0b2348 0 116px,#18506d 0 118px,#174e6c 0 120px,#16496a 0 122px,#0b2347 0 124px,#123c61 0 126px,#133d61 0 128px,#0b2449 0 130px,#0e2e55 0 132px,#0d2b53 0 134px,#0c274c 0 136px,#0d2b53 0 138px,#0d2950 0 140px,#0d2b53 0 142px,#164a6b 0 144px,#0c284f 0 146px,#123a5f 0 148px,#0b254a 0 150px,#0a2245 0 152px,#103359 0 154px,#081c3e 0 156px,#091d3e 0 158px,#0f3057 0 160px,#0d2b53 0 162px,#0e2f56 0 164px,#0b254a 0 166px,#10355b 0 168px,#0b2348 0 170px,#0d2950 0 172px)"></i><i style="top:75px;background:linear-gradient(90deg,#081c3e 0 2px,#081a3a 0 6px,#11375d 0 8px,#19566f 0 10px,#091e40 0 12px,#081a3a 0 14px,#0a2043 0 16px,#081a3a 0 20px,#0b254a 0 22px,#0a2246 0 24px,#081a3a 0 28px,#091d3f 0 30px,#0c274d 0 32px,#081a3a 0 34px,#091d3e 0 36px,#0b2347 0 38px,#081a3a 0 42px,#0a2043 0 44px,#0d2b53 0 46px,#0c274d 0 48px,#0a2246 0 50px,#0c264c 0 52px,#0a2246 0 54px,#0b2347 0 56px,#091e40 0 58px,#16486a 0 60px,#081a3a 0 62px,#0a2246 0 64px,#081a3a 0 68px,#0b254a 0 70px,#0d2950 0 72px,#11375d 0 74px,#0a2144 0 76px,#0c274d 0 78px,#081a3a 0 80px,#1a5770 0 82px,#164b6b 0 84px,#1d6274 0 86px,#1a5770 0 88px,#0d2a51 0 90px,#0c264c 0 92px,#0a2246 0 94px,#0b2347 0 96px,#10335a 0 98px,#0a2145 0 100px,#091d3e 0 102px,#081c3d 0 104px,#081a3a 0 106px,#0f3259 0 108px,#0b2449 0 110px,#0d2951 0 112px,#081a3a 0 116px,#081b3b 0 118px,#19566f 0 120px,#0b2347 0 122px,#081a3a 0 124px,#0b2347 0 126px,#081c3d 0 128px,#081a3a 0 132px,#0d2b52 0 134px,#0f2f57 0 136px,#0a2145 0 138px,#091d3f 0 140px,#0b254a 0 142px,#11375d 0 144px,#081a3a 0 148px,#091d3f 0 150px,#0b2347 0 152px,#144164 0 154px,#091d3e 0 156px,#081a3a 0 158px,#0c274e 0 160px,#0c274d 0 162px,#0a2043 0 164px,#0f3057 0 166px,#081a3a 0 168px,#1b5e72 0 170px,#1a5a71 0 172px)"></i><i style="top:76px;background:linear-gradient(90deg,#154568 0 2px,#144265 0 4px,#144165 0 6px,#16496a 0 8px,#18526e 0 10px,#16496a 0 12px,#144164 0 14px,#154568 0 16px,#16496a 0 18px,#174c6b 0 20px,#2b876e 0 22px,#237373 0 24px,#10335a 0 26px,#184f6d 0 28px,#154769 0 30px,#1a5971 0 32px,#47a257 0 34px,#174b6b 0 36px,#19546e 0 38px,#19536e 0 42px,#154568 0 44px,#134063 0 46px,#0f3057 0 48px,#0c284e 0 50px,#154568 0 52px,#19566f 0 54px,#0f3157 0 56px,#19566f 0 58px,#19546e 0 60px,#134063 0 62px,#18506d 0 64px,#18526e 0 66px,#1b5d72 0 68px,#11385e 0 70px,#19536e 0 72px,#11395e 0 74px,#16486a 0 76px,#1a5971 0 78px,#123c60 0 80px,#174c6b 0 82px,#1b5b71 0 84px,#1b5e72 0 86px,#154567 0 88px,#154668 0 92px,#1b5c72 0 94px,#144265 0 96px,#123c61 0 98px,#144165 0 100px,#164b6b 0 102px,#19556f 0 104px,#154668 0 106px,#0f3057 0 108px,#19546f 0 110px,#1c5f73 0 112px,#154568 0 114px,#18506d 0 116px,#174d6c 0 118px,#16486a 0 120px,#19566f 0 122px,#134064 0 124px,#144366 0 126px,#16496a 0 128px,#174d6c 0 130px,#16496a 0 132px,#174f6c 0 134px,#16496a 0 136px,#1a5971 0 138px,#18526e 0 140px,#174c6b 0 142px,#134064 0 144px,#154668 0 146px,#1d6274 0 148px,#18526e 0 150px,#19556f 0 152px,#123d61 0 154px,#0a2246 0 156px,#174b6b 0 158px,#18506d 0 160px,#257672 0 162px,#123c60 0 164px,#11375d 0 166px,#133e62 0 168px,#0e2d55 0 170px,#18516d 0 172px)"></i><i style="top:77px;background:linear-gradient(90deg,#18506d 0 2px,#1a5970 0 4px,#164b6b 0 6px,#123b5f 0 8px,#154668 0 10px,#174d6c 0 12px,#11375c 0 14px,#18506d 0 16px,#11395e 0 18px,#1a5a71 0 20px,#184f6d 0 22px,#123a5f 0 24px,#103359 0 26px,#1d6375 0 28px,#18506d 0 30px,#10335a 0 32px,#144265 0 34px,#18526e 0 36px,#1b5e72 0 38px,#1a5970 0 40px,#11385d 0 42px,#16496a 0 44px,#18536e 0 46px,#1d6575 0 48px,#1b5c72 0 50px,#1b5d72 0 52px,#154769 0 54px,#1a5870 0 56px,#18506d 0 58px,#11365c 0 60px,#10345a 0 62px,#19566f 0 64px,#174b6b 0 66px,#174d6c 0 68px,#154769 0 70px,#4ba555 0 72px,#154668 0 74px,#0f3158 0 78px,#1a5770 0 80px,#164a6b 0 82px,#154567 0 84px,#1b5b71 0 86px,#10345a 0 88px,#11385e 0 90px,#19546f 0 92px,#144366 0 94px,#1e6775 0 96px,#257871 0 98px,#369266 0 100px,#49a456 0 102px,#247472 0 104px,#92c93e 0 106px,#2c886e 0 108px,#2a836f 0 112px,#277d70 0 114px,#2c886e 0 116px,#18536e 0 118px,#1f6a74 0 120px,#10365c 0 122px,#144466 0 124px,#1e6875 0 126px,#174e6c 0 128px,#0e2f56 0 130px,#144164 0 132px,#0c264b 0 134px,#133e62 0 136px,#11385d 0 138px,#1f6975 0 140px,#18506d 0 142px,#11395e 0 144px,#174e6c 0 146px,#18536e 0 148px,#144466 0 150px,#144265 0 152px,#184f6d 0 154px,#1b5d72 0 156px,#123c60 0 158px,#174c6b 0 160px,#164a6a 0 162px,#133f63 0 164px,#164a6b 0 166px,#154567 0 168px,#1b5c72 0 170px,#1c6174 0 172px)"></i><i style="top:78px;background:linear-gradient(90deg,#164b6b 0 2px,#0e2e55 0 4px,#174b6b 0 6px,#10335a 0 8px,#16496a 0 10px,#174d6c 0 12px,#154769 0 14px,#0b254b 0 16px,#19566f 0 18px,#133e62 0 20px,#11375d 0 22px,#123a5f 0 24px,#144165 0 26px,#0d2a51 0 28px,#174d6c 0 30px,#154769 0 32px,#123c61 0 34px,#133d62 0 36px,#11375c 0 38px,#19536e 0 40px,#154568 0 42px,#123c60 0 44px,#0f3158 0 46px,#18516d 0 48px,#144466 0 50px,#19566f 0 52px,#123c60 0 54px,#11375d 0 56px,#1a5770 0 58px,#133f63 0 60px,#144366 0 62px,#134064 0 64px,#133f63 0 66px,#0f3259 0 68px,#10355b 0 70px,#0a2144 0 72px,#9ccd3b 0 74px,#0e2e55 0 76px,#174f6c 0 78px,#154568 0 80px,#0e2f56 0 82px,#19556f 0 84px,#0d2950 0 86px,#133e62 0 88px,#11365c 0 90px,#18506d 0 92px,#154568 0 94px,#19536e 0 96px,#133e62 0 98px,#144366 0 100px,#144164 0 102px,#123b60 0 104px,#1b5d72 0 106px,#133e62 0 108px,#0d2a52 0 110px,#123a5f 0 112px,#1b5e72 0 114px,#174e6c 0 116px,#1b5d72 0 118px,#16486a 0 120px,#11375c 0 122px,#144366 0 124px,#0d2b53 0 126px,#16486a 0 128px,#1a5a71 0 130px,#2a846f 0 132px,#123c60 0 134px,#16496a 0 136px,#1d6575 0 138px,#16486a 0 140px,#1c6073 0 142px,#144164 0 144px,#123a5f 0 146px,#164a6b 0 148px,#103359 0 150px,#1a5870 0 152px,#16486a 0 154px,#19546f 0 156px,#0e2d55 0 158px,#164b6b 0 160px,#0f3158 0 162px,#16496a 0 164px,#0d2b53 0 166px,#133f63 0 168px,#0b254a 0 170px,#10345a 0 172px)"></i><i style="top:79px;background:linear-gradient(90deg,#0f3057 0 2px,#081a3a 0 4px,#206b74 0 6px,#0b2348 0 8px,#081a3a 0 10px,#11395e 0 12px,#174f6c 0 14px,#144467 0 16px,#0e2e55 0 18px,#081b3c 0 20px,#0c274e 0 22px,#0a2043 0 24px,#2e8b6c 0 26px,#174e6c 0 28px,#0c264c 0 32px,#091f41 0 34px,#0a2246 0 36px,#081a3a 0 38px,#123a5f 0 40px,#10345a 0 42px,#0d294f 0 44px,#0b2348 0 46px,#11375d 0 48px,#0f2f56 0 50px,#0d2a51 0 52px,#134064 0 54px,#164a6b 0 56px,#144164 0 58px,#154568 0 60px,#0b254b 0 62px,#081a3a 0 64px,#18526e 0 66px,#144466 0 68px,#091e41 0 70px,#0a2144 0 72px,#103359 0 74px,#0d2b53 0 76px,#0a2245 0 78px,#081a3a 0 80px,#11375d 0 82px,#0b2449 0 84px,#0c264c 0 86px,#0b2449 0 88px,#081a3a 0 94px,#123c61 0 96px,#133d61 0 98px,#0f3158 0 100px,#091f42 0 102px,#0a2043 0 104px,#091f42 0 106px,#0b254b 0 108px,#0b2449 0 110px,#144366 0 112px,#0c274e 0 114px,#0d2950 0 116px,#134064 0 118px,#0d2a52 0 120px,#123b60 0 122px,#091f41 0 124px,#0a2246 0 126px,#133e62 0 128px,#0e2f56 0 130px,#154669 0 132px,#154769 0 134px,#16486a 0 136px,#11365c 0 138px,#1b5e72 0 140px,#0d2b53 0 142px,#081a3a 0 144px,#11385d 0 146px,#103359 0 148px,#0a2043 0 150px,#0d2b52 0 152px,#10355b 0 154px,#103359 0 156px,#0c284f 0 158px,#081c3e 0 160px,#0b2449 0 162px,#0e2e55 0 164px,#0e2d54 0 166px,#154568 0 168px,#091d3e 0 170px,#0d2b52 0 172px)"></i><i style="top:80px;background:linear-gradient(90deg,#0f3258 0 2px,#133e62 0 4px,#19566f 0 6px,#19556f 0 8px,#0e2e55 0 10px,#0f3157 0 12px,#081a3a 0 14px,#0d294f 0 16px,#081a3a 0 20px,#0c284e 0 22px,#0b2448 0 24px,#081a3a 0 26px,#0c284f 0 28px,#0a2246 0 30px,#154568 0 32px,#154668 0 34px,#081a3a 0 36px,#16496a 0 38px,#0c274d 0 40px,#0c264b 0 42px,#0b2448 0 44px,#0c284f 0 46px,#0c264b 0 48px,#081a3a 0 50px,#133f63 0 52px,#11385d 0 54px,#0d2950 0 56px,#0d2b52 0 58px,#144366 0 60px,#123a5f 0 62px,#0c264c 0 64px,#10345a 0 66px,#0a2246 0 68px,#11395e 0 70px,#0d2950 0 72px,#0c274d 0 74px,#11395e 0 76px,#0e2d54 0 78px,#0e2c54 0 80px,#144164 0 82px,#154467 0 84px,#081a3a 0 86px,#0b2347 0 88px,#0e2c54 0 90px,#081a3a 0 94px,#0c284e 0 96px,#0a2246 0 98px,#267b71 0 100px,#11375c 0 102px,#10355b 0 104px,#0f3158 0 106px,#0a2246 0 108px,#0d294f 0 110px,#123d61 0 112px,#134063 0 114px,#0d2a52 0 116px,#144265 0 118px,#081a3a 0 120px,#0f2f57 0 122px,#123a5f 0 124px,#10365b 0 126px,#11385e 0 128px,#0a2144 0 130px,#19566f 0 132px,#123b5f 0 134px,#11385d 0 136px,#0b2449 0 138px,#0f3057 0 140px,#091e40 0 142px,#0c264b 0 144px,#0b2449 0 146px,#081a3a 0 148px,#0c274c 0 150px,#133f63 0 152px,#10365b 0 154px,#10365c 0 156px,#19556f 0 158px,#0f3259 0 160px,#10355b 0 162px,#0f3057 0 164px,#081a3a 0 166px,#0e2e56 0 168px,#0c284f 0 170px,#144366 0 172px)"></i><i style="top:81px;background:linear-gradient(90deg,#0c274d 0 2px,#58b04b 0 4px,#1d6475 0 6px,#123c60 0 8px,#144467 0 10px,#0c274c 0 12px,#2c896e 0 14px,#54ae4d 0 16px,#133d61 0 18px,#0c284f 0 20px,#081a3a 0 24px,#0e2d55 0 26px,#4ba654 0 28px,#4aa555 0 30px,#a2d03a 0 32px,#081a3a 0 34px,#081b3c 0 36px,#aed537 0 38px,#389464 0 40px,#429d5c 0 42px,#154567 0 44px,#0d2b53 0 46px,#123b60 0 48px,#0a2246 0 50px,#6ab847 0 52px,#56b04b 0 54px,#67b747 0 56px,#0c274d 0 58px,#081a3a 0 60px,#0f3057 0 62px,#091d3f 0 64px,#409b5d 0 66px,#308d6a 0 68px,#c2dd50 0 70px,#6bb847 0 72px,#29816f 0 74px,#3b9762 0 76px,#081a3a 0 78px,#0c274d 0 80px,#53ad4e 0 82px,#51ab4f 0 84px,#4ea952 0 86px,#0e2f56 0 88px,#0d2b53 0 90px,#0c274d 0 92px,#081a3a 0 94px,#439e5b 0 96px,#51ab4f 0 98px,#6cb946 0 100px,#45a059 0 102px,#4ea852 0 104px,#081a3a 0 110px,#2a826f 0 112px,#95ca3d 0 114px,#389464 0 116px,#f5f1b0 0 118px,#081c3d 0 120px,#0d2950 0 122px,#0c284e 0 124px,#0b254a 0 126px,#11395e 0 128px,#f5f1b1 0 130px,#f6f2b2 0 132px,#3b9761 0 134px,#1f6a74 0 136px,#0a2246 0 138px,#0a2043 0 140px,#0b2347 0 142px,#0e2c54 0 144px,#0a2245 0 146px,#103359 0 148px,#0c274c 0 150px,#71bb45 0 152px,#247672 0 154px,#409c5d 0 156px,#2c896e 0 158px,#81c241 0 160px,#0d2950 0 162px,#2a836f 0 164px,#aed537 0 166px,#3c9861 0 168px,#091f41 0 170px,#081c3e 0 172px)"></i><i style="top:82px;background:linear-gradient(90deg,#103359 0 2px,#10355b 0 4px,#123b5f 0 6px,#103359 0 8px,#0a2245 0 10px,#0c264c 0 12px,#10355b 0 14px,#0c274d 0 16px,#0b2449 0 18px,#081a3a 0 20px,#091d3e 0 22px,#123c60 0 24px,#081a3a 0 28px,#11375c 0 30px,#0d2b52 0 32px,#091e40 0 34px,#091e41 0 36px,#0b2348 0 38px,#0f3158 0 40px,#154769 0 42px,#11395e 0 44px,#081a3a 0 46px,#0a2043 0 48px,#0f3057 0 50px,#10335a 0 52px,#0e2d55 0 54px,#11375d 0 56px,#18506d 0 58px,#0e2d55 0 60px,#0c284e 0 62px,#081a3a 0 64px,#0b2449 0 66px,#0e2c54 0 68px,#16496a 0 70px,#164b6b 0 72px,#134064 0 74px,#0b254b 0 76px,#0d2950 0 78px,#0d2a51 0 80px,#0f3057 0 82px,#0a2042 0 84px,#0d2b53 0 86px,#091e3f 0 88px,#0f2f57 0 90px,#0c274d 0 92px,#081b3b 0 94px,#0a2043 0 96px,#0b2449 0 98px,#11375d 0 100px,#0b254a 0 102px,#144366 0 104px,#0d2a52 0 106px,#11375d 0 108px,#081a3a 0 112px,#0e2f56 0 114px,#18516d 0 116px,#0b254a 0 118px,#0a2043 0 120px,#0d2950 0 122px,#081a3b 0 124px,#0a2145 0 126px,#091f41 0 128px,#081a3a 0 130px,#18506d 0 132px,#2c886e 0 134px,#081a3a 0 136px,#091f42 0 138px,#091f41 0 140px,#091f42 0 142px,#0d2950 0 144px,#081b3b 0 146px,#081a3a 0 148px,#0f3057 0 150px,#144164 0 152px,#091e3f 0 154px,#0b2347 0 156px,#1d6375 0 158px,#091f41 0 160px,#0e2e55 0 162px,#081a3a 0 164px,#123b60 0 166px,#0f3057 0 168px,#0d2b53 0 170px,#081a3a 0 172px)"></i><i style="top:83px;background:linear-gradient(90deg,#133f63 0 2px,#10355b 0 4px,#134063 0 6px,#133e62 0 8px,#0b254b 0 10px,#0a2246 0 12px,#0b2449 0 14px,#133e62 0 16px,#0d294f 0 18px,#0d2b53 0 20px,#123a5f 0 22px,#091f42 0 24px,#081a3a 0 28px,#16496a 0 30px,#0a2043 0 32px,#0d2a51 0 34px,#3a9662 0 36px,#133f63 0 38px,#0d2950 0 40px,#154769 0 42px,#0e2e55 0 44px,#0b2448 0 46px,#0f3057 0 48px,#0b2347 0 50px,#0d2950 0 52px,#123a5f 0 54px,#1b5c72 0 56px,#081a3a 0 60px,#0e2e55 0 62px,#0c264c 0 64px,#0d2b53 0 66px,#0e2e55 0 68px,#0c264b 0 70px,#11365c 0 72px,#123a5f 0 74px,#11375d 0 76px,#091e40 0 78px,#0c274d 0 80px,#103359 0 82px,#206c74 0 84px,#0e2d55 0 86px,#0a2043 0 88px,#0b2448 0 90px,#0a2144 0 92px,#081b3c 0 94px,#0a2245 0 96px,#091d3f 0 98px,#10345b 0 100px,#277d70 0 102px,#0e2f56 0 104px,#0b254b 0 106px,#0d2a51 0 108px,#0d2950 0 110px,#0f3258 0 112px,#11395e 0 114px,#154568 0 116px,#0f3259 0 118px,#0f3057 0 120px,#10355b 0 122px,#0a2145 0 124px,#081a3a 0 126px,#154568 0 128px,#0f3158 0 130px,#0c284f 0 132px,#123c61 0 134px,#0c274d 0 136px,#0c264c 0 138px,#0e2c54 0 140px,#0a2246 0 142px,#144467 0 144px,#0f3258 0 146px,#154668 0 148px,#0c264b 0 150px,#081a3a 0 152px,#0f3259 0 154px,#123c61 0 156px,#0b2448 0 158px,#134064 0 160px,#0f3057 0 162px,#164a6b 0 164px,#0b254a 0 166px,#0d294f 0 168px,#0d2a51 0 170px,#081a3a 0 172px)"></i><i style="top:84px;background:linear-gradient(90deg,#1f6a75 0 2px,#247572 0 4px,#1d6575 0 6px,#0e2d55 0 8px,#11395e 0 10px,#103359 0 12px,#1a5770 0 14px,#1b5e72 0 16px,#257971 0 18px,#0c284f 0 20px,#0b2347 0 22px,#10355b 0 24px,#0a2042 0 26px,#19556f 0 28px,#164a6b 0 30px,#1a5971 0 32px,#1d6274 0 34px,#0f3057 0 36px,#154568 0 38px,#18506d 0 40px,#227173 0 42px,#257871 0 44px,#11375d 0 46px,#103359 0 48px,#0c264c 0 50px,#237372 0 52px,#1a5870 0 54px,#247572 0 56px,#227073 0 58px,#2b866e 0 60px,#154568 0 62px,#0e2f56 0 64px,#1a5971 0 66px,#389464 0 68px,#1b5c72 0 70px,#277c71 0 72px,#1d6575 0 74px,#0a2144 0 76px,#0c274d 0 78px,#133e62 0 80px,#226f73 0 82px,#18506d 0 84px,#091e40 0 86px,#0d2b53 0 90px,#091f42 0 92px,#0f3258 0 94px,#0d2a51 0 96px,#206b74 0 98px,#3a9662 0 100px,#349068 0 102px,#091f41 0 104px,#081a3a 0 106px,#0d2b53 0 108px,#0c284e 0 110px,#237373 0 112px,#48a357 0 114px,#29826f 0 116px,#18506d 0 118px,#0d2a51 0 120px,#154568 0 122px,#11385d 0 124px,#0c264b 0 126px,#0d2950 0 128px,#1c5f73 0 130px,#1f6975 0 132px,#1a5870 0 134px,#081c3c 0 136px,#0d2950 0 138px,#0c274d 0 140px,#16496a 0 142px,#0f3158 0 144px,#0c284e 0 146px,#0d294f 0 148px,#0c284f 0 150px,#1a5770 0 152px,#134063 0 154px,#1f6975 0 156px,#1a5a71 0 158px,#0b2448 0 160px,#10345a 0 162px,#2a846f 0 164px,#1c5f73 0 166px,#174e6c 0 168px,#0d2950 0 170px,#133d61 0 172px)"></i><i style="top:85px;background:linear-gradient(90deg,#29816f 0 2px,#48a357 0 4px,#2f8c6b 0 6px,#389464 0 8px,#0a2245 0 10px,#0e2e55 0 12px,#51ac4f 0 14px,#2c886e 0 16px,#3e9a5f 0 18px,#0a2245 0 20px,#0a2246 0 22px,#081a3a 0 24px,#0b2347 0 26px,#3a9663 0 28px,#1f6a75 0 30px,#0a2144 0 32px,#081b3c 0 34px,#0d2a52 0 36px,#091f42 0 38px,#44a05a 0 40px,#369266 0 42px,#19536e 0 44px,#10365c 0 46px,#0f3259 0 48px,#0e2c54 0 50px,#1a5971 0 52px,#1f6a75 0 54px,#1a5971 0 56px,#277d70 0 58px,#216e74 0 60px,#0a2043 0 62px,#11395e 0 64px,#247472 0 66px,#2a846f 0 68px,#1e6675 0 70px,#2b856e 0 72px,#71bb45 0 74px,#2c886e 0 76px,#133f63 0 78px,#0d294f 0 80px,#0d2950 0 82px,#9ccd3b 0 84px,#0d294f 0 86px,#0b2347 0 88px,#0c274d 0 90px,#0a2042 0 92px,#10355b 0 94px,#133e62 0 96px,#206b74 0 98px,#359167 0 100px,#a2d03a 0 102px,#2b866e 0 104px,#0d2b53 0 106px,#0e2e56 0 108px,#0b254b 0 110px,#226f73 0 112px,#2a826f 0 114px,#227073 0 116px,#257971 0 118px,#081a3a 0 120px,#091f42 0 122px,#0c274d 0 124px,#0d2b52 0 126px,#123b60 0 128px,#1d6375 0 130px,#247672 0 132px,#379365 0 134px,#277c71 0 136px,#227073 0 138px,#081a3a 0 140px,#0d2b52 0 142px,#0d2950 0 144px,#081a3a 0 146px,#091f42 0 148px,#0a2144 0 150px,#081a3a 0 152px,#1f6975 0 154px,#318e6a 0 156px,#29816f 0 158px,#237273 0 160px,#091f42 0 162px,#277d70 0 164px,#1d6575 0 166px,#247572 0 168px,#0c284e 0 170px,#123c61 0 172px)"></i><i style="top:86px;background:linear-gradient(90deg,#123c60 0 2px,#61b449 0 4px,#134064 0 6px,#081a3a 0 8px,#081b3b 0 10px,#10355b 0 14px,#0c264c 0 16px,#18516d 0 18px,#091f42 0 20px,#091f41 0 22px,#0c264b 0 24px,#10355b 0 26px,#0e2f56 0 28px,#11395e 0 30px,#10345a 0 32px,#0a2246 0 34px,#0f2f56 0 36px,#0c274d 0 38px,#0d2b52 0 40px,#0b254b 0 42px,#144366 0 44px,#0d2a52 0 46px,#091e40 0 48px,#0e2c54 0 50px,#144164 0 52px,#10335a 0 54px,#10365c 0 56px,#0b2347 0 58px,#081c3d 0 60px,#081a3a 0 62px,#0b2449 0 64px,#11375c 0 66px,#0c264b 0 68px,#0d2b53 0 70px,#0d2950 0 72px,#1d6274 0 74px,#081a3a 0 78px,#11395e 0 80px,#123c60 0 82px,#0e2d55 0 84px,#0c274d 0 86px,#091f41 0 88px,#10345a 0 90px,#091d3f 0 92px,#0e2e55 0 94px,#0f3057 0 96px,#11385d 0 98px,#0b2448 0 100px,#1a5a71 0 102px,#0b2449 0 104px,#0c284e 0 106px,#0b2448 0 108px,#10365c 0 110px,#0b2348 0 112px,#0e2d55 0 114px,#16486a 0 116px,#0b2348 0 118px,#0c264c 0 120px,#10365c 0 122px,#0a2043 0 124px,#081a3a 0 126px,#0b254a 0 128px,#11365c 0 130px,#0c274d 0 132px,#11385d 0 134px,#133e62 0 136px,#0f3158 0 138px,#11375d 0 140px,#0e2f56 0 142px,#103359 0 144px,#081a3a 0 146px,#0b2448 0 148px,#0f3157 0 150px,#144467 0 152px,#123c61 0 154px,#18506d 0 156px,#11385d 0 158px,#0c274d 0 160px,#0e2c54 0 162px,#16486a 0 164px,#154769 0 166px,#0e2d55 0 168px,#0c284f 0 170px,#0f3158 0 172px)"></i><i style="top:87px;background:linear-gradient(90deg,#399564 0 2px,#8ec73e 0 4px,#56b04b 0 6px,#0e2e55 0 8px,#16496a 0 10px,#10345a 0 12px,#369266 0 14px,#4ea852 0 16px,#349068 0 18px,#11395e 0 20px,#144366 0 22px,#0b2449 0 24px,#10365b 0 26px,#0a2246 0 28px,#91c93e 0 30px,#94ca3d 0 32px,#11385e 0 34px,#091e40 0 36px,#0c274d 0 38px,#65b648 0 40px,#7abf43 0 42px,#4da753 0 44px,#0d2951 0 46px,#103359 0 48px,#0f3158 0 50px,#287e70 0 52px,#429d5c 0 54px,#1c6274 0 56px,#4da753 0 58px,#0b2449 0 60px,#0f3158 0 62px,#409c5d 0 64px,#67b747 0 66px,#95ca3d 0 68px,#a3d03a 0 70px,#cae05f 0 72px,#53ad4d 0 74px,#0e2c54 0 76px,#0c284f 0 78px,#84c341 0 80px,#53ad4d 0 82px,#6fba46 0 84px,#091e40 0 86px,#10355b 0 88px,#0e2c54 0 90px,#11395e 0 92px,#134063 0 94px,#29816f 0 96px,#4faa51 0 98px,#75bd44 0 100px,#237373 0 102px,#277d70 0 104px,#2a856f 0 106px,#0d2b52 0 108px,#144366 0 110px,#4fa951 0 112px,#277d70 0 114px,#257772 0 116px,#45a05a 0 118px,#0d294f 0 120px,#133f63 0 122px,#0f3259 0 124px,#0e2d55 0 126px,#091e40 0 128px,#144466 0 130px,#48a356 0 132px,#6fba46 0 134px,#399563 0 136px,#2a846f 0 138px,#103359 0 140px,#11385e 0 142px,#123d61 0 144px,#10355b 0 146px,#0c274d 0 148px,#0f3259 0 150px,#287e70 0 152px,#216f73 0 154px,#29826f 0 156px,#318d6a 0 158px,#0f3158 0 160px,#399563 0 162px,#5ab24a 0 164px,#f1f0aa 0 166px,#75bd44 0 168px,#89c540 0 170px,#11375c 0 172px)"></i><i style="top:88px;background:linear-gradient(90deg,#164b6b 0 2px,#0e2e55 0 4px,#0e2e56 0 6px,#123b60 0 8px,#1c5e73 0 10px,#10345a 0 12px,#287f70 0 14px,#144366 0 16px,#103359 0 18px,#081b3b 0 20px,#144164 0 22px,#0b2347 0 24px,#0d2a52 0 26px,#081a3a 0 28px,#174b6b 0 30px,#16496a 0 32px,#091e3f 0 34px,#11375c 0 36px,#0b2448 0 38px,#144366 0 40px,#0e2d54 0 42px,#123b60 0 44px,#0e2e55 0 46px,#0a2144 0 48px,#091f41 0 50px,#081a3a 0 52px,#0d2b52 0 54px,#133f63 0 56px,#174d6c 0 58px,#0b2347 0 60px,#0b254a 0 62px,#144165 0 64px,#277b71 0 66px,#144164 0 68px,#0f3057 0 70px,#1f6a74 0 72px,#10355b 0 74px,#081a3a 0 76px,#123b5f 0 78px,#0a2044 0 80px,#0c274d 0 82px,#1a5870 0 84px,#18526e 0 86px,#0e2e56 0 88px,#081a3a 0 90px,#144265 0 92px,#123b60 0 94px,#091e3f 0 96px,#0d2b52 0 98px,#154769 0 100px,#154568 0 102px,#10335a 0 104px,#10355b 0 106px,#0a2043 0 108px,#091d3f 0 110px,#144466 0 112px,#123c60 0 114px,#11395e 0 116px,#133e62 0 118px,#154769 0 120px,#11365c 0 122px,#123b5f 0 124px,#081a3a 0 126px,#091d3f 0 128px,#0e2c54 0 130px,#154568 0 132px,#154567 0 134px,#0d2950 0 136px,#081a3a 0 138px,#174c6b 0 140px,#0a2246 0 142px,#0a2043 0 144px,#0d2b52 0 146px,#0a2043 0 148px,#0f3057 0 150px,#0a2144 0 152px,#081b3b 0 154px,#154567 0 156px,#0e2d55 0 158px,#0c264b 0 160px,#103359 0 162px,#11365c 0 164px,#1a5a71 0 166px,#18526e 0 168px,#0c284f 0 170px,#081a3a 0 172px)"></i><i style="top:89px;background:linear-gradient(90deg,#0f3057 0 2px,#0b254b 0 4px,#0c284e 0 6px,#081a3a 0 8px,#154769 0 10px,#0a2043 0 12px,#123c60 0 14px,#0c274e 0 16px,#11395e 0 18px,#134063 0 20px,#0a2246 0 22px,#0b2449 0 24px,#091d3f 0 26px,#11385d 0 28px,#0e2f56 0 30px,#11365c 0 32px,#0b2347 0 34px,#0a2246 0 36px,#123b60 0 38px,#081a3a 0 40px,#0f3158 0 42px,#144265 0 44px,#0f2f56 0 46px,#0c264c 0 48px,#091f41 0 50px,#0e2f56 0 52px,#0d2950 0 54px,#164b6b 0 56px,#133d61 0 58px,#123d61 0 60px,#0b2449 0 62px,#081a3a 0 64px,#0a2144 0 66px,#133f62 0 68px,#154567 0 70px,#133e62 0 72px,#081a3a 0 74px,#0d2951 0 76px,#0a2246 0 78px,#0d294f 0 80px,#144164 0 82px,#123c61 0 84px,#10355b 0 86px,#0c274d 0 88px,#0c284e 0 90px,#134064 0 92px,#0e2f56 0 94px,#0d2b53 0 96px,#133f63 0 98px,#11375d 0 100px,#154769 0 102px,#16496a 0 104px,#0d2b53 0 106px,#11395e 0 108px,#081a3a 0 110px,#10345b 0 112px,#0d2b53 0 114px,#174d6c 0 116px,#10355b 0 118px,#10335a 0 120px,#0e2e56 0 122px,#0c264c 0 124px,#10365c 0 126px,#081b3b 0 128px,#19536e 0 130px,#11375d 0 132px,#19566f 0 134px,#0b2449 0 136px,#11375d 0 138px,#0d2b53 0 140px,#081a3b 0 142px,#0a2042 0 144px,#0f3158 0 146px,#2e8b6c 0 148px,#0e2d55 0 150px,#0d2a52 0 152px,#0f3057 0 154px,#0f3259 0 156px,#0b254a 0 158px,#081a3a 0 160px,#0f3158 0 162px,#081b3c 0 164px,#0d2b52 0 166px,#133e62 0 168px,#0a2144 0 170px,#0c264c 0 172px)"></i><i style="top:90px;background:linear-gradient(90deg,#10345a 0 2px,#1d6274 0 4px,#277c70 0 6px,#0c284f 0 10px,#0c264b 0 12px,#0d2951 0 14px,#1c5f73 0 16px,#2c886e 0 18px,#19556f 0 20px,#0d2b53 0 22px,#0e2f56 0 24px,#0c264b 0 26px,#52ac4e 0 28px,#1f6a75 0 30px,#3d9960 0 32px,#123d61 0 34px,#091f42 0 36px,#144164 0 38px,#287f70 0 40px,#6bb946 0 42px,#f6f2b2 0 44px,#0e2c54 0 46px,#11395e 0 48px,#0b254a 0 50px,#1b5d72 0 52px,#8ac53f 0 54px,#1f6875 0 56px,#0b254a 0 58px,#103359 0 60px,#19536e 0 62px,#267b71 0 64px,#359167 0 66px,#439f5b 0 68px,#308d6b 0 70px,#57b04b 0 72px,#257871 0 74px,#0d2950 0 76px,#103359 0 80px,#2c896e 0 82px,#29826f 0 84px,#69b847 0 86px,#0c284e 0 88px,#0d2950 0 90px,#0a2145 0 92px,#0c264b 0 94px,#0e2e55 0 96px,#51ac4f 0 98px,#8cc73f 0 100px,#2c886e 0 104px,#0a2246 0 106px,#18526e 0 108px,#0c274d 0 110px,#091f42 0 112px,#277d70 0 114px,#288070 0 116px,#53ad4e 0 118px,#0e2d54 0 120px,#0f2f57 0 122px,#10365c 0 124px,#0a2246 0 126px,#29826f 0 128px,#0c284e 0 130px,#227173 0 132px,#257871 0 134px,#4aa555 0 136px,#0f3158 0 138px,#123c60 0 140px,#0c284e 0 142px,#0f3259 0 144px,#0b2348 0 146px,#11375c 0 148px,#0b2449 0 150px,#10355b 0 152px,#29816f 0 154px,#c1dc4d 0 156px,#8ac63f 0 158px,#0c264b 0 160px,#0f3258 0 162px,#1e6775 0 164px,#2a846f 0 166px,#1d6475 0 168px,#0c284f 0 170px,#11375c 0 172px)"></i><i style="top:91px;background:linear-gradient(90deg,#1b5b71 0 2px,#369266 0 4px,#206c74 0 6px,#0d2b52 0 8px,#0e2c54 0 10px,#216d74 0 12px,#267a71 0 14px,#216e74 0 16px,#1d6274 0 18px,#10345a 0 20px,#10335a 0 22px,#10355b 0 24px,#0f3158 0 26px,#0c284f 0 28px,#154769 0 30px,#216e74 0 32px,#0a2144 0 36px,#123c61 0 38px,#257672 0 40px,#1c6073 0 42px,#267a71 0 44px,#0d2a51 0 46px,#0a2245 0 48px,#16496a 0 50px,#11365c 0 52px,#1a5870 0 54px,#227173 0 56px,#29816f 0 58px,#174d6c 0 60px,#0d2b53 0 62px,#0f3258 0 64px,#1c6073 0 66px,#1b5b71 0 68px,#257871 0 70px,#237372 0 72px,#1b5b71 0 74px,#0d2950 0 76px,#123c60 0 78px,#0d2a52 0 80px,#1e6675 0 82px,#16496a 0 84px,#1b5b71 0 86px,#081a3a 0 88px,#091f41 0 90px,#10345a 0 92px,#11375d 0 94px,#091e40 0 96px,#9bcd3c 0 98px,#237372 0 100px,#a6d139 0 102px,#1f6a75 0 104px,#0e2d55 0 106px,#0d2950 0 108px,#154669 0 110px,#1e6775 0 112px,#154568 0 114px,#257871 0 116px,#1d6575 0 118px,#0a2145 0 120px,#0c274c 0 122px,#0d2b52 0 124px,#0c284f 0 126px,#123a5f 0 128px,#18506d 0 130px,#2c896e 0 132px,#1d6374 0 136px,#0b2449 0 138px,#123c61 0 140px,#19536e 0 142px,#0a2246 0 144px,#0d2b53 0 146px,#0b254a 0 148px,#144366 0 150px,#247672 0 152px,#2b876e 0 154px,#1a5a71 0 156px,#2b856e 0 158px,#52ac4e 0 160px,#237273 0 162px,#2c886e 0 164px,#257772 0 166px,#1d6274 0 168px,#257772 0 170px,#0f2f57 0 172px)"></i><i style="top:92px;background:linear-gradient(90deg,#0d2a51 0 2px,#134064 0 4px,#154567 0 6px,#0e2e55 0 8px,#0b2347 0 10px,#0f3259 0 12px,#0e2e56 0 14px,#144467 0 16px,#0c264c 0 18px,#0d2950 0 20px,#0d2b53 0 22px,#1e6775 0 24px,#0c274d 0 26px,#0d294f 0 28px,#144164 0 30px,#1c5f73 0 32px,#0f3259 0 34px,#081b3c 0 36px,#0c274c 0 38px,#19546e 0 40px,#174f6c 0 42px,#10345a 0 44px,#0f3259 0 46px,#103359 0 48px,#0d2a52 0 50px,#091e40 0 52px,#0b2347 0 54px,#2b856e 0 56px,#0c274d 0 58px,#11365c 0 60px,#0e2e55 0 62px,#154769 0 64px,#103359 0 66px,#18506d 0 68px,#19556f 0 70px,#2d8a6d 0 72px,#0c284e 0 74px,#247472 0 76px,#0e2d55 0 78px,#0e2e55 0 80px,#133e62 0 82px,#10365c 0 84px,#0b2449 0 86px,#0c264c 0 88px,#10355b 0 90px,#11365c 0 92px,#0c284e 0 94px,#0e2c54 0 96px,#0e2e56 0 98px,#0b2348 0 100px,#18506d 0 102px,#144265 0 104px,#0d2950 0 106px,#091e40 0 108px,#0c284f 0 110px,#081c3d 0 112px,#11385d 0 114px,#0e2d55 0 116px,#0e2c54 0 118px,#0a2246 0 120px,#0f3259 0 122px,#154467 0 124px,#0d2a52 0 126px,#0d2a51 0 128px,#10345a 0 130px,#133e62 0 132px,#19546e 0 134px,#081a3a 0 136px,#081c3e 0 138px,#16486a 0 140px,#0d2951 0 142px,#11375c 0 144px,#144366 0 146px,#0d2b53 0 148px,#0a2246 0 150px,#0b2449 0 152px,#10345a 0 154px,#0e2d55 0 156px,#0d2951 0 158px,#0e2f56 0 160px,#081a3a 0 162px,#123c60 0 164px,#0e2c54 0 166px,#11395e 0 168px,#081c3d 0 170px,#0a2144 0 172px)"></i><i style="top:93px;background:linear-gradient(90deg,#0c274d 0 2px,#257772 0 4px,#318e6a 0 6px,#123a5f 0 8px,#144164 0 10px,#7abf43 0 12px,#8cc63f 0 14px,#328e69 0 16px,#3b9761 0 18px,#0b254a 0 20px,#174d6c 0 22px,#144366 0 24px,#123b60 0 26px,#349167 0 28px,#70bb45 0 30px,#46a158 0 32px,#2e8b6c 0 34px,#134063 0 36px,#11365c 0 38px,#409b5e 0 40px,#3f9a5e 0 42px,#2b866e 0 44px,#1a5971 0 46px,#174d6c 0 48px,#0d2b52 0 50px,#2b866e 0 52px,#c3dd52 0 54px,#bfdc4a 0 56px,#95ca3d 0 58px,#2c886e 0 60px,#10345a 0 62px,#133f63 0 64px,#94ca3d 0 66px,#55af4c 0 68px,#1f6a74 0 70px,#78be43 0 72px,#2a836f 0 74px,#10365c 0 76px,#134063 0 78px,#87c440 0 80px,#237373 0 82px,#339068 0 84px,#4da852 0 86px,#123d61 0 88px,#0d2b53 0 90px,#11375d 0 92px,#164a6b 0 94px,#0d2950 0 96px,#2e8b6d 0 98px,#4ca753 0 100px,#4aa555 0 102px,#5eb34a 0 104px,#0d2950 0 106px,#0b254a 0 108px,#1a5870 0 110px,#0c274d 0 112px,#3d9960 0 114px,#6cb946 0 116px,#144366 0 118px,#174d6c 0 120px,#123c60 0 122px,#133d61 0 124px,#0d2b53 0 126px,#10365c 0 128px,#144466 0 130px,#8ac63f 0 132px,#247472 0 134px,#123b60 0 136px,#123c60 0 138px,#11375d 0 140px,#10345a 0 142px,#133e62 0 144px,#0c274e 0 146px,#0d2a51 0 148px,#091e40 0 150px,#0c284f 0 152px,#2d8a6d 0 154px,#277c70 0 156px,#154769 0 158px,#103359 0 160px,#0a2246 0 162px,#288070 0 164px,#4aa555 0 166px,#318d6a 0 168px,#2d8a6d 0 170px,#0d2a51 0 172px)"></i><i style="top:94px;background:linear-gradient(90deg,#123b60 0 2px,#1d6475 0 4px,#1d6274 0 6px,#287f70 0 8px,#0d2b53 0 10px,#0c284e 0 12px,#6cb946 0 14px,#439e5b 0 16px,#52ac4e 0 18px,#389464 0 20px,#10345a 0 22px,#0c264b 0 24px,#123a5f 0 26px,#164a6b 0 28px,#1b5d72 0 30px,#2b866e 0 32px,#277d70 0 34px,#0f2f57 0 36px,#19546e 0 38px,#308d6b 0 40px,#4da852 0 42px,#4da753 0 44px,#247472 0 46px,#144265 0 48px,#11375d 0 50px,#0d2b53 0 52px,#47a257 0 54px,#277d70 0 56px,#0f3259 0 58px,#1c6274 0 60px,#10355b 0 62px,#0a2043 0 64px,#46a159 0 66px,#1f6975 0 68px,#227173 0 70px,#1b5b71 0 72px,#2c896e 0 74px,#0b254b 0 76px,#11365c 0 78px,#0e2e55 0 80px,#3d9960 0 82px,#3e9a5f 0 84px,#154567 0 86px,#103359 0 88px,#0a2043 0 90px,#0c264b 0 92px,#0f3259 0 94px,#081a3a 0 96px,#77bd44 0 98px,#369365 0 100px,#2c876e 0 102px,#154567 0 104px,#0d2b53 0 106px,#0c264c 0 108px,#206b74 0 110px,#308d6b 0 112px,#7cc043 0 114px,#4ca753 0 116px,#2b866e 0 118px,#081b3c 0 120px,#174c6b 0 122px,#0d2950 0 124px,#0d2a51 0 126px,#091f41 0 128px,#0c264b 0 130px,#aed537 0 132px,#96cb3d 0 134px,#3d9960 0 136px,#0b2348 0 138px,#0f3158 0 140px,#216f73 0 142px,#0c284e 0 144px,#0b2348 0 146px,#0e2f56 0 148px,#11385d 0 150px,#53ad4d 0 152px,#3e995f 0 154px,#339068 0 156px,#133f63 0 158px,#081a3b 0 160px,#10355b 0 162px,#1c6073 0 164px,#2c896e 0 166px,#257971 0 168px,#1d6375 0 170px,#0a2245 0 172px)"></i><i style="top:95px;background:linear-gradient(90deg,#123a5f 0 2px,#0e2d55 0 4px,#0f3057 0 6px,#0b2449 0 8px,#081c3d 0 10px,#0a2144 0 12px,#123d61 0 14px,#0d2a51 0 16px,#123b60 0 18px,#0b2448 0 20px,#0b2348 0 22px,#11375d 0 24px,#0a2144 0 26px,#10335a 0 28px,#0d2950 0 30px,#0b2348 0 32px,#0e2e56 0 34px,#0e2e55 0 36px,#0c284f 0 38px,#144265 0 40px,#123a5f 0 42px,#0a2144 0 44px,#0a2145 0 46px,#091e41 0 48px,#081a3a 0 50px,#144366 0 52px,#11395e 0 54px,#0f2f56 0 56px,#164b6b 0 58px,#0b2448 0 60px,#081a3a 0 62px,#123b5f 0 64px,#0e2c54 0 66px,#133d62 0 68px,#0c284e 0 70px,#133f62 0 72px,#0f2f56 0 74px,#123b60 0 76px,#081b3b 0 78px,#091f41 0 80px,#0d2b53 0 82px,#1b5d72 0 84px,#19566f 0 86px,#0c284e 0 88px,#2b876e 0 90px,#0a2144 0 92px,#0a2145 0 94px,#0d2950 0 96px,#133e62 0 98px,#16496a 0 100px,#174c6b 0 102px,#11395e 0 104px,#0c264b 0 110px,#0e2d55 0 112px,#0c284f 0 114px,#123c60 0 116px,#0d2b53 0 118px,#0b2347 0 122px,#277b71 0 124px,#123a5f 0 126px,#0c264b 0 128px,#0c264c 0 130px,#11375d 0 132px,#11385d 0 134px,#133f63 0 136px,#0a2246 0 140px,#0b2449 0 142px,#0c284f 0 144px,#0d2b53 0 146px,#081a3a 0 150px,#0d2950 0 152px,#154668 0 154px,#11375d 0 156px,#0c284e 0 158px,#0b2347 0 160px,#19566f 0 162px,#123d61 0 164px,#123c60 0 166px,#0e2d54 0 168px,#091f42 0 170px,#0b2347 0 172px)"></i><i style="top:96px;background:linear-gradient(90deg,#399563 0 2px,#287e70 0 4px,#2a836f 0 6px,#1b5d72 0 8px,#0d2a52 0 10px,#0a2043 0 12px,#52ad4e 0 14px,#359167 0 16px,#389464 0 18px,#091d3e 0 20px,#174c6b 0 22px,#16496a 0 24px,#144164 0 26px,#123c61 0 28px,#1b5b71 0 30px,#399563 0 32px,#10335a 0 34px,#0c274c 0 36px,#0e2e55 0 38px,#1e6675 0 40px,#339068 0 42px,#29816f 0 44px,#0d2b53 0 46px,#0e2e56 0 48px,#0d2950 0 50px,#0c264b 0 52px,#287e70 0 54px,#1d6375 0 56px,#0d2950 0 58px,#0c264b 0 60px,#10335a 0 62px,#0f3158 0 64px,#1b5e72 0 66px,#216d74 0 68px,#237372 0 70px,#1f6975 0 72px,#237372 0 74px,#2c896e 0 76px,#0e2d55 0 78px,#1c5f73 0 80px,#091f41 0 82px,#a3d039 0 84px,#9fcf3a 0 86px,#0b2449 0 88px,#091f41 0 90px,#1a5770 0 92px,#154669 0 94px,#0c264b 0 96px,#277b71 0 98px,#1b5b71 0 100px,#1a5770 0 102px,#0e2e56 0 104px,#0c284f 0 106px,#0c284e 0 108px,#0c264c 0 110px,#0b2449 0 112px,#1e6675 0 114px,#1c6274 0 116px,#1a5a71 0 118px,#0c284e 0 120px,#144265 0 122px,#0f3259 0 124px,#0d2b53 0 126px,#0c274d 0 128px,#0f3158 0 130px,#2b876e 0 132px,#58b04b 0 134px,#b3d736 0 136px,#144164 0 138px,#0d2b53 0 140px,#0d294f 0 142px,#081a3a 0 144px,#123c60 0 146px,#091d3f 0 148px,#123a5f 0 150px,#0c284e 0 152px,#3f9b5e 0 154px,#58b04b 0 156px,#69b847 0 158px,#29816f 0 160px,#0f3259 0 162px,#2a836f 0 164px,#328e69 0 166px,#277d70 0 168px,#389464 0 170px,#0d2951 0 172px)"></i><i style="top:97px;background:linear-gradient(90deg,#0a2144 0 2px,#277c70 0 4px,#7dc042 0 6px,#2c876e 0 8px,#081a3a 0 10px,#154769 0 12px,#0e2e56 0 14px,#52ac4f 0 16px,#257772 0 18px,#0c274c 0 20px,#0c274d 0 22px,#123a5f 0 24px,#0c274e 0 26px,#0a2246 0 28px,#287f70 0 30px,#2c896e 0 32px,#389464 0 34px,#0c284f 0 36px,#44a05a 0 38px,#5bb24a 0 40px,#46a158 0 42px,#0d2a52 0 44px,#164a6b 0 46px,#091f42 0 48px,#123b60 0 50px,#10345a 0 52px,#bedb48 0 54px,#2c896e 0 56px,#216e74 0 58px,#081a3a 0 60px,#0b2348 0 62px,#10355b 0 64px,#429d5c 0 66px,#52ac4f 0 68px,#216e74 0 70px,#419c5d 0 72px,#29816f 0 74px,#247472 0 76px,#10335a 0 78px,#0d2950 0 80px,#429d5c 0 82px,#237273 0 84px,#1b5c72 0 86px,#0a2044 0 88px,#0f3259 0 90px,#123a5f 0 92px,#0d2950 0 94px,#29816f 0 96px,#287e70 0 98px,#1b5d72 0 100px,#318d6a 0 102px,#2c896e 0 104px,#0d2a51 0 108px,#144467 0 110px,#2b866e 0 112px,#61b449 0 114px,#3e9a5f 0 116px,#144164 0 118px,#11375c 0 120px,#133d62 0 122px,#0e2e56 0 124px,#0c274d 0 126px,#123a5f 0 128px,#3c9861 0 130px,#1e6775 0 132px,#227173 0 134px,#1e6675 0 136px,#10345a 0 138px,#10365c 0 140px,#0b2449 0 142px,#19566f 0 144px,#0f3157 0 146px,#0d2a51 0 148px,#0c264b 0 150px,#9acc3c 0 152px,#46a159 0 154px,#449f5a 0 156px,#aad338 0 158px,#0a2145 0 160px,#0a2246 0 162px,#277c71 0 164px,#174e6c 0 166px,#1c6174 0 168px,#0d2a51 0 170px,#091e40 0 172px)"></i><i style="top:98px;background:linear-gradient(90deg,#154467 0 2px,#123b5f 0 4px,#0d2b52 0 6px,#0c284e 0 8px,#0c274d 0 10px,#0b2449 0 12px,#0b254a 0 14px,#0f3158 0 16px,#0e2c54 0 18px,#0f3057 0 20px,#134063 0 22px,#0e2c54 0 24px,#0c284e 0 26px,#0c264c 0 28px,#11365c 0 30px,#0c274d 0 32px,#0c284f 0 34px,#123a5f 0 36px,#0e2e55 0 38px,#154669 0 40px,#1f6875 0 42px,#144467 0 44px,#0c284e 0 46px,#123a5f 0 48px,#0f3158 0 50px,#103359 0 52px,#0a2245 0 54px,#10355b 0 56px,#0f3158 0 58px,#123a5f 0 60px,#0a2043 0 62px,#0c274e 0 64px,#11375c 0 66px,#123a5f 0 68px,#11365c 0 70px,#10365c 0 72px,#0c274d 0 74px,#11375d 0 76px,#123c60 0 78px,#10355b 0 80px,#16486a 0 82px,#0b254a 0 84px,#123b60 0 86px,#0a2043 0 88px,#0c264c 0 90px,#0d2950 0 92px,#103359 0 94px,#0d2b53 0 96px,#0b2347 0 98px,#0d2a51 0 100px,#144164 0 102px,#103359 0 104px,#0b2348 0 106px,#0d2950 0 108px,#0a2246 0 110px,#18526e 0 112px,#123a5f 0 114px,#133e62 0 118px,#091d3e 0 120px,#133e62 0 122px,#0b2347 0 124px,#0d2a52 0 126px,#0e2e55 0 128px,#0b2449 0 130px,#0f2f56 0 132px,#133e62 0 134px,#1a5870 0 136px,#0a2144 0 138px,#1b5c72 0 140px,#11375d 0 142px,#091e40 0 144px,#0e2e55 0 146px,#0a2145 0 148px,#0d2950 0 150px,#0b254a 0 152px,#0e2f56 0 154px,#10355b 0 156px,#16486a 0 158px,#0b254a 0 160px,#0d2b53 0 162px,#133f63 0 164px,#0b2449 0 166px,#0d2a51 0 168px,#0b254a 0 170px,#10335a 0 172px)"></i><i style="top:99px;background:linear-gradient(90deg,#18526e 0 2px,#277c71 0 4px,#287e70 0 6px,#237373 0 8px,#0f3258 0 10px,#60b449 0 12px,#267b71 0 14px,#237373 0 16px,#cfe268 0 18px,#0e2d54 0 20px,#133f63 0 22px,#133e62 0 24px,#123b5f 0 26px,#164b6b 0 28px,#308d6a 0 30px,#1d6575 0 32px,#0c264b 0 34px,#1a5770 0 36px,#0c284e 0 38px,#399663 0 40px,#4ba654 0 42px,#081b3c 0 44px,#133d62 0 46px,#0a2145 0 48px,#0b2347 0 50px,#2e8b6c 0 52px,#76bd44 0 54px,#1e6675 0 56px,#257871 0 58px,#081a3a 0 60px,#134064 0 62px,#1d6274 0 64px,#1b5c72 0 66px,#318e69 0 68px,#54ae4d 0 70px,#216e74 0 72px,#2c886e 0 74px,#123b60 0 76px,#134064 0 78px,#0e2e56 0 80px,#369365 0 82px,#4ea852 0 84px,#257672 0 86px,#0e2d55 0 88px,#0b254b 0 90px,#16486a 0 92px,#16496a 0 94px,#0a2144 0 96px,#216e74 0 98px,#3b9761 0 100px,#2c876e 0 102px,#4ba654 0 104px,#0b254a 0 106px,#11395e 0 108px,#0c264b 0 110px,#10335a 0 112px,#328f69 0 114px,#237273 0 116px,#1b5c72 0 118px,#123b60 0 120px,#0e2d55 0 122px,#0e2c54 0 124px,#11395e 0 126px,#174d6c 0 128px,#287f70 0 130px,#2f8b6c 0 132px,#287e70 0 134px,#18526e 0 136px,#164a6a 0 138px,#0e2d54 0 140px,#11375d 0 142px,#19546e 0 144px,#0f3158 0 146px,#133d61 0 148px,#0b2347 0 150px,#123c60 0 152px,#206c74 0 154px,#247672 0 156px,#11385d 0 158px,#0b2449 0 160px,#0c284f 0 162px,#18516d 0 164px,#308d6a 0 166px,#2c886e 0 168px,#10365c 0 170px,#0c274d 0 172px)"></i><i style="top:100px;background:linear-gradient(90deg,#081a3a 0 2px,#11395e 0 4px,#123d61 0 6px,#081a3a 0 8px,#0a2145 0 10px,#081c3d 0 12px,#10355b 0 14px,#134064 0 16px,#123a5f 0 18px,#081a3a 0 20px,#0d2950 0 22px,#081a3a 0 24px,#091e40 0 26px,#123d61 0 28px,#0a2246 0 30px,#144265 0 32px,#0e2e56 0 34px,#0d2950 0 36px,#081a3a 0 38px,#0f3057 0 40px,#0b254a 0 42px,#0a2144 0 44px,#0b254b 0 46px,#091f42 0 48px,#0c264b 0 50px,#0b254a 0 52px,#174c6b 0 54px,#0e2e56 0 56px,#0d2b53 0 58px,#0d2951 0 60px,#0c264c 0 62px,#0b2347 0 64px,#133e62 0 66px,#0c284e 0 68px,#11375d 0 70px,#123b5f 0 72px,#19556f 0 74px,#0b2448 0 76px,#0c284f 0 78px,#0d2950 0 80px,#081b3c 0 82px,#10355b 0 84px,#0e2e55 0 86px,#0c284f 0 88px,#0c264c 0 90px,#091d3f 0 92px,#0c284e 0 94px,#0e2e55 0 96px,#144165 0 98px,#257871 0 100px,#0d2b53 0 102px,#133e62 0 104px,#081a3a 0 106px,#0b2347 0 108px,#0b254a 0 110px,#134064 0 112px,#081b3c 0 114px,#0f3057 0 116px,#081b3b 0 118px,#091f41 0 120px,#0d2950 0 122px,#0d2a52 0 124px,#091e40 0 126px,#11375c 0 128px,#091d3f 0 130px,#0c264b 0 132px,#10365b 0 134px,#123a5f 0 136px,#091f42 0 138px,#0d2a52 0 140px,#0c274d 0 142px,#0b2448 0 144px,#0f3057 0 146px,#0e2d55 0 148px,#0c274e 0 150px,#48a356 0 152px,#10345a 0 154px,#10335a 0 156px,#103359 0 158px,#0d294f 0 160px,#0c274e 0 162px,#10345a 0 166px,#174e6c 0 168px,#0a2246 0 170px,#0e2e55 0 172px)"></i><i style="top:101px;background:linear-gradient(90deg,#154769 0 2px,#133f63 0 4px,#123a5f 0 6px,#0e2d54 0 8px,#123a5f 0 10px,#0e2e55 0 12px,#0f3158 0 14px,#174c6b 0 16px,#154769 0 18px,#0b2448 0 20px,#0a2144 0 22px,#091e40 0 24px,#11385d 0 26px,#11375c 0 28px,#0e2e56 0 30px,#0e2d55 0 34px,#081a3a 0 36px,#0b2347 0 38px,#11365c 0 40px,#19566f 0 42px,#10345a 0 44px,#091f41 0 46px,#0c264b 0 48px,#0b2449 0 50px,#154568 0 52px,#10335a 0 54px,#164a6b 0 56px,#0d2a52 0 58px,#18526e 0 60px,#0d2b53 0 62px,#19556f 0 64px,#0c284e 0 66px,#133d61 0 68px,#123b60 0 70px,#0e2d55 0 72px,#11375c 0 74px,#0f3057 0 76px,#0f3158 0 78px,#0a2246 0 80px,#0e2d55 0 82px,#308d6b 0 84px,#0c284e 0 86px,#123a5f 0 88px,#091f41 0 90px,#081b3c 0 92px,#0c264b 0 94px,#0c284e 0 96px,#0c264c 0 98px,#144265 0 100px,#0b2448 0 102px,#091e40 0 104px,#0c284f 0 106px,#0c274d 0 108px,#0a2144 0 110px,#0e2d54 0 112px,#0b2348 0 114px,#0b254a 0 116px,#133f63 0 118px,#11375d 0 120px,#0c264b 0 122px,#0c264c 0 124px,#081a3a 0 126px,#0c274c 0 128px,#5db34a 0 130px,#11375c 0 132px,#0d2b52 0 134px,#0c284f 0 136px,#091d3e 0 138px,#0b254a 0 140px,#081a3a 0 142px,#0a2043 0 144px,#091f41 0 146px,#091f42 0 148px,#0d2950 0 150px,#144164 0 152px,#144366 0 154px,#0b2448 0 156px,#123c61 0 158px,#091f41 0 160px,#081a3a 0 162px,#0a2145 0 164px,#174d6c 0 166px,#0d2b53 0 168px,#123b5f 0 170px,#1b5c72 0 172px)"></i><i style="top:102px;background:linear-gradient(90deg,#2b866e 0 2px,#29826f 0 4px,#d3e46f 0 6px,#123b60 0 8px,#154769 0 10px,#16496a 0 12px,#f6f2b2 0 14px,#3d9960 0 16px,#123b5f 0 18px,#0f3057 0 20px,#0e2d55 0 22px,#16486a 0 24px,#0b2449 0 26px,#277d70 0 28px,#216d74 0 30px,#5eb34a 0 32px,#0c264b 0 34px,#0a2042 0 36px,#081a3a 0 38px,#bfdc49 0 40px,#1b5e72 0 42px,#091e40 0 44px,#11375d 0 46px,#10355b 0 48px,#0d2b52 0 50px,#2c896e 0 52px,#2a846f 0 54px,#68b747 0 56px,#216e74 0 58px,#206c74 0 60px,#144366 0 62px,#287e70 0 64px,#2a846f 0 66px,#bfdc49 0 68px,#48a357 0 70px,#cae05f 0 72px,#5bb24a 0 74px,#aed537 0 76px,#0a2044 0 78px,#3b9762 0 80px,#f6f2b2 0 82px,#389564 0 84px,#7bbf43 0 86px,#0f3158 0 88px,#133f63 0 90px,#11375c 0 92px,#18506d 0 94px,#144265 0 96px,#2e8b6c 0 98px,#277d70 0 100px,#267a71 0 102px,#144466 0 104px,#11395e 0 106px,#0c264c 0 108px,#0b2449 0 110px,#c5de55 0 112px,#206c74 0 114px,#a7d239 0 116px,#77be44 0 118px,#0e2d55 0 120px,#081c3d 0 122px,#11375d 0 124px,#123d61 0 126px,#19546e 0 128px,#75bd44 0 130px,#4ca654 0 132px,#55af4c 0 134px,#64b648 0 136px,#10345a 0 138px,#0e2c54 0 140px,#10355b 0 142px,#0a2245 0 144px,#123c60 0 146px,#133f63 0 148px,#10355b 0 150px,#16496a 0 152px,#47a257 0 154px,#2d8a6d 0 156px,#1f6a75 0 158px,#11375c 0 160px,#144467 0 162px,#0e2e55 0 164px,#3f9b5e 0 166px,#2d8a6d 0 168px,#51ab4f 0 170px,#10345a 0 172px)"></i><i style="top:103px;background:linear-gradient(90deg,#10355b 0 2px,#6bb946 0 4px,#e2ea8d 0 6px,#6cb946 0 8px,#11385e 0 10px,#11395e 0 12px,#56b04b 0 14px,#429e5b 0 16px,#267971 0 18px,#11385e 0 20px,#10365c 0 22px,#10335a 0 24px,#144165 0 26px,#134064 0 28px,#308c6b 0 30px,#2a826f 0 32px,#359166 0 34px,#133e62 0 36px,#1a5a71 0 38px,#0d2a51 0 40px,#227073 0 42px,#123b5f 0 44px,#123c60 0 46px,#091e40 0 48px,#123a5f 0 50px,#46a159 0 52px,#2b866e 0 54px,#90c83e 0 56px,#2a826f 0 58px,#0b2449 0 60px,#081b3c 0 62px,#4aa555 0 64px,#206b74 0 66px,#93c93d 0 68px,#2b876e 0 70px,#a6d139 0 72px,#318d6a 0 74px,#091e40 0 76px,#0f3258 0 78px,#0d2b53 0 80px,#19566f 0 82px,#328e69 0 84px,#123d61 0 86px,#10365c 0 88px,#0d2a51 0 90px,#154668 0 92px,#123b60 0 94px,#0f3057 0 96px,#bada3f 0 98px,#3f9b5e 0 100px,#4fa951 0 102px,#123c60 0 104px,#0b2448 0 106px,#0e2d55 0 108px,#0e2c54 0 110px,#1d6375 0 112px,#216d74 0 114px,#1e6775 0 116px,#247472 0 118px,#0e2c54 0 120px,#174e6c 0 122px,#081a3a 0 124px,#144165 0 126px,#10345a 0 128px,#091f42 0 130px,#50aa50 0 132px,#287f70 0 134px,#3f9b5e 0 136px,#174d6c 0 138px,#0b2347 0 140px,#10335a 0 142px,#0e2c54 0 144px,#0d294f 0 146px,#0e2d54 0 148px,#0f3259 0 150px,#206c74 0 152px,#46a158 0 154px,#2c886e 0 156px,#0d2950 0 158px,#0f3057 0 160px,#88c540 0 162px,#206b74 0 164px,#227073 0 166px,#287f70 0 168px,#3a9662 0 170px,#081a3a 0 172px)"></i><i style="top:104px;background:linear-gradient(90deg,#11375d 0 2px,#154669 0 4px,#081b3b 0 6px,#144366 0 8px,#081a3a 0 10px,#0b254a 0 12px,#0d2b53 0 14px,#134064 0 16px,#164a6a 0 18px,#0a2144 0 20px,#081b3c 0 22px,#10345a 0 24px,#237273 0 26px,#174c6b 0 28px,#0f3057 0 30px,#277d70 0 32px,#0f3057 0 36px,#0e2c54 0 38px,#144164 0 40px,#2c886e 0 42px,#133e62 0 44px,#0c264b 0 46px,#0c284f 0 48px,#0b2348 0 50px,#0c274e 0 52px,#133d61 0 54px,#154568 0 56px,#0b254a 0 58px,#0e2c54 0 60px,#174d6c 0 62px,#144366 0 64px,#10355b 0 66px,#144164 0 68px,#123b60 0 70px,#144467 0 72px,#0d294f 0 74px,#0b2347 0 76px,#081b3c 0 78px,#091f41 0 80px,#10355b 0 82px,#10345b 0 84px,#154769 0 86px,#10355b 0 88px,#154668 0 90px,#091e40 0 92px,#123a5f 0 94px,#0b2347 0 96px,#0c284f 0 98px,#154567 0 100px,#11385d 0 102px,#144164 0 104px,#123a5f 0 106px,#0f3057 0 108px,#0b2449 0 110px,#0c274e 0 112px,#0c264c 0 114px,#123b60 0 116px,#0f3258 0 118px,#123a5f 0 120px,#091d3f 0 122px,#0b2347 0 124px,#10345a 0 126px,#0e2d54 0 128px,#133f63 0 130px,#18526e 0 132px,#11375d 0 134px,#1a5971 0 136px,#16496a 0 138px,#091f41 0 140px,#11375c 0 142px,#0e2c54 0 144px,#134063 0 146px,#0f3158 0 148px,#11385e 0 150px,#091e3f 0 152px,#10365c 0 154px,#144164 0 156px,#16496a 0 158px,#081a3a 0 160px,#0c284f 0 162px,#1a5971 0 164px,#164a6a 0 166px,#11395e 0 168px,#1c5f73 0 170px,#091f42 0 172px)"></i><i style="top:105px;background:linear-gradient(90deg,#19556f 0 2px,#1c5f73 0 4px,#1d6575 0 6px,#237372 0 8px,#0d2a51 0 10px,#287f70 0 12px,#4da852 0 14px,#206c74 0 16px,#2b856e 0 18px,#11395e 0 20px,#11365c 0 22px,#0e2d55 0 24px,#123b60 0 26px,#1c6073 0 28px,#2b856f 0 30px,#237372 0 32px,#123c61 0 34px,#081b3c 0 36px,#0d2a51 0 38px,#1b5d72 0 40px,#257871 0 42px,#226f73 0 44px,#10355b 0 46px,#10345a 0 48px,#0f2f57 0 50px,#1e6675 0 52px,#277b71 0 54px,#2c886e 0 56px,#206c74 0 58px,#0c264c 0 60px,#0d2a51 0 62px,#11375d 0 64px,#1f6975 0 66px,#206d74 0 68px,#29826f 0 70px,#349067 0 72px,#1d6575 0 74px,#081a3a 0 76px,#0e2d54 0 78px,#0e2d55 0 80px,#1d6475 0 82px,#227173 0 84px,#081a3a 0 86px,#0f3158 0 88px,#091f42 0 90px,#0b2347 0 92px,#0b254a 0 94px,#0b2448 0 96px,#18526e 0 98px,#18506d 0 100px,#2a836f 0 102px,#174e6c 0 104px,#1c5f73 0 106px,#134063 0 108px,#0f3057 0 110px,#439e5b 0 112px,#2a846f 0 114px,#257871 0 116px,#4ba555 0 118px,#0c274c 0 120px,#0b254a 0 122px,#0d294f 0 124px,#6eba46 0 126px,#133f63 0 128px,#2a826f 0 130px,#2c886e 0 132px,#369266 0 134px,#277c70 0 136px,#0d2950 0 138px,#0f3259 0 140px,#144265 0 142px,#0d2b53 0 144px,#123b5f 0 146px,#11395e 0 148px,#0a2145 0 150px,#216d74 0 152px,#257871 0 154px,#247472 0 156px,#1a5a71 0 158px,#0f3158 0 160px,#10345a 0 162px,#0b254a 0 164px,#174c6b 0 166px,#1d6575 0 168px,#1c5f73 0 170px,#081c3e 0 172px)"></i><i style="top:106px;background:linear-gradient(90deg,#10365c 0 2px,#48a357 0 4px,#1f6975 0 6px,#2d8a6d 0 8px,#091f42 0 10px,#0f2f57 0 12px,#19566f 0 14px,#1c6174 0 16px,#1d6575 0 18px,#0b2348 0 20px,#081a3a 0 22px,#11375c 0 24px,#091f41 0 26px,#409b5d 0 28px,#48a356 0 30px,#429e5b 0 32px,#0b254a 0 34px,#0a2144 0 36px,#1a5a71 0 38px,#227073 0 40px,#16486a 0 42px,#164a6b 0 44px,#133f63 0 46px,#0b254a 0 48px,#0a2144 0 50px,#277b71 0 52px,#369365 0 54px,#3a9662 0 56px,#10345b 0 58px,#0c274d 0 60px,#081a3a 0 62px,#237273 0 64px,#3d9960 0 66px,#2c896e 0 68px,#227073 0 70px,#287e70 0 72px,#287f70 0 74px,#123c61 0 76px,#0b2449 0 78px,#164a6b 0 80px,#308d6b 0 82px,#1b5d72 0 84px,#0d2a51 0 86px,#091f42 0 88px,#0f3258 0 90px,#0d2a51 0 92px,#11395e 0 94px,#10335a 0 96px,#3f9b5e 0 98px,#206b74 0 100px,#68b747 0 102px,#091e40 0 104px,#11395e 0 106px,#0d2950 0 108px,#0b2448 0 110px,#247472 0 112px,#2b856e 0 114px,#399563 0 116px,#349068 0 118px,#0a2145 0 120px,#0f3158 0 122px,#0d2b53 0 124px,#144265 0 126px,#091d3e 0 128px,#18506d 0 130px,#1b5a71 0 132px,#237372 0 134px,#1a5770 0 136px,#b5d837 0 138px,#0f3259 0 140px,#091f41 0 142px,#0c284e 0 144px,#0f3057 0 146px,#0c284e 0 148px,#18526e 0 150px,#0b2348 0 152px,#216e74 0 154px,#65b648 0 156px,#bbda42 0 158px,#123c61 0 160px,#0d2a52 0 162px,#3f9b5e 0 164px,#47a357 0 166px,#2a856f 0 168px,#2c886e 0 170px,#0d2950 0 172px)"></i><i style="top:107px;background:linear-gradient(90deg,#0f3057 0 2px,#1b5b71 0 4px,#19536e 0 6px,#134064 0 8px,#081a3a 0 10px,#0a2245 0 12px,#091d3f 0 14px,#133d61 0 16px,#133f62 0 18px,#081a3a 0 20px,#123a5f 0 22px,#0c274d 0 24px,#081b3b 0 26px,#081c3e 0 28px,#0d2950 0 30px,#174c6b 0 32px,#0e2d55 0 34px,#0b2348 0 36px,#091e3f 0 38px,#0f3259 0 40px,#123c60 0 42px,#144265 0 44px,#0b254b 0 46px,#0c274d 0 48px,#0b2449 0 50px,#11395e 0 52px,#11365c 0 54px,#11375d 0 56px,#0a2144 0 58px,#29826f 0 60px,#0a2246 0 62px,#0e2e56 0 64px,#144366 0 66px,#0c264b 0 68px,#0e2c54 0 70px,#154668 0 72px,#11385d 0 74px,#0e2e56 0 76px,#0a2042 0 78px,#10355b 0 80px,#0b2347 0 82px,#0e2e55 0 84px,#123b60 0 86px,#10335a 0 88px,#11375c 0 90px,#0d2a52 0 92px,#081c3e 0 94px,#0f2f56 0 96px,#0d2b53 0 98px,#144366 0 100px,#18526e 0 102px,#0b254a 0 104px,#0a2144 0 106px,#081a3a 0 108px,#144165 0 110px,#11365c 0 112px,#0f3158 0 114px,#0e2f56 0 116px,#11375c 0 118px,#0b2449 0 120px,#0f3057 0 122px,#0b2347 0 124px,#0c274d 0 126px,#081b3c 0 128px,#0b254b 0 130px,#0f3057 0 132px,#0d2a52 0 134px,#174e6c 0 136px,#0d2b53 0 138px,#10355b 0 140px,#0c284e 0 142px,#081a3a 0 144px,#16496a 0 146px,#267971 0 148px,#0e2f56 0 150px,#0a2042 0 152px,#123c60 0 154px,#154467 0 156px,#10365c 0 158px,#134064 0 160px,#0d2b53 0 162px,#0e2d55 0 164px,#16486a 0 166px,#133e62 0 168px,#0f3057 0 170px,#0d2b52 0 172px)"></i><i style="top:108px;background:linear-gradient(90deg,#53ad4e 0 2px,#277b71 0 4px,#237472 0 6px,#369365 0 8px,#081a3a 0 10px,#11365c 0 12px,#61b449 0 14px,#318e69 0 16px,#0f2f56 0 18px,#0e2e55 0 20px,#11365c 0 22px,#0f3158 0 24px,#0d2b53 0 26px,#b8d93b 0 28px,#73bc45 0 30px,#2b856e 0 32px,#0b254a 0 34px,#0e2c54 0 38px,#8bc63f 0 40px,#1b5a71 0 42px,#247572 0 44px,#0f3259 0 46px,#0c264c 0 48px,#123a5f 0 50px,#429d5c 0 52px,#328e69 0 54px,#439e5b 0 56px,#65b648 0 58px,#449f5a 0 60px,#103359 0 62px,#081b3c 0 64px,#237273 0 66px,#267a71 0 68px,#3f9b5e 0 70px,#267b71 0 72px,#0c264b 0 74px,#0f3158 0 76px,#0d2a51 0 78px,#123a5f 0 80px,#50aa50 0 82px,#48a356 0 84px,#0a2246 0 86px,#154769 0 88px,#11395e 0 90px,#123b60 0 92px,#10335a 0 94px,#247472 0 96px,#1d6475 0 98px,#267971 0 100px,#206b74 0 102px,#359166 0 104px,#0e2e55 0 106px,#081a3a 0 108px,#0c284e 0 110px,#0d294f 0 112px,#62b549 0 114px,#4da753 0 116px,#c2dd50 0 118px,#0d294f 0 120px,#0c264c 0 122px,#0d294f 0 124px,#10365b 0 126px,#0d2a51 0 128px,#0b254a 0 130px,#1b5b71 0 132px,#277d70 0 134px,#267a71 0 136px,#11385d 0 138px,#11385e 0 140px,#0d2a51 0 142px,#0d2950 0 144px,#0c264c 0 146px,#0d2b53 0 148px,#0d2950 0 150px,#29816f 0 152px,#64b548 0 154px,#54ae4d 0 156px,#247672 0 158px,#091f41 0 160px,#287e70 0 162px,#4ba654 0 164px,#97cb3c 0 166px,#7abf43 0 168px,#10355b 0 170px,#133f63 0 172px)"></i><i style="top:109px;background:linear-gradient(90deg,#267a71 0 2px,#3f9b5e 0 4px,#206b74 0 6px,#0a2144 0 8px,#0b254b 0 10px,#123d61 0 12px,#1e6675 0 14px,#267971 0 16px,#2a836f 0 18px,#0d2b52 0 20px,#11375c 0 22px,#0f3259 0 24px,#0c284e 0 26px,#10345a 0 28px,#1b5a71 0 30px,#1a5770 0 32px,#216d74 0 34px,#0b2347 0 36px,#0f3258 0 38px,#277b71 0 40px,#257772 0 42px,#2e8b6c 0 44px,#154568 0 46px,#134063 0 48px,#123c60 0 50px,#19546e 0 52px,#206d74 0 54px,#2b866e 0 56px,#226f73 0 58px,#133e62 0 60px,#0d2a51 0 62px,#0d2a52 0 64px,#267971 0 66px,#328e69 0 68px,#257772 0 70px,#277c70 0 72px,#19556f 0 74px,#11365c 0 76px,#123a5f 0 78px,#0f3158 0 80px,#10355b 0 82px,#2a836f 0 84px,#133d61 0 86px,#154669 0 88px,#11385e 0 90px,#0d2950 0 92px,#0a2246 0 94px,#0d2a51 0 96px,#1e6775 0 98px,#1f6a75 0 100px,#267a71 0 102px,#0c264c 0 104px,#0d2a52 0 106px,#0d2a51 0 108px,#144366 0 110px,#53ae4d 0 112px,#1b5d72 0 114px,#70ba45 0 116px,#3e995f 0 118px,#123b5f 0 120px,#46a159 0 122px,#0d2950 0 124px,#0c274d 0 126px,#11375c 0 128px,#4ba555 0 130px,#a1cf3a 0 132px,#29816f 0 134px,#287f70 0 136px,#267971 0 138px,#11395e 0 140px,#0b2348 0 142px,#0d2a51 0 144px,#144165 0 146px,#0f3158 0 148px,#0d2a51 0 150px,#1e6775 0 152px,#409c5d 0 154px,#1c5e73 0 156px,#359166 0 158px,#10345a 0 160px,#1a5970 0 162px,#1d6575 0 164px,#44a05a 0 166px,#1c6073 0 168px,#0c274d 0 170px,#11375c 0 172px)"></i><i style="top:110px;background:linear-gradient(90deg,#091d3f 0 2px,#0f3057 0 4px,#174d6c 0 6px,#0f3057 0 8px,#0f3158 0 10px,#081a3a 0 12px,#123a5f 0 14px,#11395e 0 16px,#0f2f57 0 18px,#267971 0 20px,#10345a 0 22px,#0f3057 0 24px,#0c274c 0 26px,#091f41 0 28px,#18526e 0 30px,#11395e 0 32px,#184f6d 0 34px,#2b866e 0 36px,#081a3a 0 38px,#123b60 0 40px,#144265 0 42px,#1d6375 0 44px,#081a3a 0 46px,#0b254a 0 48px,#0a2043 0 50px,#11385d 0 52px,#123a5f 0 54px,#0b2449 0 56px,#0c284f 0 58px,#0b254a 0 60px,#123c61 0 62px,#081a3a 0 64px,#091f42 0 66px,#0d294f 0 68px,#10365b 0 70px,#081b3c 0 72px,#123c61 0 74px,#081a3a 0 78px,#0b254a 0 80px,#134064 0 82px,#123a5f 0 84px,#081c3d 0 86px,#081a3a 0 92px,#081c3d 0 94px,#0b254b 0 96px,#0b2347 0 98px,#11395e 0 100px,#0d2a51 0 102px,#11365c 0 104px,#0e2c54 0 106px,#081a3a 0 110px,#0f3057 0 112px,#11375c 0 114px,#144466 0 116px,#0d2b53 0 118px,#0b254b 0 120px,#0b2348 0 122px,#11395e 0 124px,#081a3a 0 126px,#0e2c54 0 128px,#0f3057 0 130px,#0e2d55 0 132px,#11385d 0 134px,#0a2246 0 136px,#081b3c 0 138px,#091e40 0 140px,#081c3e 0 142px,#0d2b53 0 144px,#0c264b 0 146px,#091d3f 0 148px,#0c274e 0 150px,#144265 0 152px,#0f3259 0 154px,#0b254a 0 156px,#144366 0 158px,#081c3c 0 160px,#081a3a 0 162px,#144164 0 164px,#18516d 0 166px,#0b2549 0 168px,#10365c 0 170px,#0a2245 0 172px)"></i></div></body></html>
